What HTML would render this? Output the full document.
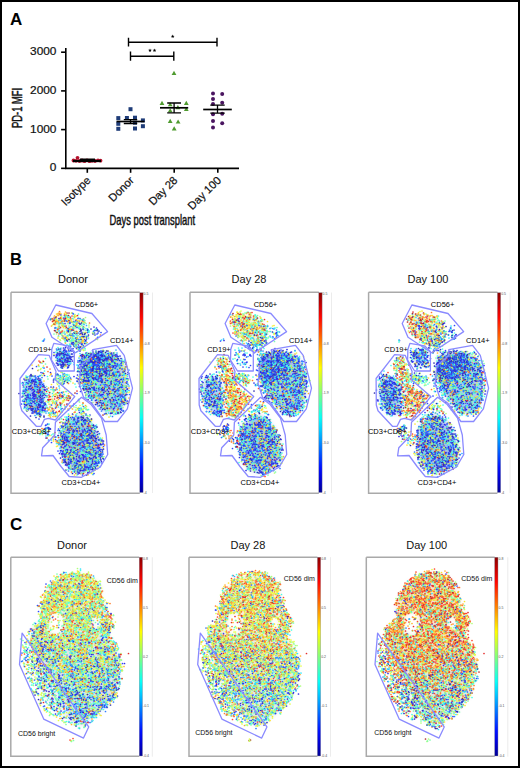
<!DOCTYPE html><html><head><meta charset="utf-8"><style>html,body{margin:0;padding:0;background:#fff;}svg{display:block}text{font-family:"Liberation Sans",sans-serif}</style></head><body><svg width="520" height="768" viewBox="0 0 520 768"><defs><linearGradient id="jet" x1="0" y1="1" x2="0" y2="0"><stop offset="0.000" stop-color="#000093"/><stop offset="0.062" stop-color="#0000d1"/><stop offset="0.125" stop-color="#0010ff"/><stop offset="0.188" stop-color="#004eff"/><stop offset="0.250" stop-color="#008cff"/><stop offset="0.312" stop-color="#00caff"/><stop offset="0.375" stop-color="#08fff6"/><stop offset="0.438" stop-color="#46ffb8"/><stop offset="0.500" stop-color="#84ff7a"/><stop offset="0.562" stop-color="#c2ff3c"/><stop offset="0.625" stop-color="#fffd00"/><stop offset="0.688" stop-color="#ffbf00"/><stop offset="0.750" stop-color="#ff8200"/><stop offset="0.812" stop-color="#ff4400"/><stop offset="0.875" stop-color="#ff0600"/><stop offset="0.938" stop-color="#c70000"/><stop offset="1.000" stop-color="#890000"/></linearGradient><filter id="fb" x="-5%" y="-5%" width="110%" height="110%"><feGaussianBlur stdDeviation="0.5"/></filter><filter id="fu" x="-20%" y="-20%" width="140%" height="140%"><feGaussianBlur stdDeviation="2.2"/></filter></defs><rect width="520" height="768" fill="#fff"/><text x="10" y="24.5" font-size="17" font-weight="bold">A</text><g stroke="#000" stroke-width="1.6" fill="none"><path d="M65.8 48V168.35H239"/><path d="M61.1 52.20H65.8"/><path d="M61.1 90.90H65.8"/><path d="M61.1 129.60H65.8"/><path d="M61.1 168.35H65.8"/><path d="M87.3 168.35V172.8"/><path d="M130.6 168.35V172.8"/><path d="M174.2 168.35V172.8"/><path d="M217.8 168.35V172.8"/></g><text x="0" y="0" font-size="10.5" text-anchor="end" fill="#111" stroke="#111" stroke-width="0.2" transform="translate(56.4 55.10) scale(1.13 1)">3000</text><text x="0" y="0" font-size="10.5" text-anchor="end" fill="#111" stroke="#111" stroke-width="0.2" transform="translate(56.4 93.80) scale(1.13 1)">2000</text><text x="0" y="0" font-size="10.5" text-anchor="end" fill="#111" stroke="#111" stroke-width="0.2" transform="translate(56.4 132.50) scale(1.13 1)">1000</text><text x="0" y="0" font-size="10.5" text-anchor="end" fill="#111" stroke="#111" stroke-width="0.2" transform="translate(56.4 171.25) scale(1.13 1)">0</text><text font-size="11.2" text-anchor="end" fill="#111" stroke="#111" stroke-width="0.2" transform="translate(91.3 181.0) rotate(-45)">Isotype</text><text font-size="11.2" text-anchor="end" fill="#111" stroke="#111" stroke-width="0.2" transform="translate(134.6 181.0) rotate(-45)">Donor</text><text font-size="11.2" text-anchor="end" fill="#111" stroke="#111" stroke-width="0.2" transform="translate(178.2 181.0) rotate(-45)">Day 28</text><text font-size="11.2" text-anchor="end" fill="#111" stroke="#111" stroke-width="0.2" transform="translate(221.8 181.0) rotate(-45)">Day 100</text><text font-size="14" fill="#111" stroke="#111" stroke-width="0.45" transform="translate(109.6 225) scale(0.67 1)">Days post transplant</text><text font-size="14" fill="#111" stroke="#111" stroke-width="0.45" transform="translate(22 128) rotate(-90) scale(0.67 1)">PD-1 MFI</text><g stroke="#000" stroke-width="1.4" fill="none"><path d="M128.5 37.7V46.6M128.5 42.2H217M217 37.7V46.6"/><path d="M130.5 51.4V60.7M130.5 56.2H173.8M173.8 51.4V60.7"/></g><polygon fill="#000" points="172.70,34.60 173.20,35.81 174.51,35.91 173.51,36.76 173.82,38.04 172.70,37.35 171.58,38.04 171.89,36.76 170.89,35.91 172.20,35.81"/><polygon fill="#000" points="150.00,48.50 150.50,49.71 151.81,49.81 150.81,50.66 151.12,51.94 150.00,51.25 148.88,51.94 149.19,50.66 148.19,49.81 149.50,49.71"/><polygon fill="#000" points="154.50,48.50 155.00,49.71 156.31,49.81 155.31,50.66 155.62,51.94 154.50,51.25 153.38,51.94 153.69,50.66 152.69,49.81 154.00,49.71"/><g fill="#b5122d"><circle cx="73.5" cy="160.5" r="1.9"/><circle cx="76.0" cy="160.8" r="1.9"/><circle cx="77.5" cy="157.8" r="1.9"/><circle cx="79.5" cy="161.0" r="1.9"/><circle cx="82.0" cy="160.5" r="1.9"/><circle cx="84.5" cy="161.2" r="1.9"/><circle cx="87.0" cy="160.3" r="1.9"/><circle cx="89.5" cy="161.2" r="1.9"/><circle cx="92.0" cy="160.8" r="1.9"/><circle cx="95.0" cy="161.0" r="1.9"/><circle cx="98.0" cy="160.3" r="1.9"/><circle cx="100.5" cy="160.7" r="1.9"/></g><path d="M73 161H101" stroke="#000" stroke-width="2.2"/><path d="M80 160H95" stroke="#000" stroke-width="3"/><g fill="#1f3c78"><rect x="128.5" y="107.2" width="4" height="4"/><rect x="116.3" y="116.1" width="4" height="4"/><rect x="116.3" y="121.8" width="4" height="4"/><rect x="116.3" y="126.8" width="4" height="4"/><rect x="124.9" y="116.0" width="4" height="4"/><rect x="133.0" y="115.7" width="4" height="4"/><rect x="133.0" y="120.7" width="4" height="4"/><rect x="133.0" y="126.5" width="4" height="4"/><rect x="140.9" y="118.4" width="4" height="4"/><rect x="140.9" y="124.2" width="4" height="4"/></g><g stroke="#000" fill="none"><path stroke-width="1.7" d="M116.5 121.5H144.5"/><path stroke-width="1.3" d="M130.5 119.6V123.5M123.8 119.6H137.2M123.8 123.5H137.2"/></g><g fill="#4f9b2f"><path d="M174.0 70.8l2.4 4.1h-4.8z"/><path d="M162.0 100.8l2.4 4.1h-4.8z"/><path d="M170.2 102.2l2.4 4.1h-4.8z"/><path d="M186.3 100.8l2.4 4.1h-4.8z"/><path d="M177.9 105.1l2.4 4.1h-4.8z"/><path d="M170.2 108.2l2.4 4.1h-4.8z"/><path d="M186.3 107.0l2.4 4.1h-4.8z"/><path d="M170.2 118.8l2.4 4.1h-4.8z"/><path d="M178.1 119.5l2.4 4.1h-4.8z"/><path d="M174.2 126.3l2.4 4.1h-4.8z"/></g><g stroke="#000" fill="none"><path stroke-width="1.7" d="M160.0 107.8H188.2"/><path stroke-width="1.3" d="M174.1 103.0V112.9M167.2 103.0H181.0M167.2 112.9H181.0"/></g><g fill="#4a1560"><circle cx="213.0" cy="93.5" r="2"/><circle cx="213.0" cy="98.9" r="2"/><circle cx="213.0" cy="104.0" r="2"/><circle cx="213.0" cy="114.3" r="2"/><circle cx="213.0" cy="120.9" r="2"/><circle cx="213.0" cy="127.5" r="2"/><circle cx="222.2" cy="94.1" r="2"/><circle cx="222.2" cy="102.8" r="2"/><circle cx="222.2" cy="113.8" r="2"/><circle cx="222.2" cy="123.2" r="2"/></g><g stroke="#000" fill="none"><path stroke-width="1.7" d="M203.2 109.5H231.8"/><path stroke-width="1.3" d="M217.5 105.2V113.2M210.3 105.2H224.7M210.3 113.2H224.7"/></g><text x="10" y="264.6" font-size="16.5" font-weight="bold">B</text><text x="58.0" y="283" font-size="11" fill="#111">Donor</text><path d="M152.5 292.5V493.0" stroke="#ececec" stroke-width="1"/><path d="M11.0 292.2H139.8M11.0 292.2V493.2H139.8" stroke="#a9a9a9" stroke-width="1.5" fill="none"/><g filter="url(#fu)"><polygon fill="#d8e0b0" fill-opacity="0.30" points="54.3,317.7 62.9,315.0 72.4,316.4 80.1,319.3 85.1,324.6 87.1,332.6 84.0,340.8 77.4,344.8 69.3,341.5 61.9,336.7 56.9,330.8 53.8,322.8"/><polygon fill="#3050d0" fill-opacity="0.50" points="56.8,350.3 66.4,351.2 69.4,354.3 70.3,364.5 61.2,364.7 57.9,358.6"/><polygon fill="#5080e0" fill-opacity="0.45" points="82.6,356.5 97.1,353.8 115.6,355.2 124.1,364.3 126.0,380.0 125.8,397.2 121.0,410.0 113.0,413.6 104.2,411.5 89.2,395.0 83.0,383.3 81.5,368.5"/><polygon fill="#2040d0" fill-opacity="0.45" points="84.0,357.1 95.8,354.0 108.1,354.2 111.1,362.5 105.4,371.7 98.0,377.6 88.5,381.8 82.4,374.4 81.9,364.2"/><polygon fill="#4070e0" fill-opacity="0.45" points="25.2,380.9 31.7,377.4 39.8,379.3 43.3,386.5 43.4,399.8 44.0,412.0 38.3,414.6 31.8,410.6 25.8,404.7 24.3,392.7"/><polygon fill="#f0e0c0" fill-opacity="0.20" points="48.8,387.1 57.2,389.4 69.1,396.4 64.3,403.9 56.6,414.5 49.4,414.8 48.9,400.8 47.8,392.3"/><polygon fill="#4070e0" fill-opacity="0.50" points="70.5,419.2 79.2,415.5 87.9,419.4 94.5,428.6 99.1,440.5 101.2,452.2 99.1,462.7 91.4,469.8 81.0,472.5 72.3,469.7 65.6,462.5 62.7,452.1 61.9,440.5 63.8,428.3"/></g><g filter="url(#fb)"><g transform="scale(0.5)" fill="none" stroke-linecap="round" stroke-width="3.40"><path stroke="#2db0ff" d="M117 655zm58 6zm-58 11zm40-6zm-7 15zm7 18zm23 9zm23 2zm2 1zm-81 10zm70 0zm18 3zm6 9zm4-11zm-99 14zm54 5zm-56 13zm79 2zm2-3zm-24 11zm58-1zm-130 15zm75 2zm-131 2zm9 5zm135 5zm-130 8zm2 3zm151-2zm36 3zm-158 11zm19-5zm94 6zm-134 13zm93 47zm-49 4zm37 1zm15-2zm10-1zm22 12zm-19 16zm4 29zm1-5zm-22 11zm20 8z"/><path stroke="#b0ff7c" d="M107 639zm4 1zm2-2zm1 2zm13 2zm37 3zm-15 6zm1 1zm27 9zm-54 1zm16 2zm-18 17zm36 2zm9-9zm29 5zm-58 13zm2 0zm-15 16zm82-8zm-20 16zm33-4zm-94 14zm44 15zm28-3zm27 10zm-100 13zm2 1zm11-2zm62-1zm11 21zm31-5zm-191 16zm57 0zm20-1zm45-4zm58 3zm8-1zm-108 7zm8 4zm113-4zm-163 14zm98-4zm14 7zm24-5zm-10 13zm4 1zm-68 15zm29-3zm35-4zm-90 15zm15-2zm35 7zm-42 6zm11 4zm3 2zm24-2zm1-6zm3 9zm-37 4zm41 0zm9 22zm-61 10zm48-4zm-26 18zm9-4zm11 4zm6-3zm4 2zm6-6zm-34 10zm38 21zm-31 5z"/><path stroke="#2db0ff" d="M139 647zm6 11zm23-9zm7 11zm-39 4zm9 5zm4-4zm-11 27zm20 1zm3 1zm-37 27zm5-10zm104 9zm-77 1zm23 8zm-6 15zm1-9zm7 10zm20-6zm14-2zm0 0zm24-1zm-38 20zm-31 8zm74-6zm-69 19zm5-6zm78 10zm-62 25zm44 5zm-66 8zm-30 14zm-22 19zm7-7zm40 0zm6-1zm3 8zm-31 9zm22 12zm14 3zm-56 10zm4 8zm11 14zm40 1zm-19 37zm23-8z"/><path stroke="#2db0ff" d="M142 653zm16 2zm-6 8zm2 7zm-24 8zm20 16zm-10 8zm66 7zm26-9zm-92 17zm91 1zm-56 9zm32-5zm5 1zm17 5zm-58 12zm20 0zm12-5zm31 8zm11-6zm-165 25zm38 0zm76-1zm-80 18zm113 1zm31-8zm-60 20zm19-6zm-119 14zm124 8zm-135 13zm35-2zm110 9zm-98 11zm14 24zm-5 5zm27 2zm-73 10zm47 12zm5 10zm38 11zm2 26z"/><path stroke="#ff482d" d="M110 649zm15 13zm39 47zm29 11zm4 16zm40 7zm-23 6zm-31 21zm15 6zm-80 10zm80 7zm-58 19zm-50 7zm69 94z"/><path stroke="#7cffb0" d="M123 638zm30 8zm7 13zm11 2zm-42 4zm0-2zm26 16zm7 0zm-39 30zm61-3zm-70 12zm108-6zm1 2zm-21 10zm0 7zm1-8zm16 5zm25 3zm-54 4zm19 1zm1 6zm-98 6zm18 3zm43-1zm-101 16zm49-5zm42-1zm56 2zm-131 11zm0 1zm7 7zm75-5zm25 0zm31-3zm-168 16zm29-1zm100 1zm3 3zm-134 7zm13 3zm18 2zm8-3zm63-3zm1 6zm14-8zm1-1zm22 4zm20-3zm4 2zm-117 17zm101-8zm-144 10zm15 8zm94 2zm43-10zm-47 26zm-41 19zm22 4zm13 0zm20 20zm-40 25zm39-6zm9 7zm3-7zm12 1zm-63 12zm22 16zm-20 5z"/><path stroke="#e42d2d" d="M119 628zm2-1zm46 11zm-52 21zm63 104zm-118 33zm147 0zm-138 29zm41 49zm4 8zm67 23zm-43 9zm8 2zm28 1z"/><path stroke="#ff7c2d" d="M119 638zm23 33zm59-1zm-37 17zm6 36zm43 6zm-36 37zm-64 10zm112 3zm-124 14zm96-1zm54 8zm-153 19zm2 10zm1 5zm76 24zm32 32z"/><path stroke="#2de4ff" d="M167 647zm-4 3zm-29 31zm25 2zm-12 5zm17 0zm-46 12zm3 2zm52 7zm43-2zm5-1zm-92 6zm47 0zm61 1zm-83 17zm2 0zm53-5zm32-3zm3 8zm-121 5zm52 0zm17 7zm24-2zm-82 10zm42 3zm1 1zm5-2zm20-2zm0 1zm21-4zm4 3zm-165 14zm10-6zm44-1zm99 3zm-163 21zm53 6zm28 5zm48-11zm2 8zm21-4zm3 0zm2 6zm-156 9zm21-5zm48 2zm12 0zm104 2zm2-4zm-186 14zm26 6zm6-4zm9 5zm48-4zm85 0zm-154 14zm24 0zm8-2zm2 3zm57-6zm52 5zm16-2zm-82 16zm-53 8zm33-4zm4 6zm2-5zm42-1zm-89 19zm74-5zm14-3zm2 1zm-62 10zm42 8zm1 1zm-46 12zm63 14zm1-7zm8 16zm18-7zm-54 26zm21 11z"/><path stroke="#7cffb0" d="M157 635zm-19 17zm19 19zm-20 6zm14 0zm15 13zm0 1zm-29 15zm56-1zm-22 10zm9-1zm31 1zm2-2zm-101 8zm17 9zm35-2zm19-6zm0 7zm3 0zm7-5zm25 2zm23 0zm-57 12zm5 0zm2-3zm40 2zm4 0zm-104 19zm56-8zm11-1zm50 2zm-187 11zm12 4zm0-4zm102 1zm36 6zm1-6zm-157 19zm29 1zm9-8zm13 7zm77-10zm19 9zm28-1zm-139 12zm45 2zm62-2zm35-8zm10 2zm-185 17zm17-5zm10-2zm95 2zm29 6zm2-9zm-91 16zm2 0zm49 6zm-119 5zm21 1zm89 6zm4-7zm60 5zm21-2zm-124 14zm26-2zm15-4zm-66 18zm65-1zm19-4zm-47 10zm17 0zm18 12zm-45 19zm13 4zm16-6zm1 5zm11-8zm35 4zm-48 9zm12 3zm14 1zm-17 16zm6-7zm6 0zm15 6zm-6 8zm8-1zm8 0zm-61 10zm15 15z"/><path stroke="#ffe42d" d="M121 627zm28 8zm-37 3zm6 8zm3-2zm-5 16zm24 0zm1 21zm14-5zm-15 41zm27 1zm63 9zm-105 18zm47 3zm2 4zm4-6zm67 0zm5 9zm-185 11zm81 0zm70-3zm-32 10zm-80 25zm23 4zm66-7zm10 3zm37 5zm-135 4zm-1 11zm35 13zm26 5zm15 5zm38-7zm-82 32zm-29 16zm68 20zm-35 24zm18 7zm1-7zm6-1zm-15 17z"/><path stroke="#b02d2d" d="M104 637zm33-6zm-28 10zm30 19zm-12 96zm-2 12zm-15 25zm3 9zm-31 3zm102 61z"/><path stroke="#ff7c2d" d="M111 641zm58 0zm-42 9zm-3 14zm10 0zm9 24zm27 41zm36-6zm-106 15zm138-5zm-113 33zm-16 14zm12 9zm88-4zm18 0zm30 19zm-146 4zm122 4zm-122 21zm16 48zm64 8zm7 1zm1 19zm3-4zm-77 15z"/><path stroke="#e4ff48" d="M124 649zm23-4zm20-1zm-48 8zm20 5zm-5 9zm8 2zm43-2zm-51 9zm25 38zm26-4zm52 11zm-21 11zm11-6zm1 3zm-54 14zm20-1zm17-4zm33-2zm-144 16zm71 5zm50-4zm-90 10zm25-2zm57 7zm-26 10zm1-1zm-80 13zm29-2zm54 6zm29-5zm-133 10zm5 5zm15-1zm30-9zm74 1zm-161 13zm48 10zm57 0zm38-12zm-87 23zm50-9zm-16 17zm1 2zm-11 15zm9-8zm-7 20zm24 10zm43 2zm-12 5zm-52 8zm-8 12zm46 1zm-28 13zm31-1zm-15 11z"/><path stroke="#ff7c2d" d="M126 647zm33-5zm-48 21zm11 43zm59 1zm-6 6zm-99 28zm20 2zm96 1zm34-7zm-98 12zm91 8zm19 3zm-71 19zm38 1zm-88 6zm135 2zm-154 7zm2 19zm29-4zm77-3zm20-1zm-51 34zm-87 18zm3 5zm56-2zm-55 5zm29-1zm25 45zm32 6zm15 6z"/><path stroke="#2de4ff" d="M111 644zm0 11zm28 0zm55 4zm-60 2zm14 4zm0 1zm28-4zm2 0zm-35 18zm18-4zm16 1zm-36 16zm26 16zm8-2zm-54 11zm52-8zm14 10zm1-1zm30-7zm7-1zm-141 15zm40-3zm24 6zm34-5zm19 19zm12-7zm-145 17zm71 0zm51 1zm40-1zm-176 14zm28-8zm57 2zm67 8zm2-5zm48-5zm-89 17zm7-3zm18 6zm11-9zm18 3zm5 7zm11-4zm-190 12zm71-1zm115-5zm-175 20zm68-7zm120 0zm-129 19zm91-3zm0 4zm2 2zm26-11zm-152 18zm20 1zm116-8zm-125 32zm60-1zm16-5zm-50 14zm58 2zm7-5zm-94 18zm1-6zm13 2zm47 4zm2-2zm4 5zm3-8zm-39 18zm56-6zm5-1zm-20 32zm15-4zm12 15zm-43 4zm8 13z"/><path stroke="#2d7cff" d="M110 636zm34-10zm-21 20zm52 12zm-25 6zm17 11zm-29 18zm9-8zm-34 13zm88 11zm-73 6zm50-2zm14 6zm9-3zm0-5zm29 6zm-34 13zm53-6zm-114 12zm34 5zm21 1zm5-8zm26 6zm-167 15zm17 0zm90-7zm19 0zm3-1zm5 7zm18-7zm49 2zm-210 16zm11-6zm7 6zm63 4zm41-6zm11-5zm20 5zm49-3zm-190 19zm141-3zm11-6zm18 4zm3 1zm-176 16zm10-10zm139 3zm4 1zm-152 15zm166 1zm4-6zm-147 15zm13 6zm68 1zm64-4zm6 1zm15-7zm-188 11zm24 9zm83-9zm-20 20zm20 0zm13-1zm-28 11zm17 2zm-69 16zm29 8zm6-4zm25-4zm-19 16zm1 4zm63-8zm-78 23zm14-12zm-16 15zm19 6zm51-3zm-40 17zm21-4zm12-3zm-36 13zm7 3zm3-2zm27-4zm1 8zm-49 7z"/><path stroke="#ffe42d" d="M113 628zm9 6zm-12 14zm31-10zm-24 15zm10 0zm45 12zm-27 12zm1 5zm12-1zm34-4zm-4 30zm19-6zm13 3zm-13 13zm5-1zm12 0zm6-6zm-97 22zm30-6zm4 1zm27-4zm28 15zm10 9zm-155 10zm11 5zm137 7zm11-10zm-131 17zm115 9zm24 16zm-87 15zm-58 3zm49 6zm30 15zm-44 6zm3 2zm2 29zm2-8zm-34 10zm13 9zm3-10zm26 20zm56 17zm-55 15zm1 11zm7 1zm18 8z"/><path stroke="#ff482d" d="M149 633zm-31 14zm48-5zm-29 17zm3 10zm40 38zm-102 15zm107 0zm39 18zm-122 8zm70-2zm16 3zm12 5zm-10 12zm-91 27zm10 5zm23 58zm12-1zm11 6zm22 9zm-60 16zm69 18z"/><path stroke="#2d7cff" d="M130 633zm-11 33zm23 5zm21 2zm-22 18zm44 27zm1-4zm32 6zm2-7zm-94 14zm53-2zm5-3zm25 1zm7 0zm11 9zm-43 8zm1 4zm15 0zm27-6zm1 6zm3-7zm1-3zm3 5zm-151 16zm86-1zm23-6zm54 8zm-86 9zm24 15zm39-7zm23 6zm-190 12zm25-3zm147-4zm24-1zm6 6zm-205 16zm170-9zm14 2zm13 1zm-55 13zm-133 9zm184 0zm-99 14zm77-2zm-89 11zm1 0zm-37 13zm27 6zm66-9zm-59 29zm14-2zm7 29zm5-8zm-30 12zm10 7zm32-3zm27 6zm2-5zm-62 7zm10 16z"/><path stroke="#2d48ff" d="M146 627zm-2 17zm-25 12zm48 3zm-22 9zm-19 6zm44 9zm2-1zm-31 11zm25 2zm-7 3zm39 5zm6 1zm-92 10zm2-2zm5-1zm7 2zm37 3zm9 2zm17-3zm11 1zm0 0zm3 3zm21-9zm10 4zm-99 8zm6 1zm24 6zm5-2zm11-2zm6 4zm0 1zm12-2zm2-3zm1 4zm14-2zm3 0zm7 5zm9 0zm11-9zm-119 10zm32 3zm17 9zm24-2zm12 0zm9-8zm1 0zm-154 17zm12-1zm38 6zm52-11zm5-1zm2 2zm10 2zm4-4zm4 6zm2-5zm9 1zm13 5zm6 0zm2 1zm-162 6zm3 2zm40-3zm70 2zm19 0zm14 9zm19-10zm-149 16zm1-3zm95-1zm27 4zm27-6zm1 11zm-174 13zm20-1zm2-10zm9 5zm155-2zm3 1zm-203 8zm4 9zm17-6zm9 0zm6-3zm129 4zm34 0zm-20 9zm4 3zm-137 12zm34-5zm48 11zm51-2zm-86 15zm27-8zm9 4zm0-1zm-78 12zm29 5zm8-5zm9 4zm15-7zm-58 11zm19 2zm40-3zm18 7zm12-8zm-59 12zm10 7zm8-5zm7 5zm22-8zm-25 20zm12 1zm1-4zm4 4zm18 0zm-40 11zm14-8zm2 2zm31-1zm-59 15zm11 4zm7-6zm40-1zm-50 20zm30-9zm19 9zm-59 8zm11-4zm7 18zm0 0zm12-3zm25 1zm-21 8z"/><path stroke="#2d7cff" d="M131 634zm3-3zm-25 8zm9 2zm12 0zm17 8zm-7 41zm45 11zm17 3zm3 4zm1 1zm1-1zm-79 6zm13-1zm39 0zm28-2zm5 10zm7-4zm9-2zm-93 13zm44-2zm9-2zm9 4zm16 2zm32-5zm-76 11zm7 4zm29 0zm-17 8zm1 8zm30-1zm5-6zm-149 16zm55-6zm24-2zm21 5zm0 1zm40-2zm-152 13zm140 5zm39-6zm-158 16zm152-7zm17 7zm-201 14zm15 13zm126-7zm-125 11zm8 5zm34 0zm46-8zm74 10zm-103 36zm27 1zm4-4zm1-4zm4 3zm-71 7zm24 5zm28-5zm3-1zm13 11zm18 1zm10-6zm2 2zm-62 14zm17 1zm-25 6zm35-3zm6 7zm13-7zm-40 12zm-9 21zm15-6zm26 0zm34-4zm-52 21zm25-2zm18-3z"/><path stroke="#b0ff7c" d="M131 632zm4 1zm36 2zm-47 16zm-9 13zm9 12zm53-1zm-15 25zm17 12zm17 11zm27 6zm-59 12zm0-6zm1 7zm39-8zm14 1zm-152 16zm155 4zm1-9zm-166 12zm21 10zm48-1zm4-5zm99 0zm4 5zm6 2zm-160 5zm124 1zm22-1zm20-4zm-164 22zm51-9zm91-1zm-89 16zm25 4zm55 1zm8-4zm13 2zm-175 13zm51-8zm117 4zm3-4zm-126 21zm119-3zm6-1zm2 2zm-134 6zm17 2zm41 12zm18-1zm-47 10zm7 2zm19 0zm3 2zm-29 19zm-8 11zm26 11zm14-8zm22 6zm-47 13zm10-9zm0 7zm56-3zm-22 16zm31-8zm-45 19zm9 5z"/><path stroke="#ffb02d" d="M129 635zm8 9zm16-4zm11 2zm-18 13zm-7 7zm-5 17zm1-1zm3 1zm7-3zm7 8zm10 9zm20 24zm-9 11zm-51 16zm69-5zm-30 28zm27-2zm19-7zm-152 23zm136-12zm40 10zm9-10zm-129 19zm25 3zm83-1zm10-6zm-5 16zm-122 22zm6-2zm27 26zm-12 45zm36 38zm-10 9zm12-1z"/><path stroke="#e42d2d" d="M121 655zm16 2zm-2 67zm89 29zm-136 26zm66 3zm37 2zm-54 17zm-61 14zm51 24zm10 3zm40 10zm-49 60zm24 35z"/><path stroke="#ffb02d" d="M112 642zm8-4zm2-1zm14 21zm3 2zm12 8zm37 1zm-54 7zm19 1zm21 8zm6 60zm27 3zm-2 28zm-85 12zm101-5zm12 10zm-127 12zm83-11zm-76 19zm11-7zm101 14zm10-2zm-102 42zm-37 11zm29 9zm48 7zm-23 20zm50 2zm-31 15zm0 16z"/><path stroke="#e42d2d" d="M148 650zm34 72zm-25 36zm16 6zm59-4zm-167 15zm135 0zm-107 8zm5 7zm28 3zm3 7zm64 5zm-83 60zm47 24zm-33 6zm12 34zm23-3zm16 22z"/><path stroke="#ff7c2d" d="M119 629zm17 6zm-14 4zm13 4zm17-3zm1 6zm16-1zm-51 23zm52-2zm-20 22zm6 0zm15-1zm17 52zm31 3zm2-7zm-33 29zm41 5zm-102 15zm58 8zm-44 2zm69 17zm-111 16zm10 1zm40 10zm-65 19zm8 0zm82 61z"/><path stroke="#48ffe4" d="M134 640zm17 4zm-30 23zm15 5zm31 1zm3-6zm-8 16zm-40 13zm17-8zm-20 12zm10 0zm0 1zm19 2zm11-4zm49 3zm-92 13zm8-3zm1 2zm0 4zm12-7zm24 9zm6-10zm12 3zm1 7zm15 0zm1-1zm4-7zm5-2zm2 6zm-69 12zm31 5zm44-10zm36-2zm-78 22zm33-3zm16 0zm11 4zm19-6zm-198 14zm4 1zm7 3zm8 0zm45-7zm10 3zm49-1zm38 0zm2 4zm21-8zm14 3zm-174 14zm41 0zm7-6zm8 4zm2-5zm8 1zm25 3zm9 3zm9 0zm3-1zm0-3zm15 2zm21 5zm12-2zm-160 12zm101-2zm0 4zm51 1zm11-9zm-157 19zm25-8zm26 1zm38-2zm20 6zm58 2zm-194 15zm1 1zm8-6zm14-4zm105-1zm28 8zm0 1zm23-6zm1 5zm4 2zm10-10zm1 7zm-179 10zm10 1zm12-1zm116 3zm39-5zm-179 11zm130-2zm29 11zm11-2zm-109 7zm10 6zm35-9zm6 9zm-41 12zm4-7zm16 4zm6-7zm19 8zm-93 9zm39-6zm52 8zm-80 9zm33 1zm14-1zm10 6zm3-3zm5-6zm-10 21zm13-9zm7-1zm18 19zm-59 12zm7-6zm19 4zm1-4zm13-2zm24 2zm-40 21zm35-10zm-71 12zm35 3zm19 5zm4 0zm-36 6z"/><path stroke="#2de4ff" d="M113 656zm45 1zm14 16zm-87 9zm45-5zm20 7zm46-10zm-72 30zm67 5zm11-2zm11 2zm5-3zm3 2zm-96 11zm4-9zm2 5zm5-4zm42 9zm7-1zm0-9zm23 6zm36 2zm-71 4zm27 7zm2-2zm6 2zm15 0zm6-7zm2 1zm-64 13zm44 7zm-157 11zm23-1zm2-1zm132 1zm24-5zm-178 20zm4-9zm0 5zm77-4zm24 12zm27 6zm-141 12zm26 3zm14-10zm102 9zm-141 10zm20 3zm102-11zm-123 13zm23 3zm16-3zm4 0zm18-1zm-7 20zm123-2zm-85 25zm-8 5zm-46 12zm61 0zm26 10zm4-6zm-2 17zm4 1zm16-1zm-75 10zm78 3zm-67 3zm73 10zm-9 15zm4-2zm-61 12zm53-1z"/><path stroke="#2d48ff" d="M130 635zm30 2zm-24 59zm28-10zm-29 21zm57-1zm5 2zm-77 11zm8-4zm45-2zm13-1zm7 2zm4 0zm6-2zm1 7zm15 0zm-101 9zm4-6zm13 2zm22 8zm2-10zm4 6zm10 1zm1-2zm16-3zm4 5zm6-5zm26 0zm16 3zm1 4zm-71 13zm7-3zm0-2zm3 0zm11-4zm4-2zm5 6zm3 2zm2-5zm6 0zm-160 19zm7 1zm11-4zm5 1zm28-1zm11-4zm14 4zm12 4zm25-7zm24-2zm6 7zm10-8zm21-1zm9 9zm-161 6zm5 2zm1-1zm50-1zm43 5zm2-3zm2 0zm5 5zm57-2zm2-7zm-184 15zm14 0zm116 2zm32 3zm26 1zm-199 5zm13 5zm21 2zm10 0zm63-4zm7-4zm16 3zm76 3zm-185 8zm1 0zm11 7zm6-8zm113 1zm56 5zm-205 7zm1 1zm20 5zm158 1zm3-4zm3-5zm5 5zm-168 9zm17 0zm111-3zm-122 20zm59-5zm-42 23zm55 4zm17 2zm23 0zm-67 8zm9-5zm13 12zm37-2zm-71 4zm16 7zm8-3zm6-3zm1 5zm23-3zm12-3zm2 9zm4-5zm18-2zm-35 19zm14-3zm27-4zm-77 15zm17-6zm2 4zm20 6zm10-10zm13 8zm2-6zm12 4zm-79 11zm10 5zm0-6zm7 5zm12-1zm34 0zm-49 13zm15-1zm5-2zm5 3zm11 6zm11 6z"/><path stroke="#48ffe4" d="M131 630zm17 3zm-47 4zm44 0zm-27 23zm49-2zm-46 10zm57-6zm-37 20zm29 2zm-30 7zm-21 16zm59 1zm-8 4zm12 5zm4 1zm1-5zm4 7zm3-11zm20 5zm7 3zm15 1zm-94 8zm28 2zm10 2zm37-1zm0-4zm-36 18zm9-7zm26-1zm-81 16zm1 4zm35-7zm5 8zm1-6zm24 1zm1 4zm5-4zm42-4zm-123 11zm10 4zm48 1zm6 0zm37-3zm16 6zm-183 3zm42 10zm83-3zm1-4zm11 3zm5 2zm9 3zm4-5zm21 2zm14-3zm-203 11zm47 2zm11 6zm20-9zm63-1zm6 8zm34-1zm6-7zm4 8zm-180 10zm38 3zm88-3zm1-3zm6-3zm17 7zm15-9zm8 12zm1-10zm15 2zm1 7zm-175 4zm79 3zm68 1zm6 3zm-143 10zm75-7zm82 0zm-106 23zm14-3zm-51 18zm29 1zm59 5zm4 1zm-61 14zm18-3zm23-4zm4 19zm4 0zm18-2zm-36 6zm11-1zm-34 18zm-4 7zm58 3zm3-4zm6 9zm8-7zm-57 16zm14-2zm19 0zm-9 7z"/><path stroke="#e4ff48" d="M133 629zm-22 10zm23-1zm-14 41zm49 16zm-61 14zm10-1zm92 6zm-6 24zm44 6zm-163 7zm139-5zm1 6zm-58 14zm10-1zm46 3zm-51 3zm69 1zm8 0zm-181 21zm155-5zm19-3zm17-1zm-145 17zm1-6zm12 2zm67-1zm14 5zm28-1zm16-1zm-43 14zm-88 12zm32-5zm19-3zm-1 22zm-14 14zm-2 7zm-37 22zm10 5zm36-1zm27-5zm-34 15zm18-7z"/><path stroke="#48ffe4" d="M135 634zm19 13zm-27 3zm4 1zm-5 15zm20 4zm5-1zm21 3zm15-10zm-56 21zm8-1zm6-2zm1-3zm10 6zm0-5zm-22 11zm31 7zm5 1zm3-10zm-59 18zm39-1zm21 1zm-83 12zm30-1zm14 2zm36 1zm22-10zm26 6zm3 0zm1-3zm7 3zm-102 7zm1 10zm7-6zm4-5zm26 10zm5-1zm19 1zm7 1zm31-5zm7 5zm-76 12zm5-8zm13 1zm16 3zm0 0zm5 1zm7 1zm22-5zm-164 15zm50-3zm6 2zm61-1zm17 3zm21 0zm8 2zm8-5zm2 5zm0-5zm9 0zm10 3zm-205 11zm25-3zm2 1zm37-5zm36 11zm18-5zm16 5zm9-2zm37-3zm-183 16zm6 0zm122-7zm18 0zm10 3zm4 0zm11-5zm-118 15zm83 8zm9-5zm22-2zm-168 14zm14 4zm10-4zm37 2zm5 1zm70-10zm20 1zm0 11zm44-10zm-173 11zm0 10zm11-1zm17-6zm19-2zm2 6zm-45 15zm1-9zm155 8zm5-3zm-136 6zm17 9zm15-4zm18-6zm14 6zm27 15zm-101 12zm6-2zm25 5zm-10 9zm5 1zm20-4zm19 6zm16-2zm3 1zm25 0zm-85 6zm4 1zm22 1zm4 0zm-23 7zm11 10zm65-5zm-73 8zm24-1zm26 1zm10 3zm1 4zm10 1zm3-4zm-56 13zm17-3zm16 0zm4 0zm-42 11zm50 2zm-22 13z"/><path stroke="#2d2db0" d="M152 652zm-15 11zm28 6zm4 0zm1-2zm1 14zm-24 9zm14 4zm6-2zm-46 6zm23 3zm29 6zm4 0zm9-3zm5 3zm12 1zm-78 10zm13 2zm58-6zm16 4zm-74 13zm1-10zm33 4zm2 7zm13-11zm0 10zm16-6zm2-2zm25 0zm-72 20zm10 1zm16-10zm1 3zm2-4zm12 1zm5 3zm0 1zm3 3zm16-1zm24 2zm4-8zm-191 18zm2-3zm104-4zm7 3zm1 4zm2 4zm24-8zm7-1zm10 2zm4 2zm-157 15zm108-5zm0 7zm33-8zm31 7zm-183 7zm8 4zm121-6zm3-2zm14 5zm17-3zm9 8zm3-8zm1 6zm7-1zm4 0zm15 1zm-58 13zm14-9zm8 5zm4 0zm-170 7zm28 1zm43-1zm52 5zm12-5zm50 5zm9 4zm-184 9zm23 4zm0-3zm109-8zm11 2zm17 8zm-169 7zm23-3zm2 10zm157-4zm-148 9zm45 7zm33-7zm9 2zm-50 15zm32-9zm7 6zm19 3zm-64 10zm13-6zm7 5zm0-4zm4 2zm33 2zm7 3zm2-9zm-62 14zm9 5zm4 1zm41 1zm-54 8zm5 4zm22-5zm26 4zm0-6zm1 5zm9-5zm18 2zm-83 19zm14-2zm34-10zm1 7zm25 0zm-67 14zm7-8zm3 5zm8-1zm49 0zm6 2zm-24 15zm5-6zm15 7zm9-7zm-74 12zm21-2zm17 1zm9 6zm3-2zm6 2zm2 0zm5-3zm-63 9zm27 2zm10-2zm7 6z"/><path stroke="#2d2de4" d="M118 637zm77 22zm2 4zm-62 19zm34-3zm-55 21zm14 5zm2-7zm3 5zm8-2zm43 7zm2 0zm0-1zm8 1zm-79 2zm4 10zm22-2zm2 1zm23-8zm4 4zm4-2zm6 7zm10-10zm1 6zm3 0zm2 2zm1-7zm1 7zm3-7zm3 7zm0 2zm11-6zm7 3zm15 1zm-109 11zm1-8zm2 10zm6-9zm29 8zm1-8zm15 2zm6 2zm2 0zm0-3zm7 1zm14 7zm1-9zm-90 12zm49 6zm7-5zm5 6zm5-3zm4 5zm6-6zm0-2zm1 8zm15 1zm2 1zm3-1zm-130 7zm87-1zm3 5zm7-8zm7 5zm5 4zm5-5zm24-2zm13 1zm-71 15zm62-6zm14 4zm-194 16zm12-2zm18-7zm21 4zm57-1zm44 4zm-134 6zm17 2zm93 5zm49-2zm21 4zm-177 2zm2 3zm6 1zm136 6zm11-2zm-177 12zm11-3zm2-4zm12 10zm3-5zm33 4zm2-10zm-50 14zm142-1zm0-1zm16 9zm6-7zm15 5zm-89 23zm24-2zm-50 11zm0-4zm8 5zm0 2zm38 4zm2 0zm6-10zm2 4zm6 6zm-97 12zm31-5zm26 1zm10 1zm7-8zm12 9zm1-4zm4 2zm2 4zm3-1zm-66 4zm12 6zm23-7zm3 2zm24 6zm7-3zm-68 9zm25 2zm3-3zm32 7zm2-3zm1 6zm13 0zm-80 6zm14 0zm16-1zm23 3zm-12 5zm7 7zm1-7zm1 0zm3 2zm1 4zm12 3zm-57 2zm9 9zm12-9zm5 9zm0-7zm0 9zm5-7zm8 7zm9-1zm-21 7zm2-4zm9 1zm7-1zm22-1z"/><path stroke="#2d7cff" d="M147 628zm-28 26zm76 7zm-107 19zm77 1zm-32 22zm69 4zm0-1zm-78 12zm57-8zm-41 18zm74-4zm2 2zm-44 18zm-35 12zm50-5zm24 2zm2-7zm41 11zm4-10zm-175 19zm39 0zm33-3zm11-4zm11 3zm0 0zm27-4zm1 7zm22-4zm2 5zm3-7zm21-2zm-202 21zm0-9zm29 2zm3 1zm-37 10zm19 4zm11 1zm2-4zm176 1zm-209 18zm9-1zm3-5zm21 4zm62-5zm65 6zm0-8zm-145 15zm8 7zm13-4zm122 1zm22-3zm27-2zm-177 20zm62-7zm21 1zm9 2zm36-1zm-38 11zm-33 16zm11 4zm15-7zm0-4zm1 5zm5 0zm4-2zm-30 17zm31-4zm-47 8zm10 7zm55-7zm12 1zm-79 19zm12-5zm2-2zm2 1zm17 7zm26-2zm-43 23zm10-6zm12 14zm-4 13zm13 5zm15 11z"/><path stroke="#2d2de4" d="M140 634zm0 12zm15-3zm3 3zm2 2zm33 8zm-72 10zm20 1zm5 30zm23-10zm-54 21zm9 0zm3-5zm33-1zm41 3zm-93 6zm12 7zm20-2zm29-4zm1 3zm7 3zm6-4zm10 4zm2-8zm4 8zm2 3zm0-2zm2-10zm13 10zm4 1zm9-1zm-148 6zm34 5zm2-9zm4 1zm3 3zm1 4zm34-8zm1 8zm6 1zm4-3zm5 0zm12-2zm7 7zm0-8zm5 2zm8 4zm4-2zm-47 5zm1 3zm10-1zm4 0zm0 5zm3-4zm3 5zm1-2zm20-6zm4 4zm7 5zm3-8zm6 1zm-164 16zm86 2zm14-2zm4-6zm23 9zm13-5zm3 1zm2-1zm3-3zm22 3zm-174 11zm4 7zm7-1zm9-5zm2 7zm92 0zm16-8zm33 3zm1 5zm16-1zm9-7zm9-2zm-209 16zm22 6zm7-1zm13 0zm5-1zm72-1zm11 1zm32 2zm0-3zm9-1zm1-5zm24 4zm-178 12zm5 3zm5 1zm7-5zm119 5zm3-2zm2 0zm29-2zm9 5zm6-9zm-201 16zm18-6zm131 9zm23 0zm29-2zm-169 10zm8 0zm1-4zm117 0zm29 10zm-170 10zm2-3zm5 1zm168-6zm2 2zm-163 10zm68 8zm1 0zm8-2zm6 4zm2-1zm5 0zm10-9zm-55 21zm14 14zm0-10zm9 6zm6 0zm11 1zm17-2zm7 2zm5 2zm-59 12zm57-4zm-65 12zm7-6zm30 6zm5-3zm32 6zm-79 2zm16 2zm2 0zm52 4zm0-5zm5 7zm-72 14zm4 1zm3 0zm0-11zm16 3zm14 7zm7-9zm21 9zm7-7zm4-1zm2 5zm1 4zm-56 4zm5 2zm16 13zm35-5zm-48 19zm15-5zm6-2zm0 2z"/><path stroke="#7cffb0" d="M120 640zm36 2zm16 5zm-64 21zm45 11zm-38 26zm106 10zm6 1zm-65 6zm3 7zm7 1zm9 0zm1-3zm28-4zm7 1zm8 2zm8-4zm-67 14zm47 8zm4 0zm-93 1zm14 11zm33-3zm10 3zm59 1zm1-1zm-172 6zm105 6zm16-5zm35 0zm8 2zm23-5zm-88 14zm2 3zm4 2zm24-6zm46 7zm-199 6zm30 2zm4 1zm18-7zm18 9zm64-4zm12-5zm26 8zm-120 14zm115-11zm1 12zm3-12zm-62 34zm7-7zm75-1zm-74 31zm-71 7zm70 1zm18 2zm-37 31zm6 9zm-21 10zm36 1zm9-4zm-16 7zm40 7zm-50 4zm19 5zm-12 16zm2-7zm-1 11z"/><path stroke="#e4ff48" d="M143 626zm-6 13zm1 3zm-20 13zm23 2zm12-7zm1 13zm42-1zm-48 19zm19-1zm-1 34zm35 4zm30 0zm3-1zm-15 13zm27-1zm8 4zm-61 7zm10 4zm44-7zm-136 10zm104 9zm-93 3zm12 6zm39-5zm25 0zm-86 30zm73-7zm-64 12zm1 13zm120-3zm-76 13zm2-1zm-42 33zm23 10zm11-5zm-55 19zm2 2zm74-8zm6-1zm18 9zm-82 9zm-10 8zm9-3zm13 5zm15-3zm3 6zm19 1zm-30 8zm-9 18zm0-5zm36-4zm-28 16zm13 0zm9-2zm21-2z"/><path stroke="#2d2db0" d="M166 658zm28 3zm-45 4zm28 5zm-4 8zm-30 8zm5 6zm4-2zm8-4zm-40 23zm4-4zm1 1zm2 1zm5 1zm5-8zm36 8zm21-1zm-79 14zm2-1zm17-9zm31-2zm13 6zm2 4zm7-9zm4 7zm10 4zm11-4zm1-1zm19 3zm-115 11zm6 0zm39 3zm1-9zm7-1zm2 8zm2 1zm10-9zm0 6zm6 1zm15-8zm13 10zm26-7zm8 8zm-71 7zm2 4zm3-9zm20 6zm4 3zm1-1zm45 2zm-192 7zm108-5zm14 0zm1 6zm41-2zm23-4zm-201 13zm6 6zm7-5zm9 4zm95-1zm6-3zm5 1zm8 5zm15-5zm41-3zm-167 15zm13-2zm80 8zm4-3zm-134 10zm14-3zm29-1zm5 8zm86-1zm2-8zm28 2zm27 0zm-173 11zm1 5zm3-5zm10 7zm154-7zm-165 16zm75-3zm80 8zm-140 11zm161-6zm-147 11zm49 7zm10 3zm17 6zm2 5zm3 11zm9-8zm16-2zm2 9zm-74 7zm6-1zm5 6zm15-2zm19-1zm16-5zm3 4zm3-3zm-68 12zm53 6zm1-5zm5 5zm13 0zm-65 10zm45 3zm34-1zm-80 4zm14 9zm25-1zm34 1zm-63 8zm5 4zm1-4zm4-5zm3 11zm8-3zm27-2zm3 5zm-36 6zm20 4zm5 1zm-19 10zm4-5z"/><path stroke="#48ffe4" d="M146 648zm-2 12zm6-8zm3 16zm-23 16zm11-1zm4-2zm10 5zm-22 21zm79-1zm-84 4zm1 3zm0-1zm48 5zm12 0zm6 2zm19-4zm35 5zm-85 5zm9 1zm9 6zm3-2zm2-2zm1 0zm19-1zm0-2zm14 5zm2-2zm3-3zm-60 17zm5-1zm35 1zm11-8zm11 10zm-102 9zm9-4zm25 0zm56-2zm1-2zm31 6zm5 0zm-195 13zm11-2zm4-1zm55 4zm38 9zm18 6zm52-3zm5 0zm-166 4zm9 7zm15 0zm76 1zm5-5zm1 4zm33-1zm33-6zm-190 18zm74-3zm66 4zm31 4zm-178 11zm30-8zm41 9zm48 0zm32-11zm4 11zm-157 1zm31 7zm31 3zm67-8zm32-1zm3 4zm4-1zm-135 13zm0-2zm31-1zm64 9zm-34 5zm14 2zm-69 14zm37 0zm25-7zm13 2zm-82 13zm17 0zm57-1zm3 6zm5 3zm9-11zm3 3zm-61 18zm37-6zm12 1zm40-4zm-70 18zm25 2zm12-7zm6 5zm5 0zm-27 9zm10-3zm24 1zm11 8zm-40 25zm23-9zm19 6z"/><path stroke="#b02d2d" d="M107 641zm31 0zm107 130zm-173 21zm-2 30zm136 8zm-112 46zm50-4z"/><path stroke="#ffb02d" d="M107 643zm35-3zm-39 12zm51 32zm-23 2zm49 54zm6 13zm40-2zm-84 8zm35 7zm7 1zm1-4zm-88 13zm161 0zm-141 23zm-21 21zm40-2zm32 7zm-62 8zm77 5zm-105 25zm69 0zm11-1zm0 43zm-22 9zm33 10z"/><path stroke="#e4ff48" d="M104 639zm40 4zm6 7zm-13 20zm10-9zm5 24zm15 16zm7 6zm40-6zm1 10zm-1 19zm10-6zm-142 13zm80-1zm6 1zm10-1zm44 4zm-89 13zm57-3zm20 5zm8 2zm-104 3zm1 9zm74-4zm13 0zm8-4zm30 17zm-156 7zm172 0zm-152 18zm25-2zm1 16zm-30 16zm43 0zm37 7zm-60 14zm17 4zm12 7zm12 2zm9 9zm-31 14zm26 2zm-29 11zm1 6zm14-6zm29-2zm-34 20zm13-4zm37-1zm-36 18zm-16 3zm40 9zm1-8z"/><path stroke="#2d2de4" d="M147 643zm13 5zm-15 12zm3-10zm-2 22zm40-4zm-13 6zm-52 32zm7-6zm44 6zm25 1zm2-4zm24 3zm-98 11zm9 0zm3-7zm6 4zm23 4zm3-4zm9-2zm2 3zm4-1zm2 1zm2-2zm2 2zm5 6zm4-1zm33-11zm2 3zm6 0zm-101 11zm17 1zm5 9zm15-7zm2-1zm10 1zm9 5zm9 0zm17-8zm7 8zm3 1zm6-11zm1 10zm-77 10zm5-1zm7-6zm1 0zm6 10zm9 0zm4-6zm13 6zm4-7zm-135 19zm24-11zm54 5zm47 6zm1-4zm11-5zm5 1zm14 4zm12-2zm-199 16zm32 2zm2-10zm54 2zm20 2zm21 0zm3-2zm14-1zm4-1zm0 4zm15-5zm1 4zm22 6zm-181 11zm17-3zm6 5zm9-11zm4 11zm1-5zm17-1zm81 0zm47-5zm-174 22zm12-7zm11 1zm10 7zm108-2zm49-9zm-198 19zm16-7zm9 0zm6 5zm0 5zm107-2zm33 4zm10 0zm17-4zm-181 6zm9 2zm125 0zm3 0zm6 3zm9 1zm18-5zm-174 10zm11 1zm5-1zm8-1zm39 1zm27 16zm14 6zm-78 10zm38-4zm0 4zm4-3zm5 6zm28-11zm-77 15zm51 3zm38 1zm-54 14zm22-10zm4 6zm10-1zm15 1zm-44 9zm27 8zm12-7zm3 1zm6 5zm12-7zm1 6zm6-6zm5 0zm0 9zm-75 5zm5 6zm5-6zm2 6zm25-7zm11 1zm1-2zm10 6zm8-6zm1-1zm0-2zm1 6zm-64 8zm8-1zm13 6zm29 2zm8-4zm13-2zm-18 14zm3-5zm-26 21zm6 1zm-2 5zm10 3zm1-6z"/><path stroke="#b02d2d" d="M134 626zm7 10zm-40 3zm99 113zm-60 45z"/><path stroke="#ff482d" d="M144 632zm-22 14zm0 18zm31-1zm1 3zm12 16zm34 42zm-114 50zm89 5zm-76 20zm21 6zm14 4zm16 15zm8 66z"/><path stroke="#2d2db0" d="M166 640zm-5 18zm28 8zm-56 14zm20-1zm5 5zm1 12zm-36 11zm20 1zm49-5zm24-1zm11 6zm-99 5zm8 5zm4-4zm22 7zm1-9zm30 0zm3-2zm1 0zm3 9zm12-3zm2 2zm4-8zm11-1zm13 8zm-129 9zm13-1zm5 4zm2-5zm2-2zm0 2zm29 0zm5 7zm6 0zm3 2zm26-1zm0-2zm1-3zm2-3zm7 2zm6 3zm7 4zm-162 4zm60-1zm30 7zm8-1zm23-4zm13-1zm8-1zm11-2zm13 11zm18-2zm-80 13zm4-8zm4 3zm9-3zm7 6zm10-7zm9 4zm4 3zm12-4zm-175 10zm16 0zm66 5zm25-1zm10-3zm2 3zm6-6zm32 7zm-151 8zm13-2zm112 4zm21 0zm1 5zm30-2zm-147 11zm30 2zm64 1zm-131 6zm9 4zm7 1zm6 1zm0 0zm1-8zm9 2zm124 1zm19 0zm0 4zm8-10zm-170 20zm8 1zm2 0zm2-7zm0 2zm3 5zm122 1zm5 2zm8 0zm-137 10zm2-5zm130-3zm-62 21zm14-5zm5-3zm-14 14zm2-2zm-19 10zm7 2zm16 0zm10 3zm5 6zm-49 7zm40 4zm15 0zm3-1zm-57 8zm18 3zm5 1zm41-5zm11 7zm-71 3zm14 7zm2 1zm4-4zm17-2zm38 6zm-80 8zm7 0zm8-3zm11 0zm1-4zm21 3zm-14 19zm8-7zm12-1zm13 1zm-59 10zm17 6zm29 0zm7 5zm-26 4zm6 6zm10 0zm4-8z"/><path stroke="#2d48ff" d="M130 647zm3-5zm7 2zm51 16zm-28 4zm27 6zm4-2zm-41 26zm4 1zm-49 10zm84-3zm24 5zm-77 5zm28 7zm2-3zm7-6zm10 6zm9-6zm2 6zm2 0zm12-2zm4 5zm9-3zm4-6zm7 10zm-114 3zm48 9zm1-2zm4-2zm3-2zm24-4zm3 6zm35 2zm-151 6zm49-2zm33 3zm10 1zm1-1zm14 6zm0-2zm16-6zm0 10zm27-1zm12-4zm-76 15zm16 2zm4 0zm4-11zm15 0zm25 6zm-181 16zm6-2zm2-7zm7 4zm95-3zm6 2zm9 7zm1-5zm18-4zm44 4zm-192 17zm34-10zm81 2zm24 8zm19-8zm1 1zm13 6zm26-8zm1 0zm-184 18zm2 0zm6-6zm3-1zm1 1zm7 1zm116 6zm28 0zm-165 5zm30 3zm82-5zm31 6zm21 0zm3 1zm11 2zm0-1zm-191 15zm2-3zm6-5zm21-4zm21 5zm96 1zm4-5zm35 6zm5-1zm7-5zm-175 14zm91 3zm43 5zm37-6zm-109 15zm37 3zm-83 11zm100 1zm-99 4zm51 2zm31-1zm-79 12zm34 0zm5-3zm3 0zm35 1zm7-1zm2 1zm-67 15zm4 3zm15-3zm42-5zm-38 31zm8-2zm30 3zm15-7zm13 7zm-75 9zm13 7zm11-3zm7-7zm2 2zm-13 21zm8 10zm27-9z"/><path stroke="#2db0ff" d="M129 631zm-11 16zm55 4zm3 8zm-87 19zm52-2zm-21 22zm69 10zm-72 11zm41-3zm66 5zm4-12zm-64 17zm71 3zm-69 16zm-45 6zm8-4zm38 6zm26 2zm1-2zm34-6zm-58 20zm11 1zm54-1zm20-1zm-183 15zm46-9zm51-2zm7 5zm35 0zm-128 8zm42 3zm117 6zm-38 2zm-112 32zm-22 5zm78 17zm25 16zm14 0zm-56 4zm4 5zm11-6zm-15 32zm10 9zm26 5zm20-12zm17 7zm-30 5zm-24 14zm11 5zm15-2zm-34 8zm16 4z"/><path stroke="#ffe42d" d="M129 627zm-14 15zm3 5zm9-5zm39 38zm4-5zm13 44zm44-7zm-50 19zm44-8zm-26 13zm52 6zm-82 13zm21 1zm-17 9zm3 1zm-53 14zm85-9zm11 0zm31 28zm2 4zm-132 7zm80-3zm25-2zm-9 23zm23-8zm-60 25zm7 7zm-9 17zm2-2zm12 7zm18 21zm-68 17zm42 0zm9 6zm-21 8z"/><path stroke="#e4ff48" d="M138 634zm-31 14zm37-5zm-39 7zm20 0zm16 18zm-17 8zm10-2zm1 2zm20 22zm11 1zm8 28zm32 3zm19-2zm7-5zm14 2zm-117 9zm50 10zm17-3zm-135 26zm58-10zm41 2zm14 7zm69-3zm-165 16zm108-8zm-58 18zm56-3zm-59 16zm2 2zm79-5zm-155 6zm91 11zm15-1zm3-4zm6-5zm0 21zm13 14zm-51 4zm30 2zm-77 16zm45-6zm14 13zm53 3zm-44 5zm5 9zm48-2zm-73 18zm13 10zm2 11zm43-11zm9 20zm-19 9zm6 5z"/><path stroke="#ff7c2d" d="M119 623zm-10 9zm32 5zm-36 2zm74 7zm-38 16zm23 22zm88 41zm-115 42zm36 7zm34 1zm20 3zm-112 14zm74 0zm-56 3zm113 8zm-27 14zm-79 35zm26 0zm12-2zm-23 7zm27-1zm8 19zm-67 6zm35-2zm-1 20zm31-7zm-23 17zm26-7zm-48 42zm30-4z"/><path stroke="#ffe42d" d="M109 633zm14 3zm9-8zm1 7zm18-2zm2-1zm-43 12zm2-3zm10 5zm34-5zm-29 14zm63 5zm-48 13zm-26 3zm47 2zm0-3zm2 7zm0-7zm4-1zm-45 44zm-60 12zm13 1zm55-1zm76 2zm0-2zm-42 10zm3 4zm71-5zm1-1zm-139 10zm95 1zm5-1zm5 5zm16-3zm9-2zm0 6zm12 0zm-141 15zm127-6zm-87 27zm97-9zm-167 16zm126 5zm-122 20zm38 8zm31-1zm29 12zm8 0zm-63 43zm63-6zm9 9zm-77 5zm73 2zm-8 17zm5-9zm-18 30z"/><path stroke="#2d48ff" d="M156 637zm-20 20zm39 8zm14 3zm7-2zm-109 16zm108-7zm-41 19zm-23 15zm1-5zm13 4zm51-1zm-81 10zm8-2zm4-6zm3 10zm1-1zm71-1zm16-6zm0 3zm10-4zm6 0zm-118 13zm18-1zm28 7zm4 0zm13 4zm6-5zm1 2zm3-2zm18-4zm1 5zm2 3zm1 0zm6-8zm8 7zm18-9zm-161 23zm80-7zm3-4zm1-1zm0 0zm2 9zm14-4zm1 4zm7 3zm3-1zm7-2zm9 1zm21-7zm19 2zm-51 15zm4 4zm9-11zm28 5zm-170 10zm59 6zm6-8zm31 3zm12-4zm0 5zm3-3zm15-2zm8 2zm5 8zm22-8zm1 7zm5-4zm16-5zm2 5zm-184 7zm5 10zm2-7zm2 7zm94-1zm13-3zm15-6zm9 4zm20-5zm4 12zm-176 11zm112-7zm72 4zm2 3zm2-9zm-190 11zm5 9zm7-5zm4-1zm17-2zm30 1zm64 4zm33-6zm14 0zm7 0zm5 8zm-182 15zm11-2zm10-1zm6-2zm80 1zm-88 13zm6-8zm1 2zm25 5zm21 14zm9-4zm11-3zm-6 16zm2-1zm9 6zm-33 2zm47 8zm-74 6zm26-2zm3 5zm28-4zm36 6zm8-6zm-95 17zm62-5zm2 2zm10 4zm22-6zm-67 11zm1 8zm34-6zm2-3zm-53 12zm9 1zm30 1zm1 0zm3 7zm7-1zm5-6zm16-2zm5 5zm6 6zm-70 8zm1 1zm14 1zm19-9zm5 0zm-1 23zm2 0zm1-7zm1 5zm21-8zm1-2zm2 2zm-41 10zm2 2zm6-1zm5 3zm13 4z"/><path stroke="#2d2de4" d="M122 630zm8 8zm21 4zm-41 14zm26 6zm6-1zm9 15zm2 8zm-26 12zm4-1zm14-8zm4 1zm14 1zm-44 18zm9-6zm4 1zm12 0zm69 0zm-100 9zm6 8zm15-4zm4 0zm1 3zm40-5zm2 7zm1-6zm3 6zm5 0zm13-10zm0 11zm1-2zm4-3zm8-1zm9-2zm-110 14zm12 0zm3-3zm9-2zm22-1zm1 4zm11-3zm11 1zm2 3zm4-2zm5 1zm5-3zm1 2zm2 7zm1-1zm14-1zm6-6zm-68 18zm14-5zm18 1zm11 1zm16 4zm20 2zm-150 2zm27 4zm61-1zm0-1zm13 8zm1-5zm2 3zm3-8zm33 9zm7-1zm1-1zm2 0zm-187 5zm23 1zm5-1zm92 4zm7 6zm8-5zm32-2zm14 4zm5-6zm-176 18zm11-8zm5 11zm5-4zm7-3zm85 5zm17 1zm24 2zm2-11zm22 1zm2 9zm14-6zm2 4zm-208 14zm2-10zm1 5zm26-3zm12 2zm90 6zm11-2zm9-8zm19 7zm-167 14zm20 1zm14-5zm2-1zm101-2zm7 4zm-136 7zm4-1zm12 0zm6 9zm1-5zm1 3zm1-8zm6 1zm107 1zm29-2zm24 3zm7-1zm-199 13zm6-2zm2 8zm2-3zm5-5zm36 8zm38 2zm77-2zm5-9zm-69 18zm13 6zm7-1zm-52 6zm25-2zm26 4zm10 2zm-90 5zm4 3zm35 1zm18 3zm25-2zm5-4zm-39 13zm2 5zm15 0zm2-2zm18 5zm-64 12zm11-9zm16 5zm2 0zm10-7zm3 8zm-38 9zm3-6zm18 5zm21 1zm7-3zm10 1zm9 8zm4-11zm5 5zm3 4zm-79 9zm3-2zm23-2zm15 5zm2 2zm1-9zm7 3zm0 6zm6-1zm20 0zm-69 13zm12 0zm13-2zm12-7zm24 11zm4-4zm7 2zm-66 3zm1 10zm36-2zm-8 7zm10 4z"/><path stroke="#2d2db0" d="M162 660zm13 0zm-22 6zm7-3zm5 3zm1 7zm-20 12zm2 20zm49 0zm0-2zm9 0zm21 3zm-96 14zm5-3zm10-4zm32-3zm3 6zm5-6zm5 5zm3 4zm10-6zm1-2zm11 6zm15-5zm-109 18zm12-8zm55 7zm2-8zm23 11zm11-9zm3-2zm11 9zm-115 3zm37 11zm1-4zm7-7zm14 8zm2 0zm12 2zm12 0zm31-7zm-66 16zm3 3zm9 2zm6-1zm-131 10zm6-3zm40-3zm57 1zm40 2zm19 4zm-150 3zm6 10zm88-3zm12-1zm1 1zm9 3zm9-3zm16 2zm-163 12zm15-1zm12-5zm1 8zm152-10zm6 9zm-173 10zm22-3zm0 3zm96-6zm19 5zm11-4zm32 7zm-190 5zm51 8zm86-8zm17 7zm12-11zm10 4zm0-1zm-166 9zm20 4zm152 6zm5-3zm-180 8zm104 3zm3 6zm15-3zm-43 10zm24 2zm6-2zm10-5zm7 8zm-91 6zm48-3zm46 3zm-61 17zm33-3zm0-4zm1 1zm11 4zm4-3zm4 3zm4-2zm1 3zm8-4zm-66 16zm0-8zm9 6zm16-5zm5 1zm48 3zm-73 7zm21 10zm22-6zm9 4zm-41 5zm8 11zm25-9zm10 6zm3-4zm-70 10zm9 6zm17-5zm16-2zm38 1zm-65 12zm2 1zm12 5zm6 0zm5-4zm1 0zm21-1zm8 7zm-6 3z"/><path stroke="#ff482d" d="M108 636zm21-6zm-13 28zm35-6zm15 2zm-41 17zm7 3zm50 41zm1 3zm-103 6zm172 9zm-31 4zm-3 19zm-54 10zm-88 16zm118 4zm-80 10zm95 13zm-96 15zm67 28zm-63 23zm26 19z"/><path stroke="#b0ff7c" d="M123 632zm0 11zm28 2zm2 1zm2 8zm3-3zm-26 21zm-4 7zm16-5zm11-1zm-3 13zm-31 18zm0 20zm94 6zm25 2zm-163 8zm4-1zm116 5zm4-9zm1-1zm0 0zm7 3zm14 0zm32 1zm-203 19zm105-4zm8-6zm17 4zm44 4zm-114 4zm2 7zm20-6zm30 1zm27 5zm3-1zm21 1zm6-4zm4-2zm-141 17zm157-8zm9 8zm-193 7zm115 4zm1 3zm68-3zm9 1zm-165 10zm10-5zm-40 17zm152 4zm-124 8zm5 1zm150-3zm-106 17zm34-6zm6-2zm3 2zm-34 20zm6-10zm-15 16zm37 6zm19-1zm-103 6zm64 6zm8 12zm9-7zm33 0zm-35 11zm13 9zm6-3zm-53 8zm15 8zm23-11zm-14 22zm17-2zm0 3zm17 0z"/><path stroke="#ff482d" d="M132 652zm11 7zm76 74zm-13 5zm3-2zm-143 43zm45 1zm-34 7zm43 5zm120-4zm-166 13zm23 0zm37-1zm-29 17zm8-3zm53-8zm46 2zm-55 66zm-25 11zm65 7zm-36 55z"/><path stroke="#e42d2d" d="M155 631zm-43 13zm12-2zm23 18zm19 51zm16 34zm17 7zm-118 28zm20 19zm35-3zm-18 27zm118-5zm-87 57zm13 4z"/><path stroke="#ffb02d" d="M116 627zm2-1zm-2 18zm38 2zm-3 7zm3 23zm4 6zm60 38zm-141 10zm9-8zm106 4zm25 7zm-138 30zm78 3zm93-7zm1 6zm-76 7zm83 24zm-191 18zm56-7zm40 21zm-22 31zm44 0zm-63 14zm19 3zm-29 6zm1 2zm3 1zm8 39z"/><path stroke="#2d2db0" d="M163 646zm-11 7zm10 8zm20-3zm-33 8zm11 2zm2-1zm6 6zm-30 6zm14 3zm10-3zm-47 27zm2-8zm3 5zm67 5zm19-6zm5 3zm11 3zm-92 1zm35 4zm12 7zm0-6zm5 0zm7 5zm0-7zm7 3zm2 5zm1-2zm10-6zm12 3zm2 3zm13-1zm-116 6zm7 7zm2-8zm42 9zm11-9zm4 3zm20-3zm0 8zm2-9zm27 7zm17 0zm-96 8zm22-1zm9 5zm7-1zm4-1zm19 2zm5 1zm-106 9zm48-1zm3-1zm18 7zm14-8zm3 4zm2-4zm9 1zm-45 12zm9 2zm16-4zm10 7zm20-3zm-163 11zm1-3zm111 3zm8 5zm13-2zm38-6zm8 5zm14-2zm-198 18zm13-3zm13 2zm96-7zm4 1zm18 4zm6-7zm12 2zm34 7zm-190 9zm151-2zm8 2zm-171 10zm28 1zm7-5zm1 10zm2 0zm113-10zm15 5zm28 6zm5-11zm-183 15zm41 2zm118 4zm-152 9zm95 1zm19 15zm-91 4zm5 3zm21 5zm11-8zm14 7zm3 0zm26-9zm6 8zm-65 10zm37 5zm14-5zm26 6zm-68 1zm10 3zm12 6zm3-7zm4 4zm4 4zm20-9zm13-2zm15 9zm-71 19zm39 5zm14 2zm1 0zm9-3zm-67 16zm29-5zm7-2zm7 4zm28-2zm-48 15zm32 0zm-41 3zm0 9zm28 3z"/><path stroke="#2db0ff" d="M120 647zm-2 15zm12 6zm0 12zm23-5zm7-1zm-11 16zm85 16zm-117 14zm9-10zm37 10zm17-5zm-60 12zm63 4zm6 7zm15 0zm54 2zm-75 6zm9 1zm-32 21zm9-1zm-101 11zm-23 9zm37-1zm8 1zm108 3zm39-2zm-177 11zm120-3zm-123 12zm33 15zm88 16zm-30 9zm22 34zm10-2zm-19 16zm23-3zm10 30zm5 2zm-17 10z"/><path stroke="#2de4ff" d="M136 634zm-11 12zm37-7zm-28 21zm13-3zm6-4zm37 7zm-43 13zm-4 9zm-17 22zm32-6zm2 9zm27 0zm-9 3zm14 10zm4-10zm-77 17zm49-2zm35-2zm10 2zm25 4zm-152 6zm89 4zm4-2zm11-3zm-104 12zm46 3zm32-2zm13 6zm1-4zm11-1zm4 0zm54-3zm-172 22zm34-8zm28 1zm33 7zm10-8zm33 0zm4 6zm-169 10zm20 3zm4-1zm14 1zm33-2zm51-2zm5-3zm22 1zm42 7zm4-8zm-8 15zm12-1zm-160 14zm111-6zm42 5zm8-4zm-187 15zm7 7zm55-8zm114 3zm0-3zm6 7zm-161 7zm51 12zm23 1zm2-1zm-32 26zm29 15zm-52 5zm32 6zm44-7zm5 6zm-66 4zm26 4zm21 5zm24 1zm-64 13zm48-1zm22-5zm-18 7zm-40 18zm2 2zm12 2zm9-2zm11-6zm17 8zm-37 5zm23-2z"/><path stroke="#2d7cff" d="M111 635zm-10 4zm10 22zm28 9zm48-7zm-29 16zm-20 24zm48 4zm16-6zm-90 14zm26 0zm47 5zm19-5zm5 12zm4 4zm11 1zm11-1zm-53 11zm7 2zm7-7zm18 5zm-88 6zm42-3zm11 2zm4 6zm-120 11zm7-4zm17 8zm79 2zm34 9zm26 0zm20 1zm10-11zm-47 13zm17-1zm-170 17zm8-1zm21 2zm146-1zm18-2zm-175 12zm14 2zm-21 14zm4 1zm2 1zm21-4zm149-3zm-95 22zm24-11zm-82 34zm26-3zm35-3zm25 1zm-65 15zm31-9zm23 5zm15 4zm6-7zm-34 20zm14-10zm24 4zm7-2zm-16 20zm6-9zm-42 12zm33 7zm-39 5zm8 5zm15 1zm35 3zm-24 4zm8 8zm12-3zm-30 5zm6 5z"/><path stroke="#b02d2d" d="M131 637zm-2 5zm-42 81zm75 35zm56 18zm-80 16zm12-6zm-34 9zm88 16zm-41 59zm-5 44z"/><path stroke="#ffe42d" d="M113 633zm36-2zm-6 12zm-12 13zm-3 16zm25 22zm13-9zm6 33zm15 3zm4-6zm29-5zm-137 15zm4 7zm116 2zm11 9zm-101 13zm11-2zm117-6zm11 3zm-63 12zm-122 15zm145 2zm-100 8zm90-4zm-3 14zm-101 10zm13-2zm141 0zm-176 17zm39 3zm-7 7zm-10 28zm31 4zm15-10zm-46 16zm2 0zm84-4zm-28 11zm20 14zm16 2zm-57 13zm10 0zm23 15zm-13 14zm-6 14z"/><path stroke="#2d48ff" d="M127 636zm23 8zm4 11zm35 6zm-13 11zm14-11zm8 1zm4 3zm-58 22zm1 1zm12 2zm7-1zm-51 20zm5-2zm13-5zm3 7zm19-12zm51 8zm-88 4zm11 3zm2 8zm34-10zm3 6zm35 5zm22-1zm2-9zm-104 18zm12-6zm2 6zm25-4zm7 7zm0-9zm1 2zm7 3zm4-7zm10 8zm0-1zm2 1zm3-7zm15 5zm16-4zm4 2zm-156 8zm63 2zm55 4zm5-2zm14-1zm0-1zm0 5zm7 0zm0-6zm8 5zm19-1zm-172 18zm49-1zm32 1zm16-11zm13 7zm15-1zm28-4zm15 1zm-187 17zm30-1zm43-5zm32 0zm45 0zm1 0zm23-1zm5 4zm7 0zm4 7zm-177 10zm8-8zm118-2zm5 11zm18 0zm26-6zm4 0zm-190 16zm1-1zm0-1zm16 1zm3 3zm9 1zm1-10zm38 2zm2 6zm90-1zm-164 8zm9-2zm6 8zm0-9zm12 7zm7 1zm72-3zm84-6zm-198 14zm6 6zm24-4zm11 2zm165-3zm-191 8zm169 4zm-145 9zm63 5zm10 5zm0-5zm16 11zm18 7zm-42 10zm3-10zm9 9zm11-1zm-35 5zm20 10zm34-3zm-66 6zm7-1zm28 8zm9 0zm6-8zm34 10zm-79 7zm27-5zm5 7zm3-5zm37 7zm-77 2zm23 9zm6-2zm20 1zm1 0zm8-2zm7-4zm-41 16zm11-5zm2 8zm0-5zm1 1zm47 1zm-63 13zm6 4zm28-1zm0 3z"/><path stroke="#7cffb0" d="M147 638zm22 4zm-23 11zm1 1zm3 2zm8-3zm-18 14zm34 4zm4-6zm-32 16zm1-3zm2 13zm5-5zm-11 12zm27 2zm58 8zm-137 20zm69-3zm43-3zm8 6zm0-2zm14 1zm4-5zm-58 13zm1 5zm-89 10zm31 2zm4 1zm4 2zm41-8zm49 8zm5 0zm5-6zm6 6zm4-1zm13-5zm-149 9zm32 6zm97 2zm0-5zm23 0zm4-2zm1 8zm-204 5zm153 2zm31-3zm18 1zm-176 18zm33-8zm63-1zm52 12zm0-4zm1-4zm3 0zm22-2zm-41 18zm4 3zm23-6zm2-3zm1 6zm13-4zm-24 14zm16 0zm7-4zm-150 19zm51-6zm11 2zm0-5zm13 3zm24-2zm13 8zm-89 12zm50-1zm6-6zm-95 32zm38 0zm11-7zm46 0zm-96 11zm38 9zm77-7zm-62 19zm64-7zm-53 28zm2 4zm3-10zm27 8zm4-7zm2-1zm5 0zm-10 19zm15-1zm11-7zm-35 13zm-37 12zm30 7zm12-5z"/><path stroke="#b0ff7c" d="M150 629zm-28 11zm24 4zm8 4zm6-8zm6 6zm4-1zm-38 11zm28-3zm18-3zm-65 18zm4 5zm6-5zm27-4zm17 1zm21 3zm3 39zm16-2zm-32 16zm20 0zm-30 10zm54-9zm-43 12zm74 0zm-162 14zm77 3zm2-5zm9 6zm56 3zm3-2zm-116 9zm13 1zm26 1zm59 4zm11-9zm-16 18zm42-5zm-40 14zm10 3zm-125 14zm147-4zm-174 15zm50-6zm7 9zm19-3zm-93 7zm163-1zm5 3zm-63 12zm1 10zm29 14zm-67 11zm17 0zm36 5zm-19 8zm25 9zm1-2zm-45 13zm7-1zm54 2zm-54 15zm5 4zm-9 12zm26 0zm20 0zm-25 12zm3-9zm5 6z"/><path stroke="#e42d2d" d="M121 636zm-16 7zm23-5zm5 17zm92 65zm-131 14zm96 7zm23-3zm-126 9zm12 38zm16 0zm8 7zm-26 7zm18 11zm6-3zm10 7zm-12 8zm1 23zm67 36zm-22 10zm17 8zm-52 16zm35 8zm2 24z"/><path stroke="#2d2de4" d="M130 652zm7 9zm30-7zm21 0zm-58 22zm52 32zm9 1zm11-5zm-78 13zm4-7zm11 4zm2 4zm20-7zm12 0zm8 10zm1-9zm5 6zm3 0zm0-6zm5 4zm13-2zm1 5zm15 1zm12-7zm-111 10zm1 9zm19-10zm36-1zm10 2zm5-2zm14 11zm5-3zm15-2zm3 1zm-97 6zm30 2zm1 3zm3 4zm2 0zm3 1zm2 0zm10-6zm5-2zm0 6zm1 3zm13-7zm6 7zm1-5zm1 2zm1-2zm31 4zm-85 5zm1 0zm6 0zm9 1zm22-2zm24 3zm3-5zm5 7zm-173 10zm6 0zm2-2zm4 2zm9-2zm0 0zm1 4zm27-1zm22-1zm58-5zm5 9zm30-3zm31 2zm-207 4zm14 1zm2-1zm5 9zm3-6zm1 1zm1-4zm19 10zm97-3zm16 3zm2-1zm21 0zm-161 11zm1-6zm0 1zm2 3zm1 2zm137-5zm7 2zm26 3zm6-2zm-196 9zm19 0zm7 3zm3 2zm3-2zm155-1zm9-5zm4 4zm-197 13zm13 6zm25-8zm30 1zm25 1zm2-3zm35-2zm-111 17zm13-2zm74 4zm53 2zm29-10zm-85 20zm1-2zm5-1zm2 14zm10-6zm-76 16zm39-2zm10 4zm6-4zm-29 17zm36-5zm36 6zm-69 14zm20 0zm51-8zm-30 13zm5 5zm-49 9zm4 1zm37 2zm13-3zm-53 7zm5 5zm25 4zm25-5zm7-3zm5 0zm-58 16zm18-6zm18 8zm15-7zm4 2zm8-2zm-38 20z"/><path stroke="#7cffb0" d="M114 645zm12 4zm10-2zm15-2zm16-7zm2 3zm-51 9zm22 11zm24-11zm27 8zm-78 6zm11 7zm16-8zm47 2zm-47 16zm4-1zm13 2zm2 2zm-7 8zm15 2zm11 15zm3-4zm11-3zm37 3zm-104 8zm14 7zm28-2zm3-9zm5 8zm-97 16zm126-3zm41-9zm2 5zm-81 13zm5-5zm58 6zm10-7zm-101 17zm41 7zm-118 11zm57-1zm6-10zm1 6zm16 0zm43-3zm24 7zm-150 3zm136 4zm17 5zm13-6zm-153 13zm20 2zm105-6zm8 3zm19 7zm20-11zm-194 17zm6 3zm7 2zm9 1zm153 1zm-169 9zm56-2zm103 1zm10 1zm10 2zm6-1zm-142 10zm74-6zm-64 11zm30 22zm45 0zm2 1zm-51 14zm27 9zm-18 10zm-13 10zm16-4zm16 20zm1-7zm3 1zm29 4zm-53 5zm20-1zm-16 18zm41 11z"/><path stroke="#b0ff7c" d="M130 651zm25 1zm10 1zm4 2zm9-1zm-26 11zm-25 12zm3 3zm10 3zm10 5zm25 25zm-7 8zm38 4zm11 0zm-59 14zm32 2zm37-1zm-176 15zm78-5zm59-3zm4 0zm15 0zm15 6zm-98 6zm0 9zm38-11zm24 6zm70-3zm-197 9zm123 3zm12 1zm43 0zm13-1zm-202 18zm7-5zm32-1zm20 0zm6 4zm24-6zm74 7zm35-3zm-141 14zm3 4zm-8 5zm52 6zm13-3zm8 1zm39-6zm34 8zm-84 5zm-85 11zm60-1zm-15 13zm39 0zm-34 17zm11-5zm4 9zm8-9zm-42 12zm44 4zm-8 9zm29 9zm7-6zm-9 8zm1 0zm-20 12zm36 7zm5 1zm-34 16zm0 0zm4-1zm-10 12z"/><path stroke="#2de4ff" d="M121 640zm46 0zm-32 31zm14 1zm28-8zm-24 26zm-39 10zm25 8zm34 0zm-56 6zm56 1zm17 3zm14-1zm-65 9zm9-1zm30 8zm33 0zm3-4zm19-1zm6 5zm-48 2zm14 10zm-84 8zm5-1zm35 4zm16-11zm39 3zm14-3zm1 7zm17-3zm-197 20zm1-1zm68-9zm10-1zm70 1zm17 8zm14 0zm-159 4zm10 1zm27 8zm103-6zm23-4zm-116 15zm10 4zm58-4zm41 6zm19-6zm7-3zm-198 19zm4-7zm119 1zm30 8zm18 1zm13-4zm-165 7zm6 10zm11-3zm70 2zm50-7zm0 0zm-115 17zm37 12zm-40 18zm36 2zm-34 13zm59-3zm1 2zm-3 12zm20 15zm4-3zm6 3zm-33 9zm27 3zm-26 15zm9-4zm36-1zm-19 8zm1 5zm1 6z"/><path stroke="#ffb02d" d="M131 624zm-16 6zm2 1zm-5 16zm4-4zm37 5zm-28 4zm36 17zm-35 8zm28 0zm29 58zm2 10zm65-7zm-64 15zm-109 18zm53 6zm118 1zm-154 38zm77-5zm39 5zm-86 8zm21-6zm82 4zm-128 8zm58 36zm33 74z"/><path stroke="#48ffe4" d="M129 634zm9 1zm19-7zm-43 19zm35 2zm1-5zm9 11zm7 0zm6 2zm-21 22zm-35 16zm-4 9zm33-5zm56 8zm-23 13zm30-5zm-81 7zm56 6zm28 3zm5-7zm13-3zm-140 21zm67-1zm0-7zm14 10zm19-4zm18-5zm9 4zm-121 14zm39 2zm54-7zm1 5zm1-7zm4 10zm2-6zm12 4zm27-2zm15 5zm-206 10zm11-5zm57-5zm20 2zm49 4zm7 5zm2-4zm0-3zm0 4zm4 2zm23-4zm10-5zm3 7zm6 2zm-182 10zm16-2zm3 6zm79-7zm45-2zm3 4zm29-4zm18 0zm-196 21zm3-10zm5 9zm0-5zm186-5zm9 1zm-179 10zm2 8zm16-7zm91 2zm33 8zm2 1zm-145 2zm56 6zm35-4zm41 0zm-152 8zm69 5zm14 6zm26-3zm62-4zm-70 12zm66-1zm-78 11zm1 2zm5-1zm17 3zm18 1zm-29 6zm19 5zm16-5zm2 3zm-55 20zm3-5zm2-6zm25 7zm22-4zm-69 14zm3-5zm-2 18zm14-2zm10 4zm1 2zm2 0zm14-8zm9 8zm-41 5zm3-3zm1 8zm34-4zm5 2zm2 3zm-47 6zm53 5zm-27 11zm-8 10zm29-1z"/><path stroke="#b02d2d" d="M112 634zm26-8zm-30 22zm1 13zm5 4zm57 75zm-110 74zm19 19zm61 20zm-50 14z"/></g></g><g fill="none" stroke="#8a8aff" stroke-width="1.3" stroke-linejoin="round"><polygon points="55.8,305.0 91.9,313.5 107.6,331.6 75.5,352.8 51.9,337.3 46.1,323.5"/><polygon points="53.8,343.4 68.5,345.8 74.3,351.5 74.3,371.0 58.5,371.0 51.5,360.0 51.8,349.2"/><polygon points="92.7,349.7 116.5,345.4 124.2,355.4 132.5,388.1 127.3,408.8 117.5,421.5 104.8,421.5 91.5,403.0 83.5,397.3 79.0,383.5 81.0,365.5 92.7,355.5"/><polygon points="38.5,354.6 49.2,355.4 56.0,371.5 55.0,379.5 74.7,396.6 55.4,420.0 48.4,418.3 44.4,419.4 41.0,426.3 36.3,426.3 21.9,410.8 20.2,405.0 20.0,378.5"/><polygon points="55.4,422.3 81.5,397.3 90.8,404.2 101.5,418.1 106.2,435.0 107.7,454.5 100.0,467.3 81.5,477.3 69.2,476.5 61.0,466.5 53.0,455.5 41.5,455.8 42.7,447.7 54.8,435.0"/></g><rect x="139.8" y="292.7" width="3.3" height="199.8" fill="url(#jet)" stroke="#8a8a9a" stroke-width="0.4"/><text x="74.7" y="306.5" font-size="7.5" fill="#000">CD56+</text><text x="110.0" y="342.7" font-size="7.5" fill="#000">CD14+</text><text x="28.2" y="352.0" font-size="7.5" fill="#000">CD19+</text><text x="11.8" y="434.1" font-size="7.5" fill="#000">CD3+CD8+</text><text x="61.5" y="484.5" font-size="7.5" fill="#000">CD3+CD4+</text><text x="143.6" y="294.7" font-size="3.5" fill="#555">0.5</text><text x="143.6" y="344.5" font-size="3.5" fill="#555">-0.8</text><text x="143.6" y="394.3" font-size="3.5" fill="#555">-1.9</text><text x="143.6" y="444.1" font-size="3.5" fill="#555">-3.0</text><text x="143.6" y="493.9" font-size="3.5" fill="#555">-4</text><text x="231.6" y="283" font-size="11" fill="#111">Day 28</text><path d="M331.5 292.5V493.0" stroke="#ececec" stroke-width="1"/><path d="M190.0 292.2H318.8M190.0 292.2V493.2H318.8" stroke="#a9a9a9" stroke-width="1.5" fill="none"/><g filter="url(#fu)"><polygon fill="#e0d8a8" fill-opacity="0.35" points="233.3,317.7 241.9,315.0 251.4,316.4 259.1,319.3 264.1,324.6 266.1,332.6 263.0,340.8 256.4,344.8 248.3,341.5 240.9,336.7 235.9,330.8 232.8,322.8"/><polygon fill="#4878e0" fill-opacity="0.45" points="261.6,356.5 276.1,353.8 294.6,355.2 303.1,364.3 305.0,380.0 304.8,397.2 300.0,410.0 292.0,413.6 283.2,411.5 268.2,395.0 262.0,383.3 260.5,368.5"/><polygon fill="#2040d0" fill-opacity="0.45" points="263.0,357.1 274.8,354.0 287.1,354.2 290.1,362.5 284.4,371.7 277.0,377.6 267.5,381.8 261.4,374.4 260.9,364.2"/><polygon fill="#5080e0" fill-opacity="0.40" points="204.2,380.9 210.7,377.4 218.8,379.3 222.3,386.5 222.4,399.8 223.0,412.0 217.3,414.6 210.8,410.6 204.8,404.7 203.3,392.7"/><polygon fill="#f0c8a0" fill-opacity="0.30" points="227.8,387.1 236.2,389.4 248.1,396.4 243.3,403.9 235.6,414.5 228.4,414.8 227.9,400.8 226.8,392.3"/><polygon fill="#4878e0" fill-opacity="0.50" points="249.5,419.2 258.2,415.5 266.9,419.4 273.5,428.6 278.1,440.5 280.2,452.2 278.1,462.7 270.4,469.8 260.0,472.5 251.3,469.7 244.6,462.5 241.7,452.1 240.9,440.5 242.8,428.3"/></g><g filter="url(#fb)"><g transform="scale(0.5)" fill="none" stroke-linecap="round" stroke-width="3.40"><path stroke="#2db0ff" d="M495 665zm-19 10zm53-2zm-34 15zm24 2zm-1 13zm1 8zm4 5zm59 27zm2-7zm-46 11zm-14 14zm71 6zm2-4zm18 0zm-10 8zm-194 19zm10-3zm10 2zm160-6zm11 20zm-159 13zm116-9zm-40 14zm7 30zm6-10zm-46 31zm13 5zm36-5zm-51 7zm13 3zm47 1zm-50 12zm57-1zm-61 20zm53 14zm-10 15z"/><path stroke="#2d2db0" d="M486 648zm34 20zm15-5zm-29 32zm18-10zm-15 20zm39 2zm7-1zm4-5zm6 5zm10 3zm-51 5zm3 1zm6 1zm48-3zm3 7zm-59 1zm11 2zm17 6zm0 2zm4-3zm2-1zm5 3zm2 0zm-35 8zm5 3zm9-4zm1-4zm3 12zm8-4zm6-3zm16 2zm11 3zm1 1zm5-8zm3 6zm4 1zm4-7zm3-3zm-197 18zm21 5zm44 0zm48-2zm4 2zm0-7zm6 2zm2 3zm11-7zm24 9zm-140 8zm107-5zm3 7zm1-5zm12-2zm1 7zm29 2zm-182 2zm27 6zm4-3zm129 1zm39-3zm1-2zm1 9zm-183 6zm26 0zm88 7zm5-5zm15-5zm49 4zm0 3zm-198 11zm16-4zm5-2zm12 5zm17-3zm76 1zm19 3zm15-2zm-125 10zm133 8zm6-4zm5 2zm13 4zm-172 7zm92 3zm52-2zm-127 8zm48 4zm25 5zm2 3zm10 5zm9-1zm-85 9zm87 2zm12 4zm0 1zm-72 10zm3-5zm6-1zm14 6zm6 1zm36-8zm0-1zm-67 22zm35-1zm9-2zm10 1zm2-7zm5 3zm10 4zm-37 6zm8 9zm20 2zm-50 18zm14 0zm6-8zm10 6zm12 4zm-45 4zm5 1zm24 0zm37 4zm-44 11zm19 5zm19-8z"/><path stroke="#2d48ff" d="M485 635zm16 23zm45-1zm5 10zm-110 15zm117 21zm11 4zm21-6zm-100 9zm3 4zm7-4zm29 4zm0 5zm3-4zm2-5zm9 1zm15-1zm11 2zm5 1zm5 2zm7 6zm-65 9zm7-8zm0 8zm6-5zm7-2zm0 10zm3-3zm7-6zm12 8zm33-5zm-81 14zm18-2zm5 0zm9-2zm1 5zm5-1zm8-3zm38 0zm4-3zm-192 20zm13-2zm73-2zm22 2zm11-1zm2-5zm13-1zm14 10zm4-1zm22-4zm14 3zm-195 9zm21-5zm105 0zm44 5zm21-1zm17 7zm2-4zm-89 8zm5 1zm-112 9zm12 9zm115 1zm4-11zm3 4zm30 0zm9-3zm4 6zm-179 10zm7-1zm121 7zm4-8zm19-4zm43 2zm-200 12zm162-2zm5 12zm25-4zm3-4zm-176 18zm11-6zm-5 11zm30-1zm35 10zm16 7zm9 0zm-88 12zm45 4zm2-5zm34 3zm-27 5zm2 6zm24-6zm27 4zm4-2zm-70 18zm1-1zm10 2zm12 0zm8-7zm1 4zm10 4zm21-11zm4 8zm0-8zm-80 19zm23-5zm9 3zm23-2zm5-3zm4 5zm12-1zm-49 17zm8 0zm12 2zm2-10zm24 9zm4-5zm-23 6zm0 1zm30-1zm2 9zm-42 14zm9-7zm22 11z"/><path stroke="#b0ff7c" d="M480 624zm4 13zm1-9zm-6 17zm11 2zm5-2zm2-3zm-14 16zm2-2zm27-6zm-42 14zm21 2zm4 3zm32-5zm8-1zm-52 16zm2-5zm9 2zm27-1zm-5 13zm21 20zm34-4zm-23 13zm13-1zm15 1zm-156 7zm22-1zm89 8zm11-7zm28 8zm30-2zm-46 13zm18 0zm8 1zm-1 1zm17 7zm-47 11zm0 0zm-139 14zm136-1zm-70 17zm12-3zm53-7zm-85 22zm20-2zm15-5zm118-3zm-139 12zm12 6zm104-5zm2 1zm-135 18zm134-7zm0 5zm2-8zm8 8zm-131 8zm21-1zm16 12zm31 7zm-39 10zm20-6zm4 3zm9-3zm9 4zm17 1zm-73 6zm28 3zm25-4zm7 7zm-28 14zm1 2zm11-1zm0-6zm26 3zm11 4zm-29 11zm4 2zm17-10zm5 6zm-59 16zm11-3zm16 3zm-13 6zm4 8z"/><path stroke="#2db0ff" d="M505 660zm24-2zm27 13zm3-7zm-112 14zm68 1zm9 45zm6 7zm39-4zm24 5zm-49 10zm14-3zm-85 16zm47-1zm7 0zm5-1zm-72 16zm3-5zm70-1zm33 0zm6-3zm-127 16zm90 4zm51-8zm0 1zm4 3zm-176 7zm133 7zm10 5zm28 7zm-82 9zm61 3zm-50 4zm61 1zm-48 17zm-46 23zm57 4zm-53 5zm8 5zm47-8zm-27 31zm10 16zm-27 7z"/><path stroke="#7cffb0" d="M490 626zm11 6zm-21 11zm34-5zm8 13zm-26 15zm39 2zm-2 8zm-27 14zm14 13zm20 2zm25 3zm-120 11zm27-9zm44 6zm22-2zm1-4zm5 4zm30-1zm4-1zm-55 12zm-3 12zm1 6zm8-3zm2-5zm10 2zm10 2zm0 4zm22-9zm3 7zm21 4zm11-8zm-193 21zm4-2zm56-3zm4 5zm61-1zm3-5zm1-2zm2-2zm1 3zm11-1zm49-1zm2 1zm-197 14zm53-2zm30 5zm100-3zm-172 7zm130 0zm13 4zm4-5zm10 3zm17 7zm6-1zm2-2zm1-2zm-149 16zm114 1zm-142 9zm5 1zm2-2zm8 4zm107 1zm48-7zm8 7zm-91 7zm6-1zm-68 13zm9 5zm106-9zm8-2zm4 11zm-78 1zm3 4zm-17 15zm12 7zm6 8zm-72 4zm44 9zm9-1zm0-5zm11 2zm16-5zm36 3zm0-3zm-65 21zm33-4zm12 2zm7 3zm-27 1zm28 6zm21 0zm-59 6zm34 10zm7-9zm8 9zm1-11zm-39 19zm17-3zm34-4zm-67 22zm6 2zm28 10z"/><path stroke="#48ffe4" d="M496 624zm14 6zm-40 9zm13 10zm34-7zm-24 8zm16 7zm0-4zm4 3zm15 0zm5 1zm-26 13zm11-7zm13 7zm-31 4zm29 0zm7 2zm-22 18zm4-3zm7 0zm1-5zm-2 21zm66-5zm-144 17zm90-6zm2 1zm23-3zm0 2zm18 7zm10-5zm-140 14zm11 0zm14-7zm6 5zm35 3zm2-9zm20 5zm23 4zm11-5zm16-1zm-57 19zm8-2zm4-1zm38-3zm0 6zm0-4zm24 5zm-181 12zm50-8zm12 2zm38 0zm6 2zm7 3zm1-7zm16-2zm4 0zm1 6zm17 1zm20-5zm6 3zm0 3zm13-8zm-134 15zm6-2zm5 8zm4-10zm31 11zm22-6zm2 6zm37-4zm6 2zm-164 4zm99 1zm8 9zm9-2zm14-2zm10 4zm23-10zm-167 21zm24-1zm87-3zm41 4zm17 0zm-159 14zm5 0zm1-2zm126-1zm4 1zm-154 13zm40-4zm138-6zm-139 14zm8 0zm103 8zm30-1zm-161 4zm40 1zm28-2zm6 4zm12-1zm57-4zm-49 13zm-74 17zm47 4zm2-1zm-25 3zm17 6zm21 2zm-21 8zm6 4zm7 3zm2-1zm22-6zm-53 17zm7-7zm25-1zm-23 13zm11 1zm46 8zm-42 5zm29 5zm9-3zm7 3zm-52 10zm9 2zm7-7zm32 3zm-41 7zm9 8z"/><path stroke="#e42d2d" d="M470 640zm21 12zm13 3zm-7 8zm-55 67zm13 11zm10 6zm-2 19zm81 0zm-120 23zm25-4zm12-3zm29 8zm-24 5zm6 4zm-65 12zm12-2zm43 7zm3 12zm19-11zm16 53zm16 47zm41-2zm2 5zm-49 11z"/><path stroke="#b0ff7c" d="M475 625zm4 8zm8-1zm7-7zm14 8zm5 0zm-14 12zm17 3zm8 0zm2 1zm-57 5zm19-4zm2 5zm2 5zm7-4zm6 4zm5-8zm-26 20zm6-5zm10-1zm16 12zm4-3zm3 18zm-76 21zm93 3zm37-4zm9 2zm1 1zm1 5zm6-4zm-147 5zm75 7zm46-2zm14 4zm21-1zm6-1zm-157 8zm93-1zm24 8zm2-10zm13 3zm17-2zm11 9zm-167 9zm16 0zm12 2zm6-6zm8 5zm81 1zm-142 7zm26-5zm16 1zm31 5zm67-4zm3 6zm24-7zm27 3zm-156 19zm5-3zm0 2zm-25 7zm12-4zm75 0zm71 8zm-180 13zm46 6zm4 2zm82 6zm33-11zm1 7zm-113 18zm52 7zm6 13zm-4 11zm15 1zm6-3zm-57 12zm2 3zm7 2zm3-5zm2 8zm50-1zm2 0zm-10 21zm4-8zm-3 20zm9 1zm-45 4zm8-2zm7 2zm27-3zm-42 19zm25 8zm-17 10z"/><path stroke="#7cffb0" d="M510 631zm-14 18zm-23 3zm38 8zm13-4zm0 4zm-40 8zm10-4zm0 6zm30 11zm25 2zm-52 5zm26 0zm2-1zm4 23zm14 8zm6-5zm11-1zm-30 11zm4 0zm12 5zm14-7zm13 11zm0-5zm-45 7zm25 0zm6 9zm16-7zm3 5zm22 3zm4-6zm-130 17zm1-2zm43-3zm28-5zm8 2zm-149 21zm73-9zm56 10zm10-1zm7-7zm26 0zm-41 9zm13 1zm17 7zm1 0zm18 0zm-126 6zm19-2zm109 2zm-143 11zm103 7zm36-5zm-170 10zm59 0zm1 10zm23 0zm25-3zm56 1zm6-1zm16-1zm-68 11zm-28 13zm8-5zm30 7zm-27 12zm18-10zm-28 20zm11-5zm-61 11zm61 3zm40 2zm-81 14zm38-3zm11 0zm4-3zm9 4zm-54 7zm0 4zm14-5zm17 10zm15 9zm-13 14zm39 1z"/><path stroke="#2de4ff" d="M506 639zm11 7zm2 0zm8 11zm-33 14zm1-10zm35 7zm-49 13zm35-7zm1 8zm-9 12zm0-6zm6 8zm-44 4zm20 6zm-13 6zm75 0zm6 4zm-128 17zm19-1zm36-9zm5 6zm39 3zm21-6zm55 0zm-161 11zm76 4zm0-3zm2 4zm4-6zm0 3zm6 3zm19-7zm12 6zm-78 6zm41 9zm2 1zm15-11zm6 5zm-55 10zm1 1zm0-2zm35 7zm69-8zm-172 22zm102-7zm4 3zm55 0zm3-2zm15-4zm-192 18zm9-2zm3-4zm53 9zm8-8zm65 8zm12-3zm-150 15zm16-10zm140 3zm-149 14zm6 0zm36 2zm111-5zm-148 18zm24-1zm23-1zm108 2zm10-6zm1 10zm-52 21zm2-6zm5 6zm-17 5zm6 8zm-29 3zm38 2zm-13 19zm4-5zm-15 11zm-34 11zm52-3zm1 10zm7-8zm3 6zm7 3zm-49 2zm44 10zm-30 4zm23-4zm10 6z"/><path stroke="#2db0ff" d="M514 657zm-8 19zm2 4zm-12 33zm44-2zm-59 19zm130 3zm-69 11zm52-4zm3 1zm-106 9zm48 9zm-100 10zm13 10zm21 1zm66-5zm48 9zm-156 20zm129-6zm-145 16zm16-9zm2 1zm132 3zm3 8zm-52 6zm47-3zm-51 17zm3 25zm-10 12zm10-7zm40 3zm-19 11zm-11 10zm18-2zm4 14zm9 28z"/><path stroke="#2d2de4" d="M501 635zm23 22zm-10 26zm-16 10zm25-3zm34 13zm-30 7zm2 3zm0 2zm40 1zm10-1zm9 3zm3-5zm-154 20zm84-8zm11 6zm7 1zm4-8zm34 3zm22 5zm3 0zm-149 10zm73-4zm2 6zm5-2zm11-8zm1 8zm4-2zm6 5zm15-11zm4 1zm30 1zm2 6zm-88 7zm5 8zm14-8zm2 4zm3 0zm5-3zm43 2zm15 2zm-199 11zm22 2zm43-7zm37 6zm34-7zm1 10zm4-6zm1 3zm25 3zm13-5zm20-3zm4 7zm2-5zm-190 14zm11-8zm100 3zm3-3zm5 7zm10-2zm24-1zm34-3zm-201 16zm124 6zm14-4zm23 3zm30-9zm-194 11zm5 4zm2-2zm1-2zm19 9zm5 2zm1-1zm107-5zm11 0zm25 6zm-159 6zm6 0zm2-4zm1 5zm128-1zm18 6zm10 1zm2-3zm5-1zm-159 6zm3-1zm10 7zm127-6zm26 2zm-102 10zm12 2zm9 6zm1 1zm53-11zm6 4zm-126 19zm40-5zm6 3zm-54 11zm37-7zm19 0zm23 4zm7-2zm1 6zm5-8zm15 6zm-71 16zm25-9zm14 6zm-22 9zm6-1zm15 3zm2-7zm19 6zm-37 11zm9 4zm29-8zm-43 11zm12 6zm50-2zm-60 12zm8-3zm9 2zm27 3zm-31 7zm6 0zm21 4zm13 0zm1 2zm-35 11zm3 2zm2-8zm1 7z"/><path stroke="#2de4ff" d="M514 637zm-45 18zm60 6zm-24 5zm12 7zm24-10zm-21 20zm-15 3zm7 5zm64 15zm-132 14zm94-10zm10 7zm8 3zm9-11zm10 7zm14-2zm-51 10zm35 1zm-128 17zm117-9zm10 8zm16-2zm-155 11zm10 1zm100-4zm9 9zm36-3zm24-5zm-202 11zm13 1zm6 2zm96 5zm6 0zm5-8zm13 6zm0-4zm25 6zm-3 6zm20 5zm-175 12zm74 3zm80-8zm15 3zm-149 7zm134 3zm-133 11zm76 3zm38 5zm27-5zm4-1zm13-4zm-150 13zm4 0zm9 0zm48 2zm-18 8zm8 9zm-18 23zm12-3zm24-1zm32 1zm-90 8zm101 5zm-59 15zm14-10zm7 11zm-35 3zm-2 10zm13 10zm13-6zm8 8zm43 10zm-33 25zm5-10z"/><path stroke="#2d2db0" d="M522 642zm0 11zm-36 19zm9-10zm22 20zm0-2zm7-4zm8 8zm-18 5zm-9 8zm26 11zm8-3zm26-1zm-33 5zm4 2zm3 1zm4 1zm3 3zm2-1zm5-5zm1 8zm5-6zm8 8zm5-5zm-48 14zm7-6zm4 4zm11 2zm12 0zm-39 11zm1 0zm9 4zm1-3zm14-8zm9 7zm1-4zm7 9zm8-2zm8-7zm-162 19zm54 1zm63-3zm21-8zm15 9zm8 2zm7-2zm21 2zm5-3zm-195 9zm28 4zm15-6zm75 2zm1-1zm1 0zm9-1zm35-2zm5 8zm6 1zm-190 11zm41-8zm0 8zm106-9zm9 6zm12-1zm3 4zm16-7zm25 9zm-208 8zm29 3zm76-9zm36 8zm8-4zm35-1zm13 1zm1 1zm-171 15zm3-7zm113 1zm9-1zm46 2zm-181 15zm167-3zm1 7zm7-4zm2-1zm-174 8zm6 8zm13-6zm76 4zm43-2zm11-3zm-71 16zm17-1zm21 5zm48-10zm-138 22zm72-3zm12 1zm-80 9zm51 4zm4 2zm11-9zm27 2zm-93 9zm71 8zm-57 4zm13 10zm22-2zm4 2zm3-1zm3-7zm23 6zm12-10zm8 6zm-36 12zm44 5zm-71 8zm6-1zm40-1zm1 4zm9-6zm-35 17zm20 3zm18 0zm-64 4zm40 8zm11-6zm-37 12zm25 7z"/><path stroke="#ffe42d" d="M499 627zm13 13zm-13 16zm7 3zm9-2zm-43 7zm5 2zm50-5zm-39 13zm39 8zm5 4zm15 13zm4 6zm3-3zm-123 14zm56 2zm66 2zm-103 18zm94-5zm39 2zm-133 13zm5 5zm40-3zm64-1zm24 5zm-120 9zm97 18zm1-6zm26 3zm-167 6zm55 2zm8-3zm3 4zm-13 15zm95-4zm-86 14zm77 1zm-60 10zm26-4zm56 13zm-47 21zm-75 8zm25-1zm7-4zm26 1zm8 1zm10 3zm9-1zm4-2zm-89 19zm72 19zm-4 17z"/><path stroke="#b02d2d" d="M476 627zm23 1zm79 80zm-136 24zm154 0zm-137 22zm20 2zm110-9zm-140 16zm-9 17zm83-8zm-44 31zm-2 3zm-35 16z"/><path stroke="#ffb02d" d="M465 636zm12-7zm11 1zm2 5zm1 0zm-8 23zm10 0zm38-2zm4-5zm-61 20zm7-4zm31-3zm11 7zm-31 9zm5-2zm10-1zm3 6zm42-8zm-64 12zm78 18zm-21 5zm-104 15zm22 11zm120 4zm-123 6zm115 0zm-111 22zm54-5zm44-1zm43-3zm-183 11zm39 25zm13 4zm75-3zm-85 18zm3-2zm110-6zm-115 13zm9 5zm17-3zm35-1zm-63 10zm-7 21zm72-1zm15-6zm-80 21zm79-5zm-33 12zm0-5zm-43 15zm37-4zm44 11zm-56 17zm35-1zm-28 13zm19 3zm17-3zm-19 12zm15 22z"/><path stroke="#2d7cff" d="M553 673zm-28 6zm20-5zm-19 13zm0 15zm2 5zm14 7zm1 4zm3-1zm15 0zm4-6zm-16 11zm23 9zm-53 3zm9 4zm4 0zm17 4zm27-5zm31 3zm-167 16zm79-5zm29-4zm20 6zm-135 6zm78 10zm68-2zm21-3zm-174 13zm105 4zm22 3zm12 7zm9-6zm33 3zm-196 6zm0 7zm125-7zm1 3zm60 6zm-94 13zm11-6zm66 3zm7 4zm-154 6zm0 2zm78-4zm-4 18zm-3 10zm0 1zm26 1zm-36 14zm42-8zm-39 20zm4-11zm57 6zm-64 9zm7 2zm3-4zm3 8zm4 0zm26 1zm0-6zm-49 10zm6 5zm57-7zm-18 17zm-27 12zm1 0zm6 4zm3-1zm7-2zm-25 16zm16-8zm6-2zm-8 13z"/><path stroke="#2d2db0" d="M505 656zm20 4zm5-8zm-17 19zm19-2zm-25 15zm13 0zm1-9zm1 25zm17 7zm8 0zm9-6zm-109 16zm82-2zm6-3zm3 8zm17 0zm4-1zm8-1zm8-4zm-51 13zm2-5zm2 5zm6 1zm2 2zm1-9zm2 5zm2 6zm5-10zm10 1zm5 2zm8-1zm2 1zm9-3zm7 0zm9 10zm-68 9zm19-6zm1 0zm14 5zm2 4zm3-10zm-164 22zm117-8zm5 4zm5 2zm13-9zm7 6zm7 0zm31 1zm12 3zm14-8zm-192 18zm50-8zm64 1zm3 3zm0 5zm7-4zm20-3zm26 10zm-178 4zm2-3zm3 2zm20 8zm87-9zm68 1zm-194 12zm16 2zm26 3zm85-4zm54-1zm-167 17zm18-1zm3-3zm4 1zm105-1zm14 7zm55 0zm-195 4zm170 0zm17 7zm-39 10zm-77 14zm11-8zm35 10zm-17 7zm-20 13zm24-6zm4 0zm7 9zm4-4zm4 0zm7 1zm-67 11zm34-7zm20 6zm-52 9zm18 5zm26-7zm10 1zm9 4zm3 1zm-66 11zm28-2zm27-4zm7 5zm-22 16zm4-1zm-26 8zm12 4zm4-1zm12 2zm10 2zm2 0zm-47 9zm33-5zm8 9zm4-7zm-14 17zm12-5z"/><path stroke="#ffb02d" d="M469 643zm10 3zm3-6zm3 6zm22 2zm-2 7zm23 5zm-52 48zm56-2zm-12 3zm46 3zm-124 14zm9 1zm-21 8zm9 16zm116-6zm57 11zm-5 9zm-155 9zm120 5zm14-9zm-129 21zm31-7zm104 8zm9-3zm-135 8zm19 4zm-21 10zm19-4zm32 56zm3-6zm-64 10zm39 50zm13-2zm32 15z"/><path stroke="#2db0ff" d="M500 636zm1 15zm10 0zm37 7zm-34 10zm26 4zm15-8zm-44 24zm16 29zm40-2zm30 1zm-75 14zm14-9zm14 8zm3-6zm14 1zm1 4zm-95 27zm63-6zm4-2zm-61 17zm13 0zm-67 16zm153-1zm26-4zm-2 8zm-173 29zm134 1zm-47 9zm1 16zm23 8zm-17 27zm26-3zm-63 10zm64 11zm-16 19zm25-3z"/><path stroke="#ff482d" d="M507 632zm-44 14zm65 3zm-39 3zm13 0zm20 0zm-48 11zm57-2zm-15 25zm-71 50zm20 6zm99 13zm-111 20zm10 4zm15-2zm-41 22zm42 3zm4-8zm50-1zm-66 13zm0 1zm8 2zm-32 15zm19 1zm10-5zm-3 10zm10 9zm101-8zm-28 32zm-100 14zm25-5zm0 15zm25-2z"/><path stroke="#ff482d" d="M504 625zm-22 4zm14-4zm-27 19zm19 3zm13 5zm-27 16zm41 2zm-74 47zm44 35zm-33 14zm5 1zm60 10zm-87 13zm21-5zm19 5zm-9 5zm2 5zm64 5zm-76 9zm21 3zm7-10zm-12 12zm133 5zm-134 7zm9 31zm42 53zm36 3z"/><path stroke="#ff482d" d="M486 635zm15-9zm-33 18zm15 2zm42 2zm-57 5zm37-3zm-29 21zm13-4zm6 2zm5-3zm-64 63zm12-5zm5 13zm6 4zm2 0zm108 3zm-104 7zm83 6zm20-9zm-142 22zm52 8zm92-8zm-112 14zm42 9zm-30 6zm23 3zm103-5zm-140 12zm20-4zm0 11zm14-8zm-15 11zm-13 42zm88-2zm-75 35zm4 2zm43 29z"/><path stroke="#b0ff7c" d="M471 633zm15-1zm4 12zm14 2zm6 0zm-49 6zm71 2zm-55 15zm8 4zm54-10zm-51 14zm1-2zm0 3zm1-5zm13 8zm34-7zm-23 18zm5-7zm13 1zm-6 24zm35 1zm16 5zm-19 9zm24 6zm9-6zm2-1zm-58 17zm46 2zm-95 11zm3-4zm44-4zm13-1zm55 1zm1 4zm9 4zm0 2zm-189 6zm35-5zm4 4zm0 2zm30 1zm4-3zm88 3zm2 4zm5-3zm18-2zm-206 8zm9 8zm53-6zm95 3zm0 1zm38-4zm4 8zm-185 11zm32-9zm6 9zm14-10zm134 1zm-150 20zm116-3zm36 1zm-187 9zm44 6zm7 0zm9-1zm15-8zm59-2zm25 9zm24 0zm-163 3zm88 7zm50 0zm-67 25zm5 1zm-1 12zm3-7zm19 10zm-82 11zm36 5zm11 8zm9-6zm14-2zm-27 19zm9-1zm5-4zm32 0zm-59 10zm12 6zm66 6zm-63 9zm45 8zm-17 3zm2 5zm22 4z"/><path stroke="#7cffb0" d="M479 635zm8-7zm6 17zm17 3zm15-6zm0-2zm-55 15zm44-4zm40 4zm-72 10zm26 2zm6-1zm1-2zm40 4zm-77 5zm49 6zm5 0zm-32 22zm81 4zm-127 14zm16-2zm56-1zm21-6zm17 5zm-130 6zm14 11zm89-9zm7 9zm2 0zm3-5zm-96 9zm132 1zm10-2zm8-1zm-181 19zm52 4zm52-4zm5-5zm9-1zm54 3zm17-2zm-156 10zm24 0zm41 1zm33 4zm19 2zm20 3zm5 1zm-155 8zm1-1zm9 5zm129 6zm-155 9zm7 5zm29-4zm13 4zm17 4zm4-4zm79-5zm-154 12zm43-2zm15 8zm129 0zm-184 4zm49 7zm97-8zm18 6zm-8 6zm-43 17zm-57 10zm17 9zm23-5zm5-6zm-76 19zm76-2zm17-4zm12 6zm3 4zm-67 6zm42 4zm-7 10zm20 4zm17-5zm-59 16zm22 0zm31-7zm-73 12zm29 8zm7-9zm47-2zm-68 15zm1 6zm34-8zm1 11zm17 6z"/><path stroke="#ffe42d" d="M475 625zm-1 9zm28-4zm-42 14zm27 22zm28 14zm7 3zm4-4zm9 30zm9 11zm2-3zm49 1zm12-5zm-24 10zm-134 16zm87-4zm57 10zm-118 10zm4-1zm0 1zm54-4zm29-6zm34 10zm3-1zm5-1zm-170 13zm33-3zm2 1zm28-3zm60 4zm22-6zm-151 21zm37-4zm11 9zm132 2zm-144 11zm8-3zm18 1zm-13 16zm106 2zm-158 13zm53-5zm7-4zm89 11zm-121 3zm56-2zm21 13zm-38 14zm-30 21zm61 8zm-1 8zm8 3zm25 0zm-19 13zm11-1zm-44 28z"/><path stroke="#b0ff7c" d="M520 633zm-54 10zm3-4zm34 9zm1 1zm-15 1zm25 10zm19 1zm-63 6zm46 6zm-29 5zm4 1zm15 4zm7 1zm17 1zm9 24zm-83 7zm97-3zm40 8zm-150 12zm113-2zm-7 8zm0 4zm26-3zm18-4zm7 9zm-161 1zm14 3zm29-1zm2 4zm107-4zm-179 17zm15-7zm24 6zm7-4zm104 4zm-112 7zm120 0zm-130 14zm1 2zm37 6zm-26 5zm10 5zm27-3zm9-4zm75 5zm24 4zm-174 7zm38 2zm103-8zm6 3zm2 8zm26-2zm-10 9zm-99 27zm41 5zm6 1zm-47 11zm34-2zm5 1zm14 9zm-19 5zm1-3zm23 18zm-29 14zm-35 13zm12-2zm9 9zm57-3z"/><path stroke="#e4ff48" d="M482 648zm11-7zm8 7zm11-1zm2-5zm-43 15zm18 0zm11-4zm24 8zm21-9zm-75 11zm15 8zm18 10zm3 4zm-16 15zm-52 20zm142-8zm-137 16zm9 0zm98-4zm21 4zm-46 12zm68-3zm-105 10zm40 4zm54 2zm-123 13zm22-5zm4 0zm64 4zm7-4zm13 7zm35-4zm-76 9zm-74 19zm13-2zm74-5zm45 4zm16-6zm-181 15zm128 1zm16 0zm2 4zm8-3zm-120 17zm16-4zm1-7zm60 10zm-32 1zm13 1zm18 21zm7 7zm7 6zm-43 5zm2-3zm10 8zm32-7zm-111 14zm123 6zm-23 9zm18-6zm1 9zm-65 8zm24-2zm45 0zm-77 9zm43 11zm24-8zm-35 13zm27 6zm2-3zm-6 17z"/><path stroke="#2d48ff" d="M465 630zm28 5zm-16 6zm3 7zm66 26zm-55 20zm5-4zm26-1zm-34 13zm49 2zm18-3zm-66 10zm13 1zm43 2zm2-4zm5-1zm7 5zm35-2zm-154 20zm50-6zm11 5zm29-8zm0-2zm34 11zm10-10zm3 9zm4-7zm18 8zm9-9zm-89 19zm13 1zm17-1zm12-2zm5 0zm1-7zm6 9zm7-2zm21 1zm8 3zm-205 9zm114 1zm4-3zm9-4zm2-1zm13 3zm1 7zm16-7zm28 7zm21-3zm-198 12zm24-1zm38-6zm53 10zm8-5zm10-2zm29 8zm15-11zm10 10zm-189 9zm22-4zm6 4zm29-7zm46 0zm16 0zm4-1zm12 9zm27-3zm12 3zm13-6zm12 4zm-199 9zm0 4zm128 3zm3 1zm3-7zm6-1zm3 3zm28-6zm1 8zm-172 10zm11 4zm104-1zm3-7zm48-3zm-166 20zm5-6zm8 6zm6-8zm72 4zm73 0zm1-1zm22 1zm-164 17zm7-1zm123 4zm9-10zm-37 21zm51-8zm-51 18zm-47 12zm19-1zm13 1zm5-9zm4 2zm-41 18zm42 1zm7 0zm-74 3zm24 5zm13-3zm44 10zm6-1zm1-8zm-72 19zm10-7zm1 5zm9-2zm2 0zm-11 9zm9-1zm19-2zm11 9zm7-6zm-54 16zm36 0zm-24 5zm15 9zm9 0zm10-6zm22-1zm-26 22zm12-10z"/><path stroke="#e4ff48" d="M497 636zm-2 8zm0 2zm1-5zm5-3zm20 10zm-46 1zm11 11zm9-3zm5-4zm14-1zm12 8zm-37 6zm13-4zm-25 12zm49-1zm-1 37zm62 16zm3 3zm-142 8zm2-1zm11 7zm-3 12zm74 0zm10 0zm13-6zm53 6zm-158 3zm8 8zm5 1zm13-3zm22 2zm27-6zm67 6zm-131 5zm3 9zm1-4zm5-2zm111-1zm-177 10zm54 3zm33 5zm1-2zm-27 6zm14 4zm5 0zm95-5zm7 7zm17-5zm-184 19zm193-2zm-159 15zm118-11zm22 9zm4-2zm-94 6zm5 16zm11-5zm10 19zm-67 14zm4-1zm47 1zm23-6zm-52 12zm55 5zm17 17zm-57 12zm25 8zm10 3zm9-2zm-18 3zm4 1z"/><path stroke="#ff7c2d" d="M479 629zm14 13zm2-3zm-25 19zm44-3zm-41 9zm33 1zm9 6zm-1 16zm6-2zm10 36zm-93 1zm16 21zm95-9zm8 1zm-90 22zm24 3zm5 6zm-83 15zm163-11zm10 11zm12-6zm-100 17zm-16 2zm10 5zm59-3zm36 8zm-132 11zm6 9zm17 0zm5-6zm27 9zm25-4zm50-1zm-71 24zm-73 22zm52 4zm52 8zm-61 9zm35 23zm26-1zm-49 8zm69-1zm-14 15z"/><path stroke="#ff7c2d" d="M499 634zm2 0zm21 9zm-47 7zm20 7zm-25 11zm54-1zm-41 14zm54 28zm21 7zm0-1zm7 12zm-121 11zm16 0zm108-1zm-115 20zm73-2zm5-4zm22-6zm-106 17zm11-3zm13 4zm15-1zm36 3zm-71 14zm3-1zm-52 3zm63 6zm1 3zm6-8zm101 5zm35 0zm-156 12zm13 1zm121-6zm-104 13zm47 32zm-29 35zm28 3zm30-3zm-95 10zm63 30zm-36 12z"/><path stroke="#ff7c2d" d="M507 636zm-32 2zm19 26zm-58 53zm108-3zm29 9zm-131 11zm126 10zm-116 9zm5-2zm18 4zm122-5zm-122 27zm6-6zm84 20zm-117 13zm16-2zm57 1zm60-3zm-137 32zm43 31zm-29 9zm26 17zm1-10zm42 5zm5 15zm-16 3z"/><path stroke="#48ffe4" d="M468 643zm42-2zm11 1zm-50 19zm3-4zm46 4zm-49 5zm59 2zm4-6zm-38 12zm25 8zm-18 4zm25 11zm-55 10zm57 1zm6-1zm6 7zm14 1zm7 0zm2 3zm8-2zm-58 13zm3-8zm15 4zm4-1zm35 1zm1 6zm1-1zm0 3zm4-9zm10 9zm-143 4zm86 5zm0-4zm2 1zm6 0zm7-6zm2 1zm6 7zm14-6zm6-2zm0 10zm5-5zm-144 15zm31-8zm3 11zm82-3zm6 3zm24-2zm8 2zm-188 4zm15 3zm8 0zm36-2zm6-1zm33 0zm35 6zm1-4zm19-2zm7 6zm29-1zm2 2zm3 1zm1-6zm22-2zm-211 16zm11-7zm30 12zm91-6zm32-3zm6 4zm1-2zm28-1zm-201 9zm149 0zm13 0zm23 5zm7 1zm-180 13zm20-6zm98 6zm21-4zm-83 9zm83 3zm36-2zm-161 19zm6-5zm6-1zm3-2zm21 8zm2-5zm34 4zm9-6zm21 8zm58-6zm15-4zm-135 13zm7 20zm6-7zm20 1zm24 7zm-47 6zm9 7zm6-11zm20 6zm30 5zm3 1zm-93 2zm32-2zm6 3zm8 8zm16-6zm4 0zm-46 8zm5 2zm8 0zm52-1zm1 3zm24 6zm-95 5zm19 6zm8-1zm4-1zm21-2zm-14 7zm18 3zm-18 14zm10-1zm-13 8zm41 15z"/><path stroke="#2d2db0" d="M529 659zm0 23zm3-2zm1 5zm0 19zm13 0zm3-1zm13 9zm7-2zm1 7zm4-7zm3 8zm0-9zm5 11zm2-3zm-61 15zm0-4zm14-1zm0-1zm7-2zm13 3zm7-3zm1 3zm5-1zm19 5zm-68 11zm3-5zm1-2zm7 4zm1 3zm2 0zm6-3zm17 3zm8-2zm21 3zm-152 8zm40 4zm63 1zm7-6zm1 4zm17 1zm6-4zm6-3zm-148 11zm110 3zm6-1zm62-1zm8 7zm-198 4zm2 10zm11-5zm9 0zm106 2zm13-4zm30-4zm27 3zm-202 8zm37 11zm85 0zm49-7zm-153 19zm0-2zm11-2zm89-5zm15 1zm-118 14zm3 1zm12 3zm83-1zm49-3zm10 0zm2-3zm-148 21zm116-5zm24 0zm-85 14zm9 0zm13 0zm65-7zm4 2zm-65 13zm4 2zm-41 16zm7-10zm29 1zm22 5zm9 5zm-101 8zm113-1zm-78 15zm8-8zm0 0zm2 6zm19-1zm12-5zm32 9zm5 1zm-88 6zm15 3zm18-1zm30 5zm31-1zm-81 8zm22-6zm10 6zm13-3zm10-1zm-17 11zm-31 11zm28 9zm27 2z"/><path stroke="#2de4ff" d="M512 634zm-38 14zm29 6zm47 2zm-40 8zm10 1zm-14 12zm9 12zm-8 9zm15 5zm25 1zm18 2zm-124 9zm25 3zm70-6zm3 6zm31 1zm12-9zm13 8zm4-2zm-112 12zm59-6zm-23 14zm-52 19zm20 2zm2-4zm33-2zm8-1zm30 4zm29 0zm17-8zm-131 18zm6-4zm70 4zm23 4zm4-1zm-154 7zm159 5zm-151 13zm14 1zm12-7zm66-1zm68-1zm10 2zm-46 18zm33 0zm-183 4zm134 0zm53 9zm-164 12zm141-11zm0 5zm-138 7zm3-1zm153 2zm-91 25zm34 0zm3-1zm-1 17zm0-6zm11 11zm8-2zm-21 2zm-18 24zm17-10zm-20 20zm-2 25zm11-7zm8 1z"/><path stroke="#2d2de4" d="M488 655zm65 10zm-105 16zm64 21zm57 7zm-69 2zm26 8zm2-5zm21 4zm7-4zm7 0zm5 5zm6-9zm2 7zm2-2zm5 4zm-90 6zm43-4zm3 8zm4 2zm1-5zm2 3zm11 2zm12-1zm8-6zm20 2zm15-1zm-93 12zm4-3zm9 2zm15 3zm2 4zm2 1zm2-5zm5 0zm3 0zm3 5zm3-5zm1 4zm7-7zm-155 12zm58-1zm12 10zm33-10zm3-1zm6 7zm9-7zm11 3zm4 4zm4-2zm13-2zm13-1zm20 2zm-188 14zm9-3zm103-1zm2 5zm2-7zm1 8zm1-7zm0 2zm5 4zm5-4zm3-2zm18 8zm5-6zm0 5zm6 0zm17 2zm6-1zm-182 3zm105 10zm30-10zm10 5zm14-3zm3 7zm28-3zm2-1zm-197 16zm22-2zm100-5zm3 7zm26-8zm9-1zm19 8zm9-6zm2 5zm-199 9zm9 7zm17-2zm6-10zm9 7zm93 3zm11-3zm20-1zm33-3zm8-2zm-167 19zm130-4zm1-1zm7 8zm1-6zm-155 18zm70 1zm82 0zm11-6zm4-5zm-93 18zm1 3zm18 1zm-73 12zm46-3zm24 4zm13-8zm9 3zm-84 12zm1-3zm36 6zm10-10zm2 8zm1 3zm32-3zm-58 16zm8-9zm3 3zm3 3zm5-1zm10 3zm15-9zm8 9zm-73 6zm47 3zm13 2zm2-7zm8 0zm16 6zm17-7zm-89 14zm29 7zm11-11zm3 1zm9 3zm0 7zm19-11zm-56 23zm8-6zm1-2zm9 7zm21-9zm5 0zm-48 12zm30 2zm4 4zm5-1zm7 1zm5-6zm4 0zm-50 11zm16 6zm4-6zm3 10zm5-6zm31-3zm7 1zm-47 12zm23 2zm1-3zm5 1z"/><path stroke="#e42d2d" d="M491 633zm8-4zm-33 16zm3 4zm7-9zm18 8zm-41 71zm-3 14zm89 1zm36 13zm-130 12zm42 2zm-24 13zm29 22zm-31 19zm21 0zm29-4zm-37 7zm-16 11zm28 30zm1 8z"/><path stroke="#e4ff48" d="M473 640zm-7 11zm16 10zm24-3zm-19 6zm0 2zm8 3zm53 0zm-62 13zm21 9zm-62 29zm104-10zm12 3zm-114 12zm7 4zm1-7zm2 11zm121-5zm-124 14zm112-3zm-95 13zm-28 7zm18 1zm26 7zm52-6zm44-3zm-58 22zm71 0zm9 0zm-154 7zm84-5zm37 9zm-112 9zm6-6zm5 1zm32-1zm89 11zm12-11zm-133 14zm3 4zm51 5zm62-10zm-114 20zm5-9zm3 11zm90-11zm-68 15zm4 21zm6 2zm35 2zm-27 12zm-30 14zm29-5zm-14 26zm-23 9zm12 0zm7 9zm56 0zm-35 11zm2-9zm9 10zm30-9zm-55 13z"/><path stroke="#ffe42d" d="M474 624zm-1 5zm1 3zm-1 12zm62-1zm-59 8zm0 0zm21 5zm0-6zm51 1zm-78 14zm14 36zm95 5zm-52 4zm59 3zm-144 21zm6 0zm4 0zm68 5zm48 3zm-99 15zm-67 12zm27 11zm38-4zm81-4zm-142 31zm49 1zm4-10zm23 5zm2 6zm5-2zm114-5zm-178 11zm89 3zm-92 11zm40 0zm4 5zm21 20zm31-6zm-4 11zm-14 25zm-10 29zm20 4zm33-1zm-48 9zm21 8zm5 7zm9-3z"/><path stroke="#2d7cff" d="M478 637zm62 20zm-68 15zm28 19zm-28 14zm71 2zm-54 4zm47 4zm27 4zm6 1zm3-4zm-129 9zm90-3zm3 4zm13-1zm23 4zm14-5zm4 9zm-144 11zm153-10zm-60 12zm1 4zm8 0zm40 5zm16-2zm-69 14zm2-6zm39-3zm24 1zm-178 11zm70 0zm19 1zm20 3zm50 5zm10-2zm20-2zm-206 16zm37-2zm6-7zm93-1zm18 12zm32-2zm3-10zm-157 33zm1-4zm83 6zm70-10zm-125 19zm101-3zm4-1zm4 2zm30-2zm-87 30zm-66 3zm68 0zm-30 17zm-19 16zm59-7zm3 1zm-53 15zm58 5zm-52 9zm24-9zm15 1zm-40 17zm18 1zm25 2zm-22 13zm18 11zm36-9z"/><path stroke="#e42d2d" d="M500 629zm-12 19zm-7 12zm17 11zm70 68zm6 2zm-130 9zm19-3zm4 7zm5 0zm-19 15zm8 17zm1 5zm5-9zm4 10zm67 3zm37 5zm-106 11zm2 23zm-23 35z"/><path stroke="#b02d2d" d="M466 627zm4 16zm19 16zm11 8zm-52 42zm6 31zm41 53zm-16 4zm3 28zm-12 6zm4 62zm75 27z"/><path stroke="#ffb02d" d="M469 633zm24-6zm-15 16zm32 2zm-28 7zm30 6zm-5 8zm-61 57zm153 2zm-153 11zm78 0zm6 4zm7-5zm39 2zm-30 8zm-96 21zm1-5zm4 11zm121-2zm-129 20zm13-1zm1-1zm7 3zm1-9zm148 5zm-164 17zm15-6zm20 1zm65-1zm-84 12zm6 7zm15-5zm29 5zm9 6zm3 1zm32-7zm14 10zm-63 9zm-68 18zm2 15zm8 0zm96 42zm-11 4zm-8 29z"/><path stroke="#7cffb0" d="M493 625zm7 1zm15 5zm-45 6zm31 12zm26 2zm-33 17zm6 4zm2-1zm12-9zm7 3zm-19 12zm12 5zm19 4zm16 23zm-102 10zm72-1zm21-6zm4 8zm5-2zm19 0zm42 3zm-174 4zm9-2zm13 6zm19-2zm52 5zm4-8zm33-2zm8 10zm7 0zm-21 3zm22 0zm11 0zm12 2zm-172 17zm27 2zm114-4zm28-2zm6 1zm-176 12zm11-6zm20 7zm34 3zm84-5zm29 6zm-31 11zm-100 14zm63-10zm3 0zm3 7zm20 1zm-148 13zm114-11zm55 8zm20-4zm-187 16zm11-8zm5 1zm0 8zm14-9zm7 10zm31-2zm105-2zm3 3zm-111 4zm99 9zm12-4zm-99 11zm23 6zm-20 12zm35-2zm-38 11zm27-7zm-77 17zm77 3zm14-5zm-61 13zm49 5zm11 1zm-3 2zm-22 17zm4-1zm-18 15zm25 0zm1-6zm-20 13zm3-2zm21 10zm6 14z"/><path stroke="#2d7cff" d="M498 636zm-12 10zm29 63zm43-1zm6 1zm-42 6zm13-6zm7 9zm1-4zm19 0zm1 5zm6-8zm6 10zm23-3zm-72 9zm24-2zm8 3zm5-4zm-35 14zm77-3zm-59 13zm42 1zm-186 20zm20-2zm5 0zm4-9zm148 2zm23-2zm-200 11zm35 8zm-18 14zm22-7zm110 0zm-105 17zm91 1zm19-4zm-37 14zm35-3zm43 3zm2-6zm-168 22zm3-11zm27 5zm106 3zm9-1zm-75 16zm10-10zm-18 26zm-11 11zm3 2zm65 7zm0-6zm8 0zm-66 7zm18 13zm10 5zm-33 14zm16-6zm-13 20zm29-4zm18 9zm-9 20z"/><path stroke="#2d48ff" d="M474 640zm4-3zm23 59zm25-2zm4-4zm3-4zm-33 23zm63-4zm4 1zm-38 7zm13 4zm11 4zm0-11zm6 2zm3 6zm1-6zm9 0zm-97 15zm19-3zm21 8zm3-4zm21-2zm1-1zm11 6zm12 1zm3-8zm24 3zm14-5zm0 6zm-171 16zm9-10zm77 8zm6-5zm17 5zm1-8zm12 2zm15-2zm0 5zm13-4zm3 5zm24-5zm-90 17zm3 5zm4-2zm4 0zm31-3zm23-2zm3-2zm6-2zm18 7zm-172 7zm1 7zm92-2zm8 1zm0-8zm14 4zm11 2zm4-4zm3 3zm29-1zm-162 11zm127 7zm2-4zm28 5zm12-5zm-207 8zm171-1zm17 8zm2-6zm-181 18zm11 0zm14-4zm7-1zm123 7zm26-5zm9 3zm-188 4zm21 8zm117-7zm8-1zm2 5zm21 0zm3-5zm0 6zm8-4zm-158 13zm13-1zm25-1zm92-2zm-54 32zm24-2zm-88 9zm0-4zm3 10zm41-4zm2-4zm7 8zm6-2zm6-4zm25-1zm4-2zm-101 15zm9 2zm25 4zm42-9zm21 7zm-53 10zm0-4zm0-1zm1 6zm22 2zm34-6zm-61 9zm20 9zm48-4zm-38 18zm35-9zm-51 21zm11-6zm12 1zm10 4zm4 0zm9-8zm-3 10z"/><path stroke="#ffe42d" d="M469 637zm31-10zm-15 16zm13 2zm-29 13zm3-5zm11-4zm14 5zm9 4zm-5 14zm5-9zm50 38zm-15 17zm-11 5zm48 3zm1-1zm-59 15zm43 4zm-49 8zm6-6zm-27 12zm22 10zm32-3zm-88 15zm123-3zm-122 10zm2-4zm8-1zm23 6zm115-5zm-190 19zm73 1zm7-7zm62 8zm-34 2zm81 0zm-171 12zm26 11zm11-8zm32 8zm59-10zm-123 14zm56 1zm51 60zm-47 32z"/><path stroke="#ff7c2d" d="M512 639zm-25 19zm3-4zm19 16zm4 17zm4 17zm-71 25zm2 2zm1-7zm110 1zm-121 11zm19 2zm102 0zm-115 11zm9 2zm76 5zm18-1zm-103 2zm13 4zm100 4zm-104 14zm21-9zm2 15zm-9 9zm1 7zm14-6zm-2 18zm-23 7zm97 40zm-96 16zm8-10zm64 2zm-3 21zm12 48zm-7 7zm0 2z"/><path stroke="#e4ff48" d="M463 634zm9-4zm9 3zm-11 8zm7 3zm18 4zm11-8zm12 6zm-26 6zm16 21zm19 7zm-24 10zm4-4zm17 3zm-47 19zm-26 8zm69 7zm70 2zm-145 15zm17-3zm67-3zm0 5zm42 6zm-118 5zm1 5zm19-6zm75 3zm30-4zm-121 17zm11-1zm0 3zm54-3zm76-7zm5 10zm4-6zm-185 11zm38 6zm9-2zm1-3zm136 0zm-141 19zm133-1zm-150 2zm1 0zm-11 18zm1 6zm19 0zm6-6zm-3 14zm3 6zm44 18zm15-3zm12 4zm-10 20zm32 1zm-23 7zm-2 24zm21 4zm-22 17zm-39 8zm37-5zm18 5z"/><path stroke="#2d2db0" d="M509 670zm23-3zm13-3zm-47 18zm24-1zm3-5zm-21 13zm-7 8zm42 9zm2 1zm5 1zm19-5zm1-2zm-50 17zm12-5zm7 0zm7-4zm12 7zm0 5zm4 0zm18 0zm12 0zm-67 3zm11 8zm28-7zm5-1zm5 4zm5-5zm-55 15zm6-5zm1 11zm2-11zm27 4zm15 7zm4-8zm3 7zm2-4zm6 3zm6-3zm9 4zm-168 13zm9-3zm48-2zm39-1zm5 4zm14-5zm10-1zm2 5zm2 3zm3-10zm-141 22zm10-11zm95 7zm1-1zm5-3zm7 8zm32-3zm-158 8zm6 2zm17 5zm2-3zm89-1zm26-1zm32 5zm12-11zm-69 14zm21 8zm24-5zm10 4zm12-4zm-178 16zm145-3zm7 4zm21-5zm-175 13zm10-5zm0 7zm135 1zm35-2zm-156 17zm1-3zm122 0zm-33 8zm2 2zm-79 12zm54-2zm-24 12zm37 5zm11-1zm5 3zm-54 2zm9 8zm5-8zm21 5zm15-5zm-50 12zm17-1zm36 8zm24-8zm-82 22zm17-9zm26 0zm12 6zm15-1zm-70 12zm59-1zm4-3zm5 5zm-50 14zm6-3zm17 16zm-5 9zm3 1zm1-5zm4 3zm1-5z"/><path stroke="#2d2de4" d="M527 675zm-15 17zm1-2zm35 15zm0-4zm8 6zm20 0zm-49 11zm2 2zm3-11zm4 3zm7 5zm1-1zm3-4zm8 5zm2-5zm4 7zm1-8zm4 8zm4 1zm-51 2zm8 7zm2-5zm7-1zm10-1zm10 2zm2-1zm5 6zm7-1zm3-3zm15 2zm6-1zm-73 16zm15 0zm4-8zm4 6zm4 3zm1 2zm1-11zm0 5zm6 4zm5-3zm-149 14zm2 1zm17-2zm81-3zm9-5zm4 6zm8 2zm3 4zm5-2zm16-6zm15-1zm10 4zm8-4zm2-1zm8 2zm-175 11zm91-1zm15 1zm3-1zm3 2zm17-3zm3 8zm19-7zm13 3zm-162 14zm27-6zm67 2zm15 7zm13-4zm51-2zm3 7zm-185 10zm9-6zm17 3zm12-1zm75 7zm18-7zm-145 18zm9-11zm6 6zm7-2zm15-4zm96 4zm34 1zm7 0zm19-4zm-161 13zm5 9zm3-5zm109 2zm8 4zm35-1zm-160 7zm101 6zm36-8zm1 0zm4 5zm14-9zm4 0zm-94 15zm11-1zm21 4zm-35 14zm2 2zm12-1zm3-1zm-66 15zm6-9zm80 1zm4 1zm-42 17zm1-4zm5-5zm8 5zm12 2zm8-5zm1 4zm4 3zm-63 7zm1 6zm5-8zm11 5zm15-1zm15 6zm2-3zm17 3zm9-11zm9 2zm0 1zm-72 9zm24 10zm2-1zm2 1zm6-5zm4-4zm0 5zm19 4zm-53 13zm16-2zm54-1zm-73 5zm33-1zm24 10zm4-10zm2 1zm-50 14zm17 2zm14-4zm2 5zm10 0zm3-4zm1-1zm-29 13zm8-3zm11 8z"/><path stroke="#ff482d" d="M461 647zm0-5zm5 2zm18 1zm26 7zm11 1zm7 6zm-62 7zm51-2zm28 43zm-99 27zm11 9zm138-8zm-21 30zm-122 15zm9-6zm14 7zm13 7zm-37 11zm42 2zm52-2zm-85 17zm17-2zm3-7zm-28 20zm5-5zm3-4zm12 7zm6 2zm-10 3zm54 13zm-19 20zm19-6zm-27 14zm39 12zm-14 25zm-27 13zm37 32z"/><path stroke="#ff482d" d="M488 638zm0 0zm29 5zm-1 33zm9 4zm16 32zm37-1zm-139 11zm9 11zm13 5zm-7 12zm11 5zm4 1zm49 1zm-88 5zm23 4zm0-4zm44 3zm79-1zm-86 15zm-13 6zm9 7zm-18 7zm13-4zm-20 21zm3-1zm8-6zm8 4zm94 5zm-19 87zm-56 14zm36 5zm7-4zm3 14z"/><path stroke="#2d7cff" d="M553 660zm-25 15zm21 2zm-41 13zm12-4zm40 32zm31-3zm7 5zm-70 4zm46 5zm17 1zm7 0zm1-7zm5 0zm-80 12zm35 13zm5-1zm4-1zm1 3zm27 2zm-24 7zm-36 15zm11-2zm9 4zm23-6zm-166 20zm31-5zm78-2zm5 4zm15 1zm40 0zm-170 13zm11-2zm29-1zm-19 18zm15-6zm9-1zm-25 16zm58 17zm9-5zm-47 21zm64-2zm28 2zm-71 20zm15-8zm46 12zm-10 16zm20-5zm13 3zm7-1zm-70 7zm27 8zm-8 7zm44 0zm3-1zm1 6zm-58 4zm21 6zm5 3zm0 4z"/><path stroke="#b02d2d" d="M480 629zm16 6zm-7 19zm-30 69zm33 40zm-13 53zm65 64zm-5 13z"/><path stroke="#2d2de4" d="M505 661zm6 4zm-9 20zm50 18zm20 2zm-102 5zm5 9zm15-9zm34 0zm0 8zm2-1zm7-3zm4-3zm11 8zm5-2zm7-6zm4 9zm24 1zm1-9zm-145 13zm47 3zm29-4zm12 2zm3-4zm31 9zm12-10zm-53 13zm17 8zm5-3zm1-4zm15-2zm6 1zm6 1zm5 1zm-164 17zm106 0zm2-5zm5 4zm6-2zm8 3zm3 4zm3-11zm3 8zm1 2zm1-10zm8 2zm3-1zm29 4zm-178 18zm71-6zm27-4zm46 9zm3 0zm25-6zm2-1zm2 0zm-190 13zm16-4zm6 10zm8-4zm90-3zm7 2zm9 6zm4-11zm8 0zm6-1zm8 3zm6-2zm10-1zm18 11zm-179 10zm3-6zm120 9zm21-2zm3-5zm3 4zm-159 9zm10-5zm20 2zm8-2zm93 1zm33 7zm7-3zm17 2zm-180 9zm4-1zm49 2zm82-6zm40 5zm1 1zm4-5zm10-1zm-195 18zm15 3zm11-3zm0 2zm129-2zm12 1zm1-1zm7-4zm7-1zm-157 13zm89 9zm47-11zm5 0zm-122 21zm30-3zm35-5zm3 3zm-73 13zm34-4zm5 1zm20 5zm13-5zm23-1zm6 8zm-76 8zm8-1zm0 4zm2-3zm53 3zm9 1zm8 0zm-71 15zm22-10zm37 6zm-47 5zm10 9zm2-10zm7 5zm10-1zm9 7zm5-1zm11-3zm1 5zm6-2zm-79 6zm18 0zm8 3zm9 1zm33-2zm0 1zm13 0zm-53 8zm3 3zm5 7zm23 2zm-47 13z"/><path stroke="#b02d2d" d="M492 634zm23 2zm-42 5zm12 14zm22 2zm6 3zm-66 64zm9 18zm7-5zm80-1zm-72 18zm1 14zm6-10zm69 26zm-75 15zm27 1zm-24 32z"/><path stroke="#e42d2d" d="M477 648zm22-9zm30 0zm-43 10zm3 18zm15 0zm-14 6zm4 3zm-43 56zm72 0zm27-2zm62 9zm-87 13zm71 2zm-179 5zm43 4zm-8 10zm-13 14zm36-3zm103 9zm-143 3zm29 5zm-11 6zm104-1zm33 11zm-136 10zm4-4zm14 11zm74 22zm-72 26zm79 9zm-65 38zm44 17z"/><path stroke="#b02d2d" d="M476 662zm-11 95zm22 7zm-35 10zm29 11zm0 4zm-13 17zm-11 17zm107 68z"/><path stroke="#2d7cff" d="M467 644zm63 30zm-23 20zm-29 7zm4 1zm91 1zm-22 18zm13-3zm14-3zm1-4zm17 5zm-122 5zm50 5zm15 4zm3 3zm4-3zm50-4zm-150 11zm92-1zm15 4zm13 1zm-85 11zm5 4zm36-8zm11 7zm3 0zm23-9zm20 6zm-165 17zm-10 7zm17 5zm120 0zm62 3zm2-3zm-41 13zm-145 13zm25 5zm0-4zm74 8zm-77 9zm95 4zm-55 24zm38-5zm21 4zm-45 4zm38 7zm7-8zm2 6zm-50 4zm22 8zm2-6zm42 3zm-91 12zm16 16zm0-6zm66 2zm13 4zm-85 5zm43 21zm11 9zm-32 6zm43 2z"/><path stroke="#2de4ff" d="M517 648zm31 9zm-19 14zm24-1zm-49 5zm9 7zm14-8zm5 1zm9-1zm-48 12zm26 2zm1 8zm1 11zm-47 2zm46 11zm10-8zm6 7zm-90 6zm78 3zm6-4zm4-1zm4 5zm12 1zm10-6zm15 15zm5-2zm-108 19zm68-5zm19-4zm27 6zm25-2zm-186 16zm48-9zm44 1zm7 6zm7-4zm1 6zm4-2zm13-7zm15 4zm13 0zm-163 18zm105-7zm63 9zm24-10zm-188 14zm1 3zm53 1zm79-4zm54 6zm-55 9zm-106 6zm25 7zm49 1zm89-8zm1 0zm-94 13zm16 7zm56 2zm10 1zm-68 11zm-2 5zm3 6zm8-4zm-81 8zm56 8zm7-3zm29 1zm1-6zm-93 14zm45 19zm46-1zm-67 20zm1 2zm30 2zm5 0zm37-1zm6-8zm-33 19zm3-2zm32 0zm-31 21z"/><path stroke="#ffb02d" d="M521 636zm-22 14zm0 15zm-13 11zm40 3zm2-5zm-25 15zm30 26zm30 5zm4 0zm-132 9zm8-6zm75 8zm8 11zm75-1zm5 2zm-158 11zm-19 8zm35 3zm61-6zm-100 22zm33-7zm-3 8zm6 6zm108 0zm-76 15zm-21 11zm3-1zm13-3zm-10 9zm40 67zm1-8zm-14 20zm-11 14zm73 1zm-39 8zm7 16z"/><path stroke="#ffb02d" d="M487 654zm16 5zm4-10zm9 9zm3-2zm0-1zm8 1zm-9 27zm-1 18zm46 4zm27 3zm-138 10zm1 6zm78 8zm64 10zm-143 8zm77 0zm-86 7zm36 1zm7 1zm5-2zm0 13zm77 8zm-102 9zm6-2zm93 3zm-110 14zm9-5zm20 0zm-37 11zm10-2zm0 4zm8-3zm1 0zm8 6zm20-8zm60 10zm-88 13zm56 9zm-14 23zm40 8zm-27 21zm-21 6zm57 5zm-72 8z"/><path stroke="#b0ff7c" d="M478 633zm3-1zm1 3zm12-2zm7-5zm8 8zm-44 11zm26-8zm4 7zm12-1zm17-4zm-47 8zm3 6zm8 1zm6-3zm8-2zm7-2zm26 4zm-57 12zm2 7zm11-3zm31 3zm-33 9zm43-4zm-13 9zm47 18zm-121 16zm99-10zm3 8zm12-4zm2-2zm25-2zm-142 14zm71 5zm32 4zm-20 5zm12-5zm9 12zm0-6zm13 0zm42-5zm-163 11zm2 8zm30 2zm9-3zm40-4zm50 5zm-131 9zm14-3zm74-1zm0 10zm26 1zm-95 10zm23 1zm53-11zm15 6zm42 3zm-181 10zm59 2zm3 3zm5-12zm70 2zm5 5zm-145 6zm55 6zm4-2zm108-4zm24 3zm-162 9zm39 2zm11 6zm98-9zm-124 19zm57-2zm-19 15zm14-6zm-25 15zm9-3zm39 8zm-49 3zm11 6zm-35 15zm11-10zm17 22zm45-6zm11-4zm5 7zm7-2zm-13 9zm-26 18zm36 3zm-64 12zm25-10zm16-1zm30 3zm-56 25z"/><path stroke="#2d48ff" d="M469 645zm39-6zm-23 13zm42 1zm2 29zm-32 5zm16 14zm39 1zm9 4zm-83 9zm10 4zm47 2zm19-8zm5 1zm8 3zm5-3zm11 5zm7 1zm7 0zm-112 5zm49 6zm4 2zm6-6zm17 2zm4 4zm5-12zm8 7zm-138 6zm46 0zm61 5zm8-1zm20-4zm23 5zm3 1zm-170 16zm94-6zm3-4zm14 4zm1-3zm3-1zm4-1zm-119 22zm8-4zm3 2zm84-4zm1 7zm45-6zm36 1zm-193 12zm108-3zm8 2zm50 1zm0 3zm10 1zm19-3zm3-3zm-185 10zm127-1zm17 1zm18 6zm20-2zm4-5zm-20 19zm3-4zm-188 15zm3 2zm173-1zm3-2zm5 5zm2-10zm-24 13zm-132 14zm71-3zm12 9zm-45 7zm13 3zm3-6zm10 7zm37-6zm-88 10zm2 5zm1-4zm24 7zm32 1zm13 0zm16-1zm-97 13zm44-9zm6 8zm17 1zm43-2zm-21 15zm-50 9zm13 4zm1-10zm9 0zm4 7zm2-2zm16-6zm2 10zm6 0zm-52 1zm8 12zm25-10zm23 5zm-27 16zm5-8zm8-2zm26 7zm-32 14zm9-1zm9 3zm12-2zm-54 3zm25 3z"/><path stroke="#2d48ff" d="M494 651zm24 0zm-26 17zm62 2zm-34 19zm4-3zm-45 18zm81 0zm2-4zm-72 19zm53 1zm11-3zm6-2zm6 5zm2-8zm-46 11zm8 5zm6 4zm1-8zm3-1zm1 3zm6 0zm14-4zm1 3zm32 1zm-96 9zm15 5zm6-4zm5 4zm5 1zm3-4zm10 8zm11-11zm1 0zm3 0zm8 2zm2 3zm29-3zm3-1zm-72 13zm3 0zm17 6zm6-1zm22-2zm9 2zm13 0zm0-4zm-149 16zm75-7zm7 0zm3 7zm12-3zm5-3zm8 5zm2-6zm40 0zm2 7zm8-5zm3 1zm-208 13zm24 0zm120 6zm30 0zm23-4zm-177 11zm4-5zm162 1zm2 2zm7 0zm-192 8zm10 3zm126-2zm9 8zm27 3zm10-10zm1 6zm14 0zm8 0zm-34 5zm2 5zm17-5zm-184 11zm5 6zm6 3zm4-5zm15 0zm64-1zm76 3zm-121 8zm27 8zm1-7zm35 20zm2-2zm-74 7zm55 1zm1-2zm-21 20zm7-3zm14-2zm33-3zm4 1zm-72 9zm16 6zm12-3zm23 4zm13-1zm-23 8zm-24 19zm-4 9zm7-3zm20 5zm18 2zm10-1zm0-1zm1-6zm10 2zm-11 11zm13 2zm-22 14z"/><path stroke="#48ffe4" d="M461 629zm7 19zm55-9zm-56 19zm24 9zm6-3zm1 9zm35-11zm-20 16zm20 1zm-56 17zm18-3zm21-3zm-38 23zm3 7zm50-4zm3 0zm16 3zm26-5zm5-3zm-135 19zm45-3zm31 0zm9-5zm3 8zm22 0zm23-6zm-141 20zm13-3zm71-7zm3 3zm14-1zm2 6zm12-7zm12 0zm1-1zm8 6zm19-2zm3 4zm1-7zm6 10zm-180 6zm25-3zm38 0zm0 6zm53-6zm33 2zm4 2zm9 0zm11 1zm-181 11zm4 1zm10-3zm36-1zm15 2zm48-2zm8 4zm8-5zm9 9zm7-4zm10-2zm14-4zm-38 13zm34 2zm-174 7zm37 2zm21 3zm85-2zm20 4zm8 1zm6-1zm7-2zm-181 13zm23-5zm132 8zm3-7zm26 5zm2-5zm4 2zm4 1zm11 1zm-205 14zm3 2zm44-8zm3 7zm12 3zm44-2zm14-4zm16-1zm3-4zm50 4zm7 3zm-184 16zm55-3zm128-9zm-97 18zm7-3zm20 10zm-85 18zm7-3zm38 7zm57-4zm-78 16zm27-11zm15 5zm23-4zm7 6zm-77 15zm15-1zm1 1zm3-5zm16 2zm28 5zm-30 4zm37-3zm11 4zm7 6zm-33 1zm27 6zm2-5zm-56 13zm0 5zm28 0zm-10 9zm12-2zm-15 12zm26-2zm4 5z"/><path stroke="#7cffb0" d="M467 640zm27-2zm3 3zm-8 18zm8 2zm9-7zm-31 17zm23-3zm1 3zm24 2zm9-7zm-25 16zm11-3zm-19 10zm14 2zm8-5zm-35 16zm52 10zm-16 13zm4 1zm8 5zm23-3zm11 1zm-30 13zm-84 4zm22 8zm6-4zm7 2zm36-2zm-104 13zm41-4zm1-1zm73 9zm0-10zm1 3zm51 5zm-155 8zm18-4zm79 1zm16 3zm57 6zm-168 9zm10 2zm112 1zm20-7zm-166 9zm9 11zm8-10zm30 2zm80-2zm74 11zm-33 11zm-104 11zm37-3zm74-6zm-65 15zm9 3zm-26 15zm34 1zm-54 6zm17 2zm45 11zm2-2zm-43 15zm-20 5zm1 9zm6 1zm4-3zm37-1zm2-5zm-53 22zm44-2zm21-2zm14 0zm-50 9zm6 0zm28-1zm6 15zm-52 7zm10 3zm19 0z"/><path stroke="#ff7c2d" d="M461 634zm20-7zm6 15zm22-1zm-33 20zm6-2zm27-3zm-68 63zm-4 9zm6-3zm-10 13zm107-1zm-96 13zm135-3zm-107 19zm33-5zm36-3zm18 0zm-92 23zm102-5zm-112 15zm7 2zm6 0zm1-10zm1 9zm95-5zm-109 9zm29 8zm38 6zm43 3zm35-3zm-138 10zm21 0zm-32 11zm8 40zm5 15zm9-3zm19 28zm43 5z"/><path stroke="#48ffe4" d="M478 632zm9 10zm7 3zm15-7zm-32 13zm18 20zm28-7zm3 9zm0-9zm3 2zm1-1zm-45 21zm9 20zm8-7zm43 7zm-22 4zm15 9zm12-3zm16 3zm0-4zm6 5zm2-11zm8 0zm6 12zm-151 7zm103-2zm5 0zm2 3zm4-3zm19 0zm0-4zm4 9zm3-4zm-132 9zm8 1zm66 4zm44-6zm13-1zm1 3zm28-3zm-180 23zm0-8zm72 1zm60 2zm1-4zm2 1zm8-3zm-106 15zm0-1zm12-1zm7 2zm3-1zm41 4zm5-5zm28 2zm12 1zm5 3zm0-2zm2-2zm19 4zm-193 13zm25-2zm65-4zm20-1zm20 2zm3 2zm5-3zm11 0zm2 6zm25-7zm7 2zm31-1zm-188 20zm24 1zm92-10zm12 9zm35-9zm7 8zm7-9zm-193 19zm25 2zm5-3zm24-4zm72-1zm11 7zm0 2zm12-9zm-106 14zm62 0zm13 3zm55-4zm6 1zm-164 20zm31-10zm114 8zm18 0zm-133 8zm39 2zm4 1zm6 3zm5-3zm9-1zm-18 15zm21-3zm2-7zm-31 21zm43-1zm12-1zm-105 13zm65 0zm-19 15zm10-4zm12-4zm39 0zm-77 17zm39-6zm40 6zm-66 4zm7 10zm13-8zm19 0zm11-1zm4 8zm15-6zm7 1zm-69 32zm39 6z"/><path stroke="#2de4ff" d="M516 644zm-12 8zm31-1zm0 1zm7 4zm-67 6zm11 4zm-43 14zm58-2zm-17 18zm28-8zm-34 12zm67 9zm5-1zm-32 10zm49-4zm8 6zm-50 3zm-82 10zm50 1zm39 2zm42 2zm30-4zm7 0zm-183 14zm48 1zm5 2zm13 3zm34 1zm9-9zm13 7zm50-1zm-85 15zm87-5zm-164 18zm91-6zm46-5zm-171 23zm26 0zm101-8zm39 6zm-169 10zm156 5zm21-5zm-148 13zm33-6zm29 3zm89 0zm4-5zm12 9zm11-2zm-105 11zm15 0zm55 4zm0-8zm7 7zm10 1zm7-9zm-128 15zm40 0zm8 3zm10 1zm2-4zm1 14zm6-6zm4 4zm-50 9zm49 7zm-60 5zm2 11zm6-2zm52 1zm2-3zm-16 14zm-11 12zm-14 7zm43-3zm5 7zm12 1zm-49 8zm34-3zm-5 28zm-16 8z"/><path stroke="#48ffe4" d="M494 636zm17-6zm-37 13zm32 12zm5-5zm0 11zm11-9zm-34 17zm25-4zm2-3zm32 4zm7 1zm2-4zm-45 20zm34-7zm-35 9zm20 22zm-94 11zm10-4zm123 0zm1 4zm2-2zm6 2zm3-4zm1 0zm17-1zm-69 13zm1 4zm36-2zm25 2zm-146 9zm4-4zm72 5zm15-6zm39 6zm1-6zm6 4zm-134 15zm57 1zm22-2zm3-1zm25-4zm1 8zm22-7zm9 2zm15 0zm-173 16zm9 0zm48-4zm83 2zm21 0zm-189 16zm20-10zm2 5zm10-2zm122-2zm20 3zm7-3zm-172 13zm4 7zm16-8zm57 0zm41-2zm7 5zm14-3zm8 1zm1-1zm1 6zm14 2zm0-1zm5-4zm3 6zm20-5zm-168 14zm9 4zm23-6zm149 0zm-172 13zm116-4zm11 3zm36-5zm-188 19zm21-7zm20 7zm6 1zm40-2zm4-2zm61 7zm12-1zm7-7zm-152 9zm88 10zm7-2zm52-8zm-98 20zm42 2zm-39 5zm9 13zm-19 8zm6 5zm11-2zm2 8zm17-7zm33 4zm-16 6zm24 3zm-63 17zm56-9zm10 7zm-81 15zm45 1zm-26 13zm39-2z"/><path stroke="#2db0ff" d="M535 653zm-46 15zm17-7zm-21 21zm27 10zm41 19zm8 7zm4-9zm-6 18zm5-2zm4 8zm0-4zm-39 14zm10-2zm-123 11zm125-5zm-84 18zm9 1zm16-5zm51 3zm2-6zm-104 42zm13-3zm105 2zm11-1zm31-4zm-178 29zm186-2zm-146 41zm28-2zm37 9zm-31 19zm16 18zm4 6zm-14 6zm20 1zm22 13z"/><path stroke="#e4ff48" d="M482 622zm-1 10zm41 4zm-41 6zm10-3zm3 8zm5-6zm14 6zm1 5zm-23 13zm6-3zm24 5zm-9 16zm-4 18zm34 4zm51 1zm-147 6zm117 9zm26-4zm-144 13zm91-2zm30-5zm6-2zm-113 20zm0 3zm62-5zm63 2zm4-4zm-106 13zm7 5zm47-8zm26 6zm-107 8zm113 5zm22-3zm13 4zm-161 10zm23-5zm1 2zm2 3zm1 3zm18-10zm54 10zm36-2zm33-2zm-64 11zm5-2zm22 1zm40-3zm-158 18zm7-4zm25 7zm55-10zm4 9zm-101 3zm29 3zm55 6zm22-4zm12 1zm-117 14zm29-1zm1-2zm21-1zm86-1zm-113 13zm17 16zm28 24zm7 1zm-29 5zm29 3zm-28 9zm26 3zm26-3zm-60 14zm52 11zm-5 25z"/><path stroke="#2d2de4" d="M478 643zm43 25zm31-1zm-54 28zm2-5zm-12 18zm26-9zm20 10zm9-9zm7-3zm24 2zm7 6zm2-1zm-97 6zm45 6zm5-6zm1 5zm5-1zm10-3zm3 9zm0-8zm9 4zm9-2zm1 7zm4-4zm7-3zm1 6zm-68 9zm8-5zm7-1zm3-1zm0 8zm6-5zm1 4zm33-3zm3-5zm18 2zm-152 19zm79 3zm23-7zm10-3zm2 4zm10 2zm3 0zm2-3zm15 0zm5 3zm6-4zm-175 16zm1 3zm41-1zm52-9zm10 9zm1-4zm5 0zm13 0zm9-6zm2 6zm8-1zm5 1zm23 5zm13-5zm2 3zm-197 10zm9 5zm7-4zm42-5zm56 4zm4-1zm7-6zm16 2zm1-2zm14 1zm5 10zm10-4zm7-2zm15 6zm-42 7zm19 1zm9-3zm2 0zm-178 15zm0-1zm17-5zm37 0zm90 9zm7-1zm1 3zm21-10zm7 1zm3-1zm11 10zm-186 10zm4-7zm142 3zm2-1zm1 0zm-139 14zm0-2zm138 5zm2-8zm28 5zm-160 11zm133 1zm12 2zm-154 4zm77 7zm18 3zm-18 9zm6 1zm2 0zm4 1zm3-6zm2-2zm-37 15zm15-2zm-34 19zm34-4zm3 2zm4 0zm-38 12zm29-3zm34 4zm1-3zm4-1zm3-4zm3 7zm-60 6zm20 3zm10 0zm18 0zm4 2zm25 2zm-85 12zm6-5zm15 5zm3-4zm32 6zm15-3zm-72 6zm0 0zm13 10zm10-6zm6-6zm14 8zm9 1zm4-5zm25 3zm-51 11zm35-4zm8 1zm7 4zm-58 5zm20 8z"/><path stroke="#ffe42d" d="M466 631zm20 1zm12 0zm-26 12zm3 15zm32 1zm16-3zm3-2zm23 12zm-66 7zm33 7zm12-8zm-88 49zm12 22zm131-9zm-109 16zm-19 8zm14 5zm31-4zm-49 14zm8 1zm1 4zm9-3zm1 5zm76-12zm38 2zm-178 28zm26-3zm40 7zm28-3zm1 2zm105-6zm-127 20zm-23 11zm2 0zm11-9zm54 2zm-60 10zm85 23zm-69 8zm-30 11zm50 8zm33 6zm26-1zm-17 11zm1 5zm14 9zm-30 13zm3-7zm16-2zm-51 13zm26 3zm32 0z"/><path stroke="#e42d2d" d="M465 639zm5 6zm19-8zm-7 15zm17 15zm-44 61zm-4 30zm4 2zm8 9zm-3 12zm74 7zm-65 15zm15 5zm13 0zm-39 18zm1-6zm133-1zm-67 34zm-45 17zm-5 11zm19 32zm46 16z"/></g></g><g fill="none" stroke="#8a8aff" stroke-width="1.3" stroke-linejoin="round"><polygon points="234.8,305.0 270.9,313.5 286.6,331.6 254.5,352.8 230.9,337.3 225.1,323.5"/><polygon points="232.8,343.4 247.5,345.8 253.3,351.5 253.3,371.0 237.5,371.0 230.5,360.0 230.8,349.2"/><polygon points="271.7,349.7 295.5,345.4 303.2,355.4 311.5,388.1 306.3,408.8 296.5,421.5 283.8,421.5 270.5,403.0 262.5,397.3 258.0,383.5 260.0,365.5 271.7,355.5"/><polygon points="217.5,354.6 228.2,355.4 235.0,371.5 234.0,379.5 253.7,396.6 234.4,420.0 227.4,418.3 223.4,419.4 220.0,426.3 215.3,426.3 200.9,410.8 199.2,405.0 199.0,378.5"/><polygon points="234.4,422.3 260.5,397.3 269.8,404.2 280.5,418.1 285.2,435.0 286.7,454.5 279.0,467.3 260.5,477.3 248.2,476.5 240.0,466.5 232.0,455.5 220.5,455.8 221.7,447.7 233.8,435.0"/></g><rect x="318.8" y="292.7" width="3.3" height="199.8" fill="url(#jet)" stroke="#8a8a9a" stroke-width="0.4"/><text x="253.7" y="306.5" font-size="7.5" fill="#000">CD56+</text><text x="289.0" y="342.7" font-size="7.5" fill="#000">CD14+</text><text x="207.2" y="352.0" font-size="7.5" fill="#000">CD19+</text><text x="190.8" y="434.1" font-size="7.5" fill="#000">CD3+CD8+</text><text x="240.5" y="484.5" font-size="7.5" fill="#000">CD3+CD4+</text><text x="322.6" y="294.7" font-size="3.5" fill="#555">0.5</text><text x="322.6" y="344.5" font-size="3.5" fill="#555">-0.8</text><text x="322.6" y="394.3" font-size="3.5" fill="#555">-1.9</text><text x="322.6" y="444.1" font-size="3.5" fill="#555">-3.0</text><text x="322.6" y="493.9" font-size="3.5" fill="#555">-4</text><text x="407.5" y="283" font-size="11" fill="#111">Day 100</text><path d="M510.1 292.5V493.0" stroke="#ececec" stroke-width="1"/><path d="M368.6 292.2H497.4M368.6 292.2V493.2H497.4" stroke="#a9a9a9" stroke-width="1.5" fill="none"/><g filter="url(#fu)"><polygon fill="#e8d0a0" fill-opacity="0.35" points="410.4,317.7 419.0,315.0 428.5,316.4 436.2,319.3 441.2,324.6 443.2,332.6 440.1,340.8 433.5,344.8 425.4,341.5 418.0,336.7 413.0,330.8 409.9,322.8"/><polygon fill="#4060d0" fill-opacity="0.40" points="412.9,350.3 422.5,351.2 425.5,354.3 426.4,364.5 417.3,364.7 414.0,358.6"/><polygon fill="#5080e0" fill-opacity="0.45" points="438.7,356.5 453.2,353.8 471.7,355.2 480.2,364.3 482.1,380.0 481.9,397.2 477.1,410.0 469.1,413.6 460.3,411.5 445.3,395.0 439.1,383.3 437.6,368.5"/><polygon fill="#2040d0" fill-opacity="0.45" points="440.1,357.1 451.9,354.0 464.2,354.2 467.2,362.5 461.5,371.7 454.1,377.6 444.6,381.8 438.5,374.4 438.0,364.2"/><polygon fill="#4070e0" fill-opacity="0.45" points="381.3,380.9 387.8,377.4 395.9,379.3 399.4,386.5 399.5,399.8 400.1,412.0 394.4,414.6 387.9,410.6 381.9,404.7 380.4,392.7"/><polygon fill="#f0c090" fill-opacity="0.30" points="404.9,387.1 413.3,389.4 425.2,396.4 420.4,403.9 412.7,414.5 405.5,414.8 405.0,400.8 403.9,392.3"/><polygon fill="#4878e0" fill-opacity="0.50" points="426.6,419.2 435.3,415.5 444.0,419.4 450.6,428.6 455.2,440.5 457.3,452.2 455.2,462.7 447.5,469.8 437.1,472.5 428.4,469.7 421.7,462.5 418.8,452.1 418.0,440.5 419.9,428.3"/></g><g filter="url(#fb)"><g transform="scale(0.5)" fill="none" stroke-linecap="round" stroke-width="3.40"><path stroke="#ffe42d" d="M819 632zm11 2zm18 1zm17-4zm-11 12zm-30 9zm8-1zm8 5zm10 4zm23 6zm6 12zm-28 18zm61 11zm6 12zm20-10zm-125 19zm19-2zm25 1zm53 5zm32-2zm-36 10zm-116 7zm3 0zm19 7zm5-2zm10 1zm2-3zm28 6zm63-1zm45-9zm-84 21zm-78 10zm93-8zm1 9zm1-5zm24 5zm30 0zm-129 4zm1 10zm77-4zm21-7zm-107 21zm5-1zm82-6zm55 0zm-176 31zm36-5zm106 1zm34-5zm-76 48zm20-9zm-87 34zm57 2zm-27 14zm35 5zm10-2zm-39 28zm36 2z"/><path stroke="#ffe42d" d="M844 622zm-13 9zm40 4zm-52 14zm17-1zm7-1zm22-3zm-36 7zm32 9zm-33 3zm19 10zm8-8zm19 6zm-17 14zm10-7zm17 33zm-35 16zm29-1zm54 2zm-138 6zm12 23zm67-10zm84 6zm-156 14zm85-6zm26-2zm20 8zm-90 14zm-22 2zm15 8zm8-6zm116 6zm-146 11zm-15 13zm38-1zm23-1zm98 7zm-105 20zm-8 12zm26-3zm29-1zm-71 59zm28 6zm3-5zm-10 15zm9-7zm10-1zm1 8zm29-3z"/><path stroke="#e4ff48" d="M843 653zm52 16zm10 0zm-34 12zm1 1zm-21 4zm10 0zm19 15zm-48 16zm8-6zm58-1zm52 1zm-121 16zm89 0zm17-5zm-138 12zm5 5zm11 5zm98-6zm28 2zm16 0zm10-5zm-160 14zm3 6zm96-8zm45 9zm-135 12zm64-3zm2-2zm45-1zm2-2zm-123 30zm132-4zm24 0zm9-4zm-161 12zm6 3zm18 6zm102-3zm3-5zm-116 21zm89-5zm16 5zm13-9zm-124 17zm10 0zm99 0zm-54 24zm-11 6zm10 7zm25 5zm-34 15zm2 4zm40-6zm6 7zm-33 14zm9 3zm32 6zm-59 7zm29 5zm0 2zm-25 11zm26-3zm-22 19z"/><path stroke="#e42d2d" d="M837 630zm14 14zm27 3zm6 1zm-46 64zm114 14zm-58 7zm-68 24zm-16 13zm8 5zm-15 29zm19-2zm7-6zm126 2zm-161 20zm4 13zm46 39zm18 33z"/><path stroke="#ffb02d" d="M819 636zm18 4zm16 4zm9-1zm9-4zm-22 15zm11 2zm13 3zm-31 12zm24-3zm0-4zm18-1zm-51 12zm23-2zm16 6zm3-5zm5 9zm4 2zm-91 53zm19 2zm90 4zm13-9zm43-2zm-156 20zm72 5zm-52 32zm94-1zm40-5zm-123 15zm64 3zm-82 10zm18-4zm-23 16zm17-4zm9 0zm-9 13zm44 8zm-63 12zm14 10zm31 10zm43-7zm-44 11zm-16 14zm49 38z"/><path stroke="#2de4ff" d="M851 649zm3 2zm13 0zm-26 20zm7-6zm-4 13zm19-4zm1 16zm-42 7zm11 11zm12 0zm103-5zm-116 9zm3 7zm6-1zm8-4zm59 0zm4 3zm6-6zm8 5zm0 3zm4-7zm-85 9zm6 7zm27 3zm3-6zm71 3zm-52 13zm17-1zm-130 12zm44 1zm52 3zm0-2zm24-8zm9 1zm2 6zm-131 14zm11-9zm5 11zm35-7zm37 3zm1 1zm8 1zm11-3zm-95 5zm126 5zm8 1zm9 0zm4 5zm4-7zm10-1zm-186 11zm6 9zm17-2zm139-8zm7 7zm17 2zm-199 11zm10-2zm4 4zm-13 11zm51-5zm111-1zm11 3zm-157 5zm40 10zm47-2zm-5 10zm12 6zm51-11zm-77 21zm7 1zm12-7zm19 19zm-37 10zm5-7zm15 9zm22 6zm12 2zm-53 13zm45-1zm1-6zm5 6zm7-5zm4 0zm-47 18zm42-7zm8 2zm-57 15zm39 0zm-29 27z"/><path stroke="#e4ff48" d="M840 623zm23 33zm-46 6zm40 2zm7 3zm21 11zm5 2zm8 30zm-108 12zm14 10zm80-5zm7-1zm12-2zm14 3zm20-5zm-131 12zm3 2zm69-1zm55 4zm-128 11zm1 2zm9 4zm25 0zm46 0zm-52 8zm1-5zm5 0zm47 4zm67 1zm-160 7zm33 5zm18 9zm61-1zm13 4zm16-2zm-168 16zm174-1zm-183 7zm64 0zm24 2zm19-1zm68 3zm-120 10zm10 1zm12 1zm28-7zm75 3zm9 8zm-78 5zm17 5zm-20 6zm-23 14zm40 7zm-42 4zm21 2zm35-5zm-45 16zm-6 17zm30-2zm-15 5zm16 9zm-34 11zm0 8zm7 2zm53-3zm-37 17zm6-3zm1 5z"/><path stroke="#2d48ff" d="M842 653zm3 5zm25 21zm-38 28zm13 1zm36-4zm41-1zm8 1zm-51 11zm24-3zm8 2zm8 4zm16-4zm21-1zm-119 8zm39 6zm17-2zm9 1zm3-5zm3 6zm8-3zm5 6zm29 0zm-97 4zm31 2zm26-2zm14 7zm2-4zm32 4zm-193 11zm141-2zm0 3zm3-8zm7 7zm2 3zm9-9zm8 7zm4 3zm-180 1zm27 0zm44 3zm72 2zm33 2zm-165 15zm10-9zm99 6zm14-5zm22 4zm-148 8zm9 3zm11 0zm141 7zm-145 0zm12 11zm5-1zm140-9zm-179 21zm18-7zm1 8zm16-1zm59-8zm55 2zm3 11zm-47 13zm3 4zm6-1zm-23 7zm39 7zm-96 11zm51-6zm6 10zm6-4zm-27 12zm5-7zm21 5zm5 3zm9 1zm-55 6zm35 7zm6-9zm15 0zm29-1zm9 11zm-69 2zm16 9zm5-2zm18-8zm8 8zm11-1zm-40 6zm10 3zm5-1zm-38 14zm9-2zm31 3zm11 2zm2-5zm0 4zm-29 6zm-12 13zm11 0zm15-1z"/><path stroke="#48ffe4" d="M832 658zm65 11zm12-3zm-54 16zm3-6zm7 8zm12-10zm32 4zm-60 8zm13 4zm7 1zm-44 14zm41 1zm19-8zm-57 15zm32-2zm15 1zm43 0zm1 8zm7-6zm9 4zm0-3zm-126 10zm28 4zm10-8zm32 5zm4-5zm13 1zm19 1zm18 5zm3-5zm-55 16zm10-5zm20 7zm8-5zm21-1zm-115 19zm22 1zm24-2zm5-7zm10 9zm0-10zm6 2zm19 0zm2 7zm18-5zm13 2zm8 6zm-186 10zm9-2zm14-7zm3 0zm9 0zm34 2zm4 5zm60-7zm22 6zm22 3zm-156 10zm2-2zm20-4zm15 7zm61-3zm5 3zm14-4zm4 2zm22-7zm-168 19zm29-3zm122-2zm3 8zm-136 12zm49-1zm15 0zm4-6zm63-1zm1 3zm-137 12zm90 4zm43-1zm4 3zm5-9zm16 4zm-133 13zm32-4zm82-3zm8 10zm-81 31zm4 4zm16-1zm0 0zm-51 7zm3-3zm0 10zm18 0zm16-8zm14 2zm4 3zm-42 9zm4 6zm6-5zm17-3zm6 0zm18 3zm17-2zm7 30zm4-5zm3 1zm7 6zm-52 11zm14 1zm-10 6zm34 1zm-44 7z"/><path stroke="#ffb02d" d="M841 634zm-25 7zm60 6zm-53 12zm55-9zm-38 22zm2-5zm46-3zm11 41zm-112 22zm137 2zm-116 16zm8-6zm114 3zm-169 33zm57 2zm8 3zm137-2zm-30 4zm-116 21zm27-9zm7 4zm88 5zm8-4zm-164 13zm52 9zm-12 17zm95-3zm-70 19zm1 8zm10-5zm0 2zm35-5zm-82 12zm46 5zm-6 13z"/><path stroke="#ffb02d" d="M827 633zm7-5zm1 4zm-10 8zm11 7zm5-6zm10-2zm3 1zm8 0zm24 15zm-23 13zm23 5zm-15 21zm4 12zm-70 27zm5-5zm100 4zm50-1zm-172 3zm14 27zm15 3zm-4 27zm19-3zm21 3zm88 1zm-128 4zm23 4zm88-5zm-101 13zm15 0zm96 6zm-140 48zm45 24zm63 19zm-46 19zm46-3zm-3 7z"/><path stroke="#ffb02d" d="M823 637zm16-2zm-15 3zm49 9zm13-3zm-46 15zm8 8zm41 1zm-56 6zm28 8zm2-5zm-65 42zm-8 17zm151 8zm-126 9zm2 8zm4-2zm133 1zm-149 19zm6 22zm20-4zm11-1zm-15 27zm116 2zm-123 8zm11 0zm17 4zm3 4zm-54 23zm95 7zm-68 8z"/><path stroke="#7cffb0" d="M841 635zm1 12zm10-4zm24-2zm1-1zm-61 12zm64 9zm-54 4zm33-2zm-15 22zm8 0zm1-9zm37 9zm-59 18zm-32 13zm27-2zm66 2zm9-5zm13 7zm8-5zm20 1zm-38 17zm2-9zm14 3zm14-2zm1 7zm0 3zm9-2zm12 0zm10-9zm-178 18zm6 2zm7-9zm79 2zm1 1zm38 6zm10-9zm-162 22zm62-4zm3 5zm1 0zm50-3zm-105 16zm49-12zm11 9zm61 1zm2-7zm-136 10zm27 7zm27-3zm84 3zm-104 14zm25-1zm100-1zm23-8zm-178 21zm12 2zm2-1zm45-10zm74 3zm7 6zm17-5zm18 3zm20-4zm-180 25zm19-2zm13 4zm2 0zm65-5zm-4 25zm-67 14zm32 5zm19 0zm34-7zm-53 19zm27-7zm-3 21zm11-7zm29 7zm-51 1zm60 8zm-39 10zm34 6zm-44 17zm6 5zm6 0zm27-2zm-30 6z"/><path stroke="#b02d2d" d="M820 636zm21-6zm2 12zm36 121zm-52 8zm-1 15zm4 1zm13 6zm-39 29zm40 66zm-1 36z"/><path stroke="#2de4ff" d="M831 672zm14 11zm-8 38zm13-4zm31 0zm24 0zm15 3zm42 1zm-166 1zm4 4zm85-2zm66 8zm-158 9zm22 0zm64 1zm18 2zm19-9zm10 5zm-149 16zm24-7zm6 0zm42 5zm29 3zm4-9zm9-2zm15 5zm13-4zm32-1zm-192 13zm8-1zm13 5zm11-3zm32 4zm8-7zm116 2zm-180 17zm3-5zm9 4zm5 4zm31 1zm10-8zm58 0zm21-2zm46 9zm-169 8zm48 5zm59-3zm70-3zm-145 18zm120-7zm23-3zm2 11zm-43 2zm1 8zm-120 3zm32 6zm95-2zm1-4zm-65 19zm-50 20zm18 20zm33-9zm0 8zm29 0zm-16 5zm-2 8zm25 10zm11-5zm-4 14zm2-4zm15 6zm-59 14zm49 3zm-54 16zm4-1zm1-1z"/><path stroke="#2d7cff" d="M837 637zm7 35zm60-7zm-44 8zm-1 18zm-16 23zm40-2zm8 9zm9-2zm34-1zm-64 15zm33-7zm8 7zm3-10zm7 1zm-40 14zm9 2zm1-4zm11 9zm8-5zm12-3zm0 6zm3-2zm37-4zm-185 18zm159-1zm3-7zm25 3zm-175 18zm101-3zm39-4zm-61 11zm27 8zm11-2zm39-4zm-171 18zm18-6zm26 4zm71-4zm45-1zm26-2zm-173 13zm4-1zm-14 19zm2 1zm5 1zm137-7zm11 2zm-157 16zm104-2zm-38 15zm25-6zm14 0zm-29 9zm5 3zm19 1zm20-1zm-94 13zm68-3zm-53 14zm42 11zm9 7zm9-8zm-37 19zm18-4zm5 4zm44-7zm-57 26zm-4 18zm34-9z"/><path stroke="#2d48ff" d="M848 646zm-9 9zm17 5zm53-9zm-31 28zm6-1zm-61 26zm8-3zm60 0zm24 6zm25 0zm-144 10zm49-5zm41 5zm2-1zm6 0zm4 0zm49-1zm3 1zm-116 5zm23 12zm26-8zm5 5zm4-7zm1 3zm3 5zm2-3zm4 5zm6-9zm4 8zm24 0zm1-8zm-51 18zm18-2zm1 2zm17 0zm4 0zm3-6zm27 2zm-187 14zm18 5zm66-2zm24-9zm10 7zm2 0zm1-4zm15 0zm2-3zm-133 23zm8-12zm2 6zm7 4zm78 0zm17-9zm3 9zm0-8zm12 8zm0-10zm-20 21zm74-3zm-187 8zm8 4zm3 0zm28 4zm59 1zm81-7zm17 7zm-208 10zm21-1zm18-6zm1 2zm119-3zm9 5zm5-2zm13 3zm11-3zm9-1zm4 4zm-184 9zm5 1zm9 2zm40-5zm19 8zm80-8zm3 8zm0-5zm-164 16zm7-8zm45 3zm127 3zm-80 9zm-11 19zm4-4zm17 0zm17-2zm-93 9zm44 6zm0-4zm4-2zm-51 18zm41-4zm25-1zm26 7zm-75 3zm6 8zm23-8zm13-1zm14 4zm16-3zm12 6zm-40 9zm2 2zm22 4zm-53 9zm9 0zm23 1zm24 2zm-26 4zm17-1zm9 6zm1-4zm1 9zm1-2zm-16 12zm2 0zm12-9zm16 1zm3 4zm-47 11zm19-4z"/><path stroke="#2d2de4" d="M908 660zm-67 19zm32-2zm38-1zm-53 11zm0 8zm1-4zm6-5zm-33 22zm4-2zm4-6zm4 7zm-18 4zm2 6zm22 0zm26-1zm2 3zm6-7zm16 5zm38-8zm13 12zm-114 6zm20 5zm17 1zm3-7zm5-3zm14 3zm6 2zm2 2zm5 1zm0-5zm15-1zm5 8zm6-1zm5 0zm16-7zm-103 9zm30 6zm4 2zm15-1zm6-2zm1-2zm3 3zm0 3zm2-3zm7-6zm4 4zm17 0zm3-2zm1 6zm12-6zm-176 20zm0 0zm42-3zm1 3zm4-10zm51 8zm0-8zm13 3zm3 6zm2-3zm0 5zm5-7zm11 1zm1-4zm20 9zm17-2zm11-9zm-192 24zm14-2zm102-9zm6 8zm3-1zm2-2zm15-3zm38 2zm10 0zm-191 12zm25-5zm94 3zm14 9zm30-8zm17 3zm-191 8zm8 6zm9-9zm15 3zm33 3zm67 5zm53-4zm26 0zm1-6zm-208 14zm7 5zm5 0zm6-6zm2 6zm5 0zm3-2zm3 1zm4 3zm87-8zm12-2zm17 1zm17 7zm11 3zm3-4zm8 2zm-157 15zm134-3zm26-1zm-155 14zm70-1zm3-5zm42 3zm3 1zm-119 5zm1 0zm57 2zm16 15zm1-5zm11 11zm-88 9zm5-8zm5 0zm64 6zm26-4zm1 8zm4-10zm-43 15zm24-2zm4 0zm1 3zm-44 15zm4 1zm7-4zm49-5zm1 6zm0 3zm-47 12zm38-4zm1 2zm3-2zm5-5zm7 1zm3 8zm-71 8zm15 4zm7-2zm5 2zm12-8zm8 3zm15 3zm5-1zm1-3zm-77 12zm17-3zm3 4zm29-3zm6 9zm22 2zm0-9zm-36 19zm4 0zm6-3zm4-5zm12 5zm1-4z"/><path stroke="#ff482d" d="M824 648zm58 0zm-43 13zm7-4zm1 13zm6 3zm23-5zm-30 15zm9-7zm-50 69zm90-2zm-96 11zm16-8zm46 3zm65-2zm38-2zm-25 24zm-170 5zm44 3zm6 3zm3 6zm11-3zm-18 18zm9-1zm0 2zm23 2zm77-1zm-113 2zm23 5zm-22 19zm9-4zm18-1zm10 27zm-54 6zm44 26zm28 7zm10 35z"/><path stroke="#ff7c2d" d="M866 634zm8-2zm-51 8zm12 5zm32-4zm-34 23zm24 8zm28-6zm-35 14zm43 41zm20-9zm-109 19zm77-6zm-75 21zm5 0zm74 4zm15 1zm-63 11zm-17 9zm43 8zm-52 14zm20-2zm2 2zm10-1zm-28 11zm1-3zm12 2zm100-3zm-114 22zm16 0zm7-1zm26 6zm91-5zm-75 18zm-77 23zm97-6zm-65 18zm36 4zm18 13zm-37 21zm26-7zm-40 9zm61 6zm7-5zm-42 29z"/><path stroke="#2d7cff" d="M850 642zm-14 9zm63 9zm-78 3zm-23 17zm73 3zm7 2zm-57 16zm12-3zm12 0zm4 22zm54-1zm9 0zm9-3zm4-5zm0 8zm-50 7zm2-1zm5 0zm4 1zm4 4zm28 2zm6-1zm32-6zm-81 12zm16 7zm12-4zm6-7zm14 5zm-150 15zm18-6zm13 0zm2 9zm86-9zm0 10zm-116 11zm5-9zm45 0zm5 0zm56 7zm43-2zm-177 16zm34-1zm5 1zm-4 6zm163-2zm-54 16zm9 0zm58 0zm-193 13zm35-2zm22 1zm-39 11zm9-4zm76-2zm-90 14zm95 1zm-30 16zm6-4zm-19 21zm30 1zm0 13zm0 5zm15 10zm7-2zm-30 12zm33 5zm-21 16zm11-11zm10 6zm17 4zm4-10zm0 15z"/><path stroke="#b02d2d" d="M847 626zm-26 19zm1-6zm13 148zm20 47zm-8 65zm7 19zm52 20z"/><path stroke="#b02d2d" d="M870 635zm-72 81zm53 17zm87 8zm-39 22zm28-3zm-99 35zm-50 18zm45 19zm2-1zm15 47z"/><path stroke="#2d2de4" d="M799 681zm61-3zm-14 22zm20 5zm23 0zm49 3zm-108 5zm22 5zm32-4zm17 4zm5 3zm13-9zm2 1zm14 2zm8 1zm3-1zm4 4zm-109 6zm32 4zm6-1zm14 3zm9 1zm17-8zm11 0zm5 4zm14-1zm-74 12zm4-5zm2 7zm5-2zm1-6zm4 2zm3 6zm9-4zm1-4zm1 2zm2 0zm2-2zm22 6zm12-3zm5 1zm12 6zm-179 11zm99-4zm3 4zm3-6zm21-1zm7 7zm10-8zm-164 11zm22 7zm7 4zm0-3zm151 0zm10 4zm12-5zm3-5zm5-2zm-212 14zm7 9zm1-8zm3-2zm3 4zm6 2zm13-1zm3-5zm2 9zm4-1zm72-7zm18-1zm2 10zm6-10zm26 7zm34 0zm-187 5zm11 3zm0 2zm3 3zm3-9zm1 11zm2-9zm106 2zm8 3zm8 1zm49-4zm1 6zm-187 7zm3 0zm26 5zm-39 9zm4 2zm10-6zm121 6zm0-7zm18 1zm3 4zm9-6zm11 8zm0-6zm1 7zm5-5zm-160 16zm8-3zm4 2zm123-3zm3 4zm-84 13zm13-1zm31 3zm-40 12zm18-6zm0 5zm1-9zm29 10zm-47 1zm51 10zm-100 9zm53 2zm5-6zm15-3zm9 7zm-33 5zm3 3zm6 8zm5-12zm4 2zm11 10zm8 0zm7-3zm3-6zm9 0zm3 2zm-73 14zm4-3zm16 6zm32 2zm-41 0zm6 8zm30-3zm19 2zm1 5zm0-11zm0 11zm8-11zm-42 18zm3-6zm3-1zm14 1zm11 10zm-42 3zm5 5zm23 2zm4-5zm0-4zm3 8zm0-3zm3 6zm4-5zm2 2zm-43 13zm2-5zm12 6z"/><path stroke="#b0ff7c" d="M870 638zm12 9zm-35 3zm44 14zm-43 16zm12 15zm11-4zm-22 11zm37 4zm20-6zm7 4zm8 14zm19 0zm9 2zm-158 6zm13 0zm89 2zm-92 14zm7-2zm94 1zm29 0zm3 1zm6-3zm-121 12zm9 3zm9 0zm8 1zm3 0zm47-4zm37 15zm24 3zm-175 8zm-6 14zm26-9zm116 8zm10-8zm3 4zm17-2zm-177 20zm8-7zm29-1zm13 7zm-6 3zm28 10zm118-8zm0 6zm-10 10zm-138 7zm1 3zm38 11zm18 4zm-72 8zm63 0zm8 10zm19 8zm28 4zm-77 10zm8 7zm17 0zm9 6zm21 8zm22-7zm-66 17zm33 4zm32-9zm-69 16zm37 13z"/><path stroke="#b0ff7c" d="M875 635zm-56 5zm8 18zm19 0zm17-6zm26 3zm-64 16zm62-7zm-25 13zm4 13zm-71 25zm87 3zm3-3zm-91 8zm5 2zm135 7zm-143 9zm9 3zm93-1zm-89 7zm13 4zm23-8zm30-1zm-57 24zm5-11zm62 7zm5-4zm-122 16zm179-1zm11-5zm14 7zm-200 8zm151 6zm47-2zm-194 15zm63 0zm10-1zm106-5zm-179 15zm40 0zm14-5zm116 0zm3 8zm-153 2zm23 10zm54-11zm52 2zm-65 13zm8-2zm-27 34zm5-6zm7 4zm0-2zm-49 8zm9 0zm40-3zm-45 17zm70-6zm18 6zm23 3zm-95 3zm59 7zm-35 12zm31-4zm12 20zm21-6z"/><path stroke="#48ffe4" d="M839 637zm-11 4zm56 4zm-20 14zm-39 11zm54-7zm2 10zm24-4zm0 2zm-24 3zm22-1zm4 4zm-76 28zm14-5zm100 6zm-120 13zm13 0zm21 2zm41-6zm18 1zm0-3zm8 3zm1 3zm5-1zm-79 10zm21-6zm6-1zm8 6zm1-1zm7 2zm9 0zm-25 6zm13 1zm11 4zm-80 17zm28 0zm54-8zm0 6zm2-2zm18-6zm-123 15zm11 3zm3 4zm16-9zm11 7zm4-1zm4-3zm27 3zm5-5zm7 6zm7-5zm15-2zm3 3zm1 6zm8-11zm33 10zm10-2zm-81 5zm20 1zm6 5zm26-1zm18 1zm-197 9zm28 4zm127 1zm16 3zm26-11zm5 7zm-201 9zm50 2zm37 2zm51 0zm50-8zm-178 15zm2 6zm0-4zm5-5zm23 0zm30 11zm55-7zm-108 18zm6-9zm144 8zm23-3zm-104 10zm45 3zm-31 14zm12-6zm24 0zm-90 9zm36 8zm38 0zm8-3zm15 4zm-95 9zm54-5zm11 3zm5-2zm9-2zm-62 15zm26 6zm33-9zm13 8zm5-3zm-62 7zm33 3zm44 5zm-69 5zm23 7zm-5 4zm26 7zm17 2zm1-7zm0 8zm3 7zm-42 13z"/><path stroke="#7cffb0" d="M845 639zm8 15zm-4 9zm21 8zm14-7zm-38 22zm32 3zm-10 13zm33 5zm-99 7zm20-4zm50 6zm11-3zm53 5zm10 3zm4-5zm-161 5zm91 6zm5-5zm23 10zm5-1zm18-6zm4-2zm14-2zm7 5zm-100 7zm31 8zm31-6zm1 9zm4 0zm17-4zm1-4zm16 4zm-104 14zm20 1zm4-4zm29-5zm58 6zm-166 13zm20-7zm62 2zm4-1zm8 10zm6-5zm11-4zm2 0zm19-3zm-171 17zm84 6zm43-4zm46-1zm9 4zm-167 11zm20-2zm166 0zm-194 15zm18 2zm65-6zm59 0zm-109 7zm24 5zm121 1zm5 3zm-176 3zm7 1zm0-1zm13 2zm3 7zm75 13zm6-9zm-29 21zm11-8zm-22 12zm20 1zm47 3zm-68 15zm1-8zm44 6zm28-4zm-19 17zm-30 4zm6 9zm7-5zm18 25zm7-1zm-20 16z"/><path stroke="#ffe42d" d="M856 630zm-24 11zm37 3zm-42 15zm40-4zm-29 14zm22-1zm-12 8zm30 4zm-29 8zm6 0zm4-1zm13 10zm-74 19zm48-2zm-42 7zm99 7zm-101 8zm-28 16zm39 0zm14 0zm48-5zm9 6zm5-4zm-94 8zm10 3zm20 2zm56-2zm7 8zm47-3zm-127 27zm16-1zm25-3zm5 1zm-10 8zm25 16zm1-2zm9 2zm41-3zm-143 7zm4 6zm28-1zm20 3zm29 6zm39 14zm-41 16zm-32 10zm36 3zm1 15zm7 4zm47-3zm-65 23zm39 2zm24 5zm-33 16zm-16 15z"/><path stroke="#7cffb0" d="M843 633zm9-5zm-22 19zm20-4zm-18 10zm11 6zm-12 12zm34-8zm-14 16zm-6 17zm40-4zm-33 16zm-48 10zm27-4zm70 4zm1-7zm0 0zm26 5zm7-7zm22 2zm-164 13zm12 0zm48 3zm55 6zm23-9zm37 3zm-152 17zm68-8zm21 1zm9 1zm-125 18zm29-8zm24 8zm59-6zm38 6zm24-8zm-167 17zm48-4zm64-1zm4 4zm-145 6zm0 4zm134 3zm24-2zm1 0zm-152 9zm95-2zm36 4zm28-5zm0 1zm11 5zm-163 17zm50-9zm14 2zm93-3zm6 10zm4-7zm-155 9zm22 11zm104-10zm-134 12zm74 5zm15-3zm4 1zm3-5zm7 7zm37 3zm26-1zm-104 7zm9-4zm64 2zm-70 16zm1-4zm-10 11zm63 9zm-86 13zm19-5zm16 0zm4 1zm25 1zm3-2zm-4 10zm-46 18zm25-1zm10-3zm-38 12zm40 3zm1-3zm-30 12zm46 5zm8-9zm-39 20zm11-9zm43 7zm-55 5z"/><path stroke="#2d2de4" d="M889 646zm-51 11zm5-4zm21 30zm7-5zm-24 23zm1 1zm18 3zm18 2zm7-3zm23-3zm1 7zm-94 7zm31-5zm28 11zm7-5zm1 1zm1-3zm3 2zm5 1zm23 1zm1 3zm13-10zm1 4zm0 5zm1-4zm17 1zm-130 4zm21 9zm30-3zm1-2zm11-2zm0-1zm3 2zm16 4zm8 1zm1 2zm6-6zm2-3zm1 10zm25-3zm-150 7zm12 4zm58 3zm8-3zm6 0zm13-4zm0-2zm4 10zm4 1zm1-10zm4 5zm1-2zm11 3zm5-7zm5 2zm5-1zm14 6zm-183 11zm26 0zm87-2zm4-4zm2 11zm14-7zm3 0zm9 4zm9-9zm6 2zm7 3zm21 6zm-174 2zm115 11zm5-3zm4-9zm11 12zm28-2zm-185 6zm9 1zm30 6zm0 1zm2-11zm2 10zm2-2zm86-8zm11 0zm10 10zm24-6zm-29 17zm37-4zm-137 9zm2-1zm97 1zm19 3zm11-2zm-164 18zm3-4zm7 3zm0-5zm5 4zm4 2zm9 1zm0-5zm22-4zm90 6zm13-7zm-141 19zm21 2zm138-2zm-81 12zm10 3zm10-2zm10 2zm-82 11zm54-1zm11-2zm14-6zm7 6zm6-1zm-11 15zm0 2zm9-9zm-63 16zm2 4zm6-1zm19-8zm5 0zm9 4zm9 2zm13 2zm10 1zm-72 8zm32 1zm7-2zm33-4zm-64 12zm0 10zm9-7zm7 2zm2 5zm1-10zm10 5zm9 3zm6-1zm-53 12zm5-4zm3-2zm17 8zm5-2zm4-4zm33-1zm11 7zm1-3zm1-3zm-52 9zm8 0zm13 10zm18-10zm-49 18zm2 0zm5 3zm31-8zm-1 13z"/><path stroke="#7cffb0" d="M874 644zm-27 8zm26 6zm11 1zm-4 2zm-11 32zm5-8zm-26 22zm32-5zm7 1zm6 1zm37 1zm-86 10zm66 5zm15-8zm0 2zm5 3zm14-8zm-149 22zm6-7zm21-1zm63 3zm1 5zm6-7zm6-1zm43 0zm-64 11zm0 1zm3 3zm36-3zm11 9zm30-8zm-148 18zm22 1zm2-9zm56 6zm-124 16zm1-9zm15 6zm4-7zm18 5zm9-2zm0 7zm20-3zm20-1zm46 0zm21-1zm-153 6zm28 0zm55 2zm3-1zm34 7zm81-7zm0 9zm-194 10zm178-3zm-140 9zm93 0zm40 7zm-182 7zm2 4zm53 4zm92-8zm21-4zm-163 14zm15 5zm80 12zm-17 11zm7-1zm26-2zm1-2zm-76 17zm-9 6zm42 1zm28 11zm17 7zm25 2zm-71 5zm13 5zm27 1zm10-3zm29 1zm-74 8zm65 5zm-35 11zm45 5zm-56 5zm14 19z"/><path stroke="#ff7c2d" d="M837 628zm4 8zm44 10zm-1 9zm-65 10zm4-1zm43-3zm21 1zm13 53zm49 0zm-144 17zm99-1zm17 1zm26-2zm-159 7zm105 6zm-76 11zm4-6zm71 9zm17 17zm-70 14zm50-5zm-72 18zm16 4zm-20 2zm26 5zm1-4zm79 4zm-92 13zm96-1zm-96 11zm24 11zm9 52zm17-3zm23 20z"/><path stroke="#ff7c2d" d="M844 638zm22 1zm-44 17zm7 5zm4-11zm15 5zm13-2zm17 8zm-47 5zm1-2zm15 4zm22 20zm41 23zm-15 25zm-23 16zm10-1zm-83 9zm17 8zm-5 10zm139 1zm19-8zm-160 11zm24 2zm6 8zm-4 5zm-4 30zm-30 28zm100 2zm-25 42zm-42 6zm47 8zm-23 12zm42-5z"/><path stroke="#2db0ff" d="M860 641zm21 34zm23 4zm-44 10zm14 0zm3 0zm-54 27zm12-1zm87-2zm16 7zm-103 12zm4-8zm63 0zm5 4zm12 1zm17 4zm-20 3zm-22 18zm62-4zm-61 7zm5 4zm-20 18zm50-7zm-169 20zm30-6zm13 3zm35-6zm119 24zm-23 19zm-91 10zm13-2zm9 12zm-64 12zm54 10zm-19 15zm18 5zm-9 2zm16 13zm19 18zm17 10z"/><path stroke="#e4ff48" d="M822 646zm16 6zm3 3zm2-5zm7 6zm-11 11zm2 3zm-10 4zm11 1zm10 12zm15-2zm8 10zm-49 8zm83 1zm5 4zm-119 9zm88 3zm15-3zm1-2zm1-4zm15 6zm6-2zm8 4zm-134 9zm56-4zm27 9zm78 11zm7-7zm-184 16zm27 1zm27 0zm58-5zm7-3zm60 9zm-190 9zm180-4zm-80 17zm12-7zm29 0zm-68 18zm16 3zm70 2zm-18 0zm-76 19zm4-5zm28 8zm16-4zm36 5zm2-2zm-83 8zm89-1zm11 4zm21 2zm-157 6zm13-2zm53 8zm3 5zm-69 19zm78-3zm3-4zm15 5zm-54 13zm20 0zm28-4zm11 2zm-81 11zm31 3zm11-4zm26 2zm6 3zm0-9zm-25 13zm24 8zm-9 14zm-8 22z"/><path stroke="#2d2db0" d="M879 646zm0 13zm13-6zm-35 10zm31-1zm24 7zm-54 14zm30-9zm9 31zm3-2zm1 3zm24 2zm-98 5zm57 6zm9-7zm31 1zm-78 15zm1-4zm9 1zm29 1zm8-3zm1 5zm15 4zm3 0zm3-8zm1 8zm3-2zm13-5zm-98 8zm7 2zm34 1zm7 7zm1 1zm20-2zm25-9zm-158 19zm69-5zm39 7zm1-4zm5 6zm6-10zm14 9zm59-5zm-194 10zm12-2zm102 5zm10-2zm8-2zm14 5zm5-6zm5 5zm6 4zm3-4zm19-1zm-190 10zm2 7zm29 1zm0-1zm1-8zm87 2zm5 2zm17-3zm32 1zm-151 13zm5 3zm2 0zm103-2zm5 4zm2-7zm-148 16zm19-2zm8 7zm6-10zm5 0zm5 7zm95 3zm25-7zm16 5zm-159 3zm5 6zm23-5zm117 8zm-144 2zm181 7zm-78 12zm-35 29zm16-4zm20-2zm31 2zm-37 10zm-8 12zm32 1zm-61 16zm5-9zm8 4zm2-3zm-13 16zm25-2zm36-5zm-61 13zm74 6zm-70 13zm19 0zm15-1zm7-7zm-22 14zm2 1zm0 2zm21 0z"/><path stroke="#2db0ff" d="M827 648zm6-4zm18 15zm51-3zm-58 21zm14 6zm12-10zm-22 21zm20-2zm0 11zm17 11zm6 2zm19 4zm14-9zm-42 18zm9-1zm42-2zm15 5zm-73 7zm20-2zm31-1zm-163 13zm89 4zm21-4zm35 6zm9-5zm22-3zm-148 14zm37 4zm124-5zm-55 17zm42-3zm5 18zm19-4zm1 5zm-52 10zm40-3zm-189 8zm1 9zm9 5zm11 2zm140 5zm0-11zm-78 40zm3 8zm3-5zm52-1zm-33 26zm-38 12zm31-1zm-2 8zm62 3zm-45 15zm-24 12z"/><path stroke="#2d7cff" d="M834 631zm-1 15zm22 9zm18-3zm-11 17zm-9 5zm-10 26zm64 0zm-101 14zm72 6zm2-6zm41 0zm-83 14zm7-1zm113-6zm-81 20zm13 1zm10 0zm3 2zm6 1zm2-11zm7 1zm-139 21zm98 0zm10-9zm23 7zm18 2zm3-4zm17-3zm-111 19zm67-7zm10 0zm21-3zm-168 18zm12 0zm4-6zm1 1zm11 9zm6 1zm118-3zm-131 12zm117-4zm-136 9zm165-1zm-162 13zm16 6zm12 2zm125 4zm-68 20zm1-5zm15 17zm-63 4zm51-1zm34-1zm3 9zm10-7zm-55 22zm2-4zm38-3zm11-1zm-50 8zm42 4zm-47 17zm9-3zm1 2zm7-5zm35 4zm1 1zm0-3zm-73 10zm23-3zm5 11zm14-3zm10 1zm-31 16zm50 7zm-30 6zm16 1zm-11 14z"/><path stroke="#48ffe4" d="M851 654zm-3 19zm40-6zm16-4zm-45 14zm19 8zm-38 19zm6-1zm42 5zm36-2zm7 0zm-137 10zm46-2zm14-1zm43 4zm7 0zm27-4zm9 7zm-140 7zm6-2zm38-4zm44 3zm8 3zm1 5zm2-2zm19-7zm8 7zm8-7zm3 2zm2-3zm9 9zm6-1zm9 2zm-128 4zm53-2zm3 7zm36 3zm4-5zm22-5zm-160 14zm14 0zm4 5zm14-4zm11 3zm41-2zm5 5zm13-9zm4 7zm45-1zm1 0zm12-4zm13 5zm-214 7zm49 6zm22-8zm29 10zm10-9zm17 2zm4-2zm16 7zm23 0zm19-7zm20 1zm-166 19zm20-2zm91-2zm20 0zm5 6zm15-3zm-184 11zm13-1zm2-2zm19-3zm83 2zm8 2zm23 2zm13 0zm36-3zm-173 11zm7 5zm23-3zm77-3zm54 5zm-178 6zm3 5zm10 3zm82-4zm0 4zm76-1zm6-4zm-135 17zm42 2zm27-9zm34 3zm23-2zm-91 20zm14-12zm23 9zm10-2zm-43 15zm18-1zm17-9zm-46 12zm2 2zm40 9zm9-6zm2 4zm-48 10zm40-1zm-41 11zm53 7zm5-6zm2-2zm9 4zm3-3zm-74 14zm13 5zm11-5zm-20 12zm10-1zm4-2zm3 8zm11-6zm13 0zm-44 11zm40 5zm2-10zm-35 15zm1-1zm27 9zm19-6z"/><path stroke="#2de4ff" d="M837 646zm42-4zm-20 13zm27-6zm-7 35zm19-8zm-67 26zm9 2zm56 5zm10 1zm1 8zm25-9zm4 4zm-57 14zm73 1zm-184 14zm158-2zm11-1zm8-1zm-23 8zm13 3zm11 6zm2-8zm5-2zm-190 22zm0-2zm11-4zm35 1zm2-2zm17 4zm41-5zm33 2zm-106 9zm2 8zm91 0zm22-5zm10-3zm35 6zm-145 6zm8 6zm71-1zm27-4zm-6 13zm28-2zm-179 14zm9 8zm6-5zm13-2zm57 4zm21-8zm9 2zm70 8zm8-8zm-147 19zm57 2zm56-4zm6-3zm1 3zm-51 12zm5-5zm-24 11zm5 6zm-4 7zm-7 24zm21 1zm3 6zm13-7zm2 3zm2-4zm19 6zm-65 7zm45 20zm13-1zm-66 15zm20 5zm0 18z"/><path stroke="#ff482d" d="M875 681zm-16 6zm82 53zm-132 13zm73-6zm59 11zm-124 25zm5 1zm20-1zm2 4zm-40 16zm102-3zm-89 8zm19 3zm-20 9zm19-2zm6 2zm31 16zm-66 36zm62 14zm21 18z"/><path stroke="#2db0ff" d="M826 633zm55 53zm-32 18zm45 13zm-16 14zm51-9zm10 5zm-87 8zm-73 17zm60 4zm26-4zm47 3zm58-9zm-207 25zm7 2zm142 3zm-136 11zm171-5zm-117 91zm35-3zm-48 10zm67 8zm5 10zm-24 9zm19 4zm2-4zm23 3zm2 10zm-15 11z"/><path stroke="#ffe42d" d="M849 627zm26 6zm-11 13zm-40 13zm57-5zm-19 15zm8 2zm7-4zm1 51zm0-5zm4 7zm4-7zm-80 18zm3 0zm48 0zm35-2zm-91 15zm13 10zm20 4zm2 9zm-18 13zm-12 13zm29-8zm107 3zm-120 13zm6 2zm126-10zm-129 19zm16 0zm86 3zm18-4zm-82 8zm65 7zm-77 24zm13-8zm8 2zm-54 20zm30-8zm47 3zm-35 13zm40 4zm11-2zm-89 12zm63 1zm-31 5zm6 4zm2 4zm49-1zm-65 2z"/><path stroke="#ff482d" d="M852 641zm0 0zm2 3zm1-3zm-7 13zm10-5zm-51 75zm121 6zm-130 11zm5-2zm1 5zm4-6zm-14 18zm28 1zm-32 17zm13-4zm91 2zm76-3zm-145 14zm27 13zm1 1zm-18 15zm-21 14zm11 42zm56 0zm-19 18zm19-4zm-13 25zm-11 10zm41 24z"/><path stroke="#ff482d" d="M824 635zm-5 13zm22 9zm12 0zm7-6zm2 31zm-19 17zm69 8zm-110 13zm136-1zm-46 3zm-116 23zm132 9zm11-4zm-113 17zm9 6zm-37 11zm43-3zm10 6zm2 1zm5-2zm76 0zm-101 10zm27 1zm8 0zm-25 10zm7 4zm11-1zm-13 9zm8 2zm4 0zm-12 64zm58-4z"/><path stroke="#ffe42d" d="M837 625zm21 11zm1 0zm14 11zm-43 9zm53 2zm-36 12zm21 4zm5 1zm4 5zm-40 25zm91-1zm-135 17zm1-4zm14 1zm78 0zm25 12zm10 11zm-109 10zm2-2zm18 2zm1 6zm98 4zm24-1zm-52 10zm20 2zm23 8zm-54 1zm67 7zm-152 15zm1-6zm9 4zm29 0zm80 1zm2-1zm9-7zm0 4zm-61 13zm82 2zm-50 7zm-50 20zm-28 8zm48 15zm20 7zm-51 9zm32 21zm12-4zm-16 6z"/><path stroke="#e4ff48" d="M821 632zm4-2zm46 4zm-43 4zm23 9zm-4 14zm34 1zm-36 16zm2-4zm4 2zm19 4zm14 2zm4-6zm-8 12zm-31 13zm54 17zm16-4zm-32 13zm49 5zm-69 10zm17 1zm42-4zm43 1zm-199 11zm54 5zm16-4zm38 2zm1-2zm82-5zm-145 11zm13 3zm63-1zm1 6zm14-3zm15 0zm38-3zm-138 18zm73 0zm33-1zm2-4zm-125 15zm85-6zm-77 22zm15-7zm11 6zm41 0zm48-4zm34 0zm-123 18zm24-6zm-47 18zm10-5zm55 17zm-1 1zm0 5zm15 6zm-85 13zm0 10zm66-9zm-25 20zm18 1zm13-7zm28 7zm-69 4zm59 4zm-64 15zm12 13zm27-9zm33 3zm-31 14zm13-6z"/><path stroke="#e42d2d" d="M850 642zm-24 19zm21 44zm-42 33zm-3 9zm9-1zm146 12zm-152 17zm8-1zm11 6zm-7 8zm12-2zm6-3zm-22 52zm55 34zm-3 40z"/><path stroke="#2d7cff" d="M829 669zm42-5zm12 14zm-16 22zm-33 12zm53 8zm3-5zm34-4zm2 1zm16 4zm10 3zm-110 6zm47 7zm13-4zm25-3zm1 0zm1 6zm4-8zm-76 10zm23 12zm34-2zm24-5zm18 1zm5-5zm-130 23zm99-3zm-143 5zm0 9zm7-5zm43-4zm50 4zm13-5zm6 11zm5-9zm-122 15zm102 4zm-2 10zm60-4zm8 4zm-103 14zm85 1zm-73 13zm-85 8zm16-5zm65 8zm-21 10zm3 1zm-1 10zm8-5zm-9 28zm23 0zm20 3zm19 2zm-62 6zm26 2zm3-2zm42-4zm-38 13zm18 6zm-36 10zm0 4zm1-5zm17 4zm3-6zm-6 17zm1-9zm14 3zm9 4zm9-7zm-54 14zm9 7zm39-4zm-44 8zm8 0z"/><path stroke="#ff7c2d" d="M839 630zm7 4zm14-2zm-7 28zm32-3zm1-5zm-57 14zm7 6zm49-6zm-49 9zm91 38zm27 6zm-157 12zm5-4zm86-4zm56 3zm-137 7zm-3 19zm78 1zm29 13zm36 2zm23-6zm-157 11zm1-4zm-3 22zm12-4zm2-1zm75 6zm16-4zm-79 15zm67-5zm51 7zm-123 8zm-25 8zm9 0zm135 0zm-98 74zm63 10zm-53 37zm18 1zm10-5z"/><path stroke="#2d2de4" d="M840 646zm8 1zm37 2zm-47 2zm12 5zm0-4zm11 3zm11 10zm28-3zm-59 14zm-20 29zm6 3zm13-9zm11 7zm23-5zm-81 15zm35-4zm7 3zm4 3zm9-8zm13 7zm21 4zm13-3zm1 1zm0-5zm7 7zm3-7zm4-1zm2 0zm1 5zm0-3zm10 4zm8-1zm-106 6zm6 8zm52 1zm1-5zm2-4zm0 0zm2 8zm1-6zm14 6zm4-8zm3 6zm9-2zm14-5zm-133 15zm49-5zm27 8zm4 3zm10-8zm2 1zm9 4zm2 3zm0-11zm6 3zm0 1zm5-2zm5-2zm4 0zm4 7zm12-3zm-180 17zm125-6zm11 7zm11-4zm2-3zm-133 16zm6-3zm91-2zm8-1zm8 7zm10-6zm14 6zm33-1zm15 4zm-195 3zm8 4zm1-4zm12 6zm97 3zm34-5zm2-3zm28 4zm-172 13zm12 1zm1-1zm13-2zm46 5zm32-9zm14-2zm23 2zm10 8zm29-3zm-191 11zm7 3zm5 3zm2-10zm2 5zm115-1zm26-1zm-151 11zm1 5zm84 1zm67-10zm-144 22zm89-8zm79 5zm1-1zm-93 15zm11-9zm2 10zm-62 14zm70-10zm6 7zm8-1zm11-3zm-66 15zm10 3zm20-9zm-62 15zm32 1zm2-5zm17 5zm52-3zm-72 20zm18-9zm8 8zm18-9zm9 10zm18-2zm-68 8zm6-3zm1 7zm0-7zm25-1zm7 1zm12 8zm1 0zm9-5zm15-4zm7 5zm-65 9zm42 9zm15-4zm-42 8zm8 5zm4 0zm-35 6zm2 8zm22-10zm5 5zm1 6zm8-4zm-22 13zm2-3z"/><path stroke="#2d48ff" d="M867 640zm1-1zm6 16zm8 13zm16-5zm5 1zm-21 15zm-11 8zm-41 15zm69 5zm13 2zm-84 4zm10 3zm9-3zm2 2zm50 0zm2 2zm6 1zm10-2zm5 1zm6-6zm2 9zm-130 4zm84 1zm6-3zm4 3zm21 8zm11-4zm5 3zm10 0zm1-3zm1 3zm7 1zm17-2zm-94 4zm0 7zm2 0zm3-8zm1 0zm1-1zm0 4zm4-4zm4 1zm1 6zm5 0zm18 2zm0 1zm7-2zm36 1zm3-4zm3-2zm-86 15zm7-3zm8-1zm1 8zm3-4zm6-5zm8 5zm0 4zm29-5zm13 2zm0 4zm1-6zm14 6zm-206 12zm3-6zm5 5zm5-5zm55 5zm11-9zm43 7zm6 3zm0 0zm2-1zm3-2zm7-8zm32 2zm4 10zm10-9zm19 2zm-197 7zm22 10zm125-8zm28 8zm19-1zm-180 5zm6 6zm20-6zm125 3zm12 0zm-120 19zm11-6zm64-5zm7 9zm34-7zm23 4zm-194 13zm25 3zm8-3zm1-7zm0 3zm102-2zm57-2zm-197 15zm8 5zm10-4zm0 1zm13-1zm150 3zm-95 13zm34-3zm62-2zm-82 10zm4 3zm30 1zm-63 16zm21 1zm9-5zm8 1zm2-2zm3-4zm-33 18zm36 5zm4-1zm7-8zm-47 13zm32 2zm-34 18zm57-1zm-55 12zm7-4zm12 1zm5-4zm1 2zm14 5zm13-4zm3-6zm7 3zm-61 10zm10 8zm6 0zm0-1zm-11 12zm22 2zm9-5zm5-3zm-28 12z"/><path stroke="#2d2db0" d="M847 647zm40 0zm-16 15zm33 9zm-61 9zm39 1zm7-1zm-30 8zm21-1zm-51 18zm5 2zm9-6zm0 4zm54 1zm0-2zm6 0zm49 4zm-122 2zm64 10zm5-1zm4-6zm20-3zm10 2zm-85 12zm1 8zm39 1zm12-10zm31 9zm2-2zm25-2zm-83 11zm0 6zm4-11zm27-1zm1 7zm15 1zm5 3zm15-10zm13 0zm1 5zm4 2zm-193 8zm110-1zm4 6zm11-6zm7 5zm30-8zm9 12zm8 0zm2-10zm5 2zm-188 10zm6 6zm1-4zm96-3zm11 3zm11-4zm7 3zm38 0zm0 0zm5 4zm3-1zm-145 16zm77-2zm52-2zm5 6zm9-8zm-192 13zm15-1zm7 2zm3 1zm119-5zm34-2zm38 4zm-178 11zm14 7zm9-3zm105 1zm28-1zm12 4zm-107 4zm11 9zm48-9zm32 0zm13 8zm3-6zm-166 10zm1 8zm6-5zm61 7zm7 7zm3 0zm18 1zm-1 3zm-75 14zm33-1zm3 9zm7-5zm21-2zm12 2zm-33 10zm4 3zm9-2zm16 6zm22-7zm5 0zm-68 11zm1-2zm14 5zm0 16zm9-7zm53 8zm-52 12zm11-7zm22 2zm8 3zm5-4zm-75 10zm42 10zm9-10zm5 7zm7-6zm-46 13zm20 0zm1 2zm1 5zm12-7zm0 2zm2-3zm15-2zm-30 15z"/><path stroke="#2d2db0" d="M864 644zm-6 23zm32 5zm-35 8zm14-1zm9 1zm26-5zm-43 16zm11-4zm-44 21zm9-11zm10 8zm22-4zm27 7zm11-5zm16 4zm9-4zm-54 17zm20-6zm0-4zm0 4zm3 2zm4 1zm8-4zm8 2zm5-2zm-96 15zm8 1zm14-2zm17 5zm9-8zm1 6zm34-6zm3 7zm4-1zm21-5zm-73 19zm7-9zm4 4zm5 4zm2-4zm32-3zm0-1zm4 5zm1-1zm6-4zm6 7zm8-9zm3 7zm16-5zm-79 15zm4 2zm2-4zm3 4zm13 4zm8-7zm17-3zm-164 15zm4 5zm145-9zm28 0zm-176 21zm7 2zm18-11zm5 2zm109 3zm33-5zm-167 14zm16 0zm1 8zm3 1zm5-4zm10-4zm102-2zm2 2zm4-2zm24 6zm0-2zm-173 12zm3-3zm14 6zm4-3zm8-3zm140 5zm15 5zm-143 11zm66-9zm36 0zm4-1zm-137 19zm143 0zm12-7zm4 9zm17 1zm-172 1zm83 9zm6-3zm-26 9zm15 3zm14-5zm15 2zm-91 19zm4-5zm13-2zm25-3zm30 0zm1 9zm13-8zm4 11zm15-10zm-52 19zm44-7zm4 4zm8 1zm-100 6zm43 11zm2-6zm1 5zm4-1zm25 0zm6-3zm18 1zm9 4zm-75 1zm64 9zm10-6zm-78 8zm21 5zm2 1zm5-3zm15 8zm23-10zm17 0zm-49 12zm2 10zm15 1zm12-3zm15-2zm3-1zm-21 18zm-24 2zm18 8z"/><path stroke="#b0ff7c" d="M839 629zm-22 8zm45 7zm24-1zm-38 7zm11 1zm-33 12zm25 1zm1-1zm17 2zm5 26zm61 12zm13 4zm-45 6zm-20 20zm9-7zm19-2zm9 2zm-12 12zm10 4zm1-6zm-104 12zm7 3zm3 3zm-57 6zm44-3zm28 6zm10 5zm34-6zm10 0zm6 7zm40-6zm13 6zm-188 11zm68 1zm66-10zm9 4zm1-1zm5 2zm15 4zm5-6zm0 2zm-143 15zm28-5zm10 0zm28 6zm53-1zm49-3zm-182 15zm42-5zm83-4zm12 7zm8-2zm0-3zm10 0zm1 3zm-122 16zm7-8zm8 1zm-46 15zm58-5zm44 3zm61 2zm-129 8zm21 12zm34 19zm7 8zm23 5zm3 2zm13-7zm-49 7zm8 9zm36 2zm-45 10zm8-8zm35 9zm-33 14zm35-4zm6-6zm-36 18zm5-5zm-27 20zm1-6zm31-3zm4 0zm-25 12zm19-2zm-32 12z"/><path stroke="#48ffe4" d="M877 632zm-14 7zm9 6zm-48 11zm78 3zm-104 25zm69-8zm14 3zm-2 7zm-37 19zm58 0zm16 4zm-27 10zm5-2zm4-3zm13-1zm-19 11zm17 8zm1-9zm1 1zm52 2zm-149 12zm85 4zm1 1zm24-5zm20-1zm-141 13zm6 6zm22-3zm66 3zm1-11zm9 6zm1 5zm6-8zm2 3zm8 0zm5 0zm4-2zm5 7zm-144 9zm2-1zm12 4zm12-6zm27 2zm21 2zm40-8zm5 1zm15 4zm8-3zm10 7zm1-9zm9 1zm10 7zm-165 8zm12 1zm63-2zm7 1zm2-1zm18 0zm4-2zm2 0zm-139 11zm11 4zm103 4zm3 0zm36-2zm25-1zm21 6zm-204 2zm153 6zm25-7zm2 2zm9 1zm4 3zm7-3zm-176 13zm125-3zm8 10zm1-1zm23-5zm-131 18zm45 8zm18 12zm-71 6zm37 2zm1 5zm60 0zm-86 14zm47-5zm17 2zm9-1zm-46 11zm4-5zm15 10zm4-1zm15 1zm-42 8zm10-7zm7 2zm18-1zm25 3zm6 6zm6-4zm-28 9zm6 6zm-52 9zm37 5zm4 6zm22-4zm-20 20z"/><path stroke="#2de4ff" d="M832 635zm19 12zm37 15zm-41 23zm44-11zm-59 25zm13-2zm9 14zm27 3zm35 1zm10-5zm-133 20zm58-8zm68 3zm13 7zm-51 8zm27 4zm-92 10zm15-4zm46-5zm7 8zm56-6zm20-1zm-184 21zm41-2zm27-3zm3-5zm7 4zm29 5zm-114 4zm59 8zm61 3zm30-6zm10-3zm-148 20zm19-1zm97-5zm17 2zm-114 12zm95-1zm18 1zm1-4zm12 7zm13 2zm10-2zm-146 5zm4-2zm107 7zm6-8zm13 6zm-30 9zm43 2zm6 2zm-107 5zm5 1zm8 3zm15 7zm-66 20zm58-1zm11-1zm28 3zm-96 15zm36-2zm15-4zm9-4zm13 3zm12 2zm-77 15zm16-7zm32 5zm13 12zm-28 18zm6 0zm8 3zm17-3zm33 19z"/><path stroke="#2de4ff" d="M902 652zm-57 20zm7-4zm38-5zm-4 15zm21-2zm-39 15zm5 2zm-22 5zm1 11zm47-2zm12 9zm-57 5zm32 2zm9 3zm10 3zm1 4zm14-6zm36 1zm-63 12zm21-3zm18 7zm34-10zm-66 11zm35 8zm9-4zm9 7zm16 2zm-89 22zm2-1zm1-8zm5 9zm17-5zm36 3zm-57 13zm6-2zm25-1zm3-1zm42-3zm-191 15zm3-3zm18 4zm117-3zm3-4zm-129 18zm2 3zm134-4zm7-5zm26 6zm-127 11zm120 6zm-135 22zm64 1zm17-8zm5 10zm-50 5zm15 4zm2 0zm-46 8zm36 23zm14 20zm0 21z"/><path stroke="#7cffb0" d="M865 641zm1-3zm24 4zm-27 8zm10 3zm4-1zm-19 14zm18-3zm11 9zm6-9zm-54 21zm14-3zm19 1zm-22 20zm48 6zm18-3zm8-2zm-17 7zm8 3zm34 7zm-149 6zm4-1zm2 6zm40 1zm68-1zm3-6zm13-2zm24 0zm10 0zm-170 11zm41 1zm93 6zm-154 12zm4-1zm15-6zm17 0zm35 6zm28-2zm21-1zm10 0zm14-2zm1 6zm14 4zm11-10zm16 3zm2 7zm-199 5zm9 0zm82-1zm5 4zm19-8zm10 0zm27 1zm6 4zm21-2zm-148 19zm27 0zm74-5zm5-4zm6 1zm20 8zm6-3zm31-3zm-195 14zm26-4zm39 1zm66 8zm5-7zm1 3zm17-4zm2 4zm24-4zm-177 9zm38 2zm7 0zm87 0zm20 5zm5-4zm11 1zm8 2zm-179 12zm13 4zm6-4zm23 2zm21 3zm44-5zm3 4zm35-5zm31-3zm-170 22zm20-10zm2 2zm75 5zm57-5zm-74 9zm-44 21zm32-8zm2 7zm7-5zm20-1zm6 26zm20-3zm-54 19zm7 1zm9 1zm13-9zm20 7zm-4 12zm4-3zm23-4zm-60 19zm13-3zm7 0zm10 4zm4 2zm-31 8zm5-8zm15 1zm-36 15zm27 8zm30 0z"/><path stroke="#b0ff7c" d="M837 631zm19 0zm-8 10zm19 0zm1-1zm-37 14zm13-4zm15 5zm-20 6zm5 4zm4 2zm-7 9zm2 0zm25 9zm7-7zm-6 8zm1 4zm4-1zm43 16zm21 4zm-130 11zm129-4zm-139 17zm93-10zm17 5zm39-6zm1 0zm-76 13zm21 1zm41 4zm-140 8zm16 8zm13-9zm67 3zm30 5zm-160 12zm71-2zm9-5zm2 2zm48 2zm21 2zm-141 5zm4 10zm3-2zm125 2zm2-5zm45-4zm-43 17zm59-5zm-140 14zm43 5zm29-5zm37 2zm28-1zm-193 11zm27 3zm19 0zm-31 5zm108 9zm28-4zm9 0zm-54 10zm-1 20zm10 4zm-66 19zm42-2zm31-5zm6 16zm-56 19zm5 6zm11 2zm53 2zm-69 16zm21 0z"/><path stroke="#2d2db0" d="M878 671zm-29 4zm-21 30zm5 0zm22 0zm31 4zm15-2zm19 0zm9 1zm-96 6zm59 0zm2-2zm1 7zm2-2zm2 1zm11-4zm7 0zm-86 16zm3-6zm26 7zm26-1zm14-5zm2 0zm2-2zm7 0zm0 1zm8 1zm10-2zm0 3zm5-1zm-58 13zm4 0zm7 5zm0-3zm2 0zm0-4zm4 0zm3 4zm14 3zm6-5zm4-4zm5 7zm4-7zm1 1zm5 3zm10-2zm-172 13zm21-1zm75 1zm11 6zm26 0zm5-1zm14-4zm1 1zm5-2zm24-2zm1 1zm6 8zm-195 10zm3-3zm1 2zm11-6zm72 0zm12 2zm44-2zm54 7zm-195 10zm119-2zm46 0zm-167 10zm15 2zm5 3zm4-5zm10 4zm-22 15zm5-3zm141 3zm10-2zm28-3zm-179 12zm18 5zm112-5zm25 4zm3-6zm2 3zm6 4zm4-4zm-181 7zm4 3zm8 4zm140 1zm3-6zm-57 16zm4 2zm-34 5zm6 9zm25-5zm8-1zm0 3zm-75 12zm3-3zm28 2zm46 1zm14-1zm11 0zm-64 8zm40-3zm7 8zm-55 5zm43 4zm19-1zm20 2zm-96 8zm49 0zm31 10zm-54 0zm5 1zm10 9zm24-1zm5-4zm6 2zm-60 7zm19 6zm10-4zm13 0zm-5 11zm4 6zm20 2z"/><path stroke="#2d2db0" d="M870 663zm4 7zm4 1zm14-3zm13-7zm-42 17zm21 6zm4-2zm-28 6zm8 2zm10-5zm-51 20zm85-2zm-79 13zm57 0zm8-1zm9 4zm3-1zm5-8zm5 10zm15-5zm0-6zm-67 17zm9 0zm17 0zm4 1zm2 4zm5 2zm5-4zm5-1zm1-6zm15 10zm9-1zm-44 4zm14 4zm5-5zm7 0zm9 5zm9-1zm10 3zm-117 10zm48 5zm0-6zm2-3zm26 10zm5-6zm4 3zm8 2zm21-4zm5-4zm-183 20zm5-5zm5 0zm1 6zm92-5zm58-5zm7 8zm13-6zm-178 11zm11 5zm102-5zm5-1zm6 2zm42-2zm-178 16zm4-5zm9 1zm3 8zm2-3zm21-4zm43 5zm81 3zm10-3zm3-4zm28-3zm-190 13zm6 3zm127 1zm15 6zm-148 2zm1 3zm129 4zm9-6zm39 6zm8-9zm-169 17zm10 2zm146-3zm0 3zm-81 14zm5-5zm6 2zm-1 16zm-10 7zm13 6zm1-5zm24 1zm1 13zm1 1zm-45 10zm1-4zm5 5zm4-7zm6 4zm16 1zm23-2zm-71 14zm4-1zm2-2zm-8 13zm20 1zm23 4zm-19 4zm11 3zm5 5zm2-4zm-46 8zm2 4zm23 6zm2 0zm15-2zm31-8zm-19 15z"/><path stroke="#b0ff7c" d="M838 647zm12-6zm7 7zm4-5zm3 1zm-4 6zm21-1zm-42 16zm0 1zm6 0zm0 13zm21-1zm8 14zm19 22zm13 7zm31-1zm8-7zm-145 17zm4 1zm2 0zm79-2zm9 0zm67 1zm-167 8zm2-3zm88 8zm25 2zm-32 6zm-59 12zm33-3zm36 4zm8-4zm5-1zm4 5zm13-5zm-158 14zm14 3zm36-3zm123-4zm2 10zm34 1zm1-11zm-130 20zm47-1zm7-1zm41-4zm-167 15zm9 6zm66-11zm53 3zm59 7zm5-6zm-107 11zm25 4zm-81 6zm24 8zm54-5zm61 4zm-70 19zm38 5zm-27 4zm-16 18zm38-1zm5 0zm-51 13zm12 3zm6-6zm-9 20zm12-2zm47-2zm-85 15zm45-2zm4 2zm7 1zm13-8zm-60 18zm48-8zm18 13zm5 5z"/><path stroke="#e42d2d" d="M854 636zm3 7zm-58 82zm5 12zm2 12zm-7 19zm14-6zm150 7zm8-8zm-156 11zm32 19zm-32 2zm3 7zm-27 12zm26 5zm11 9zm91-9zm-73 29zm-11 26zm1 18zm15 1zm1 2zm23 22z"/><path stroke="#2d48ff" d="M839 658zm16-3zm-24 11zm78 6zm3-2zm-48 11zm12-4zm-23 10zm21 5zm5-3zm-38 11zm36 1zm10 5zm22-4zm9 6zm8-2zm-89 9zm6-1zm11 0zm27 1zm16 4zm23-7zm8 0zm0 3zm14 0zm8 2zm-124 6zm4 10zm8-11zm2 1zm4 6zm41 3zm4-6zm18 2zm5-2zm11 7zm5-8zm40 6zm-89 10zm10-5zm17 4zm2-7zm1 4zm23 7zm-44 4zm2 1zm1 0zm21 6zm24-5zm5-3zm18 8zm3-1zm-190 9zm4 6zm10-4zm86-3zm8-2zm15 0zm15 2zm1 5zm45-5zm-196 17zm24-7zm16 7zm82 1zm7-3zm21 3zm36-7zm4-1zm14 1zm-194 10zm29 5zm110 0zm18-5zm-161 12zm2 5zm0 1zm21-2zm57-6zm15 1zm60 1zm1 0zm1 6zm-146 5zm13 2zm48 6zm73-3zm45 2zm3 0zm-197 4zm17 1zm6 10zm1-3zm14-3zm50 3zm12 3zm69-7zm-71 16zm29-7zm-30 19zm-61 8zm36 7zm60-7zm-87 14zm28-1zm12-2zm40 6zm9-1zm15-5zm1 5zm-55 8zm9 0zm0 2zm36 2zm-1 7zm2 3zm-65 14zm16 3zm9-5zm7 1zm21-1zm29 2zm-51 9zm3 6zm13-10zm20 7zm-26 12zm1-1zm14 2zm-30 12zm16-6z"/><path stroke="#2d2de4" d="M855 632zm-15 9zm33 12zm-42 19zm73-8zm-62 13zm43 7zm-27 12zm9-4zm-21 7zm35 0zm27 7zm41-1zm-107 11zm8-6zm5 4zm1-3zm21 4zm18 0zm6 2zm7 3zm12-2zm1-4zm5-2zm1-2zm25 10zm-128 3zm21-1zm9 4zm21 2zm8 4zm0-3zm2-7zm11 10zm1-6zm4-1zm6-1zm4 2zm2 6zm15-11zm7 0zm1 3zm1 5zm-61 8zm2 6zm3-1zm27 0zm22-3zm9 5zm7-5zm20 4zm-203 12zm10-3zm11 3zm1 1zm95-10zm4 0zm8 7zm3-7zm0 9zm1-5zm4 4zm4-7zm3-1zm13 2zm5-1zm38 1zm-192 19zm16-2zm18-1zm78-3zm7 4zm24-1zm53-5zm-185 10zm0 2zm11 5zm10-2zm91 3zm2-3zm3-5zm22 8zm43-1zm-190 6zm25 8zm107-2zm2 0zm54 0zm-206 12zm13-5zm3 1zm74 8zm55-6zm-109 18zm1-1zm3-4zm35 0zm88 4zm1-10zm7 2zm-139 21zm1-8zm33-3zm93 1zm18 1zm-42 15zm-39 15zm16-4zm-24 14zm41-4zm15 2zm-47 14zm2-3zm6 7zm22-5zm0-2zm29 3zm-77 17zm39-3zm6-3zm8-3zm-55 14zm13 1zm37 0zm8 1zm7 3zm9-2zm1 3zm3-5zm-67 11zm0 19zm33-8zm6-2zm1 8zm-32 10zm7-6zm3 9zm7-3zm24-4zm12 7zm-29 8zm7 5zm6-8z"/><path stroke="#48ffe4" d="M837 644zm6 0zm32-7zm-17 16zm9 8zm-25 0zm14 2zm-58 18zm53-8zm1 29zm1 2zm9-7zm10 1zm14 6zm55 2zm-145 14zm10 1zm40-8zm100 6zm-164 12zm8-9zm24 7zm95 0zm18-2zm0 3zm16-3zm4 3zm2-7zm-60 13zm6 3zm5-5zm19 2zm22 8zm6-2zm-133 10zm29 1zm31-1zm8-4zm31-2zm-131 13zm13 9zm23-6zm16-3zm6-1zm1 1zm8 1zm46 4zm45 3zm21-8zm-203 11zm33 9zm27 2zm89-10zm3 6zm11-2zm8-2zm25 5zm3-8zm-180 18zm1-1zm6-2zm24 5zm61-7zm18 0zm0 0zm17-2zm39 11zm8-11zm8 11zm5-3zm-193 7zm35 6zm79-6zm10 1zm3-2zm21 1zm14 2zm-91 12zm16 1zm44-5zm10 1zm1 0zm20 7zm17-6zm13 8zm-144 6zm91-4zm13 3zm17 0zm9-2zm-167 13zm111 8zm40-9zm-87 22zm11-8zm21 0zm0 0zm-74 11zm38 6zm3-4zm11-5zm5 11zm46-3zm-59 9zm49-3zm13 7zm-66 10zm11-7zm39 0zm4 8zm-55 22zm20-5zm41 3zm-38 10zm17 7zm7-5zm-39 17zm12-2zm43-2zm-37 8zm2 4z"/><path stroke="#2d7cff" d="M869 649zm3 12zm12-5zm-21 6zm6 7zm50 40zm-19 3zm20 7zm5-7zm2 1zm-47 19zm12-9zm10 3zm3 0zm10 1zm6-2zm-115 19zm28-6zm8-2zm57 1zm13 1zm7 5zm3-8zm5 8zm12-3zm-174 12zm72-1zm34 3zm27-3zm8-3zm1 8zm13-1zm-132 4zm155-1zm-35 14zm14-3zm1 4zm-52 10zm41 4zm16-6zm-147 15zm21-1zm-18 14zm134-3zm-119 13zm67 5zm74 1zm-79 15zm75-8zm-127 21zm34 10zm4-1zm8 1zm-20 6zm10-2zm6 3zm30 6zm-38 2zm2 2zm2 5zm63-6zm-16 17zm12-5zm-42 18zm17 15zm32-11zm-57 14zm3 15zm5 3zm1-7z"/><path stroke="#e42d2d" d="M852 634zm-27 14zm20-1zm14 7zm-35 14zm3-5zm17 0zm55 43zm-98 7zm4 3zm0 6zm-10 28zm9-3zm8 1zm-44 26zm56 4zm6 13zm-13 7zm-6 12zm14 10z"/><path stroke="#ff482d" d="M839 636zm16-4zm-27 15zm14-2zm17-6zm3 4zm-30 10zm19 10zm11 4zm6-5zm-73 67zm107 0zm-128 26zm194-10zm-164 12zm90 8zm21 2zm52-7zm-141 15zm-10 9zm25 1zm-18 18zm5-8zm2 3zm9-1zm0-2zm-36 10zm16 1zm25 10zm-46 3zm19 3zm3-1zm3 1zm3 5zm57-5zm-22 38zm-53 19zm39 7zm-1 44zm17 5z"/><path stroke="#ffb02d" d="M848 635zm0-6zm6 1zm8 1zm-32 10zm12-3zm-21 15zm29 3zm2 14zm21 10zm5 3zm4-1zm-31 5zm10 3zm5 14zm-66 21zm4 10zm132 8zm-134 3zm2 3zm6-3zm3 2zm67-1zm61 4zm-51 10zm-69 13zm88 13zm43-4zm-179 17zm34-6zm6 5zm1 5zm19-5zm14-1zm58 7zm46-10zm-116 10zm24 10zm50 8zm48 2zm-90 11zm-2 5zm35 6zm-74 42zm33 20zm33 2zm28-9zm-56 27z"/><path stroke="#e42d2d" d="M826 624zm17 23zm10-4zm0 17zm-23 9zm10 10zm54 39zm-86 16zm121 9zm-127 16zm4 15zm1 9zm12 0zm22 9zm8-1zm-7 14zm92-4zm-154 15zm55-7zm39 9zm-28 20zm-36 24zm103 50z"/><path stroke="#ff7c2d" d="M845 634zm18-9zm6 18zm14-1zm-37 9zm22 6zm-34 12zm41 0zm-17 15zm20-9zm7 47zm69 5zm-155 17zm89-5zm14-5zm36 11zm-23 2zm-101 12zm82 1zm-76 15zm5 8zm8 1zm70 1zm2-3zm-97 15zm42 8zm5-11zm-43 16zm26 4zm123-8zm-145 12zm70 6zm48 5zm-87 25zm-30 16zm2 2zm7 1zm4-3zm-17 9zm17 0zm34 19zm25 10zm-9 6zm28 5zm-44 21z"/><path stroke="#2d48ff" d="M837 652zm2 1zm62 3zm-71 6zm23 9zm44-1zm11 8zm-65 22zm1 4zm55-1zm19 3zm-125 14zm30-11zm31 11zm27-7zm27 5zm2-6zm17 7zm-71 3zm24 0zm6 10zm2 0zm1 0zm2-2zm1-7zm3 6zm2-1zm4 2zm12-1zm15-4zm9 2zm3 5zm13-5zm-63 11zm3-5zm5 12zm4-6zm3-6zm23 1zm4 1zm28 9zm2-3zm-141 10zm22 2zm42-8zm17 9zm1-5zm4 6zm9-4zm-145 16zm1-6zm6 1zm1 5zm67-5zm25-4zm22 4zm3 3zm0-8zm33 11zm31-7zm1 1zm-198 10zm14 1zm4 2zm18 5zm82-6zm4 3zm7 1zm5-7zm24 6zm28 1zm20-7zm-208 20zm1 2zm7-3zm14 1zm4-6zm2 6zm22 0zm34-6zm49 1zm6-5zm8 4zm24-1zm31-2zm-195 16zm11 5zm21-7zm2 1zm7 2zm37 0zm75-4zm38 5zm0 2zm-195 6zm6-1zm160 9zm24 0zm-169 11zm10-4zm148-5zm-70 26zm-32 16zm13 4zm-9 12zm13-8zm15 5zm2-1zm13-3zm5-3zm9 3zm-55 18zm4-4zm7 2zm15 2zm11-8zm-46 14zm11 5zm12 2zm23-6zm-9 13zm22-2zm17 0zm-71 11zm1 1zm12-3zm14 3zm8 3zm40-4zm-73 15zm31 1zm21-1zm6 1zm2-5zm-49 16z"/><path stroke="#2db0ff" d="M825 628zm26 21zm22 10zm8 7zm-9 10zm-3 21zm2-6zm7 1zm-31 14zm59 5zm48 6zm-48 12zm51 2zm-82 3zm26 1zm37 2zm-135 13zm37 3zm64-1zm2-4zm-74 12zm95 5zm-39 15zm81-4zm-191 7zm6 0zm49 8zm86-8zm18 5zm-154 6zm155 4zm13 4zm-174 5zm48 0zm50 7zm51 0zm21 2zm11-4zm-103 21zm18 5zm13 39zm10-12zm6 0zm-35 40zm16 4zm27-6zm-53 21zm24-6z"/><path stroke="#e4ff48" d="M850 646zm18-5zm9 7zm1 0zm-34 10zm4 3zm15-5zm14-2zm-25 13zm18 2zm-40 5zm16 7zm5-7zm28 11zm-18 1zm6 7zm-40 10zm-21 18zm131-2zm-125 11zm72-2zm1-2zm70 7zm-140 6zm76 0zm13-4zm16 8zm22-10zm-140 17zm29 4zm92 3zm39 0zm-169 7zm46-5zm49 1zm2 6zm13-1zm46-7zm-171 16zm39-2zm1 8zm3-3zm13 2zm67-9zm-111 21zm6-5zm21 5zm26-6zm30 5zm57-7zm14 9zm-97 8zm-27 9zm42 8zm-54 13zm60 13zm6 2zm-73 9zm57 23zm6-2zm14-8zm2 4zm36 5zm-84 3zm3 20zm27-10zm26 6zm-58 15zm30-3zm3 4zm24-7zm19 6zm-64 7zm5 3zm55-4zm-60 12zm70-1zm-61 11zm10 6z"/><path stroke="#b02d2d" d="M817 633zm8 1zm6-6zm37 6zm-46 10zm19-5zm1 2zm-24 15zm9 0zm4 19zm20 29zm-33 26zm2 54zm36 7zm51-2zm-63 53zm26 61zm18 40z"/><path stroke="#2db0ff" d="M816 640zm65 35zm-7 11zm6 7zm-41 14zm1 1zm79-4zm-82 6zm44 4zm11-2zm-101 20zm98-2zm37 3zm14-9zm-60 22zm21 6zm6-3zm-3 13zm2-2zm57 8zm0 0zm-196 10zm50-1zm70-4zm-38 18zm79-9zm4 4zm-158 15zm146-5zm-127 19zm160-1zm-178 8zm37 3zm63 3zm63-4zm-55 13zm-45 16zm6 9zm38-1zm-22 28zm32-3zm-50 25zm32-7zm16 10zm-24 13zm9 2zm29 1zm-16 17zm5-7z"/><path stroke="#b02d2d" d="M825 627zm-12 11zm2 6zm17 5zm13-11zm-1 29zm-56 62zm14 8zm6-4zm116 3zm-86 24zm42-2zm-37 26zm-32 31zm44 6zm31 6zm-6 44zm-8 29zm7 48z"/></g></g><g fill="none" stroke="#8a8aff" stroke-width="1.3" stroke-linejoin="round"><polygon points="411.9,305.0 448.0,313.5 463.7,331.6 431.6,352.8 408.0,337.3 402.2,323.5"/><polygon points="409.9,343.4 424.6,345.8 430.4,351.5 430.4,371.0 414.6,371.0 407.6,360.0 407.9,349.2"/><polygon points="448.8,349.7 472.6,345.4 480.3,355.4 488.6,388.1 483.4,408.8 473.6,421.5 460.9,421.5 447.6,403.0 439.6,397.3 435.1,383.5 437.1,365.5 448.8,355.5"/><polygon points="394.6,354.6 405.3,355.4 412.1,371.5 411.1,379.5 430.8,396.6 411.5,420.0 404.5,418.3 400.5,419.4 397.1,426.3 392.4,426.3 378.0,410.8 376.3,405.0 376.1,378.5"/><polygon points="411.5,422.3 437.6,397.3 446.9,404.2 457.6,418.1 462.3,435.0 463.8,454.5 456.1,467.3 437.6,477.3 425.3,476.5 417.1,466.5 409.1,455.5 397.6,455.8 398.8,447.7 410.9,435.0"/></g><rect x="497.4" y="292.7" width="3.3" height="199.8" fill="url(#jet)" stroke="#8a8a9a" stroke-width="0.4"/><text x="430.8" y="306.5" font-size="7.5" fill="#000">CD56+</text><text x="466.1" y="342.7" font-size="7.5" fill="#000">CD14+</text><text x="384.3" y="352.0" font-size="7.5" fill="#000">CD19+</text><text x="367.9" y="434.1" font-size="7.5" fill="#000">CD3+CD8+</text><text x="417.6" y="484.5" font-size="7.5" fill="#000">CD3+CD4+</text><text x="501.2" y="294.7" font-size="3.5" fill="#555">0.5</text><text x="501.2" y="344.5" font-size="3.5" fill="#555">-0.8</text><text x="501.2" y="394.3" font-size="3.5" fill="#555">-1.9</text><text x="501.2" y="444.1" font-size="3.5" fill="#555">-3.0</text><text x="501.2" y="493.9" font-size="3.5" fill="#555">-4</text><text x="10" y="530" font-size="17" font-weight="bold">C</text><text x="57.0" y="548.6" font-size="11" fill="#111">Donor</text><path d="M152.3 557.2V756.7" stroke="#ececec" stroke-width="1"/><path d="M10.8 557.2H139.2M10.8 557.2V756.2H139.2" stroke="#a9a9a9" stroke-width="1.5" fill="none"/><defs><linearGradient id="cg10" x1="0" y1="0" x2="0" y2="1"><stop offset="0.2" stop-color="#c8e0a8"/><stop offset="0.85" stop-color="#98b8f0"/></linearGradient></defs><g filter="url(#fu)"><polygon fill="url(#cg10)" fill-opacity="0.45" points="70.6,575.0 79.4,573.7 89.5,576.2 97.0,581.5 100.6,588.1 101.6,598.5 105.0,606.3 107.3,613.9 110.9,618.8 111.8,626.2 109.1,631.1 107.5,636.0 112.8,643.0 116.9,652.8 119.9,662.7 119.0,675.3 116.8,685.5 113.2,695.8 107.1,703.6 99.6,711.4 89.5,719.2 84.5,724.5 76.8,724.5 69.2,720.5 56.6,711.4 46.6,701.0 39.3,688.1 34.7,672.9 32.4,660.4 31.4,643.1 32.6,630.7 33.7,625.8 39.0,623.4 42.7,618.6 41.0,608.4 44.4,598.2 49.3,587.9 56.7,580.2 64.2,576.3"/><polygon fill="#fff" points="50.3,614.2 58.4,611.9 64.2,617.7 63.0,629.2 58.4,636.2 52.6,633.9 48.0,629.2"/><polygon fill="#fff" points="91.9,617.7 97.6,616.5 101.1,622.3 98.8,629.2 94.2,629.2"/><polygon fill="#fff" fill-opacity="0.6" points="19.8,633.2 40.8,662.2 60.8,697.2 70.8,722.2 40.8,717.2 19.8,664.2"/></g><g filter="url(#fb)"><g transform="scale(0.5)" fill="none" stroke-linecap="round" stroke-width="3.40"><path stroke="#2d48ff" d="M143 1151zm21 39zm-10 7zm13-3zm34 7zm-23 23zm-89 11zm-18 12zm111 0zm-112 16zm13 1zm34-9zm-27 13zm-40 17zm33-6zm84 7zm-75 10zm65 2zm1-8zm42 5zm2 0zm27 3zm-145 10zm19-7zm23 5zm18 0zm84-5zm-87 23zm19-1zm-83 13zm87-4zm44 3zm-127 11zm17-1zm63 0zm55-8zm12 7zm7-2zm-137 9zm33 9zm35-11zm3 6zm-81 9zm27 7zm0 0zm61-7zm40 8zm-106 5zm3 3zm14 2zm51-3zm2-3zm9 4zm5-4zm13 7zm-130 5zm41-2zm0 9zm35-7zm13 6zm11 0zm35-9zm-76 20zm15-2zm4 2zm17 0zm31 1zm-114 6zm32 0zm18-1zm27 6zm8-5zm31-1zm-40 14zm8 1zm-35 18zm28-7zm10 7z"/><path stroke="#b02d2d" d="M138 1166zm21 79zm9 3zm-5 23zm-77 27zm124 6zm14 15zm5 5zm-12 22zm-24 75z"/><path stroke="#2d2db0" d="M144 1158zm-28 56zm-13 59zm128 15zm-130 8zm27-2zm41 0zm-78 14zm33 4zm33 3zm43 18zm7 8zm23 1zm2 0zm-142 18zm101-2zm-73 7zm48 4zm-95 15zm97-2zm68-3zm-125 12zm78 6zm23 8zm-75 14zm20-6zm46-3zm12-1zm-29 14zm14-1z"/><path stroke="#b02d2d" d="M102 1178zm41 28zm-47 14zm1 2zm-12 15zm68-8zm17 6zm16 40zm-54 15zm86 6zm-86 22zm42-3zm57 57zm-95 16zm-8 28z"/><path stroke="#e42d2d" d="M158 1158zm-48 18zm11 4zm1-10zm69 21zm-19 12zm-72 12zm74 4zm-93 10zm85 9zm37-9zm16 20zm-146 9zm104-5zm-97 45zm22-4zm93 1zm27 0zm1 5zm-140 6zm123-4zm-61 20zm36 4zm-57 18zm64 10zm-2 25zm14 17zm-120 11zm91-7zm33 12z"/><path stroke="#ffb02d" d="M134 1154zm24 13zm5-6zm-52 16zm7-1zm3-6zm21 6zm10 13zm-4 4zm13 1zm-70 13zm33 2zm45-2zm22 5zm12-6zm-98 17zm4-2zm-24 15zm9 0zm46-1zm55 0zm19 4zm-153 23zm45-10zm2 1zm45 0zm6 6zm58 2zm-153 13zm3-3zm15-4zm124 4zm-83 23zm5-3zm12 6zm43-7zm-108 21zm50 9zm48-5zm-49 21zm78-8zm33 3zm-116 9zm60-2zm-29 18zm21 0zm22 4zm44-3zm-124 13zm9-2zm-56 15zm131-4zm34 9zm-127 15zm48 3zm-59 10zm28 12zm49 10zm-2 7z"/><path stroke="#2db0ff" d="M200 1168zm-89 13zm41 2zm-11 37zm36 16zm-91 21zm96-1zm29 3zm-44 12zm-82 33zm25 2zm24 4zm64-3zm18 40zm-44 12zm-55 3zm112 7zm-102 12zm6 2zm3-7zm41 5zm13 45z"/><path stroke="#ff7c2d" d="M140 1149zm-19 12zm23-4zm-37 19zm4 2zm11 6zm47 6zm33 1zm-79 5zm33 7zm4 0zm14-10zm10 11zm4 0zm-85 8zm49-4zm31 0zm9 0zm28-1zm-86 21zm11-2zm14 1zm-18 5zm55-2zm-112 15zm44-3zm8-1zm11 0zm7 3zm-79 15zm53-1zm35 1zm3-4zm3 7zm35-2zm7-4zm-118 10zm15 3zm9 5zm18-2zm7 0zm63-2zm-143 12zm39 1zm59 4zm29-6zm32 13zm10-4zm-38 17zm25 1zm-123 15zm110-5zm28 2zm-128 12zm38-2zm72 1zm-158 13zm19 2zm16-5zm40 2zm100-5zm6 9zm-52 8zm-123 6zm114 8zm27 13zm27-10zm-126 13zm119 1zm-120 19zm37-2zm25-3zm-64 17zm67 10zm-21 12z"/><path stroke="#2db0ff" d="M121 1170zm45 32zm6-1zm-68 10zm99 14zm1 10zm-56 15zm55 7zm-56 26zm-75 20zm13 1zm9-1zm65 6zm42-6zm28 7zm-102 11zm37 7zm28 5zm25 3zm11-6zm-66 16zm-99 3zm86 6zm8 13zm53 0zm6-3zm-139 11zm33 2zm15-5zm15 5zm-51 15zm37-3zm18-2zm36-2zm-80 19zm23-7zm17-1zm16 4zm5 6zm-36 6zm85 2zm-57 8zm43 1zm-44 19zm7 14z"/><path stroke="#b0ff7c" d="M127 1144zm-16 11zm28-2zm19 3zm0-2zm14-4zm2 0zm-52 9zm3 6zm8-6zm9 1zm9-3zm4 0zm6 3zm8 8zm22-7zm4 6zm1-3zm-92 5zm14 1zm11 1zm4 8zm23-4zm1 4zm36 1zm8-10zm-105 21zm26 1zm6-8zm15 6zm6 2zm25-1zm13-2zm10-4zm-107 18zm18-4zm0 1zm42-5zm4 9zm4-6zm19-4zm15 2zm0-2zm-110 21zm29-7zm2 2zm3 4zm11 0zm17-1zm11 3zm22-5zm29-6zm-96 14zm21 7zm24-9zm5 1zm4 4zm16 3zm13 1zm-113 4zm46 4zm10-5zm11 8zm34-2zm7-5zm13 4zm2-4zm24 0zm-83 15zm35 3zm-102 10zm2 2zm16 3zm12-7zm16 3zm41-4zm11 3zm8 3zm10 1zm26-9zm4-1zm-142 14zm10 10zm6-3zm16-1zm9 1zm30-3zm5-5zm7 1zm22 2zm8 0zm20-1zm-154 18zm15 2zm17-3zm3-6zm5 7zm47 0zm8-1zm8 3zm9-4zm6 1zm5-5zm8-2zm14 10zm-155 12zm30-5zm12 6zm11-9zm2 7zm15 0zm16-1zm23-1zm6 4zm4-11zm12 3zm2 1zm14-3zm4 4zm8 4zm-159 6zm14-3zm19 9zm17-3zm66 1zm23-3zm-140 10zm38 6zm12-2zm19-4zm7 0zm31 5zm7 2zm50-9zm0 5zm9 4zm5-1zm2-6zm-161 12zm12 5zm31-7zm15 9zm8 2zm21 0zm3-2zm13-3zm12-5zm33 1zm19 7zm2-9zm-183 14zm28 3zm72-1zm16-4zm7 6zm14 3zm4-8zm-94 15zm2 5zm7-4zm5-4zm7 9zm35-6zm47-4zm22 11zm4-4zm2 0zm-158 8zm18-2zm10 1zm4-2zm37 4zm9 6zm54-7zm-98 14zm5 1zm41 1zm35-6zm21 7zm10-7zm-148 11zm12 1zm14 7zm11 1zm17-1zm23-3zm46 16zm-71 7zm79 2zm12-1zm-15 16zm-53 6zm12 6zm11-2zm0-7zm5 0zm2 3z"/><path stroke="#e4ff48" d="M116 1155zm6-2zm13-1zm30-3zm6 0zm-58 18zm2-6zm5 5zm23-1zm29 0zm12-1zm4-2zm-63 12zm3 4zm1-3zm15 1zm10-4zm6-3zm27 2zm-87 18zm25 3zm2-6zm17-5zm9 11zm4-1zm2-6zm7 1zm6 0zm17 2zm-100 8zm10 4zm1 2zm47-8zm4 4zm19-4zm-94 19zm5-8zm11 8zm18-8zm2 4zm5 6zm1 1zm1-7zm5 6zm6-3zm1-2zm25 6zm7-5zm23 3zm12-2zm3 3zm-101 4zm36-2zm5 3zm2 7zm25 1zm1-1zm25-2zm3 3zm-101 2zm29-1zm28 11zm7-11zm7 0zm-41 12zm3 7zm5 4zm3-10zm36 7zm0-1zm50-2zm-137 14zm47 2zm8-3zm68-5zm9 6zm1 4zm-161 3zm5 8zm23-6zm9-2zm46 4zm10-2zm35 5zm3-6zm6 2zm-131 17zm24-2zm9-3zm3 1zm3 3zm1 1zm18-10zm6 1zm7 4zm11 3zm5-3zm21-1zm0-4zm23 10zm22-2zm3-3zm-143 8zm1 10zm20-2zm20-4zm28 0zm46-2zm4 4zm4 3zm2-2zm23 2zm-173 3zm38 7zm16-2zm3-1zm36 5zm9 0zm14-3zm17-2zm2 0zm27 3zm-139 15zm16-6zm4-2zm12 6zm28-6zm22-2zm15-1zm17 1zm5 6zm12-3zm2 2zm-106 10zm7 7zm8-9zm45 9zm2 0zm24-8zm9 3zm-122 15zm49-5zm2-3zm33-1zm6 3zm0-1zm3 6zm47-8zm8 11zm-136 9zm17-2zm8-1zm8 3zm35-8zm5 8zm-32 4zm48 0zm13 0zm9 4zm21 5zm-131 3zm7 3zm8 4zm12 1zm7-7zm3 0zm11 8zm58-2zm13-1zm5 3zm13-1zm-116 8zm15 5zm4-6zm15 6zm4-8zm28 3zm15 5zm4-9zm2 8zm16-4zm13 3zm-85 12zm19-1zm3-5zm1 0zm36 0zm-118 13zm76 0zm30 9zm-87 9zm33-4zm54 7zm-44 49z"/><path stroke="#ff7c2d" d="M164 1167zm23-5zm2 6zm-98 6zm64 2zm10-6zm10 10zm19-4zm-93 12zm2-6zm23 0zm33 9zm-75 13zm7-10zm5 8zm27-9zm8 11zm26-5zm1 4zm26-1zm-65 7zm0 16zm9-9zm9 10zm41-8zm37 8zm-82 4zm4 6zm78 16zm7-10zm-93 18zm13-1zm28-3zm42-1zm-131 14zm3 7zm51 6zm-69 17zm56-3zm109-3zm-75 19zm17-3zm36 2zm14-9zm-167 17zm54-1zm14 2zm10-6zm44 6zm3 3zm15-4zm7-3zm9 5zm-116 10zm34 0zm4-1zm-69 17zm34-8zm64 1zm11 3zm26 3zm-72 3zm20 14zm14 7zm44 12zm1-3zm-75 28zm31 40z"/><path stroke="#2de4ff" d="M161 1138zm-38 11zm58 4zm-15 34zm4 6zm-68 23zm55 3zm34 5zm-109 5zm36 21zm15-1zm43-8zm-9 19zm25 2zm-120 12zm87-5zm5 4zm52-3zm-154 16zm81-7zm3 4zm31 0zm49 5zm-162 4zm85 3zm-63 9zm124 5zm2-3zm-147 9zm32 20zm19 1zm-21 4zm12 1zm22 1zm13 5zm31-8zm27-1zm17 6zm11-6zm-72 21zm84-2zm-165 10zm60-4zm3 6zm-43 6zm30 8zm53-4zm0 5zm-81 12zm12-12zm111 9zm-105 12zm27-4zm49 6zm22-8zm-35 18zm-48 5zm18 1zm13 2zm2 4zm16-8zm1 10zm-17 8zm21-7z"/><path stroke="#48ffe4" d="M134 1149zm7 1zm9-1zm7-1zm-34 9zm15 6zm38 11zm21-3zm-96 15zm5 5zm6-7zm26-2zm12 5zm14 3zm5-8zm21 0zm5 4zm-101 12zm12-1zm47-2zm10 7zm1-4zm17 15zm12 0zm1-8zm8 8zm-88 11zm3 1zm5 1zm7-5zm35 6zm43-8zm-124 15zm14 3zm40-2zm26 3zm10 0zm6-4zm11-2zm8 2zm-129 12zm19-5zm5 11zm34-1zm1-3zm53-2zm22 1zm-131 15zm3-6zm55 5zm5-5zm0 7zm90-9zm-94 16zm2-3zm74 5zm6-5zm0 4zm-113 14zm15-8zm27 5zm11-4zm24 5zm1-6zm6 10zm39-5zm4 0zm4 6zm-141 3zm9 7zm1 0zm34-5zm14 2zm16-6zm11 5zm25-2zm11 1zm9 7zm-170 3zm79 5zm11-2zm62 5zm6-2zm20-8zm-172 12zm21 10zm17-4zm17-1zm8-4zm62 4zm15 2zm-91 13zm6 0zm23-8zm9 4zm79-2zm9 4zm5 1zm-147 5zm5 8zm40 1zm16-8zm25 5zm3-6zm37 6zm12-6zm16 4zm-187 16zm36-2zm17-6zm20 6zm20-6zm6 2zm11 0zm5 1zm3-2zm7 6zm30 0zm-131 13zm33-8zm4 7zm0-5zm21-2zm30 8zm2-5zm10 3zm18-5zm13 4zm9 1zm-118 13zm8-7zm37 8zm12-5zm15 2zm13-4zm-99 14zm34-1zm14 0zm5-1zm21 4zm3 1zm48-5zm8 10zm11-11zm-125 20zm16-4zm23 6zm4-9zm1 10zm15-5zm16 5zm18 0zm-41 1zm25 8zm-89 5zm84 0zm-46 21zm29-10z"/><path stroke="#ff482d" d="M184 1164zm-76 25zm73 3zm-78 7zm82-6zm-73 15zm87-2zm-103 12zm-14 11zm42 1zm94 4zm6 4zm-141 12zm5-3zm56 3zm19 0zm22-2zm20 3zm-19 4zm-119 17zm41 3zm-30 12zm23-5zm18-3zm16 10zm19 2zm-76 19zm9-7zm114 7zm-61 4zm33 15zm-75 14zm69 25zm44 25zm10 5z"/><path stroke="#b02d2d" d="M156 1172zm29 3zm5 4zm-3 5zm10-1zm-94 36zm50 7zm69 3zm-15 25zm-82 33zm74-6zm-77 14zm46 27zm-59 3zm8 35zm59 48z"/><path stroke="#2de4ff" d="M132 1145zm-30 28zm9 1zm29 5zm36-5zm7-2zm2 5zm-79 13zm3 2zm7-9zm2 7zm14-9zm6 15zm19 2zm30-3zm-102 17zm60-1zm65 1zm-121 12zm48-5zm65 5zm-67 14zm2-3zm16-2zm6-3zm7 5zm-10 6zm-6 14zm21 5zm25-1zm6-4zm1 4zm-139 8zm11 9zm10 9zm23-7zm58 5zm10-2zm-42 13zm28-1zm20-3zm-57 15zm17-2zm1 4zm-79 12zm8 2zm68 2zm81-5zm-163 17zm29-1zm47-6zm62 6zm0-3zm3-6zm33 10zm-159 13zm13-6zm19-3zm23 4zm31-4zm35 5zm12-2zm10 4zm-127 11zm4 2zm88 0zm35-3zm-152 9zm55 6zm16-10zm13 8zm3-5zm4-2zm6 6zm8-3zm2 4zm11-3zm25-4zm-43 15zm64 0zm-124 12zm4 1zm37 4zm-36 12zm31-3zm25 5zm51-10zm9 2zm-134 20zm42-6zm19-4zm44 0zm-89 10zm47 6zm3 1zm20 3zm15-4zm-46 10z"/><path stroke="#2d7cff" d="M161 1162zm2 25zm44 15zm4 48zm0 10zm1 1zm-135 24zm68-4zm32 2zm-123 23zm45 6zm70 5zm40 7zm-128 7zm109-4zm27 1zm12 5zm-109 12zm62-6zm34 2zm23 7zm-75 5zm13-3zm38-1zm-96 14zm47-2zm69 0zm-73 17zm-22 15zm87 11zm-140 9zm80 9zm1 9zm-30 4zm16 7z"/><path stroke="#e42d2d" d="M128 1154zm16-7zm30 1zm-48 13zm1 0zm65 2zm-89 12zm25 1zm22-7zm-3 15zm6 0zm11 1zm-56 18zm15 10zm25-5zm12 9zm7 10zm25-2zm-47 10zm2 5zm5-9zm37 2zm-92 9zm79 4zm-77 29zm-31 20zm3 1zm41 10zm2 1zm30 13zm29 52zm5-7zm-75 33zm1-1z"/><path stroke="#7cffb0" d="M131 1150zm14 5zm33-6zm-69 17zm23 0zm43-7zm-43 14zm19 1zm16 5zm25-9zm-91 15zm61 6zm40-4zm-73 14zm30-1zm11 0zm0-3zm6-1zm6 0zm13 7zm-76 2zm8 6zm-36 8zm2 7zm20-2zm2-3zm9-3zm19 6zm4 0zm18 1zm15-8zm0 3zm5 2zm25-4zm-118 10zm34 2zm2 9zm4-10zm8 8zm4-8zm38 2zm19 8zm2-6zm13 7zm-120 3zm31 8zm9-8zm20 4zm3 2zm2-1zm15 16zm10-5zm21 3zm-142 13zm5-10zm21 2zm16 7zm12-8zm9 0zm42 5zm3-1zm35 1zm-167 7zm47 1zm77 2zm8 0zm11-3zm4 4zm8 0zm19 1zm12 4zm-168 3zm10 6zm33-3zm5-3zm4 7zm44 1zm1-6zm15 8zm5-7zm39-1zm-155 15zm1-6zm25 3zm78-3zm38 4zm3-3zm2 3zm1-3zm6 6zm20-7zm-139 21zm0-1zm17-3zm3 2zm38-3zm16 0zm17-3zm-115 15zm8 1zm51 0zm31 2zm15 1zm0-2zm3-2zm8 4zm17 0zm32-7zm-76 18zm52-6zm-134 14zm55 8zm7-2zm23-6zm18-3zm18 1zm23 2zm7-1zm6-2zm-175 14zm85 7zm22-5zm25-3zm23 0zm5 10zm20-8zm-147 12zm18 7zm64-9zm7 2zm26 7zm-132 7zm44-4zm1 6zm58 1zm9 2zm-93 5zm18 1zm49 7zm28-2zm31-3zm-113 13zm6-7zm73-1zm7 10zm-92 9zm60 5zm8 0zm12-11zm-42 15zm1 10zm27-1zm2 5z"/><path stroke="#ff7c2d" d="M155 1151zm22 4zm-42 20zm30-2zm-61 16zm24-5zm52 5zm2-2zm10-2zm5 10zm-81 20zm42 0zm29 11zm9-4zm-94 7zm42 8zm17-5zm55 7zm1-7zm-103 19zm15-2zm15-6zm34-2zm-80 22zm49-1zm59-9zm15 3zm-152 16zm40-2zm40-3zm32 0zm-120 19zm2-5zm59 3zm48-7zm44 2zm-122 10zm114 7zm16-2zm-179 16zm16-6zm47 2zm5-1zm6 2zm48-1zm4-4zm47 1zm-106 13zm61 7zm46-5zm23-5zm-163 16zm1 5zm147-5zm3 1zm-172 14zm116-2zm-96 18zm70 8zm6-4zm28 18zm38-5zm6 0zm-32 10zm-17 18zm9 7zm-27 9zm7 22z"/><path stroke="#48ffe4" d="M112 1156zm5-3zm10-6zm61 9zm-41 9zm12-5zm20 7zm-85 8zm4-3zm9 0zm31 7zm44-8zm3 20zm4-3zm2 4zm-83 1zm8 10zm11-6zm16 5zm21 0zm14-6zm17-3zm-96 22zm34-3zm43 0zm9 3zm-68 2zm8 1zm4 15zm37 2zm47 3zm-136 4zm7-1zm6 3zm102 19zm1-1zm14-5zm-128 10zm5 9zm30-5zm14 2zm34-7zm10 7zm9 0zm27 1zm-151 7zm32-1zm52 1zm31-3zm16 5zm4 4zm35-2zm-136 7zm36 4zm13-3zm31-4zm-121 15zm23 2zm71 4zm19-2zm37-1zm12 5zm-118 4zm12 2zm6 3zm7-6zm12 6zm3 2zm35-1zm18 1zm17-5zm9 0zm18 2zm-166 9zm30 6zm42-1zm7-1zm0-2zm6 0zm20-4zm3 7zm5-7zm15 4zm17-3zm32 6zm-185 5zm8 5zm29 3zm45 0zm1-7zm28 4zm49 0zm5-2zm-147 16zm32-4zm16 3zm1 0zm5-4zm20 3zm3-2zm12 0zm17-2zm27-1zm15-2zm2 4zm5-3zm-125 17zm28 2zm4-7zm3 7zm13 3zm1-10zm21 9zm-112 8zm48-5zm15 10zm21-5zm3 4zm4-2zm9-9zm2 2zm28-1zm11 4zm2 4zm-112 11zm30 2zm5-1zm4-4zm2-1zm3-2zm41 9zm5-4zm1 2zm3 3zm24-7zm-89 8zm20 4zm11 5zm1-1zm11-8zm9 9zm32-9zm0 4zm3 4zm-53 10zm50 4zm-52 3zm13 8zm5-5zm6-3zm-21 15zm1 6z"/><path stroke="#ff7c2d" d="M138 1149zm19 4zm26-3zm0 15zm-80 4zm12 7zm6-1zm13-1zm20 3zm20-3zm6-6zm9 24zm1-3zm15-7zm-45 15zm29 2zm0 5zm-77 10zm30-9zm3 11zm19-8zm16 6zm21-5zm-94 17zm68-5zm-87 13zm72 1zm13-3zm40 7zm-84 5zm5 6zm37 2zm-80 2zm7 9zm78-3zm-29 6zm38 9zm-109 11zm33-2zm57 1zm39-5zm-133 20zm37-2zm40-9zm53 8zm-79 5zm55 4zm8-2zm14 4zm-93 10zm4-1zm40 4zm1 2zm16-9zm6 9zm-118 2zm45 5zm13 1zm79 5zm2-1zm-76 5zm24 3zm2 0zm59-5zm-146 18zm93-2zm48 4zm-48 11zm46-2zm19-3zm-128 18zm74 0zm51-1zm-18 13zm25 6z"/><path stroke="#b0ff7c" d="M156 1146zm10 7zm30 11zm-94 15zm8-5zm4 4zm17 1zm5-7zm14 5zm3-1zm17-6zm6 5zm0-2zm3-4zm13 4zm-72 10zm10-2zm24 5zm5 0zm0 5zm18-10zm18 10zm1-2zm4-7zm-106 15zm14-4zm25 8zm14-5zm6 1zm11 3zm25-7zm18 10zm-116 3zm15 3zm9 1zm0 3zm15 3zm11-7zm6 5zm26 2zm13-5zm13 1zm-101 15zm7-7zm49-2zm5 4zm12-4zm1 8zm34-9zm4 1zm3-1zm-131 12zm12 6zm5 2zm17-3zm15 5zm17-8zm5 2zm11 3zm15 4zm2-9zm2 9zm17-11zm1-1zm-131 23zm10 1zm17-2zm46-5zm4 6zm31-4zm22-2zm3 4zm-125 6zm7 8zm1-8zm6 7zm1-5zm73-4zm3 7zm5-4zm17 3zm2 3zm-125 3zm8 10zm6-4zm13-4zm12 7zm22 2zm29-7zm17 4zm30-7zm13 10zm-122 3zm3 3zm18-3zm5 8zm11-1zm15-6zm5-1zm27 0zm9 2zm19-2zm-142 13zm13-3zm11 2zm28 6zm21-5zm13 4zm45-2zm19-3zm1 5zm10 4zm2-2zm-154 7zm6-4zm1 11zm24-6zm10 3zm8 3zm19-10zm17-1zm0 7zm4 4zm9 0zm-98 3zm18 6zm14 0zm0 1zm5-5zm23 7zm38-6zm24-3zm18 6zm15-5zm-144 16zm10-1zm5 0zm30 2zm63-7zm0 9zm2-1zm38-9zm-143 17zm47 6zm1-7zm45 5zm1-9zm36 9zm1-6zm-152 14zm4 2zm11-2zm3 2zm9 3zm36-4zm0-4zm16 6zm2-6zm19 4zm3 2zm4 2zm10-7zm1-2zm4 5zm19 1zm27 2zm6 0zm-136 10zm36 0zm16-3zm12 7zm24 0zm-57 6zm28 2zm4 2zm57-2zm-160 5zm36 0zm16 0zm14 9zm5 1zm2 0zm12-8zm6 1zm6 8zm50-3zm11-1zm3-1zm-150 16zm33 0zm15-1zm47 0zm9-6zm-72 19zm9-1zm52 0zm10-1zm-61 10zm24-6zm7-1zm23 11zm19-5zm-42 24z"/><path stroke="#2de4ff" d="M173 1155zm-43 9zm2-4zm-3 20zm12 8zm-53 25zm44-5zm65-2zm-71 14zm25 1zm-68 12zm2 1zm15-3zm107 1zm-73 10zm89 10zm-147 3zm74 6zm21-1zm3 12zm8-4zm5-2zm-120 22zm24-7zm34 4zm21 0zm67 1zm3-2zm-85 6zm19 10zm86-1zm1-3zm-171 13zm44-7zm128 6zm-146 10zm55 6zm1-3zm13-7zm-68 21zm0-2zm5-4zm1-1zm111 7zm-63 12zm19 0zm36-1zm1-3zm29-6zm-155 14zm71 1zm58 8zm22-8zm-115 9zm67 7zm3-2zm7 2zm35 3zm-153 8zm24-4zm36 9zm30-4zm5-6zm66 6zm-74 14zm8-7zm22-2zm-85 22zm69-6zm41-1zm-111 13zm34-1zm68-4zm-85 24zm42-9zm8 0zm17 4zm-13 14zm-10 6zm9-2z"/><path stroke="#e42d2d" d="M145 1146zm-20 14zm14 5zm-10 39zm55-1zm-24 4zm15 12zm-40 10zm15 18zm-87 11zm112 4zm-109 15zm5 10zm75-10zm37 5zm11 12zm22 13zm-97 7zm22 10zm30-9zm-108 22zm105 20zm76 0zm-83 85z"/><path stroke="#ffe42d" d="M108 1152zm40-5zm14 9zm-52 8zm58 4zm8-6zm18 6zm-98 3zm16 9zm21-8zm28 4zm-70 5zm18 0zm70 1zm8 10zm-89 11zm26-10zm14 6zm-30 17zm-8 11zm41 0zm5-10zm12 7zm7 0zm23-2zm9 3zm8-3zm-82 7zm9 2zm23 2zm6-1zm22-2zm30 5zm-80 12zm5 1zm37 4zm27-6zm-119 16zm32-7zm47 4zm53-1zm6 1zm-115 11zm3 0zm22 4zm-59 10zm48 3zm27 0zm6-8zm3 6zm5-5zm0-3zm7 0zm3 0zm-59 18zm37-1zm5 6zm-88 8zm5-2zm8-3zm5 8zm9-4zm30-4zm31 1zm2 0zm6 5zm68-2zm-161 15zm79-4zm1-5zm21 10zm34-8zm25-3zm-176 17zm13 4zm114 2zm13-3zm-83 6zm102 5zm-152 17zm3-2zm41-5zm10 6zm4-6zm19-1zm0-3zm23 7zm-74 9zm14 3zm31-5zm77 3zm-36 18zm12 1zm22 6zm-98 16zm85-9zm-98 17zm27 14zm26 3zm22-9zm-42 11z"/><path stroke="#ffe42d" d="M155 1142zm-2 14zm7-5zm-26 15zm23 0zm10-8zm6-1zm-37 17zm3-2zm52 1zm-86 14zm53-4zm11 0zm7-1zm-80 13zm42 7zm22 0zm4-7zm20 4zm21 5zm-109 11zm9-9zm108-1zm-67 12zm21 4zm6 7zm2-4zm11-2zm-94 9zm53 6zm8 3zm24-11zm20 0zm21 10zm-62 13zm2-7zm-85 11zm65 3zm1-1zm15 6zm-11 10zm15-6zm13 6zm-69 11zm53 1zm-88 8zm9 1zm32-5zm39 5zm9 4zm52-9zm26 7zm-123 13zm31-1zm83 0zm-111 4zm12 3zm3 4zm30-6zm29 5zm0-6zm3 3zm21 2zm2 5zm-69 8zm5-3zm55 3zm-112 9zm8-2zm42 1zm15-1zm2 5zm62-4zm10 4zm-131 7zm14 1zm25-2zm6 0zm54 2zm33 1zm-134 17zm57-4zm9 12zm21 3zm44-7zm0 8zm-27 8zm-59 8zm20 1zm12 7zm18-6zm19 0zm-79 33zm15 2zm5 3z"/><path stroke="#2d2de4" d="M152 1199zm7-3zm45 13zm-54 17zm12 13zm12-7zm31 7zm5 13zm-136 2zm27 20zm-5 14zm6-3zm38 2zm26-5zm39-5zm14 5zm-136 10zm9 0zm33-1zm14 4zm6 4zm68-6zm-125 14zm31 3zm30 2zm9-12zm-78 24zm21-5zm30-1zm66-1zm-39 14zm48 5zm31-5zm12-4zm-168 11zm0 4zm123 3zm-109 10zm94-3zm13 8zm4-8zm-60 12zm37-2zm-80 17zm9-6zm39 11zm48 0zm1-11zm31 1zm-133 15zm38 4zm9-3zm41 4zm3 2zm46-4zm-72 8zm25 8zm13-8zm19-2zm-104 13zm12 1zm14 7zm55-6zm9-4zm-42 20zm0-7zm7 10zm12-5zm-55 8zm4 0zm10 4zm9-6zm6 8z"/><path stroke="#ff482d" d="M159 1152zm-39 9zm21-3zm9 9zm4-6zm12 4zm22 3zm-89 7zm99 7zm-92 19zm29 11zm32 3zm-79 3zm18 4zm-24 14zm84 2zm38-8zm6 3zm2-3zm-123 21zm61 0zm-24 8zm25-5zm48 3zm-115 9zm36 11zm4 3zm13-1zm8 8zm-76 5zm0-1zm12-1zm129 3zm4 2zm14 14zm-131 15zm120 0zm7-6zm-33 10zm17 1zm-74 13zm3 3zm57 0zm1 27zm-61 15zm46 8zm-34 82z"/><path stroke="#b0ff7c" d="M140 1147zm5-3zm9 12zm3-3zm-43 14zm9-10zm43 1zm23 10zm-74 4zm3 4zm9 3zm13-4zm15-6zm43 9zm-105 7zm36 7zm24-8zm13 5zm-34 15zm3-4zm15-4zm31 3zm16-3zm9 0zm-121 11zm30 5zm5 3zm4-7zm58 3zm12-5zm7 7zm5-4zm3 7zm-120 5zm1 2zm2-1zm7-4zm2-1zm11 0zm16 5zm6 2zm1-5zm13 5zm9 3zm4-10zm6 2zm22 2zm4-1zm1 8zm-114 5zm10 7zm70-5zm10 5zm15-7zm9 4zm-120 14zm16-10zm1 7zm1 1zm37-6zm20 9zm60-10zm12 3zm-81 11zm2-3zm9 2zm1 7zm20-2zm8 3zm10-1zm6-4zm5-2zm2 8zm5-4zm11-4zm0 3zm-153 11zm10-4zm29 5zm25 5zm10-6zm13 1zm1 1zm3-5zm2 4zm7-5zm1 6zm16-5zm26-2zm-71 23zm37-6zm25 3zm16-8zm-146 23zm12-3zm45-2zm2 2zm18-1zm21-3zm15 0zm18-2zm2 9zm-132 8zm27-4zm28 2zm23 1zm16-7zm20 6zm11 5zm7-5zm10 3zm12-5zm7-3zm10 6zm-155 11zm16-2zm34 3zm12 0zm33 5zm2-6zm16 2zm2-7zm28 5zm4-1zm5 6zm-170 8zm22-1zm1 6zm6-4zm9-4zm28 5zm26 2zm60-6zm8 5zm12-6zm-148 20zm11-9zm10 6zm13-3zm36-2zm27 6zm44 1zm-169 13zm31-3zm17-2zm3 3zm2-5zm17-4zm9 8zm57-6zm5 0zm2 4zm-122 8zm4 3zm56 4zm11 2zm48-10zm34 4zm-133 14zm16 0zm24-4zm4 4zm8-2zm3 0zm56-1zm-116 9zm60 5zm14-6zm59 10zm-113 11zm9-1zm10-6zm-38 15zm68 3zm15-4zm8 7zm-76 7zm23-3zm11-2zm10 10zm8-11zm17 6zm-2 8zm-35 15zm18-3z"/><path stroke="#2d7cff" d="M198 1180zm-71 9zm4 7zm30 13zm38 3zm-35 12zm27 1zm-36 12zm3-5zm21 1zm-73 65zm4-8zm82 8zm37 1zm-20 11zm-120 4zm-26 17zm6-2zm67 7zm99-2zm-90 5zm70 5zm-89 14zm9-9zm-18 21zm17 0zm53-7zm6-1zm-45 22zm50-3zm-44 5zm51 10zm-60 4zm11 8zm17 0zm-45 16zm19 3zm3 0zm35 5zm26-9zm-57 21zm18-11zm-2 20z"/><path stroke="#ffb02d" d="M152 1147zm-46 15zm12-1zm34-3zm0 0zm25 7zm-69 14zm8-10zm-8 17zm12 5zm40-4zm-25 6zm44 3zm3-2zm15 4zm4 3zm-74 6zm43 4zm-75 16zm5-2zm16-4zm32 3zm5-7zm41 0zm5 0zm-43 17zm5 1zm52-2zm2 5zm-73 12zm19-6zm2 3zm-71 10zm133-4zm-145 16zm2 1zm3-2zm3-2zm5 2zm6 2zm118 3zm-121 22zm3-4zm11 3zm2 16zm9-2zm48-7zm51 2zm-44 16zm49-5zm-99 18zm36-7zm19 0zm36 8zm20-6zm4 2zm-163 16zm16-7zm43 0zm17 0zm-53 16zm90 6zm15-12zm32 8zm-148 13zm9-3zm121-2zm-135 12zm13 7zm55 8zm-14 17z"/><path stroke="#e4ff48" d="M132 1155zm14-8zm5 1zm1 4zm7-5zm-43 12zm12 5zm18-7zm3 0zm5 6zm19 2zm4-8zm7 6zm3 5zm6-2zm8-3zm-95 17zm5-9zm8 3zm10-1zm20-4zm14 1zm21 3zm-86 14zm15 1zm0 1zm11-6zm4 9zm30-2zm2-6zm3 0zm17 6zm-92 10zm15-5zm9 4zm5 0zm3 1zm15-1zm0 1zm9-6zm7 2zm3-2zm21 10zm1-11zm5 11zm9-8zm14 8zm-117 11zm19-1zm17-5zm4 0zm3 6zm1-5zm49-4zm0 4zm19 4zm-115 7zm6-3zm26 5zm16-3zm8 5zm27-8zm16 1zm10 9zm26 0zm-142 1zm10 11zm8-10zm22 0zm44 9zm9-4zm14-1zm-98 8zm5 1zm2 8zm35-4zm12-4zm13-1zm4 10zm8-1zm0 1zm4-10zm3 1zm44 6zm12 4zm-158 1zm8 4zm17-4zm18 2zm23 2zm17 6zm1 1zm29-8zm22 6zm-131 3zm8 8zm63-5zm10 3zm61 2zm-145 13zm3-1zm18-5zm2-3zm5 11zm6-8zm2 5zm3-5zm9 0zm6 2zm19 5zm4-6zm20 3zm6-4zm5-1zm-133 15zm46-5zm14 5zm27-2zm13-3zm7 10zm9 0zm12-1zm56-1zm-130 5zm56 1zm0 9zm35-11zm1-1zm26 8zm13 4zm-167 9zm9-6zm11 6zm1 3zm15-9zm5-1zm14 2zm15 8zm0-3zm34 3zm4-2zm17-6zm13-2zm1 5zm1 4zm2-1zm8-1zm2-8zm-153 18zm16-3zm19-2zm19 1zm10 5zm28-1zm17-1zm12 1zm11-6zm12 0zm33 4zm-117 14zm36 0zm8-3zm26 7zm12-6zm26 0zm-134 15zm5-1zm15-1zm23 0zm13 2zm19-3zm8 7zm-76 3zm3 1zm9-1zm0 5zm41 3zm4-2zm5-4zm-14 8zm19 8zm-82 11zm9-4zm38 0zm7 1zm7 3zm5-1zm18-2zm39 0zm-57 8zm19 3zm3 6zm13-3zm4-4zm1-1zm-94 11zm77 1zm18 8zm-79 23zm38-4zm-3 9zm17 5z"/><path stroke="#2db0ff" d="M181 1157zm-77 32zm33-4zm12 14zm31 18zm-93 42zm66-4zm-72 15zm1 13zm-11 17zm13-2zm8 3zm85 5zm-58 7zm-1 17zm50-3zm-68 11zm114 3zm-139 17zm4 1zm13-10zm97 2zm19 6zm-116 5zm81-1zm57 10zm10-3zm-153 14zm46-7zm24-1zm58 3zm-129 23zm19 1zm89-2zm-46 10zm40 21zm5-1z"/><path stroke="#b02d2d" d="M186 1195zm-25 12zm-27 23zm20 20zm-40 37zm61 46z"/><path stroke="#2d2de4" d="M112 1175zm40-5zm3 3zm26 43zm-57 3zm51-1zm2 10zm11-7zm25-1zm-32 17zm-50 6zm29 3zm44 2zm3 1zm-127 5zm138 2zm-128 27zm73 5zm-40 8zm15 3zm36-1zm-114 3zm20 8zm77 1zm-93 3zm10 8zm0-3zm89 4zm29-2zm-87 6zm24 0zm5 7zm61-4zm-75 12zm13 1zm103-1zm-160 19zm25-9zm34 9zm43-3zm6-2zm15-2zm7 5zm10 0zm1-1zm10-7zm-145 11zm24 0zm43 7zm35-4zm25 6zm-126 3zm17 0zm23 10zm27-5zm40-5zm17 11zm11-6zm-98 17zm23-4zm51 5zm33-10zm-110 14zm35 7zm6-9zm14 0zm-21 19zm19-8zm16 2zm17-1zm7 0zm-49 14zm10 5zm6-3zm15 5z"/><path stroke="#2de4ff" d="M153 1151zm0 24zm7 3zm6 6zm16 25zm1 2zm-20 26zm51 3zm-76 2zm64 22zm11-3zm-141 4zm14 4zm19 7zm33-3zm-44 3zm53 8zm0-3zm19 3zm2-6zm30 7zm-127 18zm22-1zm12 0zm18 1zm33-1zm45 6zm6 0zm5-4zm-152 14zm44-1zm7 5zm18 1zm32 1zm53-7zm-87 11zm23 7zm4-11zm10 7zm39-2zm-101 16zm8 3zm8-6zm53 5zm38 1zm16-9zm-123 14zm33 3zm78 3zm9-6zm18 4zm-57 12zm14 0zm-96 10zm16 4zm53-4zm10-3zm41 3zm-139 17zm3-1zm77 1zm18-2zm-95 4zm16 1zm103 5zm-99 5zm1 20zm54-5zm1-3zm-31 23zm23 5z"/><path stroke="#ffe42d" d="M157 1143zm-19 8zm36 3zm-68 12zm3-2zm53-3zm11-5zm22 12zm-94 10zm19 1zm4-2zm10-9zm36 9zm9-8zm-35 22zm18-9zm6 10zm17-5zm6-3zm-100 18zm18-2zm6 1zm1-4zm6-1zm13 2zm1-4zm30 1zm39 0zm-103 11zm6 0zm1 10zm22-6zm39-5zm10 10zm0 1zm36-10zm-96 14zm19 5zm24 5zm16-1zm9 4zm18 6zm-131 12zm4-8zm13 5zm72 0zm10-6zm5 1zm1 5zm41-2zm4 1zm-90 14zm8-8zm78 1zm-148 12zm28 5zm2 1zm106-5zm-150 17zm20-2zm94-2zm-109 10zm25-2zm34 6zm41 2zm10-2zm-106 7zm56 3zm1 1zm40 0zm10-1zm-116 11zm10 0zm29 2zm9 0zm15 6zm37-6zm19 0zm12 7zm-33 9zm40-4zm6 5zm-106 7zm19 0zm44 5zm27-7zm35 2zm14 5zm-134 3zm7 0zm9 11zm68-4zm22-2zm-143 10zm66-3zm39 10zm1 2zm-102 12zm37 2zm122 2zm5 1zm1-4zm-92 17zm8 1zm22 1zm-59 10zm29 0zm28 0zm-81 6zm65 1zm-31 14zm24 3z"/><path stroke="#ff482d" d="M173 1154zm6-2zm-44 7zm54 7zm-81 4zm49 5zm10-3zm9 1zm-91 17zm18-6zm31 4zm44 0zm25-5zm-73 16zm-21 14zm62-3zm-87 13zm10 14zm91-4zm-46 17zm-60 13zm1 1zm94-1zm-52 12zm4-8zm-18 16zm31-1zm41 3zm-80 15zm3-11zm9 11zm34-2zm-97 10zm17-5zm176 6zm-157 7zm14 8zm53-1zm-72 5zm40 2zm12 1zm55 2zm-126 13zm96-5zm46 14zm29 4zm-19 13zm-5 8zm-80 38zm11 0z"/><path stroke="#2d2db0" d="M212 1215zm-21 14zm-106 34zm141-9zm-156 26zm25 19zm130-5zm-140 8zm14 5zm123-3zm-157 20zm12-6zm9-4zm31 8zm79-4zm-35 20zm14 5zm29-4zm35-1zm-176 19zm28-8zm51 4zm4 4zm52-2zm-113 17zm134-7zm6 0zm1 7zm-102 3zm35 9zm34-5zm24-4zm-147 15zm36-3zm47 9zm5-6zm17-1zm-72 17zm102-8zm-71 19zm-25 4zm58 4zm18 3zm-40 8zm8 7zm-1 9z"/><path stroke="#2d48ff" d="M128 1145zm29 8zm8 0zm0-3zm-32 26zm68 0zm-98 24zm98-2zm-107 8zm33 23zm31 11zm-97 18zm100-3zm20 2zm12 2zm-113 11zm63-2zm13 6zm-34 6zm71 1zm15 3zm-1 13zm2-3zm3 4zm16 2zm-184 6zm11 6zm18-8zm38 3zm18-6zm50 8zm19-2zm40 3zm-145 12zm12 1zm36-6zm-85 13zm85 1zm3 1zm40-7zm45 5zm-147 17zm5-10zm56 1zm71 7zm3-7zm3 9zm10-2zm-161 15zm9-7zm4 3zm144-2zm-126 16zm47 0zm1-5zm44 6zm5-9zm-116 12zm40-1zm67 7zm-45 13zm8-8zm10 11zm24-10zm8 0zm-20 21zm9-8zm14-2zm20 4zm-63 17zm9-5zm-13 11zm23 5zm3 3zm-9 2zm3 0zm1 9zm14-1z"/><path stroke="#7cffb0" d="M114 1148zm18 1zm19 0zm8-4zm-48 14zm19 1zm52 3zm-84 9zm12 2zm18-1zm3 0zm18 2zm24 4zm-82 12zm21-1zm8 0zm13 0zm17 1zm21 1zm30-9zm-113 21zm8-7zm18 0zm21 7zm-32 6zm2 0zm1-3zm40-1zm18 1zm23-1zm3 4zm14-4zm-114 20zm45 1zm22-9zm-61 19zm39-3zm32 2zm4-2zm11 3zm-46 11zm6-3zm26 6zm3 1zm3-11zm13 0zm4 4zm21-2zm4 7zm4-3zm-65 9zm0 8zm36-2zm15-1zm-128 15zm9 0zm7-5zm28-1zm52-2zm10-2zm12 2zm0 1zm5 4zm15-8zm-170 16zm16 2zm39-2zm41-3zm10 6zm3-4zm20 3zm32-1zm18 2zm-150 13zm9-4zm11-4zm3 4zm8 4zm9 3zm1-3zm13-7zm12 1zm31 9zm15-3zm19-3zm24 3zm-175 10zm0-2zm44-1zm10-1zm12 8zm29-1zm3-6zm28 3zm29 1zm0-6zm13 4zm-154 11zm41-4zm16 11zm27 0zm6-9zm9 2zm20 3zm13 0zm8-1zm30 1zm-190 7zm9 2zm1 6zm3-8zm11 2zm18 7zm16-4zm22-4zm2 6zm12-9zm1 4zm6 0zm4 4zm3-2zm9-1zm22 4zm29 2zm-164 2zm30 5zm68 1zm1 4zm3-1zm40-8zm7-2zm2 1zm8 4zm-136 7zm97 7zm47-1zm10-5zm-58 15zm3 6zm46-2zm-103 7zm41-1zm16 6zm-101 6zm2 1zm74-3zm46 5zm-105 12zm28-5zm1 8zm1-8zm34 3zm30 1zm22 0zm5 1zm-55 18zm40-11zm4 1zm-83 13zm9 3zm55 5zm-28 3zm19 1zm-41 14zm36 5zm-25 29z"/><path stroke="#b0ff7c" d="M155 1137zm-43 19zm18-1zm5 0zm8-4zm0-6zm13 9zm11-6zm10-4zm-46 13zm13 6zm1-5zm10 4zm45 0zm-104 11zm5 6zm7-4zm14-2zm44 3zm26 0zm4 3zm-106 5zm21-3zm5 3zm19 3zm17 3zm28-8zm8 3zm11 7zm-104 3zm9 7zm23 0zm2 2zm11-1zm19-7zm31 3zm-60 16zm4-3zm1-5zm5-1zm5 2zm52 5zm3-6zm1 9zm2-5zm6 3zm-109 5zm10 7zm63-3zm26 3zm10-7zm-124 12zm8 6zm41-8zm77 6zm5 4zm-79 4zm2 8zm4-4zm22 0zm5 1zm8-7zm36 2zm-140 12zm3 5zm0 3zm24-3zm38-6zm13 6zm5 3zm15-1zm5-7zm3 4zm30-3zm-137 15zm32-3zm26 6zm60 0zm4-8zm17 6zm-159 11zm11 0zm51 5zm11-7zm86 4zm-159 10zm31-1zm10 3zm26-4zm0 2zm30 0zm33 3zm24 0zm29 0zm-147 10zm43 1zm22-5zm46 8zm3-9zm11 2zm1 2zm13 4zm-174 10zm13-6zm17 1zm3 2zm15 2zm3-4zm1-3zm26 5zm4 1zm25-6zm20 10zm26-8zm6 4zm-151 13zm52 1zm9 3zm29-2zm10-3zm4 1zm3-2zm1 1zm0-2zm5 6zm7 0zm4-6zm5 7zm7-1zm43-4zm-165 16zm52-2zm5-7zm1 4zm3-5zm26 3zm7-3zm8 6zm19-4zm26 1zm-99 18zm45-2zm3-2zm15 2zm21-7zm-132 14zm3 7zm49-3zm6-4zm49-2zm9 1zm18 9zm14-5zm-102 16zm1-1zm7-3zm15 5zm9 0zm12-3zm29 4zm14-10zm10 0zm-136 17zm43-3zm6 2zm57 5zm22-2zm-96 10zm24-6zm5 5zm33 6zm25-4zm-41 7zm2 4zm14 3zm21-5zm-42 18zm2-8zm21 5zm-48 17z"/><path stroke="#2d7cff" d="M101 1162zm72-2zm17 29zm-1 5zm25 13zm0 8zm-47 20zm-82 16zm4-3zm50-6zm88 9zm-44 16zm-102 19zm91 4zm-102 15zm11-3zm74 3zm-65 13zm102-3zm24-2zm-83 13zm105 2zm-182 28zm26-8zm54 3zm29 7zm34-5zm17 1zm-58 9zm47 1zm-137 20zm141-8zm4 6zm-93 9zm22-1zm38 1zm-88 13zm13 14zm33-3z"/><path stroke="#2d48ff" d="M92 1168zm24-3zm18 28zm-49 15zm77 30zm-72 11zm67 2zm46 28zm-148 19zm19-5zm8-1zm76 8zm3-9zm58 5zm-169 22zm67 4zm42-3zm35 4zm43-9zm-167 20zm48 2zm22-10zm2 4zm52-4zm1 6zm22-1zm-164 16zm11-10zm22 7zm22 4zm19-5zm89-2zm6 7zm-97 2zm21 0zm36 8zm-85 10zm31-6zm33 10zm43-10zm15 6zm15-7zm-154 14zm23-2zm25 2zm98 5zm-61 8zm55 3zm6-1zm2-5zm-87 19zm-48 14zm68 2zm40-10zm2 8zm3-5zm-54 10zm27 0zm11 1zm6-1zm-25 27zm9-5z"/><path stroke="#48ffe4" d="M103 1171zm24 7zm11-10zm8 6zm28-3zm24 6zm-98 8zm9-4zm0 10zm5-8zm22 3zm7 4zm20-8zm24 5zm3 5zm-108 2zm14-1zm26 4zm17-4zm-42 19zm15-2zm71 5zm1-8zm-91 14zm54 0zm25 1zm-26 16zm11-2zm12-1zm8 2zm-90 6zm54-2zm36 5zm-76 14zm42 2zm6-5zm16-2zm34 3zm2 5zm15 0zm-115 11zm27 1zm39-6zm39-3zm19 10zm-117 8zm3-1zm43 3zm10-8zm10 0zm6 4zm20 5zm-150 7zm7 1zm7-2zm10 2zm61 2zm6-3zm7-1zm11 4zm2 1zm5-3zm9-4zm38 8zm1-6zm-160 10zm11-2zm24 2zm11 4zm11-2zm15-2zm20-2zm8 9zm52-4zm15-4zm-156 14zm34 7zm20-7zm19 3zm78 3zm-107 3zm26 11zm56-7zm2-3zm40 5zm-177 14zm34 2zm25-9zm19 2zm26-2zm5 8zm19 2zm54-10zm-176 19zm35 3zm42-2zm11-2zm79-6zm-162 17zm4-1zm64 2zm14-6zm19 7zm18-3zm10 6zm6-11zm7 5zm6-3zm9 3zm-144 8zm13-2zm26 7zm5-2zm20-4zm20 7zm31 2zm15-9zm14 7zm13-5zm-99 16zm4 2zm5 14zm14-1zm5 2zm24 0zm-86 1zm45 6zm5 5zm9-2zm26-3zm13 4zm10-10zm-60 15zm22 0zm9 20zm3-10zm-33 15zm4 7z"/><path stroke="#2d2db0" d="M115 1197zm48 21zm56 35zm-155 18zm19 14zm126 19zm-145 18zm18-3zm38-3zm28 7zm19-4zm47-1zm-28 29zm11-6zm25-2zm-104 15zm27 2zm25 2zm-40 10zm52-8zm10 12zm-50 11zm61-9zm35 3zm-44 12zm-79 16zm20-5zm2 0zm36 8zm15-8zm-85 15zm118-5zm-104 18zm46-4zm-23 13zm2-2z"/><path stroke="#b0ff7c" d="M133 1152zm1 1zm47 3zm-35 2zm4 7zm8-8zm12 4zm2 2zm1-1zm0 3zm4 3zm-72 8zm1-6zm5-2zm18 2zm3 2zm41 8zm17-8zm7-1zm0 0zm-102 17zm16 4zm9-8zm2 6zm12 1zm25-2zm11-2zm-48 11zm2 4zm6 0zm14 1zm7-3zm7-3zm7 7zm1-10zm37-1zm-113 17zm14 1zm82-2zm0 1zm3 2zm-99 15zm3-6zm14 0zm35 7zm4-10zm11 7zm32-6zm2-2zm23 1zm-122 17zm2 3zm63-4zm3-4zm8 3zm4 3zm0 0zm16-7zm12 5zm25 4zm-139 10zm9-4zm8 0zm14 2zm3-5zm10 5zm3-5zm38 2zm37 1zm-126 10zm8 6zm6-7zm8 6zm31-6zm5 11zm16-10zm11 1zm6 5zm2 2zm13-1zm8-7zm-133 18zm6-7zm2 6zm16-4zm5-2zm32 3zm25 0zm6-3zm16 7zm29-6zm-141 19zm6 2zm3-9zm2 8zm62-3zm9 3zm17 0zm17 1zm2-7zm5 8zm5-8zm10 0zm3 2zm21 5zm-99 4zm32 7zm1-7zm6 9zm1 0zm9-4zm13-6zm29 10zm10-3zm2 1zm-178 7zm19 6zm34 1zm29-8zm17 5zm18-6zm6 4zm5 1zm24-3zm30-2zm0 0zm-117 19zm17-2zm13-6zm5 3zm30 0zm5 4zm1-5zm60 4zm-188 9zm38 2zm2-1zm28 3zm31-3zm5 4zm52 1zm8-4zm12-2zm-147 15zm28 1zm47-3zm14 2zm9-1zm1 3zm10-5zm13-1zm6 5zm-131 11zm67 1zm15-7zm11 8zm2-5zm15-2zm16 7zm0-6zm23 1zm-163 18zm51-1zm44-4zm15 5zm5-4zm4 4zm4-8zm49 9zm-160 3zm35-2zm4 7zm10 0zm74 14zm23-5zm1 5zm-98 6zm18-3zm13 3zm21 5zm15-6zm-57 14zm27 0zm-66 12zm4 3zm34-1zm33-3zm25-2zm-46 18zm5-2zm8-1zm-34 8zm14 37z"/><path stroke="#2d2db0" d="M155 1212zm-68 40zm90 13zm-91 48zm8 4zm135 4zm-110 21zm38 6zm29-2zm-93 6zm136 8zm-140 2zm50 8zm-66 14zm82 0zm26-10zm41 6zm-84 12zm41 4zm27-5zm-129 8zm63-2zm-24 14zm5-2zm40 0zm-21 20zm10 16z"/><path stroke="#2d48ff" d="M120 1160zm58 19zm18-8zm2 35zm-47 20zm-46 9zm-27 19zm58 6zm-68 7zm49 6zm68-6zm-108 24zm121-3zm-123 15zm92 5zm12-7zm-127 14zm93 8zm66-5zm28-3zm-140 15zm30 5zm90-5zm-154 16zm75-8zm0 2zm5 6zm68-8zm16 2zm-146 15zm71 3zm-74 8zm13-3zm10 0zm61-2zm17 1zm4 0zm51 4zm-131 15zm33-3zm19-4zm13-1zm5-1zm6 7zm1 1zm19-3zm2 0zm-97 13zm13 6zm50-2zm6 1zm7-1zm-76 9zm22 3zm11-2zm34-6zm35 6zm4 4zm-104 5zm5 7zm35-7zm-6 13zm41 2zm5 0zm5 0zm-36 14zm26-7z"/><path stroke="#ff482d" d="M103 1165zm4 15zm-10 7zm20-1zm75 2zm-84 22zm16-1zm65 5zm-15 4zm30 7zm-58 5zm32 5zm44 1zm-78 6zm15 4zm51-1zm-125 13zm1 2zm-13 14zm2-5zm35 0zm17 2zm-15 7zm43 1zm-91 16zm34 5zm21-6zm22 18zm77-9zm-136 24zm9 3zm56-3zm23 5zm10-7zm-98 22zm20-1zm29-2zm8-1zm8 1zm53 3zm36-6zm-85 36zm17 20zm28 3zm-60 10zm46 12zm-42 58z"/><path stroke="#e4ff48" d="M129 1152zm0-1zm28-3zm10 1zm1-1zm-28 18zm3 1zm1-4zm4 1zm1-1zm5-6zm8 1zm9 6zm4-2zm4 1zm2-1zm-64 16zm11-9zm12 10zm11-6zm13 4zm15-1zm2 4zm17 0zm5-4zm-93 5zm2 4zm6 3zm1 2zm30-3zm9 5zm6-8zm11-2zm9 2zm-92 16zm23-6zm6 7zm8-5zm4 5zm3 0zm10-7zm1 3zm24-4zm0 3zm2 8zm5 0zm5-9zm0-2zm14 3zm1-1zm-97 20zm20-4zm7-3zm52 6zm-93 5zm11-1zm10 2zm2-1zm38-1zm2 1zm40 7zm2-2zm12 2zm-122 9zm57-4zm6 2zm7-4zm5 11zm4-10zm15 9zm18-7zm10 8zm6-11zm-128 15zm2 0zm7-1zm59-2zm2 11zm5-9zm3 6zm4-7zm8 7zm34-4zm25-1zm-150 12zm52-2zm0 9zm45-8zm22 0zm-116 21zm23-2zm27-1zm41-6zm-105 11zm2 3zm10 2zm28 0zm24-3zm31-2zm2 1zm6 1zm3 6zm20-3zm16 1zm-130 11zm14 2zm11-4zm28 3zm7-1zm0 1zm65-1zm6-3zm22 5zm-137 11zm18-7zm34 1zm6 9zm0-10zm2 2zm26 2zm-120 14zm17 0zm18-6zm5 8zm32-5zm12 5zm3 2zm1-10zm16 8zm29-3zm4 5zm-142 7zm40-1zm23-2zm6 3zm36 6zm12-11zm6 10zm17-7zm5 0zm2 1zm13 0zm7 3zm11 2zm-166 5zm5 4zm14-4zm25 0zm25 1zm58 1zm17 4zm3 0zm3-2zm10 0zm-160 15zm115 2zm-41 4zm15-2zm2 2zm46-3zm0 8zm5-1zm-144 15zm61-3zm62 4zm23-5zm7 3zm-135 10zm95-6zm18 5zm-65 17zm0-4zm56-1zm31-3zm-124 16zm102 3zm-107 5zm35 3zm45-3zm25-3zm-72 21zm31-6z"/><path stroke="#e42d2d" d="M121 1149zm9 8zm52 17zm-65 15zm13-2zm43-1zm6 10zm-32 12zm33-2zm-34 21zm74 5zm-8 16zm-147 12zm148-5zm-79 17zm18-3zm10 5zm-26 8zm27 6zm2-8zm26 6zm36 2zm-35 6zm-129 10zm51 8zm-59 12zm168 5zm-42 43zm26-11zm-119 18zm-1 26zm71-8zm-4 40z"/><path stroke="#2d2de4" d="M158 1167zm28 12zm-96 3zm23 4zm-20 16zm29-1zm49 14zm-85 2zm99 1zm31 12zm-158 33zm16-7zm144 5zm-71 22zm57-2zm28 5zm-148 7zm17 5zm10-3zm105 5zm-118 3zm44 9zm8-9zm23-1zm-78 16zm15 2zm52-3zm20-4zm48 5zm4 3zm-144 11zm24 0zm83 3zm-131 10zm27-7zm56 2zm23 6zm11-9zm1 8zm34 8zm20 3zm-130 16zm0-3zm11 1zm99 2zm-125 10zm32 1zm85-7zm15-1zm-130 17zm34-5zm1 2zm21 2zm76 4zm-121 3zm31 2zm8-3zm5 0zm38 5zm-35 11zm39 17zm-25 14z"/><path stroke="#e4ff48" d="M155 1155zm1-10zm21 1zm-49 20zm29-6zm21 7zm2-2zm6-2zm-60 15zm2-5zm2 6zm7-6zm8 2zm5 0zm8-3zm36 8zm3-2zm-105 6zm1-1zm9 5zm3 0zm7 0zm24-6zm7 1zm16 3zm4 0zm4 3zm-84 6zm17 7zm14-2zm7 2zm4-1zm25 1zm5-5zm21 6zm11-10zm10 7zm-119 12zm7-6zm6-1zm3 4zm0 1zm26 5zm22-9zm3 0zm14 10zm8-8zm-56 17zm13-7zm11-1zm2 4zm34 3zm4-5zm11 6zm7-4zm-98 8zm50 6zm1 4zm1-10zm1 1zm3 2zm8 3zm16 0zm9-1zm26 6zm-135 10zm10-1zm70-7zm26 2zm1-1zm24 2zm8-3zm-158 22zm51-6zm58-2zm8-2zm3 0zm7 4zm17 2zm6-8zm14 11zm-145 5zm11 1zm0 5zm10-7zm55 5zm28-7zm31 3zm-155 10zm19-1zm10 6zm20-5zm13 0zm12 9zm12 0zm70-7zm0 6zm-165 6zm125 5zm2-6zm22-1zm15-1zm13 6zm-151 13zm4-2zm35 2zm4 4zm8-9zm23 0zm13 4zm1-1zm0 6zm4-9zm59-1zm-155 15zm21-3zm38 7zm5-3zm12 2zm10 1zm15 2zm-85 10zm1-2zm2 5zm10-4zm23 3zm5 1zm10-2zm7 2zm66 0zm14-4zm1 0zm-158 12zm67-1zm30 5zm3-4zm6-2zm19-4zm3 7zm-109 11zm12-6zm62 7zm7-2zm5-4zm25 3zm6 2zm-68 13zm3-5zm4 3zm22-2zm12-2zm2 6zm23-7zm12 7zm12 0zm14-8zm-107 21zm8-5zm18-1zm24 2zm-103 13zm5-2zm1-3zm5 2zm55 1zm64 5zm-125 11zm116-8zm17 7zm-127 14zm30-1zm27 0zm20-3zm14-3zm-69 20zm29-6zm18-4zm19 0z"/><path stroke="#7cffb0" d="M116 1166zm7-5zm11-1zm27-2zm2 9zm7-7zm-72 10zm37 5zm35 3zm3-1zm26 3zm-89 12zm30 0zm50-10zm3 2zm-106 17zm25 0zm1-7zm4 8zm38-8zm28 7zm22 1zm-118 8zm46 4zm13-8zm1 4zm26 1zm13 0zm12 1zm6 0zm-114 8zm31 2zm25-3zm-46 18zm44-2zm1-3zm31-1zm10-2zm-120 20zm74 3zm11-11zm10 3zm48 6zm-130 11zm17-5zm52 0zm8 7zm7-4zm1 0zm10 5zm4-4zm4-5zm4 3zm2 0zm28-2zm-133 10zm6 7zm49-5zm20 1zm18 6zm0-9zm16 3zm27 1zm-166 18zm14-6zm24-5zm6 4zm7-2zm4-1zm12 0zm9 5zm6-6zm4 6zm-70 10zm1-3zm42 2zm14 6zm22 0zm13 2zm6-10zm11 4zm44 6zm0 0zm-93 8zm55 0zm3-3zm12 1zm23-2zm-164 16zm9 2zm17-6zm24 8zm6-11zm21 2zm23 4zm10 4zm13-6zm41-1zm6 7zm-165 6zm75-3zm9 1zm4-2zm10 11zm10-5zm11 1zm2-7zm5 3zm4 8zm2-1zm15 0zm6-10zm9 3zm5 6zm-153 11zm5-8zm57 8zm8-1zm22-3zm42 6zm9-8zm2 7zm16 0zm7-5zm-127 11zm81 4zm5 1zm-138 13zm19-10zm39 3zm43-2zm2 5zm2 6zm33-8zm15 8zm-147 8zm58 0zm8 2zm45-9zm16 1zm8 4zm-121 17zm5-8zm54 7zm23-3zm2 1zm8-7zm3 5zm5-1zm4 7zm23-9zm-113 19zm12-7zm41 6zm15-2zm17-3zm2 6zm25-1zm2 3zm6-5zm-77 10zm28 0zm35 1zm8-1zm-115 18zm8 0zm9-2zm59 4zm2 4zm-9 18z"/><path stroke="#7cffb0" d="M124 1148zm24 1zm3 4zm23-2zm-60 12zm35-4zm11 1zm-60 14zm29-1zm7 7zm11-11zm49 5zm-96 10zm65 2zm15 1zm-83 12zm0-5zm17 9zm25-5zm7 3zm1 3zm40-10zm-98 17zm26 2zm17-6zm16-2zm10 7zm20-7zm10 0zm18 10zm-107 12zm16-9zm5 7zm4 3zm2-8zm6 7zm55-11zm-108 23zm61-1zm3-2zm37 2zm-102 9zm40-3zm6 8zm15-9zm4 8zm11-6zm9-1zm11 6zm41 2zm13-1zm-155 3zm59 2zm0 7zm19-6zm17 1zm2 3zm2-8zm22 9zm-100 6zm15 7zm20-7zm46 4zm38 0zm-162 16zm20-2zm81-6zm5 2zm10 4zm26-5zm11 7zm-159 2zm4 10zm14-11zm9 10zm58-4zm3-1zm5 1zm2 4zm21-2zm1-3zm22 0zm-71 7zm5 6zm1-6zm3 1zm5 4zm14-2zm9 2zm15-4zm16 0zm2 1zm-72 20zm13-6zm3-1zm5 5zm11-1zm8-6zm9 5zm8-3zm10 7zm34 1zm14-2zm-178 5zm31 6zm26 2zm72-7zm2 5zm25 1zm29-8zm-160 18zm10-5zm6-2zm13 6zm10 5zm2-8zm111 6zm2 1zm-92 4zm5 8zm37 1zm19-3zm4 1zm16 1zm-135 13zm1-6zm12 3zm6-8zm63 6zm30 4zm2-3zm34-5zm-125 16zm48-6zm16 2zm29 9zm2-3zm8-8zm4 1zm20 5zm-165 8zm45 4zm42 4zm0-4zm29 2zm16-5zm2-1zm-84 10zm2 4zm1 4zm8-7zm8 4zm33 0zm60-3zm-109 15zm26 4zm32-5zm2-2zm7 5zm1 4zm3-4zm-70 9zm72 0zm-68 16zm4-8zm18 4zm7-3zm8 0zm5-1zm1 6zm-8 16zm2-8zm-14 34z"/><path stroke="#48ffe4" d="M159 1148zm-11 12zm33 3zm-83 7zm6 6zm4-4zm7 6zm45 8zm10-4zm20 5zm-95 11zm59 5zm4-4zm10-2zm26 7zm8-5zm-105 7zm40 0zm1-1zm4 6zm57 3zm3-7zm2 7zm-122 3zm9 1zm1 9zm46-3zm23-3zm48-3zm6 8zm-130 11zm54-5zm22 4zm1-2zm2 0zm-75 17zm48 1zm62-8zm-61 9zm19 2zm39 5zm-122 9zm22-3zm8 10zm33-1zm2-10zm7 5zm22 6zm50-9zm-112 12zm61 5zm-42 14zm54 2zm48-2zm8-6zm-187 9zm51 7zm32-4zm49 1zm8 7zm11-8zm1 2zm-93 9zm21 1zm22 4zm7 4zm12-11zm40 11zm19-4zm8-3zm-130 16zm44 2zm21-3zm1 4zm26-7zm-135 11zm50 4zm6-2zm1-1zm5 3zm12-5zm0 9zm17-6zm6-1zm2 1zm16 3zm3-6zm44 9zm-129 3zm12 0zm21-2zm54 9zm0-6zm54 5zm-174 13zm45-8zm21 10zm17-7zm5-3zm21 1zm16 6zm10-1zm1-6zm9 1zm12 8zm0-6zm2 7zm-143 2zm2 1zm56 7zm7-1zm4-2zm24-5zm16 4zm-97 13zm29-2zm11 0zm18 2zm12 2zm1 1zm23-9zm40 6zm-120 16zm6-10zm5 10zm59 1zm2-10zm19 7zm1-3zm9-1zm23-4zm-115 13zm75 5zm18-5zm-112 12zm47 4zm3 3zm7-8zm39 10zm-58 5zm49-2z"/><path stroke="#2de4ff" d="M148 1147zm-50 39zm7-6zm39 4zm30 0zm0 6zm-58 9zm15-3zm65-1zm-62 18zm38 7zm38 3zm-57 18zm26 1zm-114 17zm64 5zm73-4zm-144 8zm18 3zm2 0zm53-1zm27 4zm21 1zm-82 6zm22 4zm23-3zm0-1zm48 3zm39 0zm-155 12zm14-2zm11 2zm23 0zm18 4zm0-2zm77-6zm13 4zm-177 16zm97-9zm13 6zm46 0zm-161 9zm107-1zm27 4zm8 1zm32 2zm10-10zm-120 13zm23 3zm2-5zm17 7zm-86 8zm57 1zm39 2zm27 2zm29-3zm22-1zm-155 12zm3-2zm44-2zm42 3zm10 0zm5-1zm47 7zm-157 8zm15-5zm18 7zm33-2zm-85 11zm42 6zm10-5zm18 3zm9-3zm76 0zm14-2zm-113 20zm1-6zm3 0zm21 1zm-25 15zm75-9zm8 8zm21-7zm-117 20zm108-9zm-87 16zm27 1zm40 9z"/><path stroke="#b02d2d" d="M181 1155zm-54 4zm-7 13zm51 0zm-70 20zm19 10zm2 58zm-18 10zm33 129zm22 19zm27 2zm-5 8z"/><path stroke="#ffb02d" d="M180 1152zm-40 11zm23 1zm26 4zm-80 8zm2-6zm30 4zm12-4zm8 5zm8 4zm22-4zm-78 8zm-24 11zm111-1zm2 0zm-108 22zm6-7zm15 8zm39-9zm27 3zm-87 7zm96 5zm-63 11zm68-1zm-79 9zm105 5zm-7 7zm-128 12zm3 8zm4 0zm35 0zm4-6zm13 7zm0-4zm7-5zm37 0zm2 5zm2 5zm24 1zm-164 8zm63 4zm4-1zm23-9zm8 7zm7 2zm16-8zm10 8zm17-2zm21-8zm-138 12zm16 6zm27 1zm42-5zm27 9zm-125 8zm54-7zm32 2zm13 9zm-57 2zm54 3zm14 0zm18 3zm3-3zm15 2zm21-4zm-56 16zm30-6zm-97 21zm15-7zm23 8zm-67 20zm139 2zm-151 8zm61 7zm9-1zm28-8zm-47 15zm59-3zm4 6zm-44 4zm26 6zm-30 9zm39 11z"/><path stroke="#2db0ff" d="M143 1162zm-26 10zm-4 35zm27 34zm17 24zm5 8zm-17 34zm65 2zm-103 21zm32 0zm5 1zm2 3zm77-2zm-86 7zm80 1zm12 0zm-146 18zm56-6zm62 7zm15-4zm18-5zm-115 21zm112-3zm-147 10zm20 6zm59-4zm45-3zm21 5zm-95 9zm41 15zm-13 13zm-42 7zm68 9z"/><path stroke="#48ffe4" d="M161 1141zm0 27zm-26 9zm10-4zm-6 9zm15 7zm-56 14zm21 0zm33-4zm46 3zm-116 26zm1-3zm4-2zm76 3zm1 1zm43-9zm-118 18zm45 2zm23-8zm11 6zm5 3zm5-4zm2-4zm7 3zm-109 8zm3 3zm92 1zm-33 8zm30 4zm15 4zm16-10zm-62 20zm50 4zm17-2zm3-4zm2-1zm-138 9zm0 5zm4 4zm79-9zm8 6zm21 0zm17 2zm18-5zm11 6zm-161 8zm45-6zm104 5zm-159 8zm37 3zm13 5zm22-6zm27 3zm16 5zm-48 9zm38-5zm11 2zm32-2zm17 7zm-158 9zm31-7zm31 0zm16 10zm17-10zm46 7zm14 1zm-116 11zm14 0zm7-2zm24 3zm18-4zm3-4zm9 0zm-122 17zm30-5zm9 5zm20-2zm19 1zm23 1zm22 2zm5 3zm6-3zm13 1zm9-4zm3 1zm-132 18zm17 0zm0-5zm4 0zm1 3zm15-3zm8 5zm15-8zm27-3zm10 4zm32 5zm-104 9zm5 5zm2 0zm3-6zm2 4zm4-4zm1 2zm10-7zm6 8zm7-2zm1-2zm3-2zm5-2zm21 7zm2-1zm11-3zm-75 12zm13 7zm30-6zm34 5zm0-5zm-70 17zm9 0zm9-5zm26 1zm2-5zm15 9zm1-7zm8 4zm28-3zm0-2zm-89 20zm0-1zm23-5zm6 0zm-47 14zm43 6zm2-8zm1 3zm7-5zm18 9zm4-5zm-55 17zm19-3zm30 1zm4-6zm-46 10zm13 3z"/><path stroke="#e42d2d" d="M150 1160zm14 6zm1-4zm-52 33zm-35 17zm75-5zm37 8zm-97 19zm34 21zm14 17zm49-7zm11 20zm16-1zm6-8zm-67 35zm85-2zm16-2zm-169 40zm15 14zm90 3zm41 1zm-5 10zm-51 49zm-2 21z"/><path stroke="#2db0ff" d="M187 1152zm-83 14zm20 6zm15 11zm-50 34zm78 35zm44 22zm-74 6zm45 22zm-40 27zm17 14zm59 4zm22-3zm-148 5zm131 18zm-93 13zm22-3zm26 2zm4 3zm-41 29zm5 9zm4-11zm3 5zm-39 17z"/><path stroke="#ffe42d" d="M124 1154zm36-5zm4 7zm5-3zm5 1zm-67 11zm6 1zm29-2zm44-6zm-71 16zm14 1zm36-1zm3 0zm-81 14zm10 1zm59 3zm20-5zm6 0zm-86 10zm18 1zm29-5zm7 0zm44 3zm3 8zm4-8zm-100 14zm15-5zm26 8zm9-3zm-54 11zm13 4zm3 0zm7-6zm32 4zm42 5zm-16 11zm-104 13zm2-2zm15-4zm81 1zm-91 17zm61-6zm4 1zm1-3zm21 6zm-114 9zm29 5zm55-1zm44 1zm13-4zm-106 7zm12-1zm13 0zm21 4zm6-2zm8-2zm39 2zm38 6zm8 2zm-127 4zm33 5zm31 3zm34 0zm-126 0zm49 5zm41-1zm4-2zm2 7zm45-1zm-148 14zm26-8zm41 1zm29-2zm9 11zm41-8zm2 0zm20 3zm-193 7zm63 9zm59-6zm-115 9zm67 4zm13 3zm110-6zm-145 12zm2 0zm16-1zm11 6zm62-2zm-114 7zm52 1zm64 9zm27-4zm-135 11zm41 4zm33-8zm24 7zm44-6zm-67 16zm60-2zm7-4zm-143 13zm93 7zm44 2zm-18 24zm-89 3z"/><path stroke="#e4ff48" d="M127 1154zm10-3zm1 3zm6-5zm13 3zm19 4zm-33 8zm5-6zm1 4zm30-3zm6-2zm6 8zm-82 10zm19 1zm4 1zm18-5zm1-1zm8 4zm1-1zm5-5zm11 4zm11 4zm-80 5zm8 6zm1 3zm1-4zm16-6zm5 2zm6 6zm4-6zm10 5zm12-2zm2-1zm6 5zm10-7zm10 1zm2 5zm-117 15zm8-3zm6-5zm10 5zm6-8zm5 10zm5-4zm5-3zm2 4zm19-4zm6 7zm1-7zm18 1zm4-2zm15-2zm8 8zm9-1zm-125 11zm11-2zm13-4zm36 2zm8-2zm5 9zm8 0zm5 2zm1-1zm-88 3zm9 10zm44 0zm13-8zm32 4zm9 4zm-109 5zm1-2zm52 9zm7-10zm12 9zm0-1zm7 2zm7-6zm6-1zm22-3zm4 4zm0-1zm5 7zm11-8zm-75 19zm4-4zm5 4zm12 0zm6-6zm47 3zm3-2zm-117 10zm23 6zm12-9zm6 5zm18-1zm51 6zm-142 2zm7 0zm18 1zm16 7zm10 3zm3-1zm2 1zm6-3zm35 1zm8-4zm9-4zm24 0zm-139 22zm27-11zm34 8zm25-5zm11 7zm1-5zm25-6zm5 10zm26-3zm-146 12zm9 4zm9-10zm19 6zm4 5zm4-10zm7 8zm6 0zm13-6zm24 6zm8-5zm27-4zm20 6zm-143 15zm14 2zm65-5zm10-2zm28-3zm15 7zm6-4zm5-3zm4 9zm-157 12zm13-4zm7-5zm18 2zm9 3zm18 0zm5 5zm2 0zm26-10zm14 6zm20-6zm1 8zm-140 14zm14-7zm20 5zm132-3zm2-6zm7 9zm3 0zm-176 4zm3 8zm22-3zm24-3zm12 4zm27-1zm14 1zm4-7zm13 8zm12-6zm10 0zm19 1zm16 2zm-147 9zm7 1zm24 2zm6-3zm6 9zm5-2zm11-3zm29-2zm3-2zm-103 21zm10-11zm12 9zm2-2zm25-5zm20 9zm14-5zm66-6zm-125 16zm4-2zm2 7zm12 1zm27-6zm7 3zm10-4zm53 0zm-101 18zm8-6zm7 2zm10 2zm15-5zm27 5zm42 0zm-103 6zm17 4zm19-1zm3 3zm9-2zm-49 13zm9-6zm51 8zm-44 4zm44 0zm10 6zm-66 8zm17 13zm23-3z"/><path stroke="#2d7cff" d="M147 1153zm0 18zm10 20zm5-3zm7-8zm-25 29zm4-3zm50 20zm-15 15zm30 34zm3-10zm-38 22zm-97 1zm116 8zm-78 7zm5 7zm99-7zm-180 20zm72-6zm104-3zm-135 18zm21-5zm126-1zm-67 13zm51 7zm-94 12zm50 2zm36-9zm32 13zm-134 18zm63-2zm-43 11zm68 9zm-52 11zm72 2zm-42 15zm2-7z"/><path stroke="#2d2de4" d="M126 1184zm33-4zm-61 25zm37 15zm-70 41zm3 11zm66 1zm86-8zm-145 12zm1 5zm16 1zm13-2zm73 4zm-90 9zm103 1zm10 2zm-124 4zm30 0zm76 8zm13-2zm-144 14zm46-7zm13 10zm29-9zm-91 18zm32-2zm26-5zm44 10zm45-11zm37 5zm-144 16zm66-4zm29 2zm21-3zm3 6zm-90 6zm1-2zm30 7zm15 2zm35-10zm-127 20zm42 1zm9-5zm72-1zm22-5zm7 6zm-141 10zm7 4zm70-5zm73 1zm-136 14zm38 5zm7 1zm1-10zm7 4zm2-1zm2-1zm12 1zm-84 17zm55-3zm30-4zm0 1zm9 4zm44-3zm-109 27zm63 8zm-21 9z"/><path stroke="#ff482d" d="M111 1177zm18-4zm33 11zm39 4zm-113 13zm57 2zm24-8zm34-1zm-97 20zm33 2zm6-4zm61-2zm10 13zm-105 15zm110-4zm-76 10zm81 5zm-60 15zm13 0zm-99 1zm97 7zm42 3zm-127 9zm78-5zm4-1zm1 1zm20 18zm32-1zm-66 4zm0 6zm-74 23zm113 3zm-57 10zm56 5zm-48 11zm-27 19zm12 6zm-41 8zm23 17zm7-9zm39 6zm-62 7z"/><path stroke="#7cffb0" d="M152 1156zm3-3zm7 1zm16-2zm-49 9zm3 4zm36-2zm-35 16zm21-7zm34 4zm6-3zm-103 10zm11 5zm15-1zm17-1zm6 4zm1-7zm17 2zm16 6zm5-8zm2 1zm9-2zm11 2zm-117 20zm10-6zm18-2zm-31 19zm25-8zm14-2zm3 10zm11-6zm23-4zm34 11zm-98 7zm6-1zm5 0zm44 3zm9-6zm6 0zm5 4zm-85 6zm8 7zm1-6zm3 4zm39-4zm18 0zm16 1zm59 0zm-146 17zm13 1zm57 0zm19 0zm53-6zm-153 20zm9-9zm74 5zm35 1zm2 2zm38-6zm-158 20zm22-11zm18 9zm19-8zm21-1zm26 4zm-110 14zm9 5zm22-2zm43 1zm8-8zm-96 14zm56-4zm22-1zm23 4zm12 8zm1 0zm15-8zm20 6zm-148 5zm15 6zm7-7zm19 7zm6-6zm28 2zm18 1zm48-2zm27 1zm-143 9zm6 0zm20 2zm51 1zm14 5zm25-5zm15 2zm16 3zm8-3zm4-4zm5 5zm-194 10zm61 0zm50 1zm0 4zm58-5zm1-4zm13 8zm-171 12zm19-1zm42-3zm43 4zm38-1zm2 3zm15-7zm-157 18zm16-1zm52 2zm13-9zm18 7zm1 2zm28-11zm7 11zm7 0zm32-8zm-175 10zm14 7zm26 0zm22-6zm14-2zm0 2zm55-2zm1 11zm37-10zm6 6zm-171 13zm11-8zm40 3zm26 6zm16 0zm3 0zm20-4zm7 2zm5-3zm12 2zm-93 17zm6-6zm76-1zm35 7zm-148 6zm13 5zm20-7zm8 4zm21-2zm16-1zm7-5zm10 8zm18 2zm2-1zm-107 12zm8-7zm82 3zm5-4zm-84 15zm64 5z"/><path stroke="#2d2db0" d="M135 1172zm60 16zm-84 14zm103 44zm-132 15zm0-6zm98 6zm-96 6zm5 23zm36 8zm-10 10zm72-7zm-114 26zm99 8zm2-5zm15 3zm-112 9zm25-2zm58 16zm-71 15zm17-9zm37 1zm-12 14zm6-1zm16 5zm46-3zm8 3zm6-8zm20 7zm-73 12zm0-1zm56 2zm11-4zm-72 8zm16 18zm-28 13zm18-7zm-36 16zm31-1z"/><path stroke="#ffe42d" d="M143 1149zm37 1zm-49 7zm-24 18zm58 2zm2-7zm23 7zm-101 13zm2-5zm57-2zm0 8zm32-7zm-99 9zm8 8zm5 0zm13-4zm7-1zm9 1zm52-3zm2 2zm-93 18zm24 2zm15-9zm0 9zm16 0zm15-6zm42 5zm0-9zm-111 22zm58-4zm6-3zm9-2zm34 7zm-96 4zm3 4zm53 3zm51 3zm-117 1zm11 4zm38 2zm41-2zm25-1zm15 6zm-79 12zm7 2zm70-3zm-134 10zm26 4zm2-6zm8 2zm19 4zm15-1zm15 0zm-32 3zm5 9zm51-8zm-122 17zm16 4zm12-5zm32 2zm57-2zm6-4zm-129 22zm6-7zm20 2zm3 4zm103-9zm40 10zm-121 3zm5 4zm12-5zm48 5zm9 3zm29 2zm5-5zm-169 14zm41 1zm25-4zm4 1zm18 1zm68 4zm-156 12zm81-7zm10-4zm8 8zm7-4zm21-4zm-112 13zm87 8zm7-3zm10 5zm-8 10zm3-8zm20 7zm16-5zm-113 11zm29 4zm-12 12zm101 5zm-65 8zm11 26zm41 1zm-31 2zm12 1z"/><path stroke="#ff7c2d" d="M122 1156zm49-5zm-3 9zm14 6zm-47 12zm3-2zm24-5zm23 9zm1-3zm11 0zm-101 6zm39-1zm31 7zm2 3zm-49 8zm3 1zm26-7zm36 4zm1-2zm6 11zm12 5zm-119 13zm5-6zm15 7zm6-1zm60-4zm35 5zm6-8zm-112 20zm7-5zm1 7zm26-4zm-50 11zm60 5zm14 0zm7-11zm-22 19zm54 3zm19-4zm-155 27zm58-7zm23-1zm17 1zm16 2zm9 6zm13-2zm-111 11zm33-5zm48 8zm58-10zm-107 14zm7-2zm34 2zm-18 16zm5 4zm24-7zm32-1zm15 0zm8 15zm13 5zm-71 2zm-83 12zm109 6zm25-4zm-52 12zm5 5zm4 3zm24-3zm-21 15zm-96 17zm97 18zm-63 5z"/><path stroke="#2d7cff" d="M143 1152zm16 17zm1 5zm-44 30zm48 2zm7 12zm35 14zm-10 16zm15-3zm-87 18zm64-6zm30 1zm-152 15zm51 2zm86-3zm-122 14zm6 13zm15 0zm113-1zm-159 11zm108 1zm9-4zm-128 16zm11-3zm23 3zm56-2zm-42 24zm61-7zm28 8zm10-3zm-114 12zm75-3zm8 9zm36-7zm13 11zm4-3zm-21 14zm-101 16zm31 0zm92-2zm9 7zm6-1zm-130 15zm70 7zm10-6zm25 4zm-50 13z"/><path stroke="#2d2de4" d="M121 1199zm101 28zm-141 25zm-13 12zm140-2zm-124 15zm11 8zm9-1zm34-3zm1 1zm22 4zm-76 14zm12-1zm-44 2zm133 8zm25-6zm17 8zm-153 13zm0-3zm99-4zm17 1zm-103 20zm14 6zm54-6zm17 2zm-56 9zm1 8zm24-7zm22 8zm27-6zm-92 20zm23-11zm11 5zm70 2zm26 2zm6-4zm-159 11zm22 6zm25-3zm9-3zm20-1zm24-3zm10 1zm4 4zm5-5zm17 5zm1-5zm-109 23zm14-2zm27-5zm11-3zm7 10zm46-10zm16 6zm-99 11zm46-2zm37-4zm8 1zm-103 19zm60-1zm22 3zm18-4zm-92 7zm17 7zm21-8zm1 4zm13-2zm-27 13zm21 3z"/><path stroke="#2d48ff" d="M125 1201zm-50 10zm6-5zm3 2zm13 0zm-20 15zm54 4zm11 3zm44 20zm20 25zm-142 12zm98-7zm9 5zm42-4zm-127 17zm63 2zm1-7zm52 3zm8 3zm-123 10zm145-3zm-157 11zm29 2zm3-6zm32 0zm17 8zm59-6zm16 7zm8-8zm-170 22zm16-5zm9 4zm51-1zm6 0zm6-4zm25 1zm5 1zm8 0zm50-5zm-171 14zm22-3zm93 6zm5-3zm10-4zm22 9zm4-1zm-143 12zm35-1zm23-2zm64 6zm23-2zm6-5zm-160 7zm28 4zm6 1zm106 4zm2 3zm-112 6zm24 1zm1 3zm13-3zm43 1zm13-4zm26 1zm-152 10zm66 4zm58-5zm-79 21zm6 0zm60-10zm11 6zm23-3zm-94 14zm7 6zm15-11zm11 3zm33-1zm5 4zm0-4zm11 0zm0 3zm-58 10zm1 6zm36-4z"/><path stroke="#ffb02d" d="M126 1152zm5-3zm34 3zm-43 13zm8 3zm-6 8zm59 0zm-83 13zm6-7zm56 3zm17 7zm-97 12zm17-7zm30-4zm37 5zm17 1zm-95 6zm1 7zm68-7zm0 3zm17 0zm16 5zm-45 7zm1 3zm4 5zm40-4zm-63 6zm7 2zm7 7zm82-8zm-11 17zm-144 11zm67-4zm73 7zm-131 10zm8 2zm31-6zm49 2zm3-1zm11 1zm36-2zm-153 10zm10 7zm31 2zm-26 4zm101 0zm-21 13zm-100 20zm168 0zm-152 9zm14-6zm33 0zm5 5zm10 2zm42-9zm21 3zm-70 11zm48 0zm31 8zm-40 9zm56-5zm-34 17zm39 16zm-86 14zm61 9zm-44 7zm42 0zm-52 10zm-6 25z"/><path stroke="#ffb02d" d="M114 1153zm8-3zm16 3zm25-3zm-57 18zm42 0zm26 0zm-43 18zm7-3zm36-3zm29 5zm-120 19zm21-8zm19 7zm58-4zm11-1zm-94 11zm10 2zm3 2zm-10 4zm61 9zm-63 3zm90 5zm16 5zm4 1zm-24 12zm10-11zm-108 14zm55 8zm28-9zm-31 17zm45-3zm-64 19zm-72 9zm28-2zm23 3zm61-5zm3 3zm4 3zm57 1zm-144 5zm37 5zm33-8zm12 0zm49 4zm-105 19zm17-10zm39 0zm40 1zm-125 16zm67 4zm38-2zm3-5zm63 5zm-167 6zm79 3zm39 1zm28 3zm-129 11zm98 9zm1 5zm-86 6zm28 8zm31 13zm30 4zm23 0zm-103 35zm64 1z"/></g></g><polygon fill="none" stroke="#8a8aff" stroke-width="1.3" stroke-linejoin="round" points="22.1,633.1 88.7,726.9 83.5,738.1 43.7,719.1 19.5,664.6"/><rect x="139.2" y="557.2" width="3.3" height="198.8" fill="url(#jet)" stroke="#8a8a9a" stroke-width="0.4"/><text x="106.7" y="582.5" font-size="7.0" fill="#111">CD56 dim</text><text x="17.9" y="735.6" font-size="7.0" fill="#111">CD56 bright</text><text x="143.0" y="559.7" font-size="3.5" fill="#555">0.8</text><text x="143.0" y="608.9" font-size="3.5" fill="#555">0.5</text><text x="143.0" y="658.1" font-size="3.5" fill="#555">0.2</text><text x="143.0" y="707.3" font-size="3.5" fill="#555">-0.1</text><text x="143.0" y="756.5" font-size="3.5" fill="#555">-0.4</text><text x="230.5" y="548.6" font-size="11" fill="#111">Day 28</text><path d="M330.5 557.2V756.7" stroke="#ececec" stroke-width="1"/><path d="M189.0 557.2H317.4M189.0 557.2V756.2H317.4" stroke="#a9a9a9" stroke-width="1.5" fill="none"/><defs><linearGradient id="cg189" x1="0" y1="0" x2="0" y2="1"><stop offset="0.2" stop-color="#f0d8a0"/><stop offset="0.85" stop-color="#b0d0c8"/></linearGradient></defs><g filter="url(#fu)"><polygon fill="url(#cg189)" fill-opacity="0.45" points="248.8,575.0 257.6,573.7 267.7,576.2 275.2,581.5 278.8,588.1 279.8,598.5 283.2,606.3 285.5,613.9 289.1,618.8 290.0,626.2 287.3,631.1 285.7,636.0 291.0,643.0 295.1,652.8 298.1,662.7 297.2,675.3 295.0,685.5 291.4,695.8 285.3,703.6 277.8,711.4 267.7,719.2 262.7,724.5 255.0,724.5 247.4,720.5 234.8,711.4 224.8,701.0 217.5,688.1 212.9,672.9 210.6,660.4 209.6,643.1 210.8,630.7 211.9,625.8 217.2,623.4 220.9,618.6 219.2,608.4 222.6,598.2 227.5,587.9 234.9,580.2 242.4,576.3"/><polygon fill="#fff" points="228.5,614.2 236.6,611.9 242.4,617.7 241.2,629.2 236.6,636.2 230.8,633.9 226.2,629.2"/><polygon fill="#fff" points="270.1,617.7 275.8,616.5 279.3,622.3 277.0,629.2 272.4,629.2"/><polygon fill="#fff" fill-opacity="0.6" points="198.0,633.2 219.0,662.2 239.0,697.2 249.0,722.2 219.0,717.2 198.0,664.2"/></g><g filter="url(#fb)"><g transform="scale(0.5)" fill="none" stroke-linecap="round" stroke-width="3.40"><path stroke="#ffb02d" d="M463 1168zm5-7zm88 4zm-93 11zm4-7zm11 0zm9 12zm6 11zm2-2zm14-7zm3 3zm3-3zm34 1zm0-2zm8 10zm-115 1zm14 10zm3-10zm1 11zm1-5zm1-2zm45 1zm19-2zm10 3zm15-2zm1 7zm6-6zm-119 17zm0 1zm54-7zm10 7zm32-6zm9-3zm-87 10zm5 9zm30-8zm2 7zm25-5zm34 8zm-15 0zm0 11zm-38 12zm25-8zm10 4zm27-4zm-43 15zm15 5zm-6 12zm-70 5zm27-3zm12 2zm26 4zm19-6zm3 10zm-128 7zm6 6zm112-7zm-130 11zm57 8zm29-2zm9-9zm14 10zm8-7zm7 5zm48 1zm-171 9zm17-4zm23 5zm25 0zm40 3zm11-6zm1-4zm33 11zm0-10zm22 7zm-45 11zm59 2zm-163 3zm29 11zm70 0zm-101 8zm82 3zm29 1zm48-2zm3 1zm11-10zm-139 12zm8 11zm72-7zm28 5zm-117 8zm103-2zm-71 16zm4-3zm0 5zm64-2zm2-1zm-45 10zm18 5zm-63 4zm19 6zm-28 13zm22 5zm33-1zm-3 14z"/><path stroke="#2d2db0" d="M544 1160zm-46 75zm-68 24zm17 53zm58-9zm36 14zm-135 8zm53 2zm9 3zm13-4zm24 10zm17-11zm-105 21zm4-9zm15 11zm116-1zm15-8zm25-3zm-154 24zm33-5zm54-6zm38 1zm-17 19zm34-7zm15 8zm-162 13zm15 0zm97 0zm-100 7zm95-3zm20 3zm-130 7zm95 7zm14 3zm-14 17zm-10 24z"/><path stroke="#2d2de4" d="M446 1196zm99 5zm17 3zm-56 25zm-59 12zm75 8zm-43 21zm-55 29zm122-7zm-73 9zm8 10zm80 0zm-74 8zm73-4zm33-1zm-51 20zm25 0zm-71 9zm75-1zm-145 18zm8-8zm5-3zm11 2zm49 3zm22-6zm2 10zm20-6zm33 0zm21-1zm2 7zm-174 10zm8 4zm16-2zm42-5zm20-4zm10 4zm70 1zm-148 11zm147 1zm-159 9zm122 7zm33-7zm1-2zm-104 14zm24 1zm33 0zm18-3zm-90 23zm21-2zm6 0zm13-1zm13-5zm15 18z"/><path stroke="#2d2db0" d="M446 1177zm115 3zm-83 40zm60 17zm-113 5zm54 2zm21 17zm-81 23zm4-7zm32 7zm-49 15zm62-4zm80 8zm-104 12zm16 5zm114 4zm22-9zm-189 20zm113-3zm22-1zm-95 14zm1 3zm21-10zm-42 11zm129 1zm-58 19zm-46 15zm4-5zm86-2zm16-1zm-121 19zm7-5zm73 0zm53 3zm-96 14zm18-1zm5-6zm14 2zm34-2zm-34 14zm21-1zm-3 13zm17-1zm-13 9z"/><path stroke="#7cffb0" d="M485 1155zm16 1zm3-11zm16 0zm12 6zm-58 14zm35 2zm48 1zm-103 11zm25-6zm-9 13zm36-2zm6 2zm11 2zm-3 5zm11 1zm-64 12zm2 0zm7 9zm24-5zm57 2zm-92 5zm39 4zm13 1zm2 1zm49-1zm-78 10zm24 2zm-97 18zm82-2zm12 2zm54-1zm-127 13zm65-2zm8-7zm51 6zm1 3zm-79 8zm73-6zm2-1zm12 5zm2 6zm-144 12zm11-4zm11 3zm89-6zm33-2zm-142 20zm9-8zm11 0zm14 8zm8-7zm55 7zm45-3zm-132 14zm34-2zm66-2zm30 3zm8 3zm-173 4zm6 5zm7 3zm70-3zm11-6zm6 5zm5-5zm36 2zm-140 9zm5 1zm25 6zm6 1zm41-1zm38-7zm24 6zm36 1zm-160 13zm18-1zm10-8zm1 11zm1-5zm82 4zm30-1zm6-1zm-66 7zm72 2zm5 6zm-124 5zm9-3zm29 5zm8 0zm54 1zm33-6zm-137 17zm11 3zm47 1zm8-3zm17-4zm43 7zm-131 3zm8 10zm24-10zm16 9zm20 1zm30-11zm3 2zm1 9zm27-1zm-122 12zm-4 2zm68 9zm32-1zm-87 8zm9 14zm63-1z"/><path stroke="#2de4ff" d="M528 1148zm-12 9zm2 5zm-47 11zm41 7zm-52 11zm98 4zm-89 12zm88 6zm-65 15zm32 6zm44-5zm-35 14zm42 1zm8 2zm-51 9zm11 4zm19 4zm-37 8zm-74 14zm38-2zm6 2zm27 3zm-64 11zm87-6zm-58 15zm1-1zm87 1zm1-3zm6 3zm1-1zm4 3zm5 13zm-154 11zm24-5zm80 2zm27-3zm-124 20zm27-6zm7 3zm17-6zm82 7zm-161 13zm2-7zm70 3zm4-2zm71 6zm6 13zm-126 7zm26 4zm43 1zm8-5zm40 1zm37-7zm-147 23zm10-11zm7 2zm16-1zm13 0zm39 4zm26 29zm-24 10zm13-7zm-69 13zm17 0z"/><path stroke="#e42d2d" d="M467 1163zm3 7zm37 5zm22-1zm-82 23zm5 2zm104 5zm-56 7zm33-6zm29 6zm6 2zm-89 7zm55 8zm-83 10zm19-5zm32-1zm60-2zm-109 20zm34-3zm14-5zm-52 11zm44 8zm78 1zm-118 10zm34-6zm86-2zm-141 20zm79-5zm-39 13zm71 6zm-51 6zm45 10zm-18 20zm-95 13zm41-8zm33 1zm9-2zm-26 22zm77-10zm-140 13zm34 7zm28-3zm63-3zm-66 28zm28 11zm53 13zm-72 11zm29 17zm-17 37z"/><path stroke="#e42d2d" d="M520 1163zm21 4zm8-7zm-87 16zm61-3zm-55 9zm54 6zm12-4zm-94 19zm3 6zm2-3zm18 1zm84 0zm11 4zm-45 16zm-20 4zm7 5zm8-3zm37-2zm-82 14zm44 0zm11 6zm2-10zm50 4zm-84 8zm37 10zm-35 10zm-45 20zm51-4zm11 8zm5 3zm20 0zm-102 4zm19 3zm28 3zm49-9zm6 2zm-28 14zm1 4zm-20 13zm90-2zm7-7zm-163 21zm120-5zm-28 41zm48-1zm10 26zm-29 12zm2-7z"/><path stroke="#ffb02d" d="M498 1147zm22 9zm-21 9zm2 2zm27 5zm-40 15zm5 4zm19 0zm-69 12zm4 0zm64-9zm-64 14zm16 6zm68 0zm-94 8zm17 3zm60 0zm20-8zm36 6zm-132 14zm26 1zm30 1zm34-2zm7 3zm4-11zm37 3zm-145 11zm18 8zm32-9zm11 7zm0 1zm26-3zm1-6zm24 10zm-119 13zm13-3zm4-8zm0 9zm49 2zm22-11zm2 2zm12 0zm14-2zm-42 15zm4-1zm5 6zm20 2zm19-8zm-120 14zm47-2zm1 0zm52 5zm16-7zm-67 21zm13-3zm13 2zm61-8zm3 4zm18 0zm-126 10zm40 2zm1-3zm45 0zm4 7zm-117 10zm55 3zm8 2zm9-9zm24 5zm24 0zm26-4zm-156 10zm11 21zm29-9zm38-1zm-50 18zm63-2zm60 3zm-124 12zm25-3zm81 2zm-110 6zm15 6zm54-6zm-44 26zm51-1zm14 16zm4 2zm2-3zm28-2zm-99 12zm71 18z"/><path stroke="#2d7cff" d="M510 1170zm-67 113zm51 1zm70 17zm10 6zm-40 8zm65 3zm-163 18zm158-5zm-175 6zm22 11zm35-10zm-59 18zm74-7zm44 8zm-82 14zm25 1zm-17 3zm25 1zm51 2zm-70 8zm11 1zm25 7zm-18 11zm62-3zm-104 11zm30 2zm-9 12zm69 4zm17-4zm7-6zm-72 17zm11 6zm33-4z"/><path stroke="#2d2db0" d="M486 1194zm13 66zm70-5zm-72 16zm-55 18zm128 8zm-159 25zm103 1zm43-6zm8 6zm-88 10zm57-5zm-25 9zm-22 14zm-66 14zm99 2zm33 3zm11 0zm13-4zm-125 16zm68-6zm12 0zm7 3zm-100 16zm87-10zm9 4zm9 5zm-103 9zm51-2zm2-3zm6-2zm-54 16zm42 5zm43-8zm14 0zm-10 19zm-29 11zm-7 8z"/><path stroke="#e42d2d" d="M473 1172zm19 0zm-33 9zm7 10zm18-6zm-24 19zm4 0zm23-10zm17 2zm44 7zm-82 12zm-16 9zm18 2zm11-5zm16 1zm7 2zm54-2zm-101 11zm48 10zm5 0zm28-1zm29 6zm3 3zm-62 24zm2-6zm25-4zm17 4zm-101 8zm0 7zm69 1zm-59 5zm17 5zm7 1zm63 4zm17-6zm-147 8zm92 7zm64-8zm-124 25zm57 8zm41-3zm26 5zm-113 16zm39 17zm1 18zm-59 19z"/><path stroke="#ffe42d" d="M485 1148zm-16 15zm10-1zm26-2zm11-2zm9 7zm23 2zm-48 7zm19 0zm4 5zm17-5zm4-2zm-80 11zm23 5zm3 3zm27-3zm9-2zm26 3zm2-5zm-98 18zm12-4zm19 1zm20 5zm4-10zm-50 15zm27 3zm34 4zm9-10zm26 0zm-106 18zm38-1zm1 3zm10-2zm11 3zm6-4zm41-1zm-105 8zm59 10zm27-1zm35-10zm-83 16zm16 0zm30 3zm27 1zm-76 4zm34 2zm18 8zm-103 8zm48-4zm18 9zm36-2zm10-6zm11 2zm-122 11zm49 2zm42-1zm9 1zm14-1zm2 0zm-136 8zm6 7zm7-4zm2-1zm17 3zm6-7zm34 12zm43-11zm4 10zm7-7zm-87 20zm15-8zm18 7zm7-3zm28-4zm27 1zm9 2zm3 4zm-135 7zm23 3zm7-8zm16 4zm40 7zm12-12zm3 8zm2 2zm23 2zm8-7zm8-1zm17 0zm-156 14zm22-5zm10 5zm5-1zm19 5zm0-9zm43 1zm16 6zm6-3zm-126 9zm19-1zm95 6zm47-3zm-169 16zm18 3zm22-7zm27 5zm19-1zm36-6zm1 8zm26 1zm-114 8zm48 0zm55 0zm-57 11zm36 4zm45-8zm-104 17zm27-5zm44 8zm-109 3zm83 0zm7 4zm24 5zm18-3zm-77 9zm33 35zm6-1z"/><path stroke="#2d2db0" d="M501 1154zm-44 67zm77 33zm36 1zm-7 21zm-123 2zm13 9zm11-8zm-5 14zm48 15zm68-4zm-87 10zm12-1zm51 4zm17 5zm-151 14zm31-8zm144-3zm-106 20zm-67 7zm92 8zm63-5zm-106 10zm9 15zm14-7zm56 8zm-37 15zm40-8zm-90 10zm21-1zm49 7zm38 0zm7-6zm-77 15zm-44 10zm58 5zm39-1zm11-6zm-50 20zm3-4z"/><path stroke="#2d48ff" d="M473 1177zm-11 13zm90 10zm-27 6zm41 5zm-94 6zm78 16zm-51 27zm17-3zm41 7zm-102 17zm45-3zm48 8zm-103 13zm17-5zm5 0zm5 5zm44-2zm-107 9zm15-1zm70 12zm86 1zm-16 8zm33 8zm-75 14zm13-1zm0-8zm59-1zm-8 19zm5-1zm-139 16zm17-2zm45-3zm20-2zm2 3zm-73 5zm36 5zm6-1zm14 5zm29 1zm16 1zm-119 7zm14-2zm20-1zm18 5zm6-2zm14-3zm13 7zm51-8zm-139 10zm132 8zm-61 9zm-23 18zm-17 6zm17 2zm10 1zm32-2z"/><path stroke="#7cffb0" d="M517 1145zm24 10zm-91 21zm16 1zm72-6zm-78 20zm41-1zm-42 12zm5-8zm34 6zm45-5zm2 9zm-100 9zm18-3zm22-2zm59 5zm-98 8zm2 6zm49-9zm35-1zm14 6zm11-1zm-118 15zm39-9zm26 8zm25 0zm7-7zm3 2zm2 0zm-95 19zm2 1zm57-8zm9 6zm-94 13zm3-5zm1 0zm15-4zm8 0zm59 4zm2 1zm43 4zm6-1zm-140 8zm1 6zm8-5zm19 1zm34 0zm38-2zm44-4zm-128 21zm8 1zm113 0zm-140 3zm129 10zm6 0zm8-4zm2 2zm13-6zm0 6zm15-1zm-150 6zm1 2zm31-2zm16-1zm26 2zm57-3zm1 10zm2-1zm-137 5zm75 0zm49 9zm16-10zm-159 13zm4 0zm37 8zm49-10zm72 8zm-173 7zm32 7zm120 1zm1-6zm0-1zm16-3zm15 7zm-139 8zm4-1zm20 2zm40 0zm9 1zm34 0zm29 1zm8 2zm2-10zm-168 18zm17 1zm1 1zm8-3zm10 1zm30 4zm12-3zm31 5zm8-7zm10 4zm25-2zm-153 6zm1 6zm13-3zm37-1zm14 5zm75-3zm-101 8zm5 8zm12-5zm3 7zm27-8zm2 7zm23-3zm-90 6zm26 10zm55-3zm21 3zm2-9zm-72 18zm9 4zm29-5zm30-5zm9 5zm1 4zm9-2zm-70 10zm14-5zm24 8zm27-3zm0 1zm-43 23z"/><path stroke="#b02d2d" d="M529 1150zm0 3zm15 9zm16 6zm-71 33zm35 0zm-68 15zm39 5zm19-3zm59 2zm-55 14zm18 6zm-100 40zm89 2zm-74 17zm91-9zm-44 39zm0 5zm36-2zm51 1zm-149 8zm-10 11zm3 34zm30 10zm-8 18zm27 5z"/><path stroke="#ff482d" d="M477 1156zm51-2zm-65 3zm10 10zm48-5zm26-5zm-73 26zm3 3zm43 0zm21-4zm10 6zm-73 11zm8 2zm67-6zm-112 12zm57 7zm1-8zm46-1zm-92 21zm9-9zm41 3zm5 4zm42 0zm10-4zm-120 16zm1 0zm38 2zm15 0zm44-6zm1 5zm33-4zm9 2zm-138 12zm90 3zm3-7zm24 7zm16 1zm-134 20zm13-5zm114 3zm4 3zm-95 14zm3 1zm49-2zm8-3zm17 4zm-90 12zm20-2zm28-1zm17 3zm15-3zm11-1zm26 4zm-86 3zm11 5zm10-4zm54 4zm4-1zm-84 12zm36 1zm19-1zm-114 13zm24-5zm-19 22zm17-7zm27 18zm82-6zm-144 9zm14 0zm5 0zm94 3zm19-3zm-70 20zm36 1zm-90 13zm78 2zm30 3zm-5 20zm-55 9zm22-9zm-29 13z"/><path stroke="#2db0ff" d="M494 1164zm67 75zm-27 5zm38-3zm-155 34zm11-1zm-1 8zm69-2zm58 16zm-135 7zm8 1zm23 13zm146 6zm-178 5zm114-3zm7 1zm45 1zm-105 14zm28 18zm-69 7zm72 4zm13-2zm11 3zm8 45zm-68 18z"/><path stroke="#48ffe4" d="M498 1164zm38-1zm-66 10zm1 0zm26 0zm21 7zm20-4zm17-1zm-110 6zm3 3zm62 2zm7-5zm10 2zm3 3zm-55 7zm44 2zm17 7zm-78 5zm77 0zm22 4zm-98 14zm14-2zm62-5zm18 9zm15-3zm-52 6zm-76 20zm44-2zm21-1zm7-2zm-94 10zm77 7zm30-6zm41 6zm-136 4zm66 6zm0-2zm49-3zm4 0zm6-1zm21 2zm-139 17zm24-3zm112 1zm9 1zm-170 16zm13 0zm25-3zm16-3zm20-2zm17 2zm66 6zm-143 8zm34 1zm5-3zm74 1zm12-4zm7-1zm13-1zm19 11zm-181 1zm63 0zm12 7zm13-1zm2 1zm47 4zm45-10zm-177 13zm6 3zm12 0zm25-4zm7 6zm67-2zm7-1zm5 0zm-123 17zm9-10zm1 9zm19 0zm0 0zm34-8zm30 5zm2 4zm20-3zm10-5zm-85 14zm4-3zm3 10zm60-2zm40 1zm21-10zm-151 13zm60 9zm11-8zm2 5zm23 3zm19-4zm9-1zm18 7zm-149 6zm21 4zm15 0zm9 1zm13-8zm-42 10zm9 4zm25 3zm3-3zm11 0zm20 0zm12 3zm4 3zm20-2zm19-4zm-101 10zm12 1zm74-2zm6 8zm13-3zm-114 11zm45 5zm43-11zm15 8zm-108 10zm16 3zm67 3zm2-9zm3 7zm-32 12zm22-2z"/><path stroke="#2de4ff" d="M527 1157zm-55 34zm6-5zm8 3zm49-5zm-18 15zm31 0zm-100 13zm55-1zm26-4zm-88 12zm86 20zm-91 20zm113 8zm-102 17zm57 2zm33-4zm-75 8zm44 9zm43-8zm-146 15zm29 3zm38 2zm36 0zm16-11zm-110 13zm49 2zm33 6zm19-3zm87 4zm-127 3zm-39 12zm16 6zm147-6zm5 9zm-147 3zm42 9zm23-4zm7 0zm47 1zm-155 11zm30-6zm14 12zm19-6zm7-4zm4-1zm40 3zm-85 13zm2 4zm37-4zm32-2zm13-3zm36 7zm-126 12zm2 0zm29-3zm38 4zm39-3zm26 5zm6-2zm-69 12zm7-3zm61-1zm-137 19zm40 1zm13-3zm41 0zm-76 13zm82-8z"/><path stroke="#ff482d" d="M494 1153zm37 0zm-56 14zm36-3zm3-1zm2 9zm-20 19zm-51 8zm1-6zm31 2zm40 6zm-56 4zm4 7zm19-2zm72-4zm-96 11zm44 1zm8 2zm28 6zm-96 14zm48-10zm36 5zm19-6zm-65 18zm5-1zm4 2zm36 4zm1-5zm37 3zm-117 5zm10 9zm62-3zm19-2zm16 0zm-116 13zm8-2zm61 5zm-65 13zm13-7zm20 5zm6-8zm-1 13zm21-1zm5 8zm52-8zm11 1zm9-2zm-176 12zm80 5zm12 2zm8 2zm26-7zm-111 16zm72-6zm-35 19zm1 0zm116-4zm-58 14zm13-4zm36-1zm-64 16zm12 4zm11 1zm-54 19zm58-3zm-91 24zm35 10zm18 16zm66-3zm-89 18z"/><path stroke="#b02d2d" d="M500 1155zm32 5zm6 36zm-32 12zm35 1zm-97 15zm8 0zm-12 7zm54 4zm39 2zm5 0zm4 10zm18 3zm-50 14zm-23 10zm54 25zm-20 29zm53 1zm-38 15zm2 23zm3 3zm-3 41zm-58 14z"/><path stroke="#ff482d" d="M509 1145zm-45 20zm20-2zm-27 14zm67-6zm5 7zm11 2zm17-7zm-91 14zm28-2zm-13 11zm73-2zm-107 14zm22 6zm58-1zm-91 15zm5 0zm14-5zm1 4zm44-7zm32 0zm7-2zm3-1zm4 2zm1-3zm23 12zm-123 7zm78-6zm-34 21zm36-2zm-85 6zm10-1zm35 9zm25-7zm17 2zm-34 16zm0-4zm54 4zm19-3zm-165 14zm49-3zm-21 9zm25 4zm23 1zm14 0zm39-6zm22 6zm-130 15zm69 4zm50 2zm-78 17zm7 11zm118-4zm-151 16zm90-1zm-9 9zm-55 55zm7-2zm52 2zm18-10zm-3 13zm-9 12z"/><path stroke="#2d2de4" d="M534 1152zm-46 24zm12-3zm47 51zm-27 16zm-31 12zm3 1zm-20 27zm85 8zm-61 12zm-47 1zm19 3zm24 7zm4 0zm-77 9zm117-2zm48-1zm-176 9zm47 0zm124-1zm3 5zm14 0zm-120 11zm52 7zm50-9zm-146 15zm5 2zm2-8zm20 1zm14 11zm56-3zm6 0zm59-3zm-161 15zm140 3zm-44 6zm12-3zm30 7zm-118 4zm17 8zm57-4zm12-4zm-88 22zm68-6zm5-4zm21 0zm-69 12zm32 4zm21 3zm37-2zm-71 16zm3-9zm26-1zm-21 12zm8 14zm17 3z"/><path stroke="#2d2db0" d="M512 1199zm44 15zm19 22zm-6 24zm-48 16zm-44 7zm20 21zm83-1zm-143 20zm28-1zm8-4zm8-4zm-37 19zm109-8zm-115 37zm159-1zm-173 23zm127-4zm0-7zm6 9zm15-8zm9 1zm-77 17zm61-6zm12 0zm2 2zm-139 14zm6-4zm54 2zm54 1zm8-2zm-88 18zm25 1zm41 1zm18 1zm-105 10zm32-5zm47 1zm-13 17z"/><path stroke="#ffb02d" d="M511 1151zm5-2zm8-2zm-55 11zm4 1zm2 6zm31-4zm-56 9zm41 1zm18 7zm19-2zm-74 12zm35-5zm8 1zm39-2zm-44 16zm21 4zm9-1zm3-6zm36 6zm-126 15zm28-11zm4 6zm12 0zm1 3zm11-5zm14-3zm2 0zm10 6zm8-7zm-33 14zm2 1zm2-2zm15 9zm43-9zm15 10zm-60 5zm6-1zm23-2zm4-1zm38 8zm-140 14zm10-10zm3 10zm41 0zm30-1zm7-7zm2 3zm45-4zm2 0zm6 1zm-163 12zm54 1zm38-1zm20 2zm-115 14zm18 3zm48-9zm55 5zm30-5zm-119 17zm52-3zm1-2zm11 4zm5-1zm2 7zm6-4zm23-3zm13 2zm-116 12zm33-2zm32 1zm24 7zm35-8zm-112 17zm76 2zm31-4zm22 3zm-157 5zm40-2zm37 7zm-11 16zm4-1zm1-3zm-80 11zm36-3zm16 5zm92-8zm11 5zm4-5zm-99 12zm28 4zm67 7zm-125 4zm72-2zm39 4zm-94 15zm85-6zm15 2zm-124 8zm31 1zm75 14zm11 10zm-93 12zm18 29z"/><path stroke="#e42d2d" d="M466 1151zm17-1zm28-4zm0 15zm6 7zm12-3zm2-8zm5 2zm-40 21zm16-1zm32-10zm-57 24zm69 9zm-69 7zm4 2zm14 4zm11-6zm-72 9zm9 5zm93-4zm1 1zm-20 13zm9 1zm28 1zm-134 9zm99 1zm40 1zm-140 16zm16-5zm93 7zm-103 9zm23-3zm34 0zm-21 16zm70-7zm15 2zm-109 12zm19 0zm108 1zm-159 10zm32-1zm7 6zm7-8zm26 9zm17-8zm10 4zm99 1zm-204 17zm130-4zm-11 16zm22-5zm-107 11zm4-1zm41 0zm62-2zm28 1zm-145 19zm61-9zm66 4zm24 6zm-134 28z"/><path stroke="#48ffe4" d="M522 1145zm1 28zm-38 15zm26-2zm-55 7zm21 6zm2-5zm24 7zm32-4zm-77 9zm19 7zm-34 8zm131 4zm-134 15zm1-3zm85 3zm3-11zm40 2zm-64 17zm15 3zm-100 3zm13 11zm8 11zm0-5zm38-3zm39 6zm38-9zm16 1zm-152 14zm16-3zm47 5zm28-3zm-72 11zm40 2zm-53 18zm82 0zm12 2zm0-6zm48-3zm13 7zm-140 11zm18 2zm17-6zm32 1zm17 0zm3 4zm1-7zm42 5zm2-3zm5-2zm10 0zm-161 19zm14-2zm95-8zm8 2zm9 9zm39-6zm5-2zm-99 16zm6-4zm1 5zm18 4zm25-4zm11 3zm11-8zm2 7zm12-2zm1-7zm-152 21zm18-9zm10 0zm115 4zm1 1zm2-2zm10-3zm-101 23zm43-8zm23 7zm3-6zm22-2zm-120 18zm22 3zm63-9zm13 2zm7 1zm21-3zm12-2zm-132 19zm5-1zm61-1zm6-5zm5 4zm4 2zm20 1zm-37 14zm15-9zm21 9zm-122 7zm19-1zm14-1zm55 9zm4-3zm20-8zm-62 22zm5 4zm23 9zm8-10zm-27 14zm3-1z"/><path stroke="#2db0ff" d="M525 1150zm-49 7zm22 15zm-48 17zm-5 8zm36-3zm41 19zm11-5zm-80 28zm-30 44zm104 2zm11-2zm-105 26zm24-3zm44 9zm-69 10zm28-3zm97-2zm39 0zm-58 19zm-138 3zm75-1zm96 9zm17-2zm-166 16zm24 23zm138-11zm-106 15zm-35 17zm24-3zm4-1zm1-2zm45-1zm22 8zm23-7zm-36 20zm-23 3zm-6 15z"/><path stroke="#2d48ff" d="M479 1181zm24 24zm33 3zm-105 12zm47 39zm75 4zm-106 4zm56-1zm30 2zm-113 16zm8-2zm81 9zm-78 15zm41-3zm22 2zm-44 14zm120 16zm8-1zm-162 7zm14-3zm2 3zm32 3zm75-5zm22-1zm-110 12zm3 4zm104 0zm15 2zm14-3zm5 5zm-169 10zm37 4zm2-9zm9 1zm25 1zm22 2zm-74 14zm7-5zm68 3zm-47 12zm5-5zm2-1zm27 5zm6 2zm11 7zm1-1zm4 3zm10-4zm10 1zm9 10zm9-4zm-91 14zm24 2zm23-9zm-59 21zm16-4zm38-5zm8 8zm-18 14z"/><path stroke="#48ffe4" d="M473 1149zm66 4zm-33 21zm3-3zm3 2zm20 2zm-84 17zm30-9zm43 3zm42 3zm-14 10zm-107 11zm43-6zm19 6zm25-1zm-83 8zm77 3zm51 8zm-119 9zm63-3zm-71 11zm117-3zm11 2zm-57 20zm65-4zm-164 15zm9-4zm19 3zm90-1zm-131 8zm17-2zm28 3zm51-5zm-84 18zm32-3zm2 3zm27-2zm4-3zm12 1zm5-2zm3 4zm34-3zm4-1zm26 9zm23 2zm-161 4zm36 3zm24-3zm9 2zm62-6zm6 5zm16 7zm-176 3zm3 4zm4-6zm43 5zm2 1zm14 1zm3-4zm40 4zm15-2zm25-3zm3 5zm-128 8zm13 7zm80-7zm8 7zm20-3zm6-4zm-95 12zm8 5zm37-1zm33-5zm57 7zm-169 11zm3-2zm4-5zm93 9zm21-9zm7 7zm19-3zm-124 14zm44 3zm3 1zm29-8zm18-2zm8 5zm22-4zm-128 18zm15 2zm65-10zm37 10zm-135 2zm49 0zm5 8zm10-7zm47 2zm2-3zm-76 14zm4 5zm6-4zm12 2zm3 1zm5 4zm19-4zm6-5zm20 3zm7 5zm12-8zm9 5zm3 5zm4-5zm3-6zm5 1zm-122 15zm87 7zm1-1zm-45 13z"/><path stroke="#2d48ff" d="M532 1204zm-2 9zm-98 7zm10 8zm121 0zm-119 1zm121 2zm17 6zm-141 50zm52-8zm-61 13zm42 7zm53-5zm-101 19zm42 4zm124 3zm-22 8zm2 6zm-130 14zm39-10zm28 4zm26 5zm21-4zm-38 15zm-86 5zm53 1zm31-3zm30 0zm25 7zm10-3zm5 0zm-134 11zm2 2zm22-2zm71 5zm31-1zm-118 5zm27 1zm63 10zm17-8zm8-2zm3 0zm-134 12zm6 4zm26-4zm33 6zm6-1zm24 0zm18 3zm-76 5zm33-2zm40 7zm-3 10zm-19 11z"/><path stroke="#b02d2d" d="M536 1162zm-20 13zm29 5zm-68 23zm40 4zm14 0zm24 13zm-65 28zm5-1zm66-5zm-83 15zm53 6zm-80 9zm19-1zm90-2zm-91 27zm-28 13zm71-6zm22 12zm-119 10zm81 5zm26 2zm-38 15zm57-3zm-38 77z"/><path stroke="#2db0ff" d="M469 1153zm86 51zm-116 13zm95 4zm-94 12zm16 19zm122-5zm-40 19zm-60 15zm95 4zm-143 12zm23 1zm129 11zm-94 10zm41 1zm69 12zm-155 8zm47 0zm1 0zm-63 14zm54-5zm32 5zm26-1zm-29 15zm0 5zm2 2zm55 8zm-100 4zm70 0zm5 1zm-2 12zm1-1zm20-2zm-20 19zm16-3zm-22 11z"/><path stroke="#ff482d" d="M521 1151zm-32 16zm2-3zm55-1zm-95 11zm9 4zm50-6zm11-1zm15 6zm-62 6zm30 3zm15-4zm3 1zm8 7zm-88 3zm12 3zm19-1zm16 5zm22-4zm30-1zm18 6zm-49 10zm19-2zm21-2zm4 0zm-111 10zm7 10zm68-2zm17 0zm7 2zm-107 7zm48-1zm17 1zm54-5zm-56 20zm1 1zm3 1zm1-9zm67 8zm-141 14zm22-9zm58-1zm23 6zm3-1zm14 0zm-119 22zm22 1zm56-3zm-104 21zm17-5zm15 3zm9-7zm75 6zm22-7zm20 6zm-97 13zm11-7zm14 1zm-18 12zm9 8zm13-8zm1 0zm83 0zm-82 19zm7 1zm25-7zm6 4zm1-2zm10-3zm-31 10zm33 20zm-114 10zm35 8zm46 1zm7 0zm-83 27zm67 30z"/><path stroke="#e42d2d" d="M490 1145zm5 4zm5-5zm-8 22zm4-8zm-35 22zm0-2zm47 0zm-54 6zm60 2zm-70 12zm11 5zm12-4zm24 0zm-12 14zm18-4zm7-1zm21 6zm-63 6zm71-1zm3 1zm36-1zm-97 26zm25 0zm36 14zm24-1zm-122 18zm58-1zm-36 11zm51 0zm41 2zm-121 11zm36 6zm15-1zm1 8zm8-5zm12 4zm15-2zm5-4zm14 5zm-114 3zm35 5zm107 0zm-123 8zm75 4zm4-3zm5 11zm36 6zm-86 7zm84 8zm-56 7zm45-2zm12-1zm-19 17zm-14 22zm-16 34z"/><path stroke="#ffb02d" d="M506 1143zm-24 21zm10 2zm27-4zm12-1zm10 7zm-68 4zm26-3zm19 8zm26-2zm4 4zm5 0zm4-7zm-82 16zm16 1zm51-1zm4 2zm-83 5zm26 7zm17 1zm47 0zm-66 10zm8-8zm27 10zm39 1zm-124 8zm16-1zm5 1zm40-1zm7-2zm5-3zm25 10zm24-8zm-82 11zm11 7zm6-6zm6 3zm25-3zm-98 20zm19-2zm0-5zm1 7zm3-3zm37-1zm36-1zm0-3zm38 8zm1-1zm22-6zm-103 11zm2 2zm25 1zm25-6zm8 5zm35-3zm-157 17zm23-2zm10 3zm33 0zm2-7zm10 2zm51-1zm11 5zm5 2zm11-9zm-141 12zm5 4zm25-3zm0 3zm5-1zm8 6zm14 0zm34 2zm50-10zm-165 13zm17 2zm23 4zm29-7zm12-1zm58 3zm-135 17zm7-3zm23-3zm114 8zm16-5zm27 6zm-185 4zm18 5zm6-7zm27 8zm5-7zm82 9zm-78 6zm37 1zm56-6zm-154 19zm8-1zm30-6zm6 3zm48 5zm16 1zm1-4zm6-5zm9 3zm14 8zm-105 10zm36-9zm5 10zm22-3zm-42 22zm68-6zm-12 19zm3 2zm-81 11zm113 2zm3-8zm-113 24zm70 3z"/><path stroke="#48ffe4" d="M519 1153zm-54 10zm35-6zm30 1zm21 6zm-88 9zm7 6zm-18 12zm7-3zm34 2zm23 1zm27-1zm12-3zm-88 16zm93 0zm-100 12zm49-1zm17 1zm-29 7zm21-1zm13 1zm20-4zm11-1zm-110 13zm40 3zm19 2zm27-3zm35 19zm-123 1zm2 2zm17 1zm-53 11zm25 5zm13-1zm30-4zm14 4zm19 6zm34-8zm-128 17zm72-3zm72 2zm-122 16zm6-6zm32 1zm44-5zm23 3zm-131 8zm88 3zm-100 10zm11 7zm50-7zm11 1zm41 7zm10-4zm21-1zm-108 16zm20 1zm35 0zm18-8zm18-1zm39 5zm-107 8zm6 22zm20-2zm24 1zm59-6zm2-3zm15 2zm-137 9zm6 6zm7 4zm49-7zm6 1zm4 1zm31-3zm-118 13zm17 1zm1-4zm10 1zm11 4zm2 6zm15-9zm9-1zm6 5zm2 1zm29-4zm1-3zm1 5zm18 0zm25 3zm-118 15zm73-11zm1 11zm7-2zm32-8zm-126 12zm2 7zm87 2zm7-2zm25-4zm-132 8zm14 7zm12 0zm44-7zm1 11zm4-4zm50-5zm-67 33zm13-6zm9-5z"/><path stroke="#2d2de4" d="M472 1166zm-7 4zm90 20zm-90 12zm3 9zm96 4zm-122 13zm121-4zm-113 5zm125 4zm-23 27zm-13 6zm20 3zm-64 16zm18-7zm-66 19zm100-4zm-117 22zm33 8zm51-7zm3-3zm-53 14zm37 9zm40-9zm23 7zm15-8zm-126 15zm6 2zm64 0zm-57 10zm7 6zm27-1zm44-7zm40 7zm-152 13zm46-4zm9 0zm11-3zm-5 19zm39-4zm2 3zm8-5zm-85 13zm36 6zm12-1zm42-8zm10 3zm40-2zm-116 19zm17-9zm47 5zm10-6zm7 4zm-17 15zm28-4zm-104 13zm16 1zm26 15z"/><path stroke="#b0ff7c" d="M483 1147zm9 7zm25-9zm-36 21zm26 0zm4-6zm37 6zm-1 5zm3 9zm-90 11zm6-2zm76 3zm-101 10zm22-6zm8 7zm17 1zm43-6zm4-2zm5 3zm27 1zm-53 12zm6-4zm11 6zm15 0zm-77 11zm34 2zm10-7zm18 3zm4 0zm3-2zm38 7zm-74 8zm42 0zm-114 16zm2-1zm40-10zm15 5zm1 0zm45-3zm51 1zm-144 14zm43 6zm0-6zm18 3zm5-8zm27 1zm39 2zm-148 9zm64 8zm0-8zm0 0zm67 8zm0 0zm5 0zm-142 8zm1-3zm11 9zm37-7zm5 4zm1-6zm2 4zm28 4zm5-9zm35 2zm4 2zm-99 11zm39 6zm32-3zm9 4zm1-5zm50-5zm15 2zm-188 13zm11 8zm7-10zm1 9zm28-10zm5-1zm4 2zm10 7zm3 1zm4 1zm16-4zm3-4zm74 6zm8-5zm-168 20zm44-4zm2 4zm0-7zm35 2zm43-1zm56 1zm-139 6zm24 3zm23-1zm7 7zm8 0zm26-1zm48 2zm3-5zm-159 9zm9 5zm2-6zm9 8zm1-10zm35 9zm51 0zm12-3zm27-1zm-157 10zm40 8zm37-4zm34-4zm2 7zm14-5zm4 5zm16-8zm8 10zm-156 9zm82 3zm89-3zm9 3zm-139 12zm42-7zm6 3zm1-2zm8 0zm42-2zm19-2zm-126 16zm48 1zm8 3zm9-6zm7 0zm11-1zm23 6zm-122 5zm89 21zm-69 11zm30-2zm7-6zm7 4zm10-2zm4 1zm16 3zm2 3zm15-10zm-24 21zm-11 9z"/><path stroke="#b0ff7c" d="M507 1150zm9 0zm9-1zm18 4zm-21 6zm21 8zm17-3zm-89 16zm2-11zm37 6zm28 4zm15-3zm-80 8zm64 7zm0-2zm3-8zm12 0zm2 6zm-88 10zm31 0zm31 1zm-85 10zm18-1zm10 2zm21-4zm13 8zm47-3zm13 18zm-71 4zm27 8zm21-10zm28 0zm0 6zm-79 15zm28-6zm24 4zm-72 4zm33 4zm14 1zm4 2zm55-2zm-101 16zm44-1zm5-4zm14 3zm-112 7zm3-1zm24 5zm34 2zm9-7zm6 4zm65-4zm-153 15zm11 5zm29-4zm3 0zm5 1zm5 2zm7-3zm40 2zm27-2zm-126 9zm20 0zm11 9zm15-10zm10 10zm29-8zm39-2zm1-1zm9 4zm43 2zm-156 14zm8 2zm14 0zm10-9zm37 2zm11 1zm-110 13zm2 2zm10 0zm16-2zm30-1zm17-4zm7 8zm45-3zm19 3zm25-2zm-141 7zm10 6zm0-1zm87-3zm29 8zm1-2zm18-6zm-78 14zm81-1zm7 2zm-143 7zm96 2zm9 8zm3-2zm20-5zm4 3zm-140 16zm6-6zm9-1zm8 0zm7-1zm11 2zm16-1zm18 1zm35-1zm-94 12zm90 5zm20-10zm1 2zm13 1zm3 6zm1-3zm-123 15zm20-8zm18 3zm5 5zm7 2zm16-7zm13 1zm-74 8zm29 9zm-37 3zm4 4zm11 5zm6-8zm15 8zm-7 8zm21-4zm29 7zm-43 10zm17 1zm-13 30z"/><path stroke="#ff7c2d" d="M530 1144zm-52 4zm2 2zm70 15zm0 2zm2 1zm-82 1zm1 3zm21 8zm22-4zm38 1zm-78 10zm47 1zm10 1zm-30 7zm9 2zm3-1zm6 1zm7-4zm39 10zm-102 4zm24 4zm7-4zm11 7zm29-4zm34-4zm-112 16zm24 3zm10-6zm9 7zm4-2zm11-7zm2 7zm6 0zm23-2zm12-5zm-49 16zm2-5zm23 0zm10 6zm-53 15zm0 1zm9-7zm9 2zm-55 18zm10-5zm24 3zm4-2zm39-6zm4 2zm7 7zm-119 11zm44 2zm67-8zm10 5zm7-2zm2-4zm14 1zm-137 15zm15 1zm5-5zm39 1zm24-3zm17 4zm27-2zm-115 12zm22 0zm50-1zm46 8zm-87 4zm51 3zm-57 9zm107 5zm-95 13zm60-3zm22 7zm2 0zm24-9zm-172 17zm16-1zm32-1zm12-3zm42 9zm-103 2zm53 3zm25-4zm9 6zm11 1zm51-4zm1-3zm-3 18zm-137 25zm71-4zm18-2zm-69 22zm2 0zm2-7zm31 7zm40-11zm28 5zm-43 23zm4 9z"/><path stroke="#ffe42d" d="M533 1153zm-59 14zm1-8zm7-1zm44 8zm3 1zm7 1zm1-6zm-89 11zm17-4zm5 10zm2-10zm3 4zm3 1zm5-4zm17 10zm36-6zm14-5zm10 11zm-114 5zm7 2zm64 1zm6 4zm7-11zm-64 22zm38 1zm1-10zm43 2zm2 4zm-97 15zm3-5zm2-2zm12-3zm10 10zm17-4zm2 4zm27-6zm16 5zm3-1zm-105 15zm8-11zm35 3zm50 8zm23-4zm7 1zm-118 9zm42-3zm11 9zm9-1zm9-6zm8-4zm54 6zm-146 13zm4-1zm63-6zm50 7zm25 2zm7-8zm-154 12zm10 8zm3-3zm88 2zm21 1zm26-4zm-153 14zm11 3zm62-7zm40 7zm-119 7zm61-2zm20 7zm29-9zm31-1zm-145 21zm6 0zm69-7zm39 1zm10 0zm18 4zm-119 7zm7 9zm97-11zm10 2zm31 5zm-129 11zm8-1zm77 0zm35-1zm-145 17zm12 2zm8-11zm35 5zm48 1zm31 1zm-138 12zm49-2zm15 0zm67 0zm28-5zm-111 20zm15-7zm27 4zm39-3zm-56 20zm82-1zm-116 6zm33 5zm21-7zm41 10zm5-8zm-114 14zm-7 12zm24-1zm23 2zm58 2zm-77 7zm72 7zm-62 20zm9-2zm1-3zm7 9z"/><path stroke="#ff7c2d" d="M504 1145zm8 3zm16 6zm10 2zm-58 8zm58 0zm4-7zm-88 17zm9-5zm38 4zm44-3zm11 3zm5-4zm-110 12zm2 0zm7 3zm53-3zm1 3zm15-2zm1 10zm6-3zm-92 6zm13-1zm18 6zm1 0zm74 3zm15-3zm-67 11zm9 5zm38-3zm-83 10zm11-4zm2 4zm30 5zm8 0zm20-6zm34-3zm-87 11zm6 4zm22 2zm59 3zm11-10zm-145 23zm0-1zm0-6zm15-2zm57 5zm57-3zm-109 17zm8-2zm82-7zm-127 21zm7-4zm6-2zm13 7zm89-8zm39-2zm-151 16zm16-4zm61 3zm16-3zm2 2zm53 6zm-143 12zm15-4zm36 3zm0 2zm18-8zm-92 17zm27 3zm38-9zm10 3zm76 7zm21-9zm-142 13zm5 4zm0-5zm16 0zm2 0zm17 9zm0-4zm25-6zm23 5zm1 0zm24-4zm50 9zm-164 6zm111 4zm-68 14zm49 0zm55-9zm17 6zm-83 6zm6 7zm8-8zm31 11zm12-9zm-39 16zm6-1zm-116 8zm123 19zm-100 10zm78-4zm15 4zm-88 14zm96-2zm-94 12zm74 2z"/><path stroke="#2d7cff" d="M543 1158zm-40 12zm0 20zm37-7zm21 17zm-30 6zm17 16zm-97 12zm-29 29zm16-3zm130 10zm-10 23zm14 9zm-125 15zm11 3zm18-6zm-23 18zm19-6zm58 4zm5 3zm8-2zm-72 10zm81 0zm30-1zm16 7zm-182 7zm100-3zm10-1zm55 7zm-151 15zm72-8zm70 6zm-108 17zm8-1zm-10 13zm43 4zm47 4zm-93 4zm41 1z"/><path stroke="#e4ff48" d="M490 1148zm8 6zm-24 5zm4 8zm-5 3zm3 8zm20-8zm3 7zm1-2zm7 0zm8-2zm9 6zm0-3zm0 2zm10-3zm17 2zm-55 5zm11 4zm30 3zm-82 10zm58 4zm17-1zm26-7zm-89 17zm24-1zm4 2zm20-7zm19 3zm8 5zm22-1zm-125 13zm3-9zm7 8zm31-4zm20-4zm4 3zm3 2zm10-2zm11-3zm8 6zm-87 6zm58 6zm32-5zm10 4zm19 4zm11 2zm-91 11zm17-2zm5-4zm48-2zm-142 15zm106 3zm55-1zm-76 10zm13 1zm31-6zm3 10zm11-7zm4-2zm7 5zm-139 10zm19 4zm3-8zm4 4zm16 4zm31 3zm27-2zm28-5zm-153 11zm90 8zm23-11zm23-1zm15 11zm-79 2zm13 4zm14-1zm14 6zm4 1zm8-4zm3-6zm21 0zm0 5zm7 3zm-96 6zm65 1zm14-2zm18 1zm2 9zm-122 3zm0 4zm1-1zm70-3zm21 0zm8 6zm8-4zm7 0zm21 6zm-175 9zm42 4zm21-7zm40 0zm78-4zm0 4zm7 6zm-156 7zm6-5zm3 4zm10 7zm26-4zm23 0zm10 4zm20-4zm-113 6zm88 10zm3 0zm12-9zm7 4zm34 0zm20 2zm-169 5zm19-1zm17 9zm24-4zm14-3zm2 5zm34-4zm-38 20zm19-1zm31-3zm35-2zm-105 16zm14-8zm73 8zm8-3zm-70 16zm15-5zm27 1zm26-5zm-100 15zm2 7zm12-2zm18-8zm47 5zm2 1zm0-3zm-22 15zm18-1z"/><path stroke="#ff7c2d" d="M511 1141zm-3 8zm19 2zm0-2zm2 6zm-66 6zm1 1zm20 6zm39-1zm17-10zm-76 23zm29-11zm4 5zm2-4zm-10 21zm49 0zm-92 10zm24 0zm15-4zm31-2zm-72 19zm4 1zm23 1zm0-6zm32 5zm36 0zm6-9zm-82 15zm15-3zm4 6zm20 3zm0-7zm31 8zm2-5zm-94 7zm12 9zm104-2zm1 2zm15-9zm-133 20zm88-10zm51 3zm-115 10zm37 8zm19 2zm13-5zm3-4zm20 6zm19 4zm-139 3zm9 7zm25-1zm7-5zm5-3zm5 2zm4 0zm41 7zm23 1zm8-2zm-110 13zm11 0zm18 2zm2-5zm18-2zm17-4zm11 6zm13-1zm16-1zm-137 13zm5-4zm58 0zm3 8zm10-3zm23-4zm1 2zm67 4zm-150 12zm57 3zm4-6zm69-5zm2 5zm17 3zm-176 5zm22 9zm73-5zm9-2zm14 4zm5-7zm3 1zm10 5zm45-1zm-68 11zm-70 16zm10 2zm63-9zm-85 19zm14-4zm128 2zm-134 17zm35-9zm11 2zm-13 11zm-36 11zm65 10zm49 8zm-85 15zm47 2z"/><path stroke="#2d48ff" d="M459 1201zm17-5zm69 2zm-53 18zm65-11zm-63 33zm27-8zm-82 14zm109 25zm-97 22zm-27 16zm10 5zm34-5zm18-7zm-3 17zm13 7zm9-6zm69-1zm-166 8zm29 8zm38-2zm11-2zm6-2zm-81 16zm78-5zm21 3zm17-3zm31 0zm-81 13zm5 4zm36 4zm-99 2zm18 7zm23-2zm120 6zm-151 12zm3-5zm54 2zm18-2zm4-2zm18 4zm14-2zm52 1zm-73 10zm-22 11zm6 4zm19 3zm1-11zm54 6zm-122 7zm101-2zm1 2zm-74 17zm5 5zm55-7zm-60 18z"/><path stroke="#2d7cff" d="M502 1169zm-16 34zm52 10zm16 0zm-64 18zm26-2zm31 3zm-56 59zm-43 12zm52 3zm54 1zm-148 29zm38-11zm19 11zm31-9zm-8 20zm18-5zm30-1zm5-2zm0 8zm38-2zm-165 4zm20 11zm54-5zm30-6zm37 0zm-32 13zm52 6zm7 4zm-85 5zm-61 8zm65 9zm-10 23zm-26 10zm5 2zm23-7zm36 4zm-15 31z"/><path stroke="#2d7cff" d="M501 1166zm13-7zm47 36zm-122 21zm8 3zm37 16zm-72 21zm73 4zm-72 27zm86 36zm31-8zm12 4zm9-3zm3-1zm29 0zm-30 19zm-132 3zm9 3zm80-4zm68 9zm-132 15zm52-10zm60 7zm-100 15zm3-9zm25 5zm91-1zm-33 14zm-94 8zm0 2zm105 0zm28 4zm-109 9zm47 9zm2-2zm-46 21zm18-9zm52 0zm-54 11zm16 7z"/><path stroke="#ff482d" d="M475 1154zm14 9zm4 5zm43-8zm-67 15zm60-6zm4 3zm6 3zm8 0zm-99 11zm3 3zm25 2zm25-2zm5-7zm10 8zm22-8zm-90 22zm37-11zm6 0zm17 10zm12-2zm47-6zm-125 12zm26 9zm11-7zm2 5zm23-7zm-58 19zm19-6zm89 1zm18-3zm-121 20zm71-3zm10-4zm39-2zm-63 22zm-85 4zm30-2zm33 11zm90-6zm-158 15zm68 3zm16 0zm9-5zm-64 14zm55-7zm36 4zm24 0zm-105 11zm2-3zm40 2zm36 5zm16 1zm26-9zm5 1zm-131 16zm45 3zm7-6zm2 2zm-49 12zm1 6zm1-9zm87 7zm-95 5zm10-1zm83 7zm2-7zm5 5zm8 5zm-94 13zm69-7zm-37 14zm10 3zm43-4zm-93 7zm2 10zm22-7zm-49 28zm40 0zm-36 5zm121 11z"/><path stroke="#ffe42d" d="M468 1162zm17-4zm10 5zm30 2zm27 0zm-107 12zm23 1zm23-3zm23-5zm9 1zm2 6zm-80 11zm9-5zm69 0zm4 7zm16-2zm2-3zm8-3zm1-2zm-106 19zm18-2zm1 0zm6-2zm12 3zm7 2zm39 2zm24 2zm-99 9zm18-7zm7 7zm32-3zm-43 14zm11-2zm21 4zm0 1zm26-4zm3-1zm14-2zm3-2zm-108 11zm6 5zm43-5zm9 0zm1 21zm20 2zm2-9zm-104 21zm7-11zm5 0zm75 11zm27-8zm4 4zm11-2zm21 0zm6-4zm-88 13zm40 4zm14 4zm-128 7zm36-1zm32-3zm7 5zm35-2zm5 9zm7 4zm27 6zm2-7zm-153 16zm23-8zm3 7zm11-5zm21 7zm21-9zm1 4zm37 3zm31-1zm33 2zm-175 11zm50-3zm19 5zm25-2zm12 0zm9-7zm-119 22zm47-7zm23-1zm63 8zm-123 3zm19 3zm8-4zm55 0zm51 8zm10-4zm24 3zm-173 6zm21-1zm14 9zm20-1zm31-1zm67-6zm-145 19zm91-2zm-48 15zm7 0zm112-7zm3-2zm-162 15zm21 7zm51-2zm68-2zm-104 10zm18-1zm95 4zm-128 15zm26-7zm73-3zm-89 15zm42 1zm43 4zm-61 15zm59-3zm-19 7z"/><path stroke="#2d2de4" d="M475 1168zm0-6zm28 23zm22-1zm-19 25zm62 13zm-39 14zm-42 10zm12 3zm-78 6zm68 5zm25 11zm53 4zm-150 9zm10 3zm8-10zm6 21zm72-6zm16 5zm1-3zm-87 13zm39-3zm62 3zm4-5zm-91 22zm12-5zm110 4zm-64 2zm23 5zm24 2zm2-5zm-105 12zm-34 19zm87 1zm26-1zm17-7zm1 1zm13 5zm-84 10zm23 5zm11-10zm-44 20zm3-4zm3 4zm10-2zm1-6zm7-1zm42 0zm10 3zm8 7zm-94 13zm30-8zm14 8zm11-10zm6 9zm-40 14zm0 8zm31 3zm-14 3zm18-2zm-18 20zm31 4z"/><path stroke="#48ffe4" d="M495 1164zm53 0zm-66 13zm-16 4zm40 11zm-47 12zm88 0zm-109 11zm9-4zm56 3zm35-4zm16-1zm-102 27zm53 0zm45-4zm33 5zm-162 14zm82-7zm12 6zm6-2zm2-4zm51 7zm-16 4zm20-2zm-156 20zm128 3zm-111 6zm25 2zm9 2zm62-1zm3-6zm8 1zm-138 18zm52 0zm9-4zm21 2zm1 2zm28 2zm60-3zm-172 12zm34-6zm30 9zm52-8zm-105 20zm7-3zm102-8zm29 11zm10-3zm9 0zm4 3zm-148 2zm62 7zm19-2zm61 4zm10-4zm-168 10zm13-1zm6-3zm7 0zm10 8zm25 0zm112 3zm-157 12zm38-6zm112 4zm-83 7zm1 6zm38-7zm8 2zm26 5zm14 0zm-148 7zm29-2zm34 3zm8-5zm51 10zm19-7zm-148 10zm11 7zm12-2zm8-2zm102 5zm6-1zm-105 3zm15 2zm8 2zm66-2zm21 4zm-44 16zm9-8zm7 3zm-11 9zm9 3zm-52 10zm45 4z"/><path stroke="#2de4ff" d="M534 1169zm-12 13zm-47 14zm-35 11zm13 3zm3-5zm33 9zm48-8zm-95 20zm72 0zm44-2zm13-2zm-25 26zm15 3zm-29 3zm-99 18zm0-3zm-19 9zm27 10zm13-2zm48-7zm72 8zm-84 4zm38-2zm-111 14zm14-1zm106 3zm9 1zm26 3zm11-1zm10-6zm2 5zm-104 14zm-74 5zm9 4zm9-3zm13 1zm42 1zm15-4zm59 9zm-15 3zm44 8zm-152 14zm35-1zm-54 9zm72-2zm8 0zm8 3zm41-2zm0-2zm1 3zm-52 11zm19-1zm63 6zm10-1zm-109 12zm41-2zm33-2zm9-4zm8 7zm-135 8zm15 4zm43-5zm-55 15zm24 4zm94-3zm-116 6zm36 5zm80-1zm-75 18zm42-5z"/><path stroke="#b02d2d" d="M538 1153zm11 15zm-35 1zm-30 14zm12 7zm43 2zm-53 12zm52-11zm-86 20zm72-1zm-91 27zm14-10zm36 2zm58 3zm36-1zm4 20zm-152 17zm50 0zm39 6zm29 2zm-46 20zm53 1zm-37 1zm-85 19zm155-4zm-109 66zm22-5z"/><path stroke="#2d48ff" d="M526 1152zm-46 28zm-31 12zm6-2zm2 15zm46 31zm-17 32zm71 7zm-69 4zm-6 16zm45-4zm7 9zm-99 2zm37 10zm33-10zm50 5zm18 2zm9-7zm-169 15zm39 5zm65 10zm10-1zm3 3zm7-1zm3 1zm3-7zm24 9zm22-6zm-152 12zm1 0zm65-3zm-6 11zm40 7zm-120 15zm42-6zm78-5zm4 5zm3 0zm34-2zm-130 12zm78 5zm17-1zm5-4zm25 4zm-135 5zm10 7zm103 0zm-58 13zm3 0zm-1 14zm13-4zm31-3zm-70 13zm3-2zm52 18zm-15 8z"/><path stroke="#2de4ff" d="M496 1143zm5 6zm32 1zm-68 15zm56 0zm-42 4zm23 6zm-14 9zm16 10zm54 9zm-113 5zm15 2zm102 1zm-97 6zm65 16zm-20 14zm9 4zm10-10zm-106 16zm94 4zm-97 8zm95 5zm6 0zm54-6zm-16 15zm7 0zm-169 15zm14-2zm8-5zm13 3zm19 0zm46 6zm-90 8zm31 4zm12-9zm103 0zm-116 15zm43-2zm66 4zm17-5zm27-1zm-166 18zm0-2zm158 3zm-167 11zm40 1zm3-7zm34 0zm48 0zm51-1zm-44 17zm-63 11zm3-4zm24 4zm3-1zm20 1zm-62 9zm1 5zm55 4zm46-3zm-129 5zm9 7zm74-3zm18 3zm7-3zm30-3zm-131 17zm7-3zm29 5zm25 1zm15 12zm0-5zm17 0zm-87 13zm57 11z"/><path stroke="#ffb02d" d="M519 1142zm-37 3zm6 3zm10 2zm3 5zm10-6zm6-2zm8-2zm-52 21zm8-3zm30-1zm4-3zm6 4zm0-3zm24 2zm-76 11zm9-2zm19-2zm38 1zm-67 20zm19-3zm6-5zm34 9zm14-8zm-94 17zm6-4zm19 4zm3-5zm10 7zm44-4zm14 3zm8 1zm-60 11zm16 0zm14 1zm18-6zm-97 10zm3 2zm34 6zm17 2zm13-10zm40 5zm26 5zm-134 5zm49 0zm1 6zm5-2zm44 1zm31-6zm12 8zm-117 5zm28 1zm41 3zm27-1zm-147 8zm13-2zm63 10zm17-10zm1 10zm12-4zm30-5zm15 8zm12-4zm-136 14zm4-1zm9-6zm4 4zm76 5zm2 1zm26-7zm-145 11zm23 7zm1-10zm19 3zm41 8zm18-6zm12-1zm-75 17zm119-1zm1-1zm1 3zm1-10zm-71 22zm26-7zm8 5zm42-7zm-106 18zm20 2zm14-2zm20 4zm42-6zm-145 10zm6-3zm18 6zm5 3zm20-3zm8 1zm20-7zm52 7zm-111 12zm20-5zm7 7zm6 2zm13 0zm0-6zm44-4zm35 5zm-139 14zm42-7zm37 8zm0-7zm12 0zm4 9zm-27 11zm72-9zm15 2zm-136 17zm48 1zm12-3zm32-3zm-110 14zm46 1zm8 0zm81 16zm-108 19zm60 4zm-1 14z"/><path stroke="#2db0ff" d="M468 1160zm39 50zm-72 41zm123 3zm-129 15zm72 22zm47 9zm-108 12zm143-5zm-144 11zm144 3zm-37 20zm31 9zm-56 20zm-32 23zm-54 5zm134 1zm-100 16zm66 2zm-48 8zm15 4zm18 0zm0 0zm-6 11zm16 7z"/><path stroke="#2d7cff" d="M457 1192zm48 3zm-37 26zm21-4zm84 32zm-50 5zm-24 20zm65-6zm-106 17zm14-1zm-28 12zm91 1zm-114 11zm11 0zm60-5zm-42 19zm38-7zm57 9zm46-8zm-113 27zm8-2zm58 29zm21-7zm20 6zm-27 4zm-27 20zm2-6zm5 3zm9-4zm-44 27zm28-4zm5 10zm-26 5zm8 16z"/><path stroke="#7cffb0" d="M531 1144zm-31 8zm-15 15zm31-6zm23 4zm-70 14zm37 0zm-50 7zm34 4zm7-7zm40 3zm-62 18zm3-9zm87 4zm-112 16zm25-4zm17 1zm2-3zm22 1zm39-5zm10 2zm-108 18zm63-2zm6-2zm-86 16zm82-3zm9-2zm30 4zm-93 5zm95 4zm21 1zm-148 8zm57 7zm64-8zm8 1zm-95 17zm39-5zm45-1zm2 8zm-112 6zm18 1zm6-1zm4 9zm16-6zm28 0zm26-2zm43 8zm-149 8zm10-6zm48-1zm20 6zm59 4zm14-4zm0 0zm-186 8zm18 9zm12-10zm63 5zm55 4zm29-10zm4 5zm-126 15zm8-8zm43 7zm38 1zm38-3zm-165 7zm32 6zm37-4zm22 7zm21-1zm20-9zm5 4zm-133 12zm13 3zm14 2zm22-8zm30 3zm13 6zm6-6zm8 5zm-111 10zm118-6zm25 2zm5 3zm8 6zm-141 5zm44-1zm1-2zm33 9zm8-10zm73 0zm-138 14zm71 1zm53 3zm15-2zm-105 10zm25 9zm2-1zm-63 10zm76 0zm4 3zm-53 12zm8-4zm17-4zm17 6zm1-2zm22-2zm-38 12zm11 2zm23-3zm-67 16zm39 0zm-22 9z"/><path stroke="#2de4ff" d="M465 1151zm31 1zm-17 16zm41-2zm19-6zm-84 19zm29-7zm5 2zm-33 17zm2-2zm31-7zm45 9zm23-4zm-96 23zm25 6zm-30 10zm85-5zm-90 22zm-17 25zm80 6zm34 0zm18-1zm14-3zm-141 12zm47-3zm71 8zm-43 7zm44 0zm-95 13zm30 2zm12 3zm24-2zm32-4zm28 5zm-133 2zm1 5zm5 0zm58-1zm48 1zm11-2zm2 1zm-118 16zm57-6zm69 7zm1-9zm3 2zm-177 10zm11 2zm4 3zm49-5zm85 7zm-149 11zm111-1zm20-3zm6-1zm31 7zm-83 14zm28 1zm14-10zm14 9zm-67 5zm35 8zm56-4zm-121 16zm35-4zm14 2zm34 2zm-33 5zm18 1zm16-2zm29 6zm-118 12zm26-2zm22-3zm3-2zm4 4zm43 4zm-103 4zm74 9zm21-9zm3 3zm-30 14zm15-5zm-4 10z"/><path stroke="#2d2de4" d="M504 1143zm34 37zm-14 2zm20 0zm-43 25zm18 0zm42 52zm-120 28zm51-6zm-50 10zm4 3zm-28 9zm9 0zm93 8zm-113 8zm4 1zm57-2zm21 4zm43-6zm-118 13zm56 7zm89-4zm20-6zm-125 21zm6-1zm45 1zm71 1zm16-5zm-166 11zm32-5zm9 2zm41 3zm10 6zm69-1zm8-10zm1 5zm2 4zm-166 6zm148 7zm-120 5zm7 4zm83-2zm-105 9zm78 0zm12 2zm-95 15zm75-7zm10 10zm25-5zm-47 13zm-13 7zm33 23z"/><path stroke="#b0ff7c" d="M478 1152zm5 1zm45-1zm-52 9zm2-4zm25 3zm1 4zm35-1zm-11 7zm28 3zm-92 9zm40 4zm7-3zm-44 16zm10-3zm3 6zm34 0zm16 0zm13-7zm-33 11zm2 6zm26 3zm-93 3zm11 4zm42 5zm2-7zm-47 19zm58-8zm12 9zm39-7zm-118 14zm56 4zm-65 3zm33 5zm38-4zm6 3zm25 4zm32-9zm7 11zm0-7zm-134 10zm8 9zm13-3zm18-4zm43-4zm1 0zm-82 13zm34 9zm9-5zm1-4zm7 3zm19-4zm22 2zm18 0zm-138 20zm10-5zm23 3zm34-5zm48 8zm0-3zm8 1zm36 1zm-153 2zm58 0zm66 9zm37-8zm4 2zm4 6zm-145 13zm0-3zm46 1zm4-7zm11 5zm8 2zm12 3zm20-9zm-111 19zm3 1zm9 1zm12-9zm8 5zm26-4zm12 7zm32-11zm52 4zm10 0zm-144 16zm0 1zm14-3zm18-1zm13-3zm63 1zm-132 11zm113 3zm44 0zm-139 15zm7-3zm8-4zm4 1zm14 2zm34 6zm19 2zm23-3zm8 2zm1-6zm12-3zm-136 21zm1-1zm31-3zm19 4zm11-2zm5 0zm61-8zm2 6zm10-7zm-84 21zm4 1zm16 2zm1-8zm11-1zm27 1zm6 1zm16-5zm-17 22zm-120 11zm21-1zm13-1zm14-4zm27 7zm20-1zm21-3zm0-1zm-63 9zm18 0zm5 8zm-14 12zm2-1zm-24 4z"/><path stroke="#b02d2d" d="M507 1178zm-32 12zm15 5zm46-1zm8 11zm-48 19zm43-4zm12-3zm-112 45zm95 10zm-97 6zm20 16zm13 18zm71-10zm20 6zm-109 6zm32 3zm52 0zm-95 7zm42 5zm3 3zm83 12zm-49 16zm47-11zm-66 131z"/><path stroke="#7cffb0" d="M477 1151zm31-4zm2 7zm7 7zm3 18zm36-10zm2 9zm-106 3zm48 8zm10-2zm-64 7zm11 5zm33-1zm-10 9zm78 3zm-109 10zm26 5zm52-1zm-96 15zm104-10zm8 2zm3-2zm1 1zm-99 13zm78 1zm7 3zm6-4zm-117 14zm61 3zm23-2zm9-4zm26 10zm31-8zm-97 16zm4 0zm68 0zm-100 7zm59 8zm-81 11zm11-6zm0 4zm43-6zm29 5zm19-4zm15 2zm16 1zm24-3zm-170 21zm5-10zm2 4zm34 3zm3 1zm34-8zm13 6zm47-1zm34 3zm-147 11zm37-6zm14 0zm11 5zm67 0zm-137 14zm1 2zm19-5zm6-6zm36 6zm83-5zm-141 11zm55 6zm0 1zm0 4zm9-7zm15 6zm27-11zm28 8zm25 0zm-117 7zm17-2zm34 7zm30-4zm12 0zm21-2zm0 6zm-166 10zm21 6zm28-9zm1 7zm3-7zm2 7zm85 2zm14-10zm12-1zm-130 14zm23 5zm14-1zm-71 10zm20 6zm18-8zm20 4zm9-1zm7-3zm52 6zm-114 9zm23-5zm31 10zm56-3zm8 3zm21-5zm-112 10zm7 1zm2 2zm28 5zm30-10zm11-1zm-85 13zm45 6zm1 0zm33 8zm1 2zm-21 10z"/><path stroke="#ffe42d" d="M512 1156zm2-9zm3 4zm-54 9zm30-1zm6 6zm32-8zm-38 14zm2 4zm3 4zm2-6zm1-5zm14 7zm3-2zm17 0zm-87 19zm15-11zm13 8zm34-8zm-63 14zm5 7zm48-9zm13 6zm9-4zm20-1zm-99 19zm8-6zm15 7zm0-4zm3-5zm40 6zm24-6zm10 5zm2 2zm-72 9zm50 5zm9-4zm-90 16zm10-6zm37 7zm12-4zm46-1zm18 1zm-139 16zm89-7zm14 5zm41 0zm-153 10zm28 1zm54-2zm1 5zm16 1zm22-2zm-113 14zm6-7zm15 6zm18-2zm47 0zm13-4zm11 3zm18-2zm8-4zm2 5zm-159 12zm50-4zm15 9zm31-1zm14-5zm-90 6zm54 3zm37 9zm28-2zm7-1zm19 0zm-141 15zm8 0zm14-5zm5 4zm11-10zm17 8zm18-4zm10 5zm51-3zm-154 12zm66 3zm2-5zm7 3zm50-7zm-110 13zm41 8zm113-2zm18-3zm-157 10zm11 0zm117-2zm8 9zm7 0zm-151 8zm31 4zm-20 3zm25 6zm-16 8zm104 6zm-67 9zm58-5zm5 2zm6 1zm-103 10zm5 7zm84 2zm29 1zm-115 6zm18 16zm46-6zm42 1zm-59 10z"/><path stroke="#e4ff48" d="M492 1146zm6 1zm6-1zm-38 18zm54-7zm8 4zm10 19zm-56 5zm25 5zm10 0zm10 0zm6-6zm2 6zm-76 4zm1 9zm9-6zm50 6zm19 1zm6-6zm3-4zm-105 15zm12 0zm8-1zm4 4zm1-6zm14 4zm17-3zm14 8zm13-6zm41-4zm-124 16zm19 6zm2-1zm1-2zm7-6zm14 2zm18 8zm4-2zm1-4zm37 2zm13-5zm-60 13zm18 6zm10-8zm15 4zm22-4zm-135 21zm4-4zm88 5zm21-11zm29 6zm-122 7zm3 9zm59-10zm6 5zm2-5zm19 4zm10 4zm12-1zm9-5zm-64 20zm5-5zm-93 9zm9 9zm2-9zm3 9zm14-4zm9-5zm17 7zm17-8zm9 7zm31 1zm8-1zm-129 9zm35 5zm9-6zm23 7zm4-6zm11 2zm8 2zm41-6zm1 5zm35-6zm12 8zm-148 1zm2 5zm11 5zm0-1zm5-3zm3-3zm6 8zm46-3zm18 3zm34-1zm9 2zm19-1zm-186 7zm34-4zm9-1zm23 8zm19-6zm1 1zm12 7zm52 0zm25-6zm-169 13zm7-2zm3 4zm19 1zm18-1zm73-4zm0 1zm6 6zm10-4zm6-3zm1-1zm3 0zm20-2zm-145 20zm23-8zm28 7zm33 2zm9 0zm10-3zm25-3zm4-3zm4 10zm25-1zm-177 13zm9 1zm12-7zm20 7zm9-6zm14-3zm29-1zm43 0zm23-1zm0 10zm20-2zm-128 13zm29-7zm3 5zm33-7zm16 11zm14-3zm21 1zm-155 6zm51 0zm1 8zm12-11zm63 9zm19-1zm11-4zm2-2zm-68 13zm35 8zm-93 3zm32 11zm74 7zm-112 13zm41-4zm52-3zm-41 14zm-7 41z"/><path stroke="#b0ff7c" d="M515 1147zm13 3zm7-4zm-68 28zm10 3zm13-6zm16 9zm15-1zm29 0zm-109 11zm26 1zm31 0zm45-8zm-82 17zm12-2zm29-2zm8 7zm6-4zm17-4zm-87 19zm64-9zm33 7zm-89 8zm9-1zm17 5zm27-8zm46 4zm-98 19zm1-9zm42 4zm9-3zm-72 13zm14-3zm45 4zm5-3zm16-1zm7 8zm12 2zm27 0zm-146 10zm18-2zm6-3zm49 6zm23-5zm6-1zm27 1zm24-1zm4 3zm-112 10zm1 2zm8 5zm16-10zm3 1zm4 1zm17 3zm21 3zm14-7zm2 1zm10 8zm-140 1zm4 3zm27-3zm0 10zm11-3zm9-6zm11-1zm9 8zm43-6zm7 3zm43 1zm-173 16zm52-6zm58 1zm14-4zm43 0zm4 5zm-62 6zm34 4zm4 5zm13-8zm-158 20zm25-6zm29 7zm30-3zm3 1zm10 1zm55-9zm6 1zm6 6zm-165 14zm2-8zm36 4zm15 2zm38-7zm7 11zm0-6zm3 3zm1-4zm31 5zm-130 7zm28 3zm57-1zm3-6zm52 7zm6-7zm25 1zm2 4zm4 3zm-129 4zm25 1zm30 6zm14-1zm7-6zm9 4zm28 6zm-147 11zm1 2zm84-10zm40 9zm10-10zm2 7zm17 2zm7-9zm-95 22zm9 0zm1 0zm23-4zm20-5zm23 6zm12-5zm-151 10zm54 4zm29 6zm39-6zm19 2zm-120 15zm10 0zm101-7zm6-1zm-125 20zm38-5zm27 1zm6 0zm30-1zm-85 12zm93-1zm-52 14zm7-4zm23 10z"/><path stroke="#e4ff48" d="M497 1155zm5 0zm11-6zm17 1zm-41 13zm6-4zm6 1zm39 8zm-80 7zm14 3zm30-4zm1 2zm-32 14zm14 1zm5-7zm16 2zm29 0zm3-2zm1 7zm14-2zm-90 13zm55-2zm2-3zm13 5zm-84 6zm31 2zm3 4zm33-8zm15 1zm-101 20zm4-11zm31 11zm18-7zm8-2zm2 9zm12-9zm18 9zm4-7zm-14 11zm10 3zm0-4zm6 3zm25 6zm0-1zm4-5zm2-1zm-129 13zm56-3zm15 9zm0-7zm1 8zm1-6zm16-2zm25 8zm36 0zm-165 4zm9 7zm9-6zm0-3zm5 4zm1-2zm26 8zm3 0zm19-7zm13-5zm14 1zm7 4zm2 0zm-108 9zm6 6zm8 3zm20 1zm3-10zm10 3zm2 6zm15 0zm24-11zm7 8zm9-2zm7 3zm20-1zm7 3zm17-1zm-171 14zm27-12zm11 9zm16-8zm10 11zm26-7zm9 2zm9-6zm9 1zm44 3zm3 7zm4-9zm11 5zm1-4zm3 4zm-128 5zm2 0zm47 3zm27 4zm1-1zm34-2zm-101 18zm37 1zm14-1zm13-10zm20 3zm18-1zm9 9zm-169 1zm4 10zm18 1zm32-11zm42 8zm17 1zm9-7zm55-2zm11 10zm-182 5zm4-1zm12 4zm77-2zm50 2zm7-2zm16 5zm17-9zm-163 21zm2 0zm98 0zm6-1zm-97 13zm3-5zm54-4zm21 0zm15 2zm39 7zm-126 7zm76 2zm18 2zm15 0zm11-7zm-123 18zm21-7zm8 2zm44 6zm27-7zm21 7zm-49 9zm1 3zm13 3zm28-4zm-106 8zm6-2zm90 1zm-95 17zm4-4zm33 4zm76-1zm-51 17zm13-6zm-37 23z"/><path stroke="#ffe42d" d="M457 1166zm14-3zm49-6zm2 5zm-24 16zm50-9zm-90 23zm11-2zm8-4zm7-2zm12 4zm11-2zm7 3zm11-8zm30 3zm1-2zm-69 16zm8 0zm-61 15zm8 3zm24-3zm1-8zm0 3zm8 2zm31 1zm34-3zm-95 14zm34 3zm9-5zm-11 16zm21 4zm1-4zm18 0zm17-5zm6 8zm4 0zm20-7zm-142 18zm12-7zm59-2zm43 9zm-117 3zm54 3zm13 2zm65 6zm7-11zm-104 19zm32-3zm19 2zm15-5zm1 6zm6 3zm14-9zm3 2zm6 6zm8 0zm12-3zm4 2zm-91 10zm92 4zm4-8zm-153 11zm25 7zm1-8zm3 11zm48-12zm6 2zm5 7zm7 0zm40 2zm-115 11zm85-6zm6 2zm11 3zm8-2zm24-3zm12 1zm-178 9zm52 2zm7 6zm66-7zm3 4zm33 1zm-120 5zm34 3zm5-1zm17 4zm18 3zm28-9zm9 5zm7 0zm-134 12zm36 1zm10 0zm-64 17zm2-9zm6-1zm11 3zm34 4zm49-7zm43 0zm8 7zm16-6zm-104 20zm5-10zm5 6zm91-5zm-113 13zm31 3zm46 1zm13-1zm-108 11zm13 7zm22-7zm43 12zm-87 9zm19 8zm58-7zm15 2zm-66 18zm72 2zm-30 19z"/><path stroke="#ff7c2d" d="M515 1145zm15 5zm-25 17zm7-6zm22-4zm-71 17zm4 5zm39 1zm14-11zm3 7zm17-7zm2 3zm-64 18zm33-3zm6-6zm25 9zm-41 14zm1-1zm37-5zm11 3zm20 0zm-58 6zm2 4zm10-6zm-61 15zm38 6zm4 2zm4 0zm17-7zm4 4zm14-8zm10 10zm1 0zm-113 8zm50 4zm24 1zm33-8zm-61 17zm15-4zm14 3zm21-7zm43 6zm-152 12zm66 1zm15-3zm4 3zm24-7zm1 7zm8 2zm14-9zm18 10zm-125 7zm65 3zm48 3zm-111 0zm1 2zm20 9zm2-8zm65 9zm9-11zm-112 14zm26 8zm43-8zm15 4zm-16 9zm2 5zm16-7zm2-1zm57 8zm-181 6zm23-1zm18 5zm83-4zm62 3zm-96 13zm13-1zm0 7zm19 11zm27 0zm-127 11zm63-9zm8 4zm31 5zm53-4zm12 5zm-102 11zm47-3zm44-5zm11 9zm-49 9zm46-5zm-131 21zm5 8zm21 2zm66-7zm-66 16zm-33 13zm1-1zm13 3zm17-9z"/><path stroke="#ff7c2d" d="M483 1151zm12 0zm15-6zm8-1zm12 10zm-44 14zm4-9zm22 7zm-30 13zm32-4zm0-6zm21 5zm1 4zm20-1zm-75 14zm17-7zm15 1zm9 6zm6-10zm31 10zm-104 11zm4-7zm38 7zm12 1zm14-1zm14-4zm13 4zm-119 10zm26-5zm22 7zm2-1zm1-7zm39 10zm20-11zm21 1zm-115 13zm36 4zm13-2zm3-2zm10-1zm29-1zm-74 23zm21-8zm49 8zm1-6zm5 3zm16 0zm9 0zm-132 8zm58 6zm27-2zm4-1zm10-5zm6 8zm-52 13zm18-3zm13-2zm25 5zm-115 4zm58 6zm27-3zm14 3zm17-8zm0 8zm-113 6zm40 7zm35-7zm7-3zm3 1zm24 8zm4-6zm18 4zm14-6zm-148 16zm59 5zm26-6zm16-2zm4 4zm14 5zm7-5zm7-3zm-127 18zm90-9zm20 10zm4-6zm31 3zm7 1zm-174 11zm130-8zm21 12zm7-1zm-132 2zm35 8zm41-2zm11 4zm14-6zm4 0zm-29 14zm16-1zm-61 12zm26 2zm25-1zm-65 7zm15 1zm118 1zm-162 15zm106-5zm18 1zm-95 21zm109-3zm5 10z"/><path stroke="#e4ff48" d="M518 1148zm-43 11zm23-2zm37 5zm-70 10zm2 0zm20 6zm20-5zm16 4zm-61 10zm8-2zm3 5zm44 1zm15-6zm5 4zm4-6zm6 4zm3 0zm2 1zm5-7zm-103 13zm21 9zm27-7zm13 0zm7 0zm19-1zm-71 21zm9-11zm19 4zm1 4zm3 3zm5-5zm15 5zm24-5zm1-1zm8 1zm-120 7zm14 6zm14 1zm35-4zm6-1zm25 1zm16-1zm24 5zm7 2zm-127 2zm40 4zm18 6zm9-6zm20 6zm2-4zm14 1zm1-2zm28 6zm-150 12zm19-7zm27-2zm18 4zm2 5zm17-6zm6 0zm36 3zm8-7zm6 1zm0 9zm-119 2zm1 4zm35 0zm2-4zm12 1zm29 4zm-108 12zm39 1zm4 2zm65-10zm6 3zm2 8zm-136 9zm23 1zm1 1zm5-7zm55 7zm6-3zm9 4zm87-4zm-148 16zm30-8zm21 3zm14 4zm6-1zm6-8zm20 5zm-122 10zm6 8zm35-7zm9 3zm2-3zm9 7zm28-6zm8 5zm1-8zm4-2zm9 2zm31-1zm11 3zm20 4zm-130 13zm13 2zm7-11zm27 10zm44-5zm13 0zm9-5zm11 7zm-172 7zm16 3zm17 4zm3-6zm50 3zm15-1zm2-1zm20 2zm42 0zm15-5zm3 6zm-186 10zm96-4zm54 1zm20 9zm-160 7zm13-3zm23-4zm68 2zm33 2zm1-2zm7 4zm1-3zm11-1zm-128 18zm36-2zm111-4zm-139 16zm95 4zm4-5zm16-4zm17 1zm-149 17zm6 5zm11 0zm4-10zm45 7zm78-8zm-121 14zm23-1zm23 4zm33-1zm26-4zm15 11zm4-9zm-126 15zm15 0zm41-4zm51 4zm-113 7zm33 5zm4-3zm8 6zm46-8zm5 2zm-26 17zm23-4zm-46 46z"/><path stroke="#b0ff7c" d="M484 1156zm15 7zm18-3zm14 5zm-55 14zm59-7zm6 6zm-64 12zm4-6zm13-2zm1 7zm39 1zm1 2zm-73 8zm7-5zm49 9zm15-11zm9 4zm-37 15zm8 3zm47-7zm8 7zm-78 6zm28 4zm12-7zm44 9zm-87 8zm6-2zm6 5zm7-8zm-18 15zm2 4zm16 3zm11-11zm13 2zm5 9zm-113 7zm144-4zm-149 19zm45-3zm9-3zm15 0zm17 1zm-51 13zm15 6zm19-5zm59-1zm18-4zm24 8zm-175 7zm15-3zm7 3zm23 2zm2 3zm46-4zm14 3zm1 2zm19-10zm11 11zm31-8zm1 5zm3 2zm6-8zm-169 13zm59 6zm23-3zm2 5zm6-6zm21-1zm17 1zm31 3zm1-6zm-174 9zm4 1zm5 5zm108 6zm25-2zm25-2zm11 1zm-156 11zm67 1zm29-1zm3-7zm32 7zm14 4zm-130 3zm72 3zm4 0zm22 3zm15-2zm4-1zm19 2zm-135 6zm10 8zm12 1zm41-2zm14-1zm31-2zm0 0zm41-5zm-145 13zm2 4zm12 5zm6-7zm55 5zm27 3zm27-5zm-155 12zm40-4zm19 7zm33-8zm11 10zm5-3zm7-3zm32 1zm3-6zm-130 19zm8 1zm7 3zm17-1zm11-5zm-1 16zm74-4zm-78 15zm63 3zm11-6zm-56 9zm41 4zm-40 17zm12-11zm9 0zm-23 48z"/><path stroke="#7cffb0" d="M499 1150zm-27 19zm-26 15zm18 4zm17 4zm53-6zm-68 16zm6-3zm23-3zm34 5zm-57 10zm33-4zm19 4zm7 2zm-75 6zm74 5zm-42 11zm24-6zm44 6zm-124 9zm109-1zm28-1zm6 8zm-143 6zm11 3zm1-1zm74-3zm9 8zm8-7zm24-4zm-116 21zm17-2zm67-5zm17-1zm0 0zm7 7zm11 3zm6-8zm-134 13zm48 6zm25-9zm19 11zm25-6zm-134 8zm18 9zm3-5zm66-4zm12 5zm-64 17zm1-11zm5 4zm7-1zm19-3zm51 10zm29-9zm-140 16zm13 6zm8-11zm16 4zm19 3zm10 3zm32-10zm8 4zm31-3zm30 7zm-150 12zm32-7zm25 5zm41 0zm0 1zm5-1zm32 2zm-155 11zm11-5zm7 2zm3-5zm13 12zm4 0zm4-9zm3 8zm75-5zm28 5zm16-2zm-133 3zm21 4zm12 0zm15 1zm9 4zm7-5zm39-3zm1 5zm10-4zm30 7zm-182 10zm13-5zm55 5zm16 4zm7-10zm22 1zm59 10zm-165 5zm12 6zm5-5zm35 1zm27 5zm80-8zm0-1zm-83 15zm18-1zm14 5zm18-4zm3 5zm7-9zm27 7zm-93 5zm49 5zm-98 7zm42 3zm5 12zm11-2zm14-2zm1 4zm14 1zm18 1zm-72 9zm17 8zm10 6z"/><path stroke="#e4ff48" d="M503 1145zm7 1zm21 1zm-66 13zm23-1zm11 8zm6 0zm13-8zm2-2zm10 5zm12-4zm-73 20zm52 0zm-64 12zm31-2zm1-3zm5 3zm25-5zm24 3zm-48 15zm26-4zm9 1zm38 2zm-123 10zm9-4zm15 7zm29-5zm30-3zm19 7zm2 1zm4-8zm-110 15zm19-2zm46 5zm63-4zm-131 17zm6-1zm41-3zm3 8zm0-8zm7-2zm10-1zm35 7zm14-1zm-107 14zm53-6zm20 5zm6 3zm4-1zm46-6zm-118 12zm31 8zm4-8zm74 3zm4 5zm-119 7zm0 5zm80-1zm-91 7zm2-3zm29 3zm37 4zm8-2zm13 3zm16 1zm6-8zm16 7zm-120 3zm0 0zm5 9zm21 1zm7-3zm19-2zm24-6zm15 1zm6 2zm5-1zm32-1zm-137 22zm17-9zm7 3zm27-4zm17 9zm8-1zm57-1zm-175 12zm6 0zm25-8zm9 0zm16 7zm3 0zm54 3zm1-7zm13 7zm50 0zm13-6zm-177 19zm35-11zm16 4zm17 2zm52 4zm11 1zm7-6zm9-1zm24-4zm13 7zm-182 14zm30-9zm12 1zm0 8zm10-4zm4 5zm15-5zm33-4zm4 9zm1-7zm13 2zm26-4zm5 9zm-139 4zm24 0zm23 9zm8-9zm23 1zm3 7zm13-4zm12-5zm33 3zm17-3zm-138 22zm29-11zm42 7zm5 1zm18 2zm8-5zm19-2zm-103 15zm7-4zm21 4zm10-7zm11 4zm19-2zm-109 20zm8-7zm26 0zm32 3zm17 4zm10-2zm1-3zm60-3zm-146 20zm69 1zm9-10zm15 7zm25-4zm15 2zm-119 17zm13-5zm10 3zm3-6zm40-1zm3 4zm51-3zm-123 10zm88 9zm-42 9zm3-5zm27 6zm-40 8zm43-2zm1 2z"/><path stroke="#2db0ff" d="M549 1156zm-18 26zm-75 20zm49-8zm40 1zm-103 21zm8-4zm15 58zm106-4zm-113 34zm49 8zm7-7zm-65 21zm6-5zm106 0zm1 0zm-130 10zm128 7zm-66 14zm51-2zm-104 13zm81-4zm10-5zm-65 20zm-26 6zm15 6zm14 7zm-10 13zm63 0zm-66 13zm58 3zm51-9zm-71 23zm13 8zm-8 7z"/></g></g><polygon fill="none" stroke="#8a8aff" stroke-width="1.3" stroke-linejoin="round" points="200.3,633.1 266.9,726.9 261.7,738.1 221.9,719.1 197.7,664.6"/><rect x="317.4" y="557.2" width="3.3" height="198.8" fill="url(#jet)" stroke="#8a8a9a" stroke-width="0.4"/><text x="283.8" y="581.3" font-size="7.0" fill="#111">CD56 dim</text><text x="195.2" y="734.5" font-size="7.0" fill="#111">CD56 bright</text><text x="321.2" y="559.7" font-size="3.5" fill="#555">0.8</text><text x="321.2" y="608.9" font-size="3.5" fill="#555">0.5</text><text x="321.2" y="658.1" font-size="3.5" fill="#555">0.2</text><text x="321.2" y="707.3" font-size="3.5" fill="#555">-0.1</text><text x="321.2" y="756.5" font-size="3.5" fill="#555">-0.4</text><text x="406.2" y="548.6" font-size="11" fill="#111">Day 100</text><path d="M507.8 557.2V756.7" stroke="#ececec" stroke-width="1"/><path d="M366.3 557.2H494.7M366.3 557.2V756.2H494.7" stroke="#a9a9a9" stroke-width="1.5" fill="none"/><defs><linearGradient id="cg366" x1="0" y1="0" x2="0" y2="1"><stop offset="0.2" stop-color="#f0b890"/><stop offset="0.85" stop-color="#b8d0c0"/></linearGradient></defs><g filter="url(#fu)"><polygon fill="url(#cg366)" fill-opacity="0.45" points="426.1,575.0 434.9,573.7 445.0,576.2 452.5,581.5 456.1,588.1 457.1,598.5 460.5,606.3 462.8,613.9 466.4,618.8 467.3,626.2 464.6,631.1 463.0,636.0 468.3,643.0 472.4,652.8 475.4,662.7 474.5,675.3 472.3,685.5 468.7,695.8 462.6,703.6 455.1,711.4 445.0,719.2 440.0,724.5 432.3,724.5 424.7,720.5 412.1,711.4 402.1,701.0 394.8,688.1 390.2,672.9 387.9,660.4 386.9,643.1 388.1,630.7 389.2,625.8 394.5,623.4 398.2,618.6 396.5,608.4 399.9,598.2 404.8,587.9 412.2,580.2 419.7,576.3"/><polygon fill="#fff" points="405.8,614.2 413.9,611.9 419.7,617.7 418.5,629.2 413.9,636.2 408.1,633.9 403.5,629.2"/><polygon fill="#fff" points="447.4,617.7 453.1,616.5 456.6,622.3 454.3,629.2 449.7,629.2"/><polygon fill="#fff" fill-opacity="0.6" points="375.3,633.2 396.3,662.2 416.3,697.2 426.3,722.2 396.3,717.2 375.3,664.2"/></g><g filter="url(#fb)"><g transform="scale(0.5)" fill="none" stroke-linecap="round" stroke-width="3.40"><path stroke="#2d7cff" d="M888 1160zm-38 33zm17 45zm8-4zm-16 27zm13 14zm58 14zm-174 17zm19 1zm111-1zm-123 9zm25 15zm105-5zm-90 12zm105 2zm31 5zm-137 6zm8 8zm57 1zm51-10zm-50 18zm4 1zm56-3zm-53 25zm-51 12zm34-5zm58 9zm2-6zm-96 8zm35 29z"/><path stroke="#e4ff48" d="M842 1155zm32-4zm-7 14zm14 1zm3-1zm5 0zm-70 8zm54 4zm3-2zm-46 13zm11 0zm27-5zm21 4zm1 0zm20-2zm-111 14zm13-1zm42-4zm17 3zm40 1zm3-2zm4 5zm4-2zm-74 8zm7 6zm40-3zm10 2zm1-2zm-79 10zm10 1zm23 1zm24-3zm4 7zm18-7zm10 3zm0 5zm-114 13zm65-5zm20 0zm41 2zm-133 12zm62 3zm22-11zm53 6zm-152 6zm8 0zm60 2zm6 7zm-47 11zm1-3zm3 1zm25-2zm44 2zm2 2zm7-7zm28 2zm13 0zm-152 19zm26-3zm58-3zm21 0zm6 2zm5-2zm26-4zm-134 19zm22-6zm3 0zm21-1zm23 9zm6-1zm23 3zm18-10zm15 10zm7-2zm-162 3zm46 9zm60-6zm13 6zm56-2zm0-7zm-138 23zm26-8zm9 8zm13-9zm74 0zm-113 14zm70-3zm48 4zm8-5zm-153 22zm23-7zm3 5zm2 0zm20-7zm7 5zm32 2zm15-2zm24-3zm36 8zm-173 11zm12-5zm49-4zm4 6zm37-3zm20-2zm14 1zm-125 16zm36-3zm21 0zm6-2zm12 7zm4-1zm1-6zm24 6zm2 1zm2 2zm39-1zm-55 5zm23 6zm31-7zm-92 12zm69 9zm5-3zm-84 4zm80 4zm-74 8zm26 0zm8 3zm31 1zm19 16zm-46 13zm17-4zm-30 7z"/><path stroke="#ffe42d" d="M837 1153zm33 1zm18 2zm-62 9zm39-4zm27-4zm-39 22zm22 0zm1-3zm1-3zm12 6zm-67 2zm35 6zm28 5zm-54 11zm3-9zm72 7zm6 3zm17-1zm-126 5zm58 7zm22-9zm18 5zm-87 13zm21-1zm32 1zm6 1zm40-1zm16 4zm-125 2zm0 0zm4 0zm22 6zm10-7zm21 6zm25-4zm34 8zm1-4zm-125 9zm6 8zm6-2zm34-10zm36 3zm15-2zm36 0zm-30 20zm22-5zm2 5zm-126 11zm46-2zm79 3zm-141 8zm31 2zm2-1zm7-1zm19 6zm1-3zm40-6zm52 6zm-137 15zm21-8zm3 2zm20-1zm2-2zm0 8zm5-8zm-63 22zm19-1zm11-4zm26-5zm8 5zm24-6zm22 2zm14 8zm27-3zm-175 12zm7-4zm77 6zm9-7zm35 4zm14 0zm13-5zm-154 11zm112 11zm8-3zm-98 6zm77 5zm22-6zm13 1zm1 1zm-68 16zm65-2zm4 6zm10-5zm-82 11zm29-1zm8-3zm12 6zm39 0zm10-7zm-87 19zm30-5zm56 8zm-107 2zm12 8zm1 3zm5-10zm2 1zm15 3zm3 5zm72 1zm-141 3zm24 7zm37-3zm36-4zm32 0zm-114 17zm63-2zm-12 26z"/><path stroke="#ff7c2d" d="M840 1155zm-6 3zm20-1zm3 5zm1 2zm19 0zm-31 11zm3 4zm33-11zm-77 16zm7 7zm32-3zm4-5zm13 0zm19 9zm9-4zm-77 12zm0-4zm5-4zm5 4zm18 5zm2-6zm7 9zm2-5zm19-4zm9 2zm6-3zm4 7zm3-3zm28-2zm-127 10zm18 7zm14-4zm10-1zm1 3zm45 2zm9 0zm8-1zm3-7zm0 8zm-82 12zm4-7zm13 8zm1-4zm19 2zm3 4zm12-8zm21 2zm10 4zm15-3zm-119 11zm27 0zm24 4zm14-4zm8 4zm3 2zm24-8zm3-1zm11 1zm23-1zm-130 15zm44 0zm26-4zm4 5zm13-3zm22-2zm15 4zm7 2zm2-1zm-158 7zm82 3zm27 7zm3-6zm21 0zm10-5zm7 3zm-160 17zm10-3zm10-5zm14 8zm7 2zm3-5zm43-1zm21 5zm31-1zm-118 14zm24 1zm1-5zm12-4zm11-1zm14 1zm20 5zm17 0zm7 3zm10-4zm6-1zm11 4zm-151 14zm20-5zm14-3zm6-1zm19 5zm4 4zm22-4zm21-5zm7 5zm3-2zm40 1zm4-6zm4 1zm-162 17zm0 2zm18 3zm32-5zm14 2zm26-8zm19 1zm10 1zm14 6zm-120 8zm25 3zm1-5zm2-1zm17 3zm16 3zm24 2zm4-7zm17 2zm12 6zm3-1zm23-5zm2-2zm7 3zm-147 8zm16 1zm6 4zm18 3zm19-7zm58 4zm-147 11zm36-3zm10 0zm12 3zm2 2zm25-3zm15 4zm3 1zm54-6zm-111 17zm1-8zm22 11zm28-10zm8-1zm19 8zm-60 15zm33-4zm15-3zm29 7zm7 0zm11-3zm5-4zm8 7zm-138 11zm100-7zm6 18zm12-6zm-121 14zm16 6zm23-7zm4 2zm19-6zm30 1zm-78 16zm61 28zm-6 12z"/><path stroke="#2d2de4" d="M836 1173zm-33 26zm47 4zm45 24zm17 28zm-79 14zm78 3zm-128 7zm118 3zm-6 33zm-132 9zm1 5zm126-1zm-77 13zm12-3zm54 2zm40-1zm18-1zm-148 18zm20-2zm27 2zm-43 8zm41 2zm82 5zm12-1zm16-3zm-132 11zm5 5zm43 1zm61-4zm-98 6zm61 5zm-20 16zm16-5zm17 5zm22-6zm-124 9zm100 0zm10-2zm-37 18zm24 8zm-14 11z"/><path stroke="#e42d2d" d="M853 1146zm31 3zm-46 16zm10 0zm43-5zm4 8zm-68 4zm14 3zm6 0zm12-4zm8 1zm-47 11zm56 2zm2-1zm15 5zm11-2zm-109 14zm39-3zm9 0zm7 4zm11-3zm17-4zm15-2zm-104 16zm4-1zm0 2zm45-2zm15 1zm7 3zm-68 12zm51-4zm13 8zm10-7zm40 1zm30 3zm-92 15zm14-4zm14 1zm0-5zm-54 12zm52 0zm4 6zm46-9zm-132 22zm8-8zm92 6zm29-1zm7-6zm3 2zm-149 14zm126-5zm-119 23zm36-4zm11-2zm69 1zm6 3zm4 1zm0-7zm7 0zm-137 11zm2-2zm18 8zm23-2zm8 1zm8-3zm24 7zm2 0zm27-3zm53-1zm1-6zm-37 14zm-140 12zm49 3zm12-5zm17 6zm12-4zm10 8zm5-5zm19-4zm17 5zm31 3zm-141 6zm35-1zm13 1zm69-3zm12 7zm-2 11zm-127 11zm17 3zm16-4zm28 4zm71-7zm-137 12zm98 6zm-50 17zm25 9zm35-5zm18-1zm-83 19zm36-11zm6 11zm-81 6zm93-3zm-77 11zm54 9zm1-8z"/><path stroke="#2d7cff" d="M826 1171zm67 8zm-21 17zm19 25zm-71 66zm86 29zm20 12zm1 1zm-117 20zm74 6zm-51 12zm-3 25zm8 24zm5-6zm13 1zm27 18z"/><path stroke="#ff7c2d" d="M858 1142zm3 12zm1-1zm8-2zm26 0zm-63 14zm2 1zm68-7zm-94 12zm42-3zm11 12zm-53 10zm55-9zm5 9zm7-1zm8-4zm12 5zm6-3zm-65 6zm20 7zm12-4zm18 5zm6-4zm0 1zm22 6zm1-2zm-91 4zm10-1zm5 1zm11 2zm2 3zm17 3zm4 1zm15 1zm24-3zm-104 10zm22 1zm38-1zm8-6zm7 9zm5 0zm7 1zm-109 12zm6-2zm3-4zm32 6zm30-6zm8 6zm16-5zm1-4zm35 1zm-133 16zm12-5zm57 8zm19 1zm6-2zm43-7zm-128 20zm62-6zm-7 13zm18 6zm5-2zm1-6zm19 0zm20-1zm11-1zm8 0zm-110 21zm2-4zm22-3zm25 6zm7-5zm4 3zm10 0zm-103 6zm1 0zm2 6zm13 1zm24-1zm6-4zm0 3zm5-1zm6 3zm18 3zm9-1zm7 1zm9-8zm40-1zm9 8zm3-7zm-150 11zm7 1zm3 8zm37-5zm9 3zm1-8zm17 9zm19-4zm10-3zm12 4zm16 4zm18-2zm-174 12zm11 2zm59-2zm4 1zm7-3zm3-2zm5 6zm10 0zm24 0zm12-9zm1 3zm26 5zm-169 11zm29 3zm49-11zm26 7zm45-1zm5 1zm28 2zm5-2zm5-2zm-179 9zm21 3zm10-5zm24 4zm11-1zm36 1zm6 3zm5-6zm15 1zm5 2zm12 6zm12 1zm6 0zm14-4zm4 2zm-151 13zm0-6zm29 6zm82 7zm19-2zm-157 12zm1 2zm3 4zm42-5zm47 2zm34 5zm12-9zm34 2zm-165 12zm83-3zm-33 15zm28-2zm12 12zm33 0zm7 1zm-114 10zm22 1z"/><path stroke="#b0ff7c" d="M854 1146zm-5 17zm0 4zm13-9zm24 10zm26-1zm-105 10zm32-2zm31-4zm-36 10zm9 8zm0 12zm30-4zm46-2zm-98 10zm3 7zm91-4zm-81 14zm5 6zm3-8zm41 1zm20-3zm24 8zm-127 14zm56-2zm60-3zm1 2zm1-6zm-132 18zm49-3zm16-5zm0 8zm36-1zm26 4zm14-5zm17 0zm-140 17zm21-2zm27 0zm23-3zm-81 13zm39 0zm54-7zm-122 23zm28-10zm37 10zm45-4zm-103 15zm5 1zm142-12zm29 7zm-103 8zm55 3zm6 6zm-71 7zm23 1zm8-1zm20-4zm1 2zm35-3zm18 6zm4-7zm-87 22zm-35 4zm13 5zm23 2zm64-9zm5 9zm7-7zm4 7zm-122 10zm1-1zm27 5zm6-5zm5 4zm15 0zm51-3zm20-3zm-160 17zm38-3zm6-6zm115 0zm-116 16zm3-2zm47 0zm-74 15zm33 2zm32 1zm15 2zm-46 3zm5-1zm6 0zm18 4zm27 3zm14-7zm19 7zm-93 14zm34-4zm11-4zm26 5zm-89 15zm74-7zm-44 16zm22-4zm18 0zm-9 18zm6-1zm-25 31z"/><path stroke="#ffe42d" d="M884 1159zm10 12zm-95 21zm99-9zm-76 16zm47 1zm7-6zm2 10zm14-11zm-46 23zm7-8zm6 6zm22-9zm21 8zm7 1zm-74 3zm4 5zm26-3zm15 19zm19-7zm16 4zm-136 12zm4-1zm70 1zm37 4zm23-10zm5 3zm1 8zm10-8zm-143 20zm16-7zm32 2zm7-3zm11 6zm1-7zm51 5zm7 2zm-141 8zm18 6zm26-8zm38 6zm18-3zm19 3zm4-3zm25 2zm3 0zm-148 4zm78 11zm2-5zm9-6zm-57 14zm58 1zm31-1zm23 0zm10-1zm1-1zm12 8zm-136 10zm6-1zm103 0zm6 3zm9 3zm22-3zm-121 5zm27 4zm22 4zm5 0zm2-8zm36-1zm-114 17zm17 3zm5-5zm16 3zm16-7zm62 3zm-140 17zm11 3zm65-7zm14-2zm15 1zm5-1zm50 1zm-161 11zm3 6zm31-4zm42 0zm-81 19zm15-6zm47 1zm69 4zm12 2zm22-7zm-150 8zm33 6zm27 1zm-16 5zm44 4zm23-3zm2 7zm36-3zm-151 11zm107 3zm17-2zm-91 8zm39 1zm3-1zm5 10zm1 4zm-17 13zm12 14z"/><path stroke="#b02d2d" d="M843 1149zm22 14zm44 4zm-76 2zm-28 22zm10-7zm35 6zm45-2zm12 13zm-74 4zm4 8zm29-7zm11 3zm-73 11zm10 2zm32-3zm20 1zm24 4zm28-1zm-39 15zm11-4zm7 3zm20 2zm-133 11zm17-1zm43 3zm26-1zm31-7zm-18 14zm-73 15zm55-5zm41-4zm-72 16zm34 7zm34-6zm26-4zm-87 14zm3 2zm11 14zm58 1zm26 2zm-147 11zm36-4zm25 7zm33-11zm50 4zm-32 8zm-68 14zm29 6zm-25 14zm51-4zm-47 16zm-40 9zm34 5zm53 3zm-66 23z"/><path stroke="#e42d2d" d="M847 1166zm1-9zm3 8zm46-6zm-33 12zm2 1zm33-3zm5 0zm-87 19zm26 2zm11 2zm17 0zm21-1zm6 1zm6-11zm-104 16zm9 5zm13-1zm13-7zm2 9zm82-1zm-113 4zm38 5zm2 1zm24-4zm26 7zm18-10zm-112 17zm20-1zm0 2zm5-7zm13 6zm18 1zm13 1zm30 1zm-102 13zm133-6zm-123 14zm84-1zm32 2zm-147 11zm17 6zm8-5zm32-5zm32 8zm15 2zm35-8zm11-3zm9 9zm-39 11zm27 1zm-141 13zm26-8zm9 9zm13-10zm12 7zm17-8zm3 4zm9-4zm11 2zm18 0zm8 1zm3 0zm4 3zm14 0zm3 1zm-116 6zm5-1zm16 2zm19 3zm38 1zm9 2zm28-2zm4 1zm-123 15zm49-10zm8 5zm0 5zm9 1zm17-7zm10 4zm18-3zm12 4zm-161 6zm27 3zm5 5zm29-11zm7 10zm99-3zm1 12zm6-5zm-166 14zm27-2zm66-1zm14 7zm3 0zm2-5zm2 4zm19 3zm6-9zm13 4zm-148 7zm42 9zm12-2zm21 1zm11 1zm28-4zm-105 8zm9 4zm25-1zm12 4zm15-2zm-75 13zm62 2zm0-9zm15 0zm-21 19zm-23 6zm63 25z"/><path stroke="#2db0ff" d="M842 1202zm18-6zm-36 13zm74 3zm-15 13zm-90 47zm29 2zm-19 31zm36 4zm31 3zm34 11zm19-1zm-93 16zm11 3zm0 15zm0 2zm4-7zm45 6zm-73 6zm0 3zm102 12zm18-3zm-80 19zm-26 22z"/><path stroke="#2de4ff" d="M838 1150zm45 17zm-49 4zm53 4zm16 19zm-106 25zm11 1zm92 0zm38 23zm-121 33zm20 4zm36-1zm-101 20zm27-5zm122-3zm-49 11zm29-1zm-123 18zm24-3zm52 3zm44 1zm23-7zm-160 20zm45-2zm30 5zm67-10zm20 3zm-126 10zm12-2zm68 6zm3 5zm51-9zm2 8zm7 10zm5-8zm-162 19zm33 3zm48-2zm-37 10zm102 5zm-119 10zm50 2zm-33 8zm1-5zm10 2zm18 3zm-40 5zm88 8zm4 9zm-31 33z"/><path stroke="#b0ff7c" d="M851 1151zm-19 14zm35 0zm37-1zm7 0zm-4 7zm-101 17zm29 4zm34-1zm32-9zm4 6zm-70 15zm23-4zm42-6zm-31 16zm2 7zm16-3zm-79 15zm10-3zm4-7zm5-1zm23 5zm44-2zm5 4zm24-1zm3 3zm-138 14zm56-8zm4 5zm42 2zm29-9zm6 6zm14 2zm-144 17zm42-2zm-21 21zm-7 3zm10 8zm21-6zm14-1zm79 3zm-171 19zm26-1zm12 2zm1 7zm5 3zm4-10zm31 2zm17 0zm2 4zm3 5zm52-11zm-110 15zm9 0zm36 1zm2 6zm8 0zm25-3zm2 15zm7-9zm25 1zm19 2zm14 3zm-146 12zm5 3zm38-4zm35-4zm3 8zm4 0zm36-3zm4-2zm13 6zm0-6zm-140 9zm39 5zm20 1zm0-2zm18 1zm13-6zm25 5zm-84 9zm56 8zm44-11zm0 6zm-152 16zm28-2zm19 0zm12-8zm47 2zm-92 11zm17 7zm14-6zm12 8zm15 0zm3 0zm-56 11zm1-9zm37 8zm27-7zm1 3zm28 6zm12-6zm-108 13zm56 1zm39-1zm12-5zm-56 17zm8-3zm10 0zm14 5zm-50 6zm24 9zm14 0zm-3 5zm-13 34z"/><path stroke="#2d48ff" d="M828 1164zm54 7zm32 1zm-66 18zm32 18zm34 19zm-75 21zm25 0zm23 3zm-72 17zm89 6zm22 0zm-97 3zm48 12zm-105 28zm68 2zm-23 13zm90 0zm31 2zm-170 4zm61 3zm-25 13zm82-4zm20 4zm14 3zm9 2zm14-10zm-116 12zm7 10zm65-8zm36 3zm-138 8zm74 2zm-27 9zm59 4zm4 3zm2-3zm7 3zm-84 14zm41-6zm23-1zm36 1zm-83 29zm55 8z"/><path stroke="#2d2de4" d="M907 1170zm-76 16zm22 39zm41 3zm-98 8zm131 35zm-155 33zm81 7zm60-9zm-62 13zm33-3zm63 8zm-119 8zm-62 10zm69 4zm93 0zm-120 8zm41 9zm-42 10zm62-1zm60-1zm1-2zm-148 16zm54-5zm69-2zm16 3zm12 4zm-106 9zm1-4zm90 9zm16 1zm3-7zm-145 17zm50 1zm1-3zm1 2zm9-5zm66 5zm-97 10zm73 0zm-54 11zm52 5zm6-8zm-66 10zm61-1zm3 2zm-18 19z"/><path stroke="#2d48ff" d="M862 1153zm5-6zm-44 19zm-15 35zm63 28zm-27 16zm48 5zm-85 8zm5 17zm20 9zm21 2zm-92 5zm175-2zm-180 13zm34 1zm113 8zm15-8zm-140 20zm103 1zm36-4zm-61 6zm-87 12zm29 21zm125-10zm-122 19zm0-3zm97 0zm-68 16zm23-7zm64 8zm23-4zm-126 15zm61-3zm57 5zm12-9zm-141 12zm59-1zm29 2zm2 0zm12 4zm17 3zm-90 10zm15-5zm9 7zm42 0zm8-1zm-46 10zm55-3zm-98 9zm40 4zm2 7zm27 0z"/><path stroke="#e4ff48" d="M860 1153zm32 3zm-67 6zm6-1zm69 4zm-89 9zm42-5zm4 10zm31-5zm1 6zm17-10zm-97 19zm54-8zm40 9zm1-5zm-96 19zm5-1zm3-10zm10 10zm13-6zm8 0zm3-1zm6-2zm20 7zm37-8zm-72 20zm33-3zm20 0zm15 5zm-96 9zm8-3zm24-2zm5-1zm24 1zm1 9zm33-3zm10-1zm1 2zm1 0zm7 1zm2-8zm-133 14zm85 0zm9-2zm31-2zm14 4zm-144 12zm8 2zm7-1zm45-3zm25 0zm46 1zm3 3zm1-1zm-154 15zm86-6zm0-2zm3 1zm36-1zm4 3zm2 0zm-77 17zm7-7zm28 5zm18-1zm18 1zm7-4zm3 8zm-113 12zm15-6zm8 2zm65-5zm12 5zm-118 7zm52 7zm33 1zm38 1zm29-9zm20 9zm-146 13zm40-4zm21 1zm35-1zm46-7zm-182 21zm20-4zm15 3zm120-1zm-135 14zm10-4zm25 4zm3-3zm15 2zm36-3zm7 4zm63-4zm13 3zm-132 6zm9 9zm5-5zm6 1zm43 1zm6-8zm46 7zm14-5zm-147 11zm54 0zm29 5zm18 2zm10 1zm20-7zm-149 14zm18 7zm17-4zm0 3zm27-6zm12 1zm82-3zm-153 15zm1 5zm1-8zm25 3zm35 3zm15-8zm66 1zm-142 22zm4-3zm9-5zm133 6zm-103 7zm7 0zm90 0zm-119 15zm24-3zm2 6zm2-5zm53 5zm-56 14zm26 10zm11 0zm12-6zm-6 9z"/><path stroke="#2d2db0" d="M855 1180zm40 4zm-119 76zm74 21zm-85 37zm19 9zm125 7zm20 8zm-82 13zm108-2zm-154 12zm8 4zm21 3zm3 0zm46-11zm3 4zm51 5zm-75 17zm-14 18zm47-7zm-46 12zm5 6zm26-5zm40 4zm-59 14zm33 1zm5 0zm-65 3zm39 2z"/><path stroke="#2d2de4" d="M853 1157zm7 11zm-24 8zm17 6zm40 7zm-5 13zm-98 21zm6 15zm97-8zm-20 20zm-102 9zm65 3zm9-3zm-48 9zm115 24zm-148 25zm6-4zm39 12zm38 11zm9-4zm-80 15zm110-9zm-111 18zm38 3zm91-9zm-116 19zm95-4zm43-4zm4 0zm-104 18zm4-2zm15 3zm98-2zm-77 8zm-57 20zm2-4zm61-5zm15 4zm-83 18zm12-5zm20 2zm11-2zm29-5zm25 11zm-34 3zm35-2z"/><path stroke="#ff482d" d="M869 1138zm-43 17zm12-1zm15-7zm8 7zm-39 8zm0-4zm25 5zm12-2zm40 4zm-70 8zm6 3zm9-6zm3 8zm28-3zm8-2zm17 1zm5 2zm11-1zm-90 7zm15 2zm2 5zm29 0zm5-7zm5 1zm18 8zm16-6zm2 4zm-103 7zm16 7zm9-1zm0-3zm4-1zm42 1zm26-5zm-84 22zm3-7zm6-1zm10 1zm21-3zm7 10zm12-6zm11 0zm15-5zm-94 20zm8-6zm12 2zm26 1zm9-3zm17 4zm22-5zm-106 18zm66-6zm7 10zm13-2zm3-2zm16 3zm1-9zm5 10zm6-4zm6 1zm7-3zm-137 10zm3 4zm43 2zm43-8zm-31 15zm31 5zm-110 12zm11-7zm57 5zm10-1zm0 5zm0-8zm7 2zm5 2zm0-4zm9 7zm29-2zm4 1zm5-3zm10-1zm-141 16zm6-8zm5 6zm4-3zm3 2zm11 2zm1 0zm11 2zm21-4zm30-5zm8 6zm11-7zm5 6zm30 3zm-153 14zm4-11zm22 8zm8-5zm10-1zm8 7zm11-4zm66-3zm22 7zm-152 7zm5-4zm5 5zm25-5zm58 4zm3 0zm50 6zm4-3zm-142 5zm21 8zm9 2zm1-8zm15 8zm15-5zm13 6zm22-6zm34 4zm-112 10zm3 1zm21 0zm35 2zm2 0zm8-9zm45 4zm15-4zm-111 18zm25-5zm37 0zm11 0zm0 6zm4 0zm37-2zm-165 7zm33 1zm32-2zm103 11zm-50 6zm-22 16zm66-1zm8 0zm-155 12zm128-6zm3 6zm-43 7zm29 7zm-49 11zm14 27z"/><path stroke="#e42d2d" d="M859 1153zm3-8zm-35 17zm44 1zm14 4zm21-5zm-49 12zm4 14zm55 2zm-63 4zm-21 21zm21-3zm13-4zm-55 18zm7-4zm18 5zm13-9zm41 9zm-86 11zm46-9zm3 4zm-5 12zm5 2zm23-1zm60 5zm1-6zm-158 11zm26 3zm6 3zm51 1zm9-10zm27 1zm3 7zm21 2zm-149 13zm32-2zm16 1zm55-6zm15-3zm20 3zm2 4zm-148 3zm89 4zm73 2zm1 2zm-111 10zm3 4zm40 0zm7 1zm7-7zm33 0zm7 0zm2 6zm14 1zm-172 13zm4-6zm82-1zm13-1zm17-1zm22 3zm-136 9zm16 4zm18 0zm29 1zm1 0zm31-6zm1 3zm2-2zm27 6zm9 0zm-101 9zm58-2zm2-1zm8 5zm10-1zm1 3zm9-5zm69 7zm-145 6zm4-5zm13 3zm11-3zm12 4zm15-3zm1 6zm20 4zm6-7zm9 4zm-111 6zm13 5zm52 2zm2-5zm-20 9zm-37 21zm64-2zm45 0zm-119 13zm50-3zm21 3zm18-2zm31 2zm-1 14zm-99 9zm94 20z"/><path stroke="#2de4ff" d="M844 1148zm18 14zm-52 16zm63-1zm-23 11zm-23 6zm18 31zm-39 13zm104 13zm-140 5zm5 6zm15-3zm54-2zm46 6zm-87 4zm12 6zm99 15zm-17 10zm25-3zm-34 7zm-72 12zm7 11zm58 10zm-99 16zm79 1zm-23 19zm12 0zm-38 13zm2-4zm22-4zm15 4zm5 0zm11 1zm16-5zm49 5zm-145 6zm14 2zm41-3zm28 7zm5-7zm5 9zm26-5zm8-5zm-110 19zm9-7zm1 7zm21-2zm44 0zm46 1zm-120 13zm29-2zm0 12zm1 1zm1-5zm59 1zm-34 25z"/><path stroke="#48ffe4" d="M867 1147zm-37 21zm-20 7zm30 2zm15-2zm-3 7zm-43 13zm76 9zm-82 11zm38 1zm15-4zm-33 12zm34 0zm30-5zm19 1zm-53 16zm23-6zm-97 20zm78 11zm1-7zm60 0zm-149 16zm13 1zm24-5zm7 5zm27 2zm20 0zm-72 15zm15-4zm72 2zm-87 4zm29 10zm45-8zm59 8zm-17 1zm30 4zm12-1zm3 5zm-84 5zm39 0zm-119 15zm141-3zm20 4zm-183 12zm108 5zm7-9zm28 6zm20 4zm28-10zm-161 13zm20 0zm15 4zm38 3zm1 2zm3-2zm29-5zm5 7zm13-11zm-68 20zm2-1zm8-6zm75 10zm13-8zm-150 14zm9 5zm47-4zm56 0zm-110 16zm15-7zm41-1zm35 1zm14-1zm-102 15zm46 6zm22 0zm0-1zm-48 5zm7-1zm4 9zm52-11zm12 6zm5-6zm22 4zm-74 14zm2 3zm30 2zm20 0zm-50 8zm4-1zm3-6zm9 1zm2 10zm14-5zm-29 9zm21 2z"/><path stroke="#ff7c2d" d="M831 1149zm26-3zm16 1zm-44 10zm19 11zm8-3zm38-1zm9-3zm-86 13zm0 0zm8-3zm17 6zm16 1zm11 1zm15 0zm-65 2zm50 10zm20-7zm3 3zm17-3zm-116 17zm23 3zm4-8zm39 5zm2-6zm15 3zm2-3zm12 7zm17-4zm-86 7zm16 1zm6 2zm1-3zm2 9zm17-5zm25 6zm3-7zm24-4zm-78 21zm78-1zm7-1zm-132 15zm86-5zm39 5zm-119 8zm52-4zm24 1zm8 7zm1-2zm25 0zm8 3zm5-6zm5 1zm16-3zm-152 20zm56-1zm11-5zm2 5zm15-1zm35 0zm12 0zm7 1zm-145 13zm1-6zm5-2zm5 6zm6-2zm11 0zm36-1zm17 1zm5-3zm54 0zm-123 9zm2 3zm20 7zm9 1zm15-4zm4-4zm20 7zm11-4zm2-4zm37 2zm1 7zm8-4zm-169 16zm55-1zm2 1zm8-2zm9-3zm9 5zm12-7zm44 7zm2-1zm8-5zm6 1zm-135 7zm9 7zm2 0zm2-5zm31 3zm2-1zm17 3zm21-7zm10 1zm11-2zm22 3zm36 8zm-156 5zm30-3zm10 8zm15-7zm8 1zm0 6zm6-3zm41-7zm0 4zm54 2zm-169 13zm16-7zm1 10zm18-6zm36-1zm7-1zm57 2zm2 0zm13 7zm-155 9zm51 3zm9-10zm0 10zm6-9zm4-1zm39 1zm6 4zm20-3zm32 2zm-126 11zm1-4zm19 12zm12-9zm10 4zm32 3zm-80 9zm30 3zm51-7zm9-2zm0 2zm0 7zm-105 6zm60 3zm26 5zm35-3zm-122 4zm37 4zm41 1zm9-3zm5 7zm-72 13zm53-5zm3 2zm-14 5zm8 17zm32 4zm7-8z"/><path stroke="#2d48ff" d="M818 1168zm82-7zm-78 52zm2-3zm82 5zm-133 42zm82 19zm-76 5zm124-3zm-113 16zm13 2zm48-8zm27 2zm26 8zm-21 26zm52-1zm-119 13zm87 0zm28 0zm22-8zm-182 17zm18-5zm125 0zm-142 18zm22 2zm23 0zm65-6zm-106 17zm33-5zm9 3zm92 2zm2-5zm11-5zm-71 23zm69-6zm14 6zm-140 9zm11-3zm12-1zm18-1zm11 5zm58-3zm32 1zm-51 12zm37-4zm-31 21zm-9 11zm14 6zm-27 18zm0-2z"/><path stroke="#ffe42d" d="M843 1155zm-4 4zm-3 18zm7 3zm40 0zm-24 9zm41 0zm-93 7zm30 0zm4 6zm11-3zm20 1zm21-1zm13-2zm3-4zm2 7zm-118 8zm44 1zm46-2zm13 7zm7-9zm4 3zm2-1zm1 7zm-54 14zm18-10zm7 6zm17-1zm-100 12zm4-2zm8-2zm37 0zm43 9zm9-10zm27 5zm9 2zm-150 13zm57 0zm10-8zm9 2zm19-2zm8 3zm-101 14zm3 3zm73-2zm5 0zm3 0zm44 1zm8-1zm-121 7zm74 3zm1-5zm12 2zm-104 16zm10 5zm2-7zm77 4zm43-5zm3 5zm-132 10zm7-3zm8 0zm20 5zm47-8zm34 4zm28 2zm2 1zm-153 5zm4 10zm50-8zm8 1zm4 3zm33 2zm10-4zm1 3zm30 0zm1-1zm-148 10zm33 5zm15 2zm4-8zm18 3zm10-1zm7-3zm13 4zm6-5zm9 8zm0-3zm3 4zm-109 12zm89 0zm-76 9zm5-2zm52 2zm69-4zm29 0zm-121 12zm4 4zm12-4zm1 1zm69-4zm16 4zm-155 17zm45-5zm22-1zm3-3zm8 7zm35-4zm-109 10zm72 8zm-44 4zm45 8zm-47 12zm41-8zm84 7zm-102 8zm11 0zm77-2zm12 0zm-90 16z"/><path stroke="#ffe42d" d="M839 1149zm6-1zm24 8zm14-11zm-27 19zm13-7zm19 9zm-54 11zm42-8zm4 5zm6-4zm-56 19zm27 3zm10-11zm40 1zm-107 15zm40-4zm6 4zm60 0zm-44 11zm7-1zm5 9zm29-10zm6 9zm-93 11zm5-1zm23 3zm76-10zm5 8zm-93 4zm11 10zm15-7zm14 4zm13-2zm35 0zm-120 17zm54-1zm20-10zm66 4zm-144 17zm10 0zm39-7zm82-1zm-123 14zm10 2zm21-5zm0 6zm33 5zm49-3zm-141 4zm20 1zm32 9zm74-9zm-98 22zm2-11zm48 2zm1 6zm-66 6zm7-2zm9 10zm0 1zm22-9zm18 9zm46-2zm15-9zm20 2zm17 7zm-128 11zm31-7zm44 4zm12 0zm-126 11zm11-2zm53-2zm28 8zm70-7zm-157 10zm55 6zm56 2zm-23 7zm71-1zm-81 14zm87-1zm0 3zm-64 12zm37-3zm10-1zm8 0zm-140 20zm15 2zm5-7zm73-4zm12 0zm-29 16zm35 14zm6 4zm-25 25z"/><path stroke="#ffb02d" d="M849 1143zm7 1zm-16 11zm28-8zm13 9zm15-1zm-83 12zm25 0zm4-5zm1 2zm27-4zm9-3zm11 6zm-11 6zm-39 11zm33 4zm29-2zm-77 14zm17-3zm6 5zm6-1zm10 1zm21 2zm-41 13zm5 1zm33-3zm4 3zm15 2zm27-1zm-114 12zm20-1zm8-2zm38 3zm26 1zm9-7zm5 6zm5-2zm-126 6zm32 6zm10 1zm15-2zm62-7zm3 7zm7-7zm5 3zm-138 13zm12-2zm42 8zm33-9zm0 9zm2-7zm30 3zm8 5zm9-8zm1 8zm3-4zm-155 15zm17-6zm61 4zm22 1zm7-5zm2-2zm6 2zm20-4zm18 0zm-137 15zm48 5zm46-7zm25 2zm-32 15zm1-5zm19-1zm-111 21zm38-9zm22-1zm10 12zm4-8zm4 7zm1 0zm14 0zm48-9zm7 4zm-149 12zm8 2zm8 0zm9-2zm11 4zm1-1zm24 2zm23-9zm34 3zm5-2zm-91 15zm21 2zm23-6zm3 3zm6-1zm50 7zm14-1zm14-1zm2-1zm-178 14zm57-2zm48 2zm30 2zm-26 10zm11-3zm12 4zm-110 2zm31 0zm7 11zm20-4zm19 2zm25 0zm1-3zm18 4zm23 0zm-36 5zm10 1zm21-4zm-116 21zm69 8zm26-5zm1 4zm-130 11zm31 6zm68 22z"/><path stroke="#2db0ff" d="M851 1152zm-10 36zm18 49zm32 22zm-90 10zm116 6zm-141 5zm46 4zm92 25zm-78 11zm-32 7zm113 13zm8 8zm31 9zm-105 12zm10-2zm31 6zm-44 15zm-58 13zm75 7zm33 16z"/><path stroke="#48ffe4" d="M874 1145zm-35 32zm17-5zm21 6zm-42 6zm47 6zm37 14zm-29 10zm-97 6zm61 6zm54 1zm-39 12zm-80 5zm53-3zm12 11zm11 1zm-75 23zm-26 6zm11-3zm47 7zm51-6zm-114 18zm128-9zm-103 22zm35-4zm72 2zm13-2zm3 5zm0-3zm36-5zm7 0zm-188 10zm135 4zm4-3zm34 4zm-170 9zm30-4zm26 7zm2-1zm91-3zm7 5zm-72 16zm11-11zm2 1zm30-1zm17 7zm8-4zm11 5zm2-7zm1 0zm11-1zm11 5zm-184 8zm16 4zm29-3zm36 7zm15-8zm49-1zm-79 18zm17 11zm79 5zm-152 4zm4 9zm27-11zm16 8zm39-8zm45 4zm28-1zm-131 17zm23-4zm41-4zm35 2zm24 5zm-118 5zm10 9zm12-6zm5 0zm19 3zm-19 15zm6-1zm12 0zm39-2z"/><path stroke="#e42d2d" d="M843 1149zm2 3zm6-5zm7-1zm10-2zm6 7zm-60 17zm31-9zm51-2zm-83 22zm21-10zm19 6zm12-3zm10 6zm22-1zm-94 14zm33-10zm27 0zm-54 16zm50 6zm3-5zm4-2zm50-3zm-117 23zm27-7zm19 6zm4-2zm11-7zm24 1zm23 8zm8-3zm-98 15zm44-2zm6-4zm0 5zm37 0zm5-4zm2-4zm-112 20zm64-5zm8 0zm9-2zm14 6zm27-5zm8 2zm4 11zm-54 12zm25 7zm-115 0zm24 4zm13 4zm7-1zm26 5zm57-5zm21 4zm-165 5zm33-2zm31 2zm15 4zm5-5zm9 6zm4-6zm8 2zm9 4zm14 3zm-88 6zm10 4zm43 1zm16-9zm63 10zm-152 4zm75 3zm-101 6zm87 9zm1-6zm21-1zm8 7zm48-4zm-109 7zm30 9zm9 2zm2-6zm12-3zm78 2zm1 5zm-124 7zm1 3zm1 0zm14-5zm1 7zm49-10zm18 1zm-54 15zm61 5zm-109 10zm27-7zm14 1zm13 10zm20-9zm-89 12zm14 8zm40-9zm57 2zm-109 10zm32 10zm19-7zm6-3zm5 10zm-73 8zm3-4zm97 2zm-31 30zm34 3z"/><path stroke="#e4ff48" d="M842 1154zm51 1zm3-4zm-47 12zm11-1zm33-5zm3 4zm-86 9zm5 4zm4 4zm27 1zm10-7zm2 7zm-35 2zm11 11zm13-11zm43 10zm1 1zm-73 6zm1 0zm23 3zm-41 7zm26-1zm12 7zm21-8zm55 5zm1-3zm-110 17zm0 3zm2-3zm82-7zm16 4zm0 0zm2-4zm-69 11zm4 10zm-37 4zm41 0zm77 8zm4-3zm5-5zm-139 20zm44-9zm6 4zm38 1zm10 2zm-119 10zm8 2zm15-1zm3 1zm50 2zm55-1zm28 0zm-91 8zm21-5zm36 1zm1 7zm10 1zm5-5zm15 1zm-153 17zm32-9zm2 2zm23 7zm19 0zm19-8zm56 0zm-6 12zm-153 19zm50-5zm18-1zm12 7zm16-9zm2-1zm19 6zm25 4zm6-2zm20-3zm-171 15zm82 3zm5-11zm30 2zm20 3zm34-4zm-135 17zm14-6zm7 9zm12 1zm13-2zm7-5zm2 2zm12 5zm51-2zm2-7zm5 1zm3 8zm2-8zm-124 20zm41-7zm5 6zm12-8zm12 7zm19-5zm8 1zm5-5zm32 6zm-123 10zm47-3zm24 11zm5-11zm5 1zm5 8zm11-4zm-123 9zm7-2zm65 6zm48 4zm8-7zm0-2zm-80 11zm65 3zm0-2zm25 5zm-129 17zm21-8zm29-3zm12 8zm-40 5zm8 10zm41-2zm15 1zm14-9zm-33 17zm16 9z"/><path stroke="#2de4ff" d="M810 1195zm47 15zm45-3zm-41 13zm-67 16zm67 14zm21-4zm-90 22zm84 4zm51-7zm3 9zm-137 3zm4 10zm3 1zm31 0zm13 11zm-83 13zm67-8zm44-2zm12 8zm14-9zm-75 20zm-47 6zm1 2zm1 10zm42 3zm70 1zm15 2zm6-1zm4 2zm-92 11zm54-3zm52-1zm-115 16zm31 3zm37-11zm28 4zm35 3zm-116 20zm-16 10zm122 0zm-88 22zm2-7zm55 0zm6 3zm-107 11zm42 4zm57-4zm-34 23z"/><path stroke="#ffb02d" d="M854 1142zm-19 13zm51-4zm5-1zm-60 12zm4 4zm9 0zm20-4zm5 2zm-36 9zm5-3zm-15 22zm32-7zm28 7zm29-4zm0 4zm5-9zm-99 21zm2-4zm62-1zm13 4zm15-8zm-81 13zm2 2zm31 5zm64-7zm-128 10zm16 0zm12 3zm8-2zm19 0zm1 0zm6-1zm9 3zm19 2zm-89 7zm70 10zm2-2zm36-8zm15 5zm-114 11zm110 4zm6-4zm2 3zm4-4zm-161 11zm2 7zm7 1zm17-10zm56 3zm1-4zm-87 23zm26-1zm6-5zm56 0zm13-2zm24 5zm12-6zm25 8zm-136 5zm5 0zm18 2zm22-4zm1 3zm0 3zm10-6zm21 3zm30-3zm38 0zm-91 19zm3 3zm2-7zm11-2zm8 5zm8-2zm57-2zm-174 18zm7-9zm33 3zm1 1zm15 6zm6-10zm16 10zm7-3zm0 0zm17 2zm57-5zm13 4zm-108 8zm22-4zm60 7zm48-2zm-187 8zm99-1zm5 7zm3-2zm41 5zm2-3zm7-3zm14 2zm-150 15zm76-10zm20 10zm3-6zm32-1zm23 7zm-90 7zm22 2zm6 5zm21-6zm-99 8zm18 10zm2-6zm15 0zm34-1zm7 2zm59-5zm-158 22zm59-7zm9-4zm24 2zm69-1zm-140 22zm3-11zm3 9zm29 1zm17-6zm-22 8zm16 0zm2 1zm41-1zm22 27zm-40 32z"/><path stroke="#b02d2d" d="M913 1168zm-116 18zm10 1zm25-4zm8-1zm60 2zm5 1zm1 0zm-111 13zm7 0zm59-5zm-55 23zm88-9zm-52 18zm10-7zm60 8zm10-4zm-123 13zm41-5zm19 6zm12-2zm12-5zm-85 13zm83 5zm32 7zm2 5zm6-6zm-138 19zm51-6zm21 2zm43-3zm28 6zm-74 13zm60 1zm-101 5zm32-1zm5 2zm39-1zm1 0zm-94 12zm64-1zm90 6zm-50 17zm26-4zm-125 7zm66 10zm-69 13zm24 1zm11 3zm31-2zm37 16zm-87 6zm16 6zm-19 15zm68-3zm-60 6z"/><path stroke="#b02d2d" d="M821 1158zm1 5zm11-5zm4 2zm11 1zm20-3zm21 2zm7-1zm-81 20zm2-2zm42-2zm-39 7zm10 12zm1 6zm1-6zm58 3zm-71 17zm-11 9zm51 4zm62-2zm-19 5zm-62 22zm28 0zm20-12zm33 2zm-134 16zm-11 10zm18 4zm68-6zm40-1zm-98 22zm34-8zm19-3zm53 5zm-51 13zm65 1zm5-1zm-85 18zm41-2zm8 1zm4-2zm14 0zm25-3zm3-2zm-153 20zm47 4zm54-1zm-16 13zm87 4zm-72 12zm-107 15zm13-2zm30-3zm26 1zm70 5zm-26 6zm19-3zm-40 20zm48-7z"/><path stroke="#e4ff48" d="M857 1152zm4-5zm-39 16zm10-5zm11 0zm37 6zm0-6zm3 10zm19-2zm-54 8zm1-4zm38 10zm19-9zm0 4zm-90 16zm20 0zm14-1zm30 0zm9-2zm3-7zm10 7zm8-3zm6-1zm-114 15zm11-5zm12-1zm6 10zm31-3zm8 5zm9 11zm8-3zm23 3zm11-4zm-119 11zm19-3zm44 0zm7-3zm20 2zm3-2zm5 1zm12 0zm-53 15zm12-5zm11 4zm4 7zm-85 6zm19-2zm60-1zm4 1zm-104 19zm28-6zm70 8zm13-4zm33-1zm3 1zm-135 10zm9 2zm8 4zm42-5zm8-1zm8 2zm10 4zm9-1zm14-4zm32 2zm-160 7zm3 3zm10-2zm16 1zm22-4zm4 8zm9-1zm10-4zm52 4zm4-7zm16 10zm-139 12zm31-10zm8 10zm2-7zm79 4zm28 3zm-159 6zm20 4zm21-9zm15 2zm37 6zm6-4zm28-3zm8 2zm3 0zm44 6zm-162 5zm1 0zm1 9zm8-7zm4 1zm30 4zm4-5zm7-2zm1 9zm13-7zm1-1zm1-3zm17 10zm12-9zm8 1zm35 6zm-136 10zm28-5zm7 8zm34-8zm10 4zm30 5zm13-4zm28-3zm7-2zm-190 16zm29 5zm7-8zm13 8zm13-7zm22 2zm14 2zm10 3zm4 0zm3-10zm32 8zm18-8zm2 3zm3 8zm-136 4zm2 3zm78 1zm27-4zm8 3zm2-3zm21 7zm11-5zm-133 13zm1 2zm24 2zm5-8zm25 7zm3-4zm46 6zm3-7zm1-4zm7 5zm12 6zm-142 1zm97 9zm31-6zm-23 19zm13 1zm-49 6zm32 5zm39-10zm-107 34zm63 7zm-15 7z"/><path stroke="#b0ff7c" d="M878 1144zm-44 9zm44-5zm8 7zm-68 11zm11-6zm21 4zm23-4zm7 4zm4-5zm2 5zm16-4zm-19 20zm8-4zm1 4zm-68 10zm21-5zm13 2zm26 0zm-84 14zm3-5zm64 4zm11 2zm-19 2zm18 5zm-76 10zm15 6zm3-2zm8-3zm18 5zm2-6zm15 7zm7-9zm5 8zm-25 15zm45-9zm25 2zm12 7zm-146 2zm34 6zm74-2zm-125 13zm36-6zm49 1zm-48 21zm6-6zm5 1zm46-4zm13 8zm-106 9zm37 0zm31 0zm17-3zm21-1zm44 8zm-147 11zm29-5zm19 1zm52-4zm34 1zm8 4zm30-2zm-162 17zm2 1zm25-10zm27 8zm3-5zm17 7zm53-8zm8 7zm17-8zm14 5zm-138 12zm20 2zm39-8zm6 0zm25 9zm-46 5zm53 9zm30-1zm-173 10zm7-7zm49 6zm19 4zm14-5zm1-5zm27 0zm8 0zm1 1zm27 0zm15-2zm-158 19zm38-4zm71 3zm17 2zm1-5zm7-3zm18 2zm-106 19zm46 1zm45-8zm33 2zm-107 17zm14-8zm23 6zm36-7zm3 11zm9-9zm3 8zm-143 13zm42-8zm5 4zm14-6zm5 0zm62-1zm3 10zm9-4zm12 1zm-75 16zm36-1zm5-9zm-53 14zm1 2zm2 0zm2-3zm1 8zm1 0zm39-2zm9 2zm20-6zm-89 16zm4-3zm42 3zm24-2zm-45 23zm-1 28z"/><path stroke="#2db0ff" d="M811 1171zm62 7zm6 18zm42 1zm-28 45zm25 17zm-162 19zm77 66zm33 0zm-16 9zm30 13zm50 16zm-126 12zm13-4zm23 24zm11-4z"/><path stroke="#ffb02d" d="M827 1156zm4-8zm19 4zm1 1zm10-3zm19 0zm-51 15zm7-7zm57 6zm-44 12zm-48 7zm40 7zm27-2zm43 1zm-59 4zm0 4zm11 2zm9-3zm13-3zm-87 23zm22-2zm9-1zm21-5zm27 3zm35-6zm1 7zm-120 15zm26-8zm49 2zm1 5zm30 1zm7-7zm2 5zm-113 12zm63 0zm29 3zm26-4zm1 1zm1-7zm-104 15zm13 2zm17-7zm5 3zm32 3zm5 2zm-103 9zm5 7zm4-2zm3-1zm7 2zm96-10zm-84 19zm26-3zm8 0zm10 7zm16-6zm19 3zm3 3zm3-5zm11-5zm14-1zm-136 18zm1-3zm34 2zm1-2zm22 2zm3-3zm9 8zm14-1zm25-1zm-123 12zm13-1zm1 4zm38-10zm10 1zm25 8zm20-7zm32 2zm-130 18zm4-5zm3 1zm21 2zm14 0zm1 1zm10-10zm37 6zm2 5zm23-2zm29-2zm21-1zm-159 8zm7-1zm2 2zm46 5zm32-1zm21-7zm5 8zm6 1zm44-3zm-134 6zm49 3zm28-3zm20-1zm27 6zm-136 16zm70-10zm7 6zm55 1zm3-3zm-95 15zm16 2zm59-6zm29-2zm-178 13zm49 2zm21 2zm21-1zm15 4zm-71 9zm1 3zm29-1zm40 1zm9 0zm11 2zm35-3zm-72 10zm-65 14zm9-6zm27 6zm60-1zm-71 12zm101-5zm-56 34z"/><path stroke="#2d48ff" d="M903 1167zm-30 12zm34-10zm-91 12zm8 5zm104 47zm-100 44zm92 4zm1 26zm-125 12zm4 0zm13-6zm60 1zm57 2zm-124 19zm10-10zm100 4zm27-1zm-176 15zm34 1zm124 3zm2-4zm2 1zm-127 13zm42 0zm16-1zm-84 7zm57 4zm1-1zm9-1zm10 4zm-30 10zm53 3zm11-7zm14 1zm4 6zm2-3zm-102 15zm110-9zm-128 12zm36 8zm4 3zm7-10zm31 5zm38 2zm-94 9zm5-4zm110 4zm-95 17zm2 4zm28 9zm13 3z"/><path stroke="#48ffe4" d="M840 1154zm30 10zm-60 13zm65-1zm3 0zm-38 6zm73 18zm-87 7zm35 5zm0 3zm5 8zm10-1zm-73 6zm72 17zm9 5zm13-5zm-116 11zm15 0zm7 4zm48-5zm27 6zm5 0zm-21 14zm65-9zm-145 19zm153 2zm-72 12zm-32 10zm17-4zm37-1zm18 7zm34-7zm7 2zm4-3zm-152 17zm36 1zm29-3zm44-4zm37-1zm1 11zm-159 7zm16 2zm3-3zm1 1zm10 0zm87-1zm42-3zm-96 9zm6 1zm6 0zm-90 16zm103 3zm77 4zm-150 10zm9-2zm7 2zm4-2zm10-4zm5 0zm19 0zm5-3zm9 10zm8-9zm2 9zm10-1zm57-3zm3 0zm-171 7zm6 0zm0 3zm152-4zm8 7zm-105 9zm67-2zm40 8zm-85 9zm5-7zm9 9zm12-5zm-83 14zm5 2zm21-4zm21 1zm15 1zm-27 12zm32 16zm2-6zm15 3zm-27 11z"/><path stroke="#7cffb0" d="M851 1146zm6 5zm3 3zm0-4zm-3 16zm-12 7zm35 0zm-28 11zm0 18zm38-1zm6-4zm-80 13zm33 2zm21-7zm42 9zm17-3zm-93 14zm1 0zm27-6zm14 0zm-77 13zm2 2zm48 5zm26-5zm-18 13zm71-1zm-78 10zm62 3zm-106 15zm43-7zm-46 19zm25-4zm28 9zm47-2zm-135 18zm48 3zm73 0zm-68 3zm36 3zm10-3zm60 4zm-130 11zm0 8zm46-7zm7 0zm4-3zm46 2zm25 1zm20-2zm-174 15zm79-2zm69 7zm8-1zm-22 12zm1-9zm2 1zm-128 12zm31 6zm10-8zm30 4zm35 7zm23-6zm22 1zm-143 18zm48-3zm12 0zm15-7zm0 8zm16 0zm17-7zm0 9zm6-1zm-88 13zm33-1zm27-9zm-68 19zm31 0zm26 0zm23 1zm6 1zm17 1zm25-6zm-53 13zm34 4zm-105 3zm48 16zm7 3z"/><path stroke="#2d2db0" d="M911 1219zm2 23zm-155 46zm32-3zm107 3zm22 12zm-62 4zm-90 18zm60-1zm0-5zm10 31zm-18 2zm47 6zm10 4zm36-4zm-80 8zm69 5zm-106 6zm37 9zm44-3zm33-5zm3 5zm-96 16zm2-11zm20 10zm60-7zm22 1zm21-3zm-73 17zm56 1zm-120 8zm25-1zm16 10zm24 9zm9-4zm35-3zm-64 11zm2 2z"/><path stroke="#ff482d" d="M823 1156zm15-4zm8 1zm42 2zm10-3zm-56 14zm9-2zm6 3zm8-7zm5 1zm6 4zm2-5zm18 5zm6 2zm-63 1zm5 9zm37-7zm22 3zm7-3zm-106 22zm2-6zm11 2zm27-5zm6-1zm45 0zm7 7zm-97 7zm41 2zm1 2zm34-7zm9 10zm-92 10zm16 2zm17-2zm7-5zm13-3zm7 5zm8-4zm5-1zm12 9zm27-6zm-109 19zm2-9zm32 8zm14-8zm10 6zm4-3zm0 6zm6-5zm19 6zm-86 8zm93-4zm14 3zm19 3zm-154 13zm26-9zm60 7zm15 2zm58-6zm-155 15zm1 2zm18-4zm7 4zm28 1zm4 1zm9-8zm30 2zm20 2zm20-6zm7-1zm-148 12zm101 10zm10-8zm-71 21zm34-1zm6-6zm30 0zm19-3zm-142 18zm43 0zm23 2zm4 1zm88-10zm13 11zm-128 4zm5-4zm17 4zm3 8zm19-11zm32 3zm24-3zm1 7zm16-5zm-134 11zm29 8zm24-9zm8 2zm24 4zm2-7zm8 7zm2-1zm10 3zm6 1zm8-9zm2 8zm22-2zm-163 7zm5 5zm37 3zm17-2zm13 2zm19-9zm37 7zm20 3zm-117 2zm12 10zm49-6zm31-2zm23 8zm25-9zm-156 21zm37-3zm10-4zm12 5zm26 0zm23-1zm10-7zm0 3zm12 3zm-86 12zm13 4zm62-7zm17 5zm17-7zm-103 15zm4 7zm12-4zm52 1zm-4 13zm12 2zm-83 4zm-1 10zm67 0zm2 6zm31-7zm-112 22z"/><path stroke="#2d48ff" d="M842 1148zm50 0zm-22 40zm-29 31zm18 9zm-63 24zm109 27zm10 6zm-79 5zm30 34zm34-6zm15 3zm9-2zm21 10zm-136 17zm44-7zm69 7zm10-4zm-37 12zm53 2zm5 1zm-149 11zm11-3zm52 6zm16 0zm47-8zm-83 19zm26-2zm29-2zm-100 7zm15 9zm29-2zm35 0zm8-1zm-65 13zm11-7zm20 10zm33-9zm31 8zm18-8zm-27 20zm-97 7zm56 0zm-23 14zm2-4zm12 14z"/><path stroke="#2d7cff" d="M859 1171zm58 33zm-31 18zm-44 13zm41-1zm-71 22zm-23 91zm103-4zm-48 7zm-58 17zm87 2zm-82 8zm88 2zm-76 9zm33-2zm96 6zm-59 23zm-17 10zm6 4zm49-8zm-49 15zm15 1zm-18 13z"/><path stroke="#7cffb0" d="M882 1151zm-37 13zm17-2zm-39 11zm-10 13zm90-5zm-49 17zm0 3zm4 13zm41 2zm-33 11zm19 1zm7 0zm36-11zm-5 23zm9-9zm-137 13zm58 4zm20 3zm48-2zm-143 14zm10-9zm47 1zm5 1zm79-3zm-131 17zm43-1zm13 2zm8-1zm34 14zm5-3zm-113 12zm71-2zm5 1zm87 5zm-121 15zm71-7zm-127 12zm2-3zm11-1zm51 7zm37 2zm17 0zm25-1zm-68 8zm7-2zm67 2zm-152 13zm76 1zm79-2zm-101 12zm3 4zm93-2zm1-3zm27 0zm7 3zm5-5zm-84 17zm-40 10zm13-4zm67 0zm0 7zm24-2zm-106 10zm15 6zm18 1zm38-2zm43-4zm4-3zm-130 16zm73-5zm10 8zm5-9zm-86 24zm24-7zm7-4zm17 3zm10 3zm6 5zm-73 4zm37 1zm18 4zm10 3zm33-10zm4 1zm-50 15zm18-2zm6 8z"/><path stroke="#b0ff7c" d="M838 1153zm9-4zm-31 14zm51-4zm4 8zm27-10zm-16 16zm4 4zm5-3zm4 4zm5-3zm-83 14zm60-4zm6 5zm6-1zm4 0zm8 3zm-96 4zm25 5zm45-7zm8 10zm26-10zm-43 17zm6-3zm-64 19zm65 0zm30-8zm-93 19zm43 9zm-75 12zm93 5zm4-4zm11-1zm21 3zm10-2zm10-7zm8 5zm-164 8zm73 5zm-47 7zm29 7zm6-4zm20-1zm18 1zm14 1zm34 2zm16-3zm-109 11zm55 3zm5-6zm16 9zm19-5zm-138 15zm12 1zm35-7zm51 3zm55 7zm-153 12zm21-1zm39-1zm9-8zm24 8zm51-8zm-106 17zm9-6zm5 11zm59-7zm2 0zm58 7zm-171 8zm76 0zm48-5zm24 9zm5-1zm-145 10zm29-4zm5 0zm12 2zm8-3zm7 5zm17-1zm16 1zm4 1zm21-3zm0-5zm4 9zm-118 4zm20-1zm6 4zm13 3zm3-2zm62-1zm13-3zm27 9zm-124 6zm60 5zm6-7zm15 2zm29 2zm-139 16zm2-2zm21-9zm70 10zm23-3zm19-3zm3 0zm12-2zm3 7zm-124 7zm1 0zm34 5zm6-1zm3-2zm21 2zm5-1zm5-6zm18 5zm9-1zm-27 17zm-8 9zm25-4zm-64 10zm52 5zm-53 7zm16 3z"/><path stroke="#b0ff7c" d="M839 1147zm15 6zm16-3zm28 3zm-25 5zm-43 12zm76 0zm-100 14zm26-3zm26 0zm28 4zm9 7zm-103 5zm37 1zm90 6zm-32 10zm33-3zm-121 8zm55 1zm9 8zm5 11zm19-6zm14 2zm16-4zm-135 19zm12-9zm58 8zm11-6zm23 9zm-89 4zm46 7zm6-10zm5 2zm9 7zm-86 10zm7-3zm3-2zm35 4zm30-5zm17 9zm14-2zm1-2zm13-5zm-118 21zm33-9zm29-1zm28 7zm-104 13zm13 1zm5-6zm16-3zm80 7zm23 2zm9 0zm15-1zm25-2zm-131 7zm12 0zm38 4zm-46 7zm104 4zm4 4zm5-5zm6-3zm-158 15zm10-1zm48 2zm1-2zm19 2zm33 2zm32 4zm6-2zm21-3zm-147 16zm50-6zm34 1zm5-4zm29 23zm-110 9zm11-7zm31 3zm73 4zm11 0zm-120 6zm24-2zm11 3zm28 0zm40 2zm-13 12zm24 3zm-78 7zm13 3zm-30 6zm34 4zm0-1zm10-2zm33 8zm-31 3zm11 6zm-50 8zm16 6zm6-5zm-16 14zm31-4z"/><path stroke="#2d7cff" d="M891 1216zm-7 28zm-72 57zm76 19zm20 13zm36 2zm-168 3zm32 5zm0-5zm119-1zm-161 17zm20-2zm-7 19zm32-1zm36-5zm40 1zm-78 13zm70-6zm-90 13zm18 8zm18 5zm27 5zm61 2zm15-6zm-123 20zm30-11zm9 1zm55 12zm-44 12zm9 18zm2 1zm3-9z"/><path stroke="#b02d2d" d="M860 1145zm10 3zm30 7zm-77 11zm59-5zm4 7zm30 24zm-101 8zm48-3zm1-1zm19 6zm15-9zm-106 13zm43 0zm12 4zm26-1zm-66 19zm30-1zm-37 10zm-14 5zm149 7zm-162 19zm40 7zm52-1zm-65 12zm60 0zm55-2zm-146 6zm4 14zm115-2zm-91 14zm1 5zm19 3zm72 0zm9-8zm-111 12zm2 4zm100-6zm19 0zm9 4zm-122 74zm97 1zm33-8zm-14 13zm-78 25zm51 6zm-33 37z"/><path stroke="#2d2db0" d="M873 1239zm-97 48zm100 18zm-114 14zm122-3zm-108 12zm168-3zm-110 27zm24-2zm1 1zm23 5zm41-1zm8-2zm-81 8zm5 9zm19-3zm37 5zm-129 4zm53-3zm20 3zm48 3zm8 0zm-86 29zm56-2zm2-8zm-55 19zm31 2zm56 4z"/><path stroke="#2db0ff" d="M830 1150zm57 3zm-68 85zm-15 16zm81 1zm-108 67zm38 2zm79 8zm3-3zm-50 17zm60-1zm31 26zm-147 2zm14 6zm109-2zm-40 15zm27-1zm-67 12zm50-2zm12 6zm-22 11z"/><path stroke="#2de4ff" d="M815 1162zm94 10zm-68 19zm21-10zm2 6zm11-5zm27 31zm-25 26zm-73 6zm59 18zm9 13zm-112 10zm96-7zm-73 31zm-22 4zm89 8zm83-3zm-154 17zm7-6zm163-3zm-183 14zm9-3zm52 3zm45-3zm46-1zm18 0zm-164 21zm13-6zm6 3zm2-6zm49 10zm53-9zm-25 22zm35-10zm12 9zm-60 9zm50-1zm12-3zm-33 13zm-41 18zm4-10zm28 5zm3 11zm32 16zm-52 8zm17 0z"/><path stroke="#ff7c2d" d="M874 1144zm-26 5zm39 4zm1-1zm-74 15zm14-10zm9 7zm24-1zm9 2zm16-7zm1 2zm7 7zm1-1zm-85 14zm8-8zm41 3zm12 0zm34 2zm14-2zm-121 12zm9 4zm22-7zm8 8zm21-10zm14 10zm2 0zm17 0zm6-1zm-69 10zm22-4zm9 6zm2 0zm23-10zm3 1zm21 5zm-94 10zm2 1zm9 1zm46-3zm2-3zm26 9zm0-5zm1-3zm6 6zm9-7zm-118 23zm9 0zm50-9zm36 9zm13 0zm-105 6zm122-4zm11 10zm-145 7zm12 3zm5-1zm2 2zm56-7zm22-3zm1 9zm44-9zm1 7zm-159 8zm6-2zm4 9zm12-9zm0 8zm5-9zm1 2zm52 4zm3 3zm16-7zm5 5zm0 2zm7 2zm-105 1zm2 7zm8 2zm9-9zm5 3zm3 8zm6-7zm19 4zm6-1zm38-2zm11 4zm21 1zm-142 8zm15-5zm1 0zm18 7zm14-8zm3 3zm12 6zm23-3zm68 2zm-101 12zm4-3zm15 1zm6-1zm12 6zm6-8zm45-3zm41 4zm-172 17zm13-1zm6-7zm14 7zm0 3zm22-4zm31 4zm13 0zm11-5zm5-1zm15-3zm8 0zm13 1zm19 2zm-156 17zm60-7zm31-3zm1 5zm33-2zm6 8zm-113 4zm8 7zm23-4zm11-2zm39-3zm4 7zm17-3zm14 2zm23-3zm3 4zm-181 13zm4-5zm38-4zm18 11zm13-10zm3 9zm10-10zm2 1zm3 8zm8-5zm8 5zm3-1zm9 2zm-106 11zm44-3zm23-3zm11 5zm12-3zm18-2zm34-1zm-111 15zm13 0zm43 5zm31-11zm44 12zm-9 7zm-58 11zm62-1zm7-3zm-100 20zm16 2zm22-2zm6-7zm42 0zm6 0zm-138 19zm125-3zm-111 11zm36 4zm10 18z"/><path stroke="#48ffe4" d="M821 1194zm14 13zm4 5zm32-1zm21-5zm6 9zm13-1zm-74 6zm32 7zm16-3zm-31 12zm36 7zm26 1zm1 4zm-92 13zm-35 14zm82-2zm-43 7zm59-2zm-101 21zm33-7zm69 0zm32 5zm-160 8zm30-1zm27 7zm7-9zm24 7zm0-4zm-69 17zm45-5zm97 0zm-151 17zm14-6zm10 5zm42 0zm0-2zm28-6zm15 9zm63 0zm3-6zm-164 14zm84 0zm10 4zm4 0zm11-9zm5 3zm6-3zm-88 18zm3-1zm127-2zm-128 12zm75 0zm22 5zm7 2zm21-9zm12-1zm-102 20zm1-5zm-24 13zm18-3zm0 9zm1-5zm13 5zm32-7zm6 0zm-54 16zm0-2zm8-3zm13 1zm14 7zm7-6zm1 4zm13 1zm6 0zm4-5zm-114 17zm53-8zm5 3zm7 2zm41 2zm-78 12zm60 11z"/><path stroke="#ff482d" d="M832 1144zm12 10zm1-3zm12 2zm5-1zm17 0zm7 0zm4 4zm7-2zm-78 13zm3-9zm24 0zm32 3zm20 4zm-55 14zm23-6zm-64 14zm31-5zm13 0zm64 10zm-108 2zm37 3zm37-2zm36-2zm-109 20zm8-8zm35 2zm3 7zm3-9zm38 4zm1 7zm2-10zm6 6zm-102 9zm18 3zm22 3zm7-3zm1 0zm5-2zm33 4zm27 0zm6-8zm-75 15zm35-3zm-31 15zm18-3zm1 5zm54-6zm5 10zm8-4zm-145 8zm84 8zm20-9zm0 1zm5 1zm-128 13zm22 0zm32 5zm18-3zm9-6zm17 3zm13 2zm17 3zm-111 9zm2 1zm20 5zm8-9zm1-1zm25-1zm25 4zm0 1zm4-3zm11 5zm54-6zm10 3zm-163 12zm76 7zm12 0zm14-1zm-105 12zm1-7zm62 2zm14-2zm49-2zm1 10zm37-7zm-149 19zm49-11zm25 10zm32-2zm34 1zm-113 14zm4-7zm40-2zm10 7zm7 1zm58-7zm-166 14zm5 1zm12 5zm13-7zm7 1zm2-3zm34 4zm0 0zm19-3zm18-4zm2 7zm9 3zm24-7zm15 5zm-142 11zm32 5zm24-4zm15-7zm7 10zm63-6zm-119 8zm13 4zm39-3zm7 8zm-60 12zm13-3zm83-5zm0 10zm-112 1zm16 3zm33 20zm59-6zm-55 11zm23 33zm11 6z"/><path stroke="#ffb02d" d="M890 1142zm-29 5zm29 4zm-59 8zm31 5zm8-5zm3 4zm-35 11zm0 5zm11 1zm6-6zm6 4zm19-7zm9 1zm-69 12zm6 2zm4-1zm42 2zm28 5zm-90 3zm47 2zm5 3zm10-7zm17 7zm-98 6zm59 4zm3-1zm-58 8zm12 6zm3 3zm8-3zm19 2zm14-4zm15 2zm15-5zm5 4zm27 1zm0 5zm10-5zm-129 7zm11 8zm50 1zm66-3zm0-2zm10 1zm-144 6zm68 10zm-69 10zm10-8zm4 7zm74 3zm-95 11zm9-3zm16-6zm27 6zm50 3zm10 2zm12-1zm-122 12zm40-7zm7 2zm11-2zm12 0zm5-2zm0 8zm27 1zm35-4zm-139 8zm22 5zm2 2zm7-6zm2 3zm73 1zm20 1zm-116 4zm6 7zm7-7zm18 6zm33-2zm20 5zm3 0zm8-10zm30 11zm1-2zm-124 6zm15 2zm26 4zm0-2zm40-6zm8 2zm18 1zm23-3zm-151 20zm56 2zm1-4zm8 2zm41-5zm57-3zm14 10zm-154 3zm0 2zm10 4zm44-3zm13 4zm-37 12zm69-5zm40 0zm5 5zm-147 12zm25-4zm62 2zm57 4zm-87 2zm12 8zm13-4zm11-4zm8 9zm36-4zm16 0zm-101 14zm15-4zm55-1zm13 0zm-126 21zm36-7zm45 1zm39-1zm-68 13zm14 1zm-31 16zm13 7zm56-2zm1 2zm-23 8z"/><path stroke="#ffe42d" d="M833 1154zm28 0zm19 1zm-46 8zm0 1zm42-2zm-6 15zm36-2zm-93 7zm24 0zm5 6zm6 2zm18-8zm3 4zm8 1zm16-5zm20 8zm-106 14zm20-5zm40 1zm19-1zm25 4zm-110 10zm25-8zm10 8zm11-8zm66 7zm-111 16zm-4 10zm10-9zm39-1zm71 10zm7-5zm-146 14zm68 4zm39 0zm35-3zm-82 5zm7 3zm22 7zm19-1zm2-6zm-51 15zm9-4zm21-2zm5 10zm15-7zm12 3zm-119 16zm60-5zm2-5zm23 1zm-49 21zm1-6zm31 1zm4-3zm24 3zm66-1zm-163 9zm22 9zm31-1zm55-9zm54 3zm-166 20zm10-1zm33-8zm9 9zm78-4zm13 4zm-153 1zm3 4zm22-4zm19 8zm38-8zm8 6zm22-1zm34 4zm2 1zm3-8zm-129 16zm35-6zm28 6zm42 0zm13-4zm-85 19zm20-1zm3-4zm5 4zm84 1zm17 2zm-155 10zm20 2zm48-4zm9 1zm1-8zm16 5zm40 2zm-147 15zm49-9zm20 9zm6-3zm6-6zm39 5zm24 1zm-16 12zm-121 5zm96 6zm33-6zm-116 19zm58-3zm0 6zm24 0zm22-3zm8 0zm1-1zm-70 13zm20-7zm-23 12zm28 4z"/><path stroke="#7cffb0" d="M873 1149zm5-4zm-32 19zm56 2zm-79 7zm29 2zm21 13zm21-4zm-96 12zm26 19zm17-6zm17 17zm46 0zm-107 9zm77 1zm35-3zm-67 17zm1 0zm36 1zm6-3zm27-5zm-136 16zm87 2zm50 1zm14-5zm-139 16zm54-5zm19 5zm60-7zm-127 18zm2 16zm-1 6zm11-1zm51 0zm61 6zm-75 9zm-85 10zm122 5zm-115 6zm68 6zm74-9zm7-1zm4 11zm0-11zm-108 11zm11 7zm10-3zm53 1zm15-4zm23 9zm16 1zm11 1zm-125 6zm15 1zm7 2zm1-7zm4 6zm42-1zm-86 7zm7-1zm0 8zm23-5zm41 6zm47-9zm-121 13zm1 10zm30-8zm21 4zm-64 6zm21 5zm87 4zm11 1zm13 0zm-105 4zm11 2zm20-2zm46 5zm26-8zm-105 18zm50 0zm9 15zm6-1zm5 8zm-27 31zm-5 2z"/><path stroke="#2d2de4" d="M806 1179zm84-6zm-71 25zm63 30zm18 6zm-1 36zm-134 34zm159 3zm22-4zm-187 23zm11-1zm147 2zm21 1zm15 1zm-44 19zm-35 2zm38 1zm25-1zm-82 13zm96-1zm-86 13zm6 5zm20-2zm-60 17zm55 1zm35-10zm-109 19zm112-1zm-123 10zm20 2zm5 0zm29 1zm4-4zm37-1zm27-3zm-71 14zm31 8zm2-4zm21 6z"/><path stroke="#2d2de4" d="M873 1144zm-20 11zm33 9zm-8 16zm-34 75zm61 37zm-27 18zm-57 4zm71 2zm24 5zm-29 10zm33-2zm8-4zm17 0zm-142 25zm-10 14zm25 1zm82 4zm-3 9zm6 3zm23 0zm17 0zm-113 11zm17-5zm68 5zm-97 6zm5 5zm1 3zm10-9zm17 6zm19 5zm11-10zm15 6zm-83 11zm93-2zm11 1zm-71 8zm14 10zm19 20z"/><path stroke="#b02d2d" d="M861 1151zm11-4zm-25 14zm19 0zm13 12zm27-2zm-70 20zm2-5zm36 5zm24-7zm-87 15zm29 5zm48 0zm-90 3zm67 5zm26 4zm12-4zm10 2zm-46 10zm15-3zm20 12zm-102 23zm56 7zm22-5zm7 1zm7-5zm37 7zm-157 11zm28 2zm8-4zm55 2zm54-1zm1 2zm-123 12zm23 3zm48-6zm71 5zm-165 5zm123 0zm-106 12zm22-3zm0 0zm55 10zm1-9zm9 3zm-51 15zm50-4zm3-3zm-118 14zm4 3zm16 1zm149-1zm7 2zm-130 11zm21-7zm5 8zm7 4zm103-7zm-170 17zm92-6zm66-3zm-20 17zm-134 7zm49 2zm25 37zm29 5zm-39 7zm14 6z"/><path stroke="#e4ff48" d="M864 1139zm6 5zm-11 5zm22 5zm4-2zm-40 12zm5-5zm-37 21zm8-6zm2 1zm23-6zm58 1zm-96 22zm43-1zm7-4zm2-2zm13 2zm18-1zm5 5zm0-11zm4 2zm-97 14zm70 1zm8 3zm22-4zm8 5zm-101 9zm27-5zm19 3zm18-2zm16-1zm5 7zm-74 9zm20 5zm12-8zm49 10zm-70 8zm81-5zm5 7zm2-9zm2 6zm12 2zm-9 14zm-139 4zm8-3zm11 12zm53-10zm-60 16zm31 6zm7-2zm14 0zm2 1zm22-5zm29-3zm14 4zm-148 6zm14 9zm13-3zm46 3zm35-2zm16-1zm47 3zm-178 4zm20 0zm27 0zm72 3zm0 4zm0 3zm6-11zm5 6zm9-5zm14 10zm15-7zm-136 12zm27 1zm10 4zm3-5zm3-2zm19 1zm30 0zm11 0zm52 5zm-144 6zm10 8zm47 0zm53-8zm10-1zm19-1zm-123 21zm21 1zm54-1zm15-6zm18 7zm16-9zm-181 17zm19-6zm11 4zm3 6zm31-2zm16-5zm8 5zm70-6zm18 8zm-157 12zm17-5zm18 6zm19-3zm28-5zm12-2zm60 0zm-114 15zm12-1zm46 8zm55-7zm2-1zm-159 13zm61 7zm11-2zm78-7zm-103 15zm3-2zm25-1zm44-1zm12 7zm-93 13zm4 1zm45-2zm-10 10zm40-3zm14 6zm5-3zm-90 17zm35-8zm32 6zm16-1zm-85 7zm2-1zm25 7zm25-2z"/><path stroke="#e42d2d" d="M845 1151zm20 3zm-39 9zm48 5zm15-6zm-78 15zm20-4zm22 6zm2-6zm6 6zm18-7zm15-2zm4 4zm4 2zm6 1zm-111 13zm6-4zm5-3zm15 4zm3-1zm23-5zm9 2zm19 1zm22 6zm7-4zm-69 14zm13-4zm14-2zm20 0zm3 3zm1 3zm-66 14zm24-3zm28-3zm2-2zm8 6zm0-6zm19 2zm3 1zm-96 19zm19-2zm19 2zm72-5zm3-4zm5 8zm-131 4zm14-2zm39 1zm39 2zm29 7zm0-5zm-124 15zm8-8zm39 9zm1-8zm2 10zm37-1zm11-2zm34-5zm-99 9zm14 6zm51 3zm5-5zm23 2zm2-2zm0-3zm-143 13zm15 1zm9-2zm17 9zm7-2zm15-1zm36-2zm16 2zm-131 12zm12-7zm2 2zm13 9zm11-6zm19 0zm6 0zm84 4zm8-4zm1-5zm3 5zm5 1zm-165 8zm23-2zm28 1zm58 0zm56 8zm20-3zm-139 17zm9-4zm0 3zm1-8zm7 4zm44-1zm24 4zm75-3zm-150 6zm16 3zm1 3zm1-3zm50 6zm11-8zm20 6zm1 4zm3-8zm-92 19zm29-9zm74-2zm9 5zm-110 19zm68-4zm0-7zm48 7zm-178 13zm33-5zm16 4zm87-4zm22 1zm9 3zm-159 15zm36 0zm105-2zm24-4zm-155 10zm20 8zm15-5zm15 6zm34-5zm29 2zm8-7zm-125 19zm68-8zm8 9zm45-8zm12 5zm-132 8zm12 3zm96 6zm-24 2zm32 2zm-36 22z"/><path stroke="#ff482d" d="M856 1146zm17 7zm-63 13zm9-6zm14 3zm8 5zm6 0zm3-1zm4 0zm1 1zm3-10zm12 6zm2-5zm13 8zm-54 12zm2-10zm16 8zm35 1zm5 2zm16-7zm-97 17zm7-6zm4-2zm26 2zm5 3zm7-3zm33 4zm11 1zm6-2zm-32 13zm4 4zm-55 8zm21 0zm16 3zm2-4zm7-4zm33 7zm2-3zm-109 15zm49 1zm20-1zm16-5zm17 1zm0-1zm1-3zm8 0zm24 9zm2 0zm-73 13zm7-3zm18 0zm35-7zm5 7zm-133 12zm21-8zm22 2zm17 4zm1-1zm3-5zm1 7zm19 1zm2 1zm6-1zm56-7zm-154 18zm44 1zm25 2zm38-8zm7 6zm8 3zm-107 12zm46-9zm2 5zm16 2zm7-5zm34-2zm30 2zm-161 18zm4-8zm32 6zm46-3zm5 4zm17-9zm21 10zm29 1zm-136 7zm12-2zm18 1zm16-5zm16 10zm1-9zm1 4zm4 2zm1-5zm12 8zm10-7zm17-1zm15 1zm3 7zm29-5zm-125 10zm10 1zm102 5zm11-6zm-179 20zm11-9zm15 2zm1-4zm20 1zm45 1zm33 3zm11 3zm8-1zm10 0zm24-3zm-153 13zm20 6zm33-2zm7-6zm50 4zm16 2zm10-5zm13-5zm-145 22zm43 1zm31-5zm9 0zm34 4zm-105 13zm4 0zm6-2zm70-5zm16 5zm-115 15zm7-5zm9-6zm2 10zm7-3zm27-4zm5 7zm61-1zm-124 8zm12 5zm70-11zm10 6zm-46 18zm40-9zm57 5zm3 3z"/><path stroke="#ffb02d" d="M830 1153zm30-4zm28 5zm-53 5zm30 1zm9 6zm23-2zm-83 14zm3 1zm23-4zm5 1zm9 0zm-46 7zm25 5zm42-2zm23-3zm-85 17zm11 2zm20-2zm9 2zm42-8zm8 5zm-99 13zm1 1zm37 1zm11 0zm21 2zm-75 0zm0 11zm1 0zm5 0zm30-7zm29 4zm37-3zm3 5zm13-6zm-116 9zm26 6zm47 2zm9-6zm2 4zm1 4zm17-8zm9 9zm-118 4zm60-2zm5-1zm2 11zm42-3zm25-5zm-147 13zm2 2zm2 2zm1-6zm2 1zm2 7zm4-7zm6 8zm2-11zm2 3zm12-4zm28 10zm38-3zm-78 6zm67 1zm8 1zm41 7zm4-6zm0 7zm-164 13zm9-2zm7-8zm11 0zm16 1zm15-2zm25 3zm5 6zm1-7zm46-2zm13 6zm21 3zm3-3zm-124 8zm20 6zm6-6zm2 3zm23 6zm28-3zm4 2zm-105 12zm13-9zm17 8zm41 0zm7-4zm27 2zm-109 9zm52 3zm4-3zm7 6zm23-4zm13-5zm5 8zm24-9zm39 9zm-154 12zm35 0zm5 0zm20-7zm6 7zm18-3zm52-3zm4 7zm-164 2zm27 5zm21-2zm16 3zm9-2zm38 0zm10 7zm24 0zm16-7zm9 1zm8 1zm-128 6zm23 6zm1 0zm29 0zm6 4zm26-10zm6 7zm3-3zm-44 12zm44 3zm7 0zm24-3zm-153 8zm34 7zm4 2zm12-6zm104 3zm-162 6zm4 0zm58 0zm24 9zm-56 21zm71 3zm-14 6z"/><path stroke="#2db0ff" d="M830 1173zm28 26zm-61 34zm21 5zm49 18zm46-1zm-35 43zm3 1zm-107 5zm1 5zm42 14zm111-4zm-88 18zm30 9zm16-5zm22 13zm-48 15zm47 5zm19 9zm-123 2zm22 1zm36 15zm-29 14zm0-6zm2 17zm39 5z"/><path stroke="#7cffb0" d="M832 1156zm7-5zm5 0zm11 5zm16-2zm-2 14zm20-9zm-61 21zm43-7zm14 10zm21-1zm-89 10zm89 8zm-101 12zm16 11zm101-6zm-39 22zm7-3zm-98 13zm92-1zm2 3zm-89 6zm46 4zm65-6zm-100 15zm2 4zm-23 7zm32-3zm27 2zm10 7zm14-5zm34-2zm-74 14zm32-5zm38 3zm32 4zm7-4zm3 1zm-107 11zm-81 19zm7-9zm98 0zm33 9zm0-4zm21 3zm34-1zm-36 14zm1 0zm-115 3zm27 9zm29-6zm12-4zm91 0zm-153 22zm13-2zm1-7zm63 4zm32-1zm7-3zm5 4zm1-3zm-49 19zm16-7zm10 8zm44-4zm-126 15zm29-2zm-45 12zm86-7zm4 10zm17-4zm12-4zm-124 14zm53-2zm18-2zm22 8zm38-8zm-97 18zm13 1zm3-5zm3 1zm16 7zm-32 2zm14 3zm3 5zm37-4zm3 1zm-70 13zm19 3zm46-1zm-30 6zm8 3z"/><path stroke="#ff482d" d="M848 1152zm14-5zm32-2zm-72 19zm2-1zm13 1zm4 2zm1-9zm3 3zm33 4zm25-6zm-95 15zm3 1zm24 1zm3-6zm9 4zm9 4zm23-2zm-73 6zm9 7zm4-3zm49-2zm2 6zm46 3zm-103 5zm9-2zm21 1zm22 0zm4-2zm-63 19zm23-5zm1 1zm9-4zm10 4zm8-2zm26 4zm11-5zm-82 11zm57 11zm38 0zm7-11zm-103 22zm37 0zm4 1zm10-10zm17-1zm9 10zm1-4zm-92 16zm57-8zm36 0zm43 7zm5-7zm-156 14zm36 0zm28 3zm10 4zm9-5zm-15 14zm26-1zm27-5zm6 0zm11-1zm4 0zm-103 16zm13 3zm53 1zm13-6zm27 5zm4-8zm-157 19zm33-1zm22 5zm15-2zm27-8zm31 0zm7-1zm21 9zm10-9zm-18 12zm-148 22zm3 1zm3-8zm17-1zm10 4zm5-1zm14 5zm2-10zm13 10zm2-10zm21 8zm4-3zm3 1zm10 4zm3-5zm38-2zm7 5zm18-6zm-151 21zm8-8zm3 7zm9-6zm18 7zm23-3zm19 0zm-110 11zm78 3zm8-5zm14-1zm4 4zm35 1zm2-4zm2-2zm14 4zm-86 13zm93-2zm0 1zm-23 14zm-19 11zm3-3zm-23 35zm36 4zm8 0zm-104 5zm62 1z"/><path stroke="#ff7c2d" d="M879 1147zm-40 14zm19 5zm2-8zm31 2zm-66 18zm4-1zm9-2zm5 5zm10-5zm26 4zm31-9zm-75 14zm14 6zm33-4zm1-3zm0 9zm25-2zm3-3zm-91 15zm8 2zm4-7zm1-5zm63 6zm10 1zm-110 7zm14 1zm65 9zm3 0zm20-3zm24-3zm3 1zm-117 8zm5 6zm1-8zm20 7zm5-6zm3 7zm22 1zm14-1zm1 1zm34-4zm-78 7zm8 0zm20 11zm54 0zm0-7zm-129 13zm10 0zm45 0zm14 1zm23 0zm3-1zm35-1zm0 7zm-143 3zm15-2zm5 8zm0-8zm11 1zm19 7zm48 1zm24-6zm29-2zm8 7zm-150 4zm51 4zm4-4zm22 10zm7-1zm13-5zm13-4zm10 8zm4-5zm-138 19zm7-8zm25 4zm20-2zm5 3zm1-7zm14 11zm20-1zm3-9zm4 9zm2-2zm5-5zm21 4zm1-3zm6-4zm15 11zm5 0zm22 0zm-169 11zm7-4zm114-3zm27-1zm-125 12zm20 9zm23-3zm6 1zm2-6zm3-2zm7-1zm9 10zm8 0zm16 1zm13-10zm24 10zm-136 4zm2 6zm24-3zm97-2zm-158 11zm22-2zm10 1zm36-3zm18 5zm13 3zm9 4zm45-8zm-132 13zm8-2zm48 0zm15-1zm18 10zm70-11zm-166 16zm19-4zm2 3zm25-2zm11 9zm18-2zm47-5zm-27 16zm5-1zm74 4zm-127 2zm18 4zm5 3zm6-7zm14 2zm6 3zm16 1zm-55 8zm30 5zm18 0zm56-2zm-127 17zm57-6zm-1 23zm19 0zm-11 13zm-4 8zm10 8z"/><path stroke="#2d7cff" d="M847 1168zm-26 2zm29 3zm-40 30zm-17 23zm64-7zm62 3zm-7 34zm-107 19zm116-9zm-154 45zm127-3zm-89 16zm46-1zm55 7zm-40 20zm-11 21zm-44 11zm1-6zm0-1zm119 15zm-126 7zm1 9zm31-3zm52 5zm2-1zm15 3zm-20 22zm-61 7zm28-4zm25 2zm31-4z"/><path stroke="#2d2db0" d="M812 1207zm-10 20zm34 36zm-6 40zm46 4zm38 7zm-92 21zm88 1zm24-6zm-10 10zm16 3zm15-5zm-90 11zm34 19zm5-5zm-20 16zm-71 8zm18 3zm82 2zm-84 4zm47 12zm50-9zm-70 12zm0 1zm29-2zm-77 17zm21 11zm23 1zm2 11zm5-5zm15 12z"/><path stroke="#2d2db0" d="M874 1162zm2 25zm5 0zm-51 51zm-43 71zm8-2zm-24 11zm142-3zm-38 29zm-88 16zm11 14zm30 6zm6 1zm34-1zm37-3zm14 5zm-115 6zm-6 19zm17-7zm14 4zm97-2zm-33 12zm7 1zm2-3zm1 0zm-85 10zm14 0zm47 6zm-8 29z"/><path stroke="#2de4ff" d="M852 1150zm-31 32zm7 12zm25 15zm9 14zm61 2zm-30 10zm-122 39zm29-6zm136 20zm-149 7zm50 2zm43 2zm-71 9zm28-5zm3 5zm-29 15zm1-5zm124 17zm-86 3zm26 2zm10-1zm31 3zm32 1zm3-4zm-165 19zm10-8zm131 8zm2-3zm-153 8zm72 5zm6 0zm-51 11zm38-1zm3 0zm19 3zm33 14zm-15 7zm6 6zm7-1zm-82 2zm56 5zm13-5zm11 3z"/><path stroke="#7cffb0" d="M846 1154zm31-2zm20-7zm-71 22zm33-5zm-9 8zm34 1zm-11 11zm31-1zm-28 22zm19-8zm8-2zm2 4zm4-1zm9 4zm-98 12zm0 0zm-22 16zm20-11zm5 8zm27 3zm12-8zm-57 24zm42-3zm-41 18zm-7 13zm8 14zm72-7zm3 1zm-102 25zm56-1zm86 3zm7 3zm-144 10zm47-6zm-58 15zm49 5zm1-1zm-60 6zm109 6zm22 0zm0-5zm-125 15zm15-3zm24 4zm1-6zm0-1zm42 3zm-17 17zm12-8zm1 10zm20-9zm80 0zm-169 14zm32 0zm30 4zm40-5zm-54 16zm13 2zm51 0zm-65 9zm7 1zm7-5zm75 10zm-46 9zm24-3zm11 0zm21-4zm1 1zm-99 11zm23 1zm29 4zm10-3zm30 0zm-63 16zm29 3zm-19 3z"/><path stroke="#48ffe4" d="M884 1156zm-33 1zm15 7zm-20 7zm-47 20zm6 0zm110-2zm-22 12zm11 2zm11-5zm4 17zm-81 9zm4 0zm28 3zm30 1zm-41 2zm10 1zm-75 21zm121-7zm6 1zm18-1zm-164 19zm82-3zm8 3zm12-7zm37 1zm-60 14zm53-5zm14 2zm2 3zm6-5zm-156 22zm22 7zm4 4zm30-5zm14 5zm21-4zm51 2zm22 1zm-59 6zm30-3zm-75 15zm6 3zm20 0zm34-1zm4-6zm40 1zm-120 18zm40 4zm56-6zm-149 7zm39 10zm100-10zm-135 23zm73-7zm28 0zm5-2zm21 7zm42-1zm17-4zm-169 10zm36 7zm60-4zm38 0zm11 1zm2 5zm13-3zm5-6zm-158 16zm4 1zm26-3zm116-4zm3 7zm-136 11zm4 1zm53 2zm16 1zm11 0zm-71 8zm66-3zm2 8zm17-9zm-107 13zm13 1zm35-1zm42 4zm1 2zm22-8zm3 6zm10-1zm-76 10zm21 3zm15-4zm-59 14zm2-2zm23 5zm29 10z"/></g></g><polygon fill="none" stroke="#8a8aff" stroke-width="1.3" stroke-linejoin="round" points="377.6,633.1 444.2,726.9 439.0,738.1 399.2,719.1 375.0,664.6"/><rect x="494.7" y="557.2" width="3.3" height="198.8" fill="url(#jet)" stroke="#8a8a9a" stroke-width="0.4"/><text x="461.2" y="581.3" font-size="7.0" fill="#111">CD56 dim</text><text x="374.2" y="734.5" font-size="7.0" fill="#111">CD56 bright</text><text x="498.5" y="559.7" font-size="3.5" fill="#555">0.8</text><text x="498.5" y="608.9" font-size="3.5" fill="#555">0.5</text><text x="498.5" y="658.1" font-size="3.5" fill="#555">0.2</text><text x="498.5" y="707.3" font-size="3.5" fill="#555">-0.1</text><text x="498.5" y="756.5" font-size="3.5" fill="#555">-0.4</text><path d="M1 1H519V767H1Z" fill="none" stroke="#000" stroke-width="2"/></svg></body></html>
